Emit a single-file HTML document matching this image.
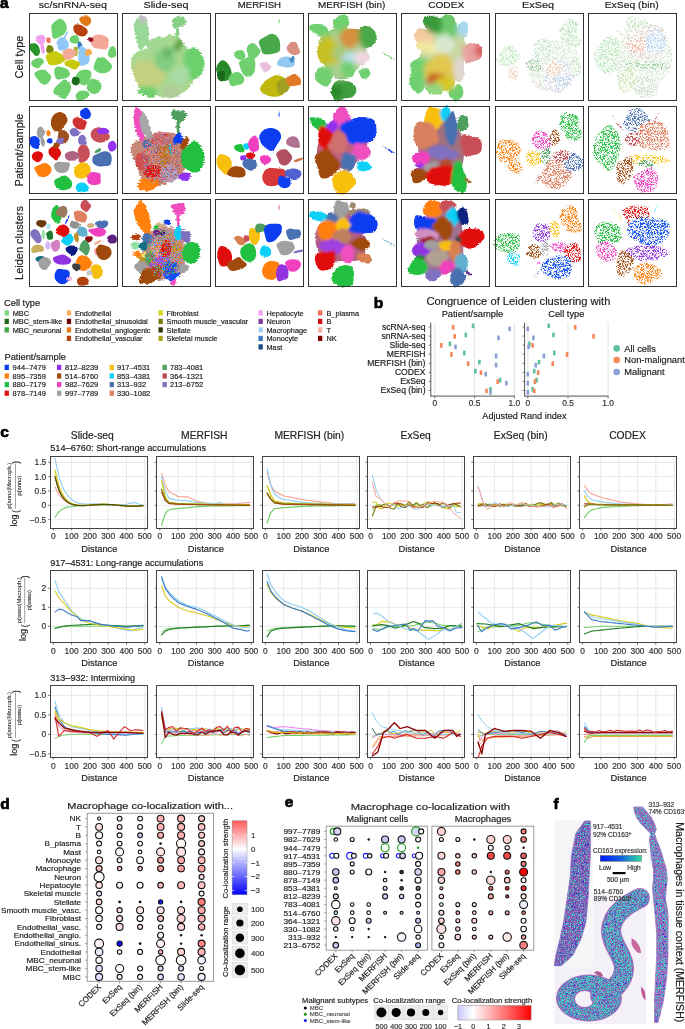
<!DOCTYPE html>
<html><head><meta charset="utf-8"><title>Figure</title>
<style>html,body{margin:0;padding:0;background:#fff;width:685px;height:1029px;overflow:hidden}svg{display:block;will-change:transform}text{font-family:"Liberation Sans", sans-serif}</style></head>
<body><svg width="685" height="1029" viewBox="0 0 685 1029" font-family="Liberation Sans, sans-serif">
<rect width="685" height="1029" fill="#fff"/>
<text x="0.0" y="7.9" font-size="15.5" font-weight="bold" fill="#000" stroke="#000" stroke-width="0.7">a</text>
<text x="72.8" y="8.2" font-size="9.8" text-anchor="middle" textLength="68" lengthAdjust="spacingAndGlyphs" fill="#222" stroke="#222" stroke-width="0.18">sc/snRNA-seq</text>
<text x="166.0" y="8.2" font-size="9.8" text-anchor="middle" textLength="45" lengthAdjust="spacingAndGlyphs" fill="#222" stroke="#222" stroke-width="0.18">Slide-seq</text>
<text x="259.4" y="8.2" font-size="9.8" text-anchor="middle" textLength="43.4" lengthAdjust="spacingAndGlyphs" fill="#222" stroke="#222" stroke-width="0.18">MERFISH</text>
<text x="351.7" y="8.2" font-size="9.8" text-anchor="middle" textLength="67.4" lengthAdjust="spacingAndGlyphs" fill="#222" stroke="#222" stroke-width="0.18">MERFISH (bin)</text>
<text x="446.2" y="8.2" font-size="9.8" text-anchor="middle" textLength="36" lengthAdjust="spacingAndGlyphs" fill="#222" stroke="#222" stroke-width="0.18">CODEX</text>
<text x="538.0" y="8.2" font-size="9.8" text-anchor="middle" textLength="32" lengthAdjust="spacingAndGlyphs" fill="#222" stroke="#222" stroke-width="0.18">ExSeq</text>
<text x="631.7" y="8.2" font-size="9.8" text-anchor="middle" textLength="54" lengthAdjust="spacingAndGlyphs" fill="#222" stroke="#222" stroke-width="0.18">ExSeq (bin)</text>
<text x="23.3" y="57.0" font-size="11" text-anchor="middle" textLength="42.8" lengthAdjust="spacingAndGlyphs" transform="rotate(-90 23.3 57.0)" fill="#222" stroke="#222" stroke-width="0.18">Cell type</text>
<text x="23.3" y="150.0" font-size="11" text-anchor="middle" textLength="72.8" lengthAdjust="spacingAndGlyphs" transform="rotate(-90 23.3 150.0)" fill="#222" stroke="#222" stroke-width="0.18">Patient/sample</text>
<text x="23.3" y="243.0" font-size="11" text-anchor="middle" textLength="74.0" lengthAdjust="spacingAndGlyphs" transform="rotate(-90 23.3 243.0)" fill="#222" stroke="#222" stroke-width="0.18">Leiden clusters</text>
<defs><filter id="rough" x="-5%" y="-5%" width="110%" height="110%"><feTurbulence type="fractalNoise" baseFrequency="0.45" numOctaves="2" seed="3" result="n"/><feDisplacementMap in="SourceGraphic" in2="n" scale="2.0" xChannelSelector="R" yChannelSelector="G"/></filter><filter id="soft" x="-5%" y="-5%" width="110%" height="110%"><feTurbulence type="fractalNoise" baseFrequency="0.5" numOctaves="2" seed="5" result="n"/><feDisplacementMap in="SourceGraphic" in2="n" scale="3.0" xChannelSelector="R" yChannelSelector="G" result="d"/><feGaussianBlur in="d" stdDeviation="0.5"/></filter><filter id="speck" x="-5%" y="-5%" width="110%" height="110%"><feTurbulence type="fractalNoise" baseFrequency="0.4" numOctaves="2" seed="4" result="n2"/><feDisplacementMap in="SourceGraphic" in2="n2" scale="3" xChannelSelector="R" yChannelSelector="G" result="d"/><feTurbulence type="fractalNoise" baseFrequency="1.7" numOctaves="1" seed="9" result="n"/><feColorMatrix in="n" type="matrix" values="0 0 0 0 0  0 0 0 0 0  0 0 0 0 0  0 0 0 -8 4.3" result="m"/><feComposite in="d" in2="m" operator="in"/></filter><filter id="spiky" x="-5%" y="-5%" width="110%" height="110%"><feTurbulence type="fractalNoise" baseFrequency="0.25 0.9" numOctaves="2" seed="7" result="n"/><feDisplacementMap in="SourceGraphic" in2="n" scale="4.5" xChannelSelector="R" yChannelSelector="G" result="d"/><feGaussianBlur in="d" stdDeviation="0.35"/></filter><filter id="blend" x="-5%" y="-5%" width="110%" height="110%"><feTurbulence type="fractalNoise" baseFrequency="0.45" numOctaves="2" seed="5" result="n"/><feDisplacementMap in="SourceGraphic" in2="n" scale="3" xChannelSelector="R" yChannelSelector="G" result="d"/><feGaussianBlur in="d" stdDeviation="2.6" result="b"/><feColorMatrix in="b" type="matrix" values="1 0 0 0 0  0 1 0 0 0  0 0 1 0 0  0 0 0 30 0" result="b2"/><feComposite in="b2" in2="d" operator="in"/></filter><filter id="sblend" x="-5%" y="-5%" width="110%" height="110%"><feTurbulence type="fractalNoise" baseFrequency="0.25 0.9" numOctaves="2" seed="7" result="n"/><feDisplacementMap in="SourceGraphic" in2="n" scale="4.5" xChannelSelector="R" yChannelSelector="G" result="d"/><feGaussianBlur in="d" stdDeviation="2.0" result="b"/><feColorMatrix in="b" type="matrix" values="1 0 0 0 0  0 1 0 0 0  0 0 1 0 0  0 0 0 30 0" result="b2"/><feComposite in="b2" in2="d" operator="in"/></filter><filter id="blend2" x="-5%" y="-5%" width="110%" height="110%"><feTurbulence type="fractalNoise" baseFrequency="0.45" numOctaves="2" seed="5" result="n"/><feDisplacementMap in="SourceGraphic" in2="n" scale="3" xChannelSelector="R" yChannelSelector="G" result="d"/><feGaussianBlur in="d" stdDeviation="1.1" result="b"/><feColorMatrix in="b" type="matrix" values="1 0 0 0 0  0 1 0 0 0  0 0 1 0 0  0 0 0 30 0" result="b2"/><feComposite in="b2" in2="d" operator="in"/></filter><filter id="mk0" x="-5%" y="-5%" width="110%" height="110%"><feTurbulence type="fractalNoise" baseFrequency="1.6" numOctaves="1" seed="40" result="n"/><feColorMatrix in="n" type="matrix" values="0 0 0 0 0  0 0 0 0 0  0 0 0 0 0  0 0 0 -9 3.9" result="m"/><feComposite in="SourceGraphic" in2="m" operator="in"/></filter><filter id="mk1" x="-5%" y="-5%" width="110%" height="110%"><feTurbulence type="fractalNoise" baseFrequency="1.6" numOctaves="1" seed="41" result="n"/><feColorMatrix in="n" type="matrix" values="0 0 0 0 0  0 0 0 0 0  0 0 0 0 0  0 0 0 -9 3.9" result="m"/><feComposite in="SourceGraphic" in2="m" operator="in"/></filter><filter id="mk2" x="-5%" y="-5%" width="110%" height="110%"><feTurbulence type="fractalNoise" baseFrequency="1.6" numOctaves="1" seed="42" result="n"/><feColorMatrix in="n" type="matrix" values="0 0 0 0 0  0 0 0 0 0  0 0 0 0 0  0 0 0 -9 3.7" result="m"/><feComposite in="SourceGraphic" in2="m" operator="in"/></filter><filter id="mk3" x="-5%" y="-5%" width="110%" height="110%"><feTurbulence type="fractalNoise" baseFrequency="1.6" numOctaves="1" seed="43" result="n"/><feColorMatrix in="n" type="matrix" values="0 0 0 0 0  0 0 0 0 0  0 0 0 0 0  0 0 0 -9 3.7" result="m"/><feComposite in="SourceGraphic" in2="m" operator="in"/></filter><filter id="mk4" x="-5%" y="-5%" width="110%" height="110%"><feTurbulence type="fractalNoise" baseFrequency="1.6" numOctaves="1" seed="44" result="n"/><feColorMatrix in="n" type="matrix" values="0 0 0 0 0  0 0 0 0 0  0 0 0 0 0  0 0 0 -9 3.6" result="m"/><feComposite in="SourceGraphic" in2="m" operator="in"/></filter></defs>
<g filter="url(#rough)" transform="translate(29 13.5)">
<path d="M37.5,11.8Q38.4,14.9 37.1,17.7Q35.8,20.4 33.5,21.7Q31.2,23 27.5,24.7Q23.8,26.4 23.2,22.1Q22.7,17.8 22.3,14.8Q22,11.8 24,9.7Q26,7.5 28.8,5.9Q31.6,4.2 34.1,6.5Q36.6,8.8 37.5,11.8Z" fill="#6cd06c"/>
<path d="M61.8,5.3Q62.8,7.1 61.9,9.1Q60.9,11 59.2,12.1Q57.5,13.2 55.9,12.3Q54.2,11.4 52.7,10.3Q51.3,9.2 50.4,6.8Q49.6,4.5 51.8,3.5Q53.9,2.4 55.7,2Q57.5,1.5 59.1,2.5Q60.7,3.4 61.8,5.3Z" fill="#e07818"/>
<path d="M58.7,17.6Q58.9,19.6 57.6,21.2Q56.3,22.9 53.5,22.9Q50.7,23 48.3,21.5Q45.9,20 45.1,18.1Q44.2,16.2 44.3,14.1Q44.3,12.1 46.6,11.1Q48.9,10.1 51.5,11.5Q54.1,12.8 56.3,14.2Q58.5,15.6 58.7,17.6Z" fill="#b8400a"/>
<path d="M79.7,27.4Q79.3,30.1 79.2,33.1Q79,36.1 75.1,35.9Q71.2,35.7 67.9,35Q64.6,34.4 62.8,31.9Q61.1,29.5 61.5,26.9Q61.9,24.3 64.3,22.4Q66.7,20.5 70.3,21Q73.8,21.4 77,23.1Q80.1,24.7 79.7,27.4Z" fill="#f4a898"/>
<path d="M64.2,25.3Q64.3,26 64.3,26.8Q64.4,27.6 63.3,27.9Q62.3,28.3 61.1,28.2Q59.9,28.2 59.8,27.4Q59.7,26.5 59.2,25.9Q58.7,25.2 59.2,24.4Q59.8,23.6 61,23.8Q62.2,24 63.1,24.3Q64.1,24.5 64.2,25.3Z" fill="#901020"/>
<path d="M87,37.3Q87.2,39 87.3,40.9Q87.4,42.9 85.7,43.6Q84,44.4 82.2,44.3Q80.4,44.2 79.4,42.5Q78.5,40.8 78.8,39.1Q79.2,37.4 80,36Q80.8,34.5 82.6,33.2Q84.3,31.8 85.6,33.7Q86.8,35.6 87,37.3Z" fill="#6cd06c"/>
<path d="M15.9,24Q16.4,26 15.9,27.9Q15.4,29.9 13.9,30.6Q12.5,31.4 11,31Q9.6,30.6 8.5,29.3Q7.5,27.9 6.9,25.7Q6.2,23.5 8,22.6Q9.7,21.6 11,21.4Q12.4,21.2 13.9,21.6Q15.5,22 15.9,24Z" fill="#f0a0f0"/>
<path d="M15,33Q15.5,34.8 15.7,37Q16,39.2 15.3,39.7Q14.7,40.2 14,40.2Q13.4,40.1 12.7,38.7Q12.1,37.3 11.7,35.2Q11.3,33.2 11.6,31.7Q12,30.2 12.6,29.6Q13.2,29.1 13.9,30.2Q14.6,31.3 15,33Z" fill="#f0a0f0"/>
<path d="M21.7,25.4Q21.8,26.6 21.5,27.5Q21.1,28.5 20.5,29.3Q19.9,30.1 19.2,29.6Q18.5,29.1 17.8,28.4Q17.2,27.8 17.3,26.7Q17.4,25.6 17.8,24.6Q18.2,23.6 19,23.9Q19.8,24.2 20.7,24.2Q21.6,24.2 21.7,25.4Z" fill="#f07060"/>
<path d="M8.8,31.6Q10.3,33.7 10.8,36Q11.2,38.4 10.5,40.2Q9.7,42 8,42.5Q6.3,43 4.9,41Q3.4,39 1.7,37.2Q-0,35.4 0,32.8Q0,30.2 2,30Q3.9,29.8 5.6,29.7Q7.3,29.6 8.8,31.6Z" fill="#2a962a"/>
<path d="M39.2,28.6Q40.1,30.5 39.7,32.8Q39.3,35.1 37.1,36Q34.9,36.8 32.3,37.1Q29.8,37.5 29.2,34.9Q28.7,32.4 28,30.3Q27.4,28.2 28.7,26.2Q30.1,24.1 32.6,23.8Q35,23.4 36.7,25.1Q38.3,26.7 39.2,28.6Z" fill="#90c8f8"/>
<path d="M38.8,19.5Q37.6,21.7 36.9,23.2Q36.2,24.7 35.4,25.8Q34.6,26.9 34.7,26.2Q34.7,25.4 34.9,24.3Q35.1,23.2 36.1,21.3Q37.1,19.4 37.8,18.3Q38.5,17.3 38.9,17.1Q39.3,17 39.6,17.2Q39.9,17.4 38.8,19.5Z" fill="#90c8f8"/>
<path d="M49.8,24.5Q50.2,26 50.2,27.8Q50.3,29.6 48.3,29.9Q46.3,30.1 44.7,29.9Q43.1,29.6 41.7,28.7Q40.3,27.7 40.5,26.1Q40.8,24.5 41.9,23.3Q42.9,22.1 44.7,21.8Q46.4,21.4 47.9,22.2Q49.4,23 49.8,24.5Z" fill="#6cd06c"/>
<path d="M24.3,34.3Q25,35.7 24.5,37.4Q23.9,39 22.6,39.2Q21.3,39.3 20.1,39.5Q19,39.6 17.9,38.6Q16.8,37.5 17.1,35.9Q17.5,34.2 18.1,32.9Q18.8,31.5 20.1,31.6Q21.4,31.7 22.5,32.2Q23.6,32.8 24.3,34.3Z" fill="#7a8a10"/>
<path d="M35.4,43Q38.7,44.8 36.2,47.1Q33.7,49.3 30.7,50.4Q27.7,51.6 23.8,51.8Q20,52.1 18.9,49.5Q17.9,46.9 16.9,44.6Q16,42.3 18.5,40.5Q20.9,38.7 24.4,37.9Q27.9,37.2 30,39.2Q32.1,41.3 35.4,43Z" fill="#c8c810"/>
<path d="M48.7,35.7Q48.6,37.7 48.6,39.4Q48.6,41.2 47.9,42.1Q47.2,42.9 46.4,42.5Q45.7,42 45.2,40.7Q44.8,39.3 44.6,37.5Q44.4,35.8 45,34.4Q45.6,33 46.3,33.2Q47.1,33.3 48,33.5Q48.9,33.7 48.7,35.7Z" fill="#a8b020"/>
<path d="M46.1,36.3Q48.3,37.4 47.6,39.6Q46.8,41.9 45,43.4Q43.2,44.9 40.9,45.8Q38.5,46.6 36.4,45.7Q34.2,44.7 33.7,42.7Q33.1,40.7 33.9,38.6Q34.7,36.4 37.1,35.6Q39.5,34.8 41.7,35Q43.9,35.2 46.1,36.3Z" fill="#f4a898"/>
<path d="M52.9,30.8Q53.6,31.8 53,33Q52.5,34.1 51.8,34.7Q51.1,35.3 50.1,35.5Q49.1,35.7 48.8,34.4Q48.5,33 48.5,31.8Q48.5,30.7 48.9,29.5Q49.3,28.3 50.2,28Q51.2,27.6 51.8,28.7Q52.3,29.8 52.9,30.8Z" fill="#3a7ac0"/>
<path d="M59.9,40.1Q60.9,42.9 60.5,46.5Q60.1,50.1 57.8,50.7Q55.5,51.2 53.1,52.3Q50.7,53.3 49.9,49.6Q49.1,46 49.2,42.9Q49.3,39.9 49.8,35.7Q50.4,31.6 53,32.8Q55.6,33.9 57.2,35.6Q58.9,37.3 59.9,40.1Z" fill="#90c8f8"/>
<path d="M62.8,37.8Q63.2,39 62.8,40.2Q62.3,41.4 61.2,41.5Q60,41.7 58.5,42.4Q57,43.2 56.7,41.7Q56.4,40.1 56.2,38.9Q56,37.7 56.9,36.8Q57.7,35.9 59,35.4Q60.2,34.9 61.3,35.7Q62.3,36.6 62.8,37.8Z" fill="#fca850"/>
<path d="M50.6,49Q51.9,50.7 50.5,52.3Q49.1,53.9 47.1,55.4Q45.1,56.8 43,55.3Q41,53.8 38.7,53.1Q36.3,52.5 35.6,50.5Q34.9,48.5 37.2,47.2Q39.5,45.8 42,46.1Q44.6,46.4 46.9,46.9Q49.2,47.4 50.6,49Z" fill="#c8c810"/>
<path d="M14.8,47.5Q15.3,49.4 13.6,50.5Q12,51.7 10.9,53.6Q9.8,55.6 7.5,54.7Q5.2,53.7 3.6,52.5Q1.9,51.2 2.1,49.4Q2.3,47.6 4,46.7Q5.7,45.7 7.7,44.8Q9.7,43.9 12,44.7Q14.3,45.5 14.8,47.5Z" fill="#6cd06c"/>
<path d="M81.6,49.7Q83.9,52 82.5,55Q81.1,58.1 78,59Q74.9,60 71.9,59.7Q68.9,59.4 66.4,57.3Q63.9,55.2 64.9,52.3Q65.9,49.4 67.1,46.5Q68.2,43.6 71.6,43.5Q75,43.3 77.1,45.4Q79.2,47.4 81.6,49.7Z" fill="#6cd06c"/>
<path d="M21.3,61.2Q23.2,63 22,65.3Q20.8,67.6 18.5,70Q16.2,72.3 13.3,70.5Q10.4,68.7 9.3,66.8Q8.2,64.9 6.1,62.4Q4.1,59.9 7,58.2Q9.8,56.5 12.9,56Q15.9,55.5 17.6,57.4Q19.4,59.4 21.3,61.2Z" fill="#6cd06c"/>
<path d="M40.2,57.8Q41.6,59.8 40.7,62.1Q39.9,64.4 36.8,64.8Q33.8,65.3 30.5,65.9Q27.3,66.5 26.5,64Q25.7,61.6 25.2,59.6Q24.7,57.7 25.8,55.2Q27,52.7 30.5,53.2Q33.9,53.6 36.4,54.7Q38.9,55.8 40.2,57.8Z" fill="#6cd06c"/>
<path d="M62.5,60.6Q62.5,63.7 61.1,65.6Q59.7,67.5 58,70.3Q56.4,73.1 53.4,71.6Q50.4,70.2 48,68.4Q45.5,66.6 46.3,63.9Q47,61.2 48.7,59.2Q50.4,57.1 53.3,56.4Q56.1,55.6 59.4,56.6Q62.6,57.6 62.5,60.6Z" fill="#6cd06c"/>
<path d="M50.6,65.9Q50.7,67.6 50.4,69.1Q50.1,70.6 48.9,71.5Q47.6,72.5 46.2,71.8Q44.9,71.1 43.6,70.2Q42.4,69.3 42.6,67.7Q42.9,66.1 43.6,64.6Q44.3,63.1 45.9,63.3Q47.4,63.6 48.9,63.9Q50.4,64.3 50.6,65.9Z" fill="#1a6a1a"/>
<path d="M72,70.3Q73.2,72.8 72.1,75.3Q71,77.8 68.7,79.5Q66.4,81.1 63.7,80.3Q61,79.6 59.2,77.5Q57.5,75.5 57.8,72.9Q58.2,70.3 59.4,67.8Q60.6,65.2 63.4,65.3Q66.3,65.4 68.5,66.7Q70.7,67.9 72,70.3Z" fill="#6cd06c"/>
<path d="M42,73Q42.7,76 41.1,78.3Q39.5,80.5 37.7,83.7Q35.8,86.8 32.7,84.7Q29.7,82.7 26.5,81.1Q23.4,79.6 24.7,76.5Q26,73.3 28.1,71.8Q30.2,70.2 33.1,67.3Q35.9,64.5 38.6,67.3Q41.3,70 42,73Z" fill="#6cd06c"/>
<path d="M60.3,80Q61,81.9 59.4,83.2Q57.9,84.5 56.2,85.6Q54.5,86.7 51.5,87.1Q48.6,87.5 47.4,85.6Q46.3,83.6 46.7,82Q47.2,80.3 48.4,78.9Q49.6,77.5 52.1,77.2Q54.5,76.9 57.1,77.5Q59.7,78.1 60.3,80Z" fill="#6cd06c"/>
</g>
<g filter="url(#sblend)" transform="translate(122.2 13.5)">
<path d="M71.4,44.3Q76.4,54.6 72.1,65.5Q67.8,76.5 57.9,80.5Q47.9,84.5 37.8,83.3Q27.6,82.2 19.8,74.3Q12,66.3 9.3,53.5Q6.6,40.7 18.8,36.9Q31,33 40.1,25Q49.2,17.1 57.8,25.5Q66.3,34 71.4,44.3Z" fill="#a8d890"/>
<path d="M25.5,9.8Q27.1,17.1 26.8,23.3Q26.5,29.5 24.4,30.7Q22.3,31.9 20.1,36.2Q17.9,40.4 16.1,32.8Q14.2,25.1 12.5,18.4Q10.9,11.8 12.8,8.5Q14.8,5.2 16.5,2.9Q18.2,0.7 21.1,1.6Q23.9,2.5 25.5,9.8Z" fill="#98d898"/>
<path d="M22.6,3.6Q22.7,5.7 22.6,7.2Q22.5,8.8 22,9.8Q21.6,10.8 20.8,11.1Q20,11.4 19.5,9.6Q18.9,7.9 18.8,6.1Q18.7,4.3 19.1,3.1Q19.5,1.8 20.1,1.6Q20.7,1.3 21.6,1.4Q22.4,1.5 22.6,3.6Z" fill="#e8a0e8"/>
<path d="M63.3,6.3Q64.5,8.4 63.2,10.4Q61.8,12.4 59.6,12.8Q57.4,13.1 54.4,14.7Q51.5,16.3 50.7,13.5Q49.9,10.6 49.9,8.5Q50,6.3 51.6,4.8Q53.2,3.3 55.6,2.3Q57.9,1.3 60,2.8Q62.1,4.2 63.3,6.3Z" fill="#88d088"/>
<path d="M56.8,17.8Q56.6,20.8 56.5,23Q56.5,25.2 56,27.3Q55.6,29.4 55,28.2Q54.3,27.1 54,25.2Q53.6,23.2 53.5,20.7Q53.5,18.2 53.9,16.5Q54.4,14.8 55,13.9Q55.5,13.1 56.2,14Q56.9,14.8 56.8,17.8Z" fill="#88d088"/>
<path d="M60.4,31Q60.1,33.2 59,34.5Q57.9,35.7 56.7,37.6Q55.6,39.5 54,38.6Q52.5,37.6 52,35.7Q51.5,33.7 52,31.9Q52.5,30 53.5,28.5Q54.6,27 56.2,26.8Q57.7,26.6 59.2,27.6Q60.7,28.7 60.4,31Z" fill="#5aa040"/>
<path d="M81.1,44.4Q83.3,49.4 81.6,55.1Q80,60.8 76.7,63.4Q73.3,66 69.3,66.1Q65.3,66.3 64.5,60.1Q63.6,53.9 61.5,48.2Q59.5,42.4 62.9,38.8Q66.3,35.2 69.8,34.1Q73.3,33 76.1,36.3Q78.9,39.5 81.1,44.4Z" fill="#6cd06c"/>
<path d="M43,54.8Q43.8,61.1 41.4,66Q39,70.9 34.6,74.1Q30.1,77.3 24.5,76.5Q18.8,75.8 15.8,71.1Q12.7,66.4 11,60.4Q9.3,54.5 13.8,50Q18.2,45.4 23.8,47.2Q29.4,49 35.8,48.8Q42.2,48.5 43,54.8Z" fill="#c4d080"/>
<path d="M34.7,75.9Q34.9,78 35.1,80.2Q35.3,82.4 31.8,83.8Q28.2,85.1 25.3,83.3Q22.4,81.5 19,80.8Q15.5,80.1 15.4,77.9Q15.4,75.7 17.7,73.9Q20,72.1 23.8,72.5Q27.5,73 31,73.4Q34.6,73.8 34.7,75.9Z" fill="#70d070"/>
<path d="M52.5,42.4Q54.8,45.5 52.8,48.8Q50.8,52.1 48,55.7Q45.3,59.4 41.1,57.7Q36.8,56 34.5,52.7Q32.1,49.4 32.2,45.5Q32.2,41.6 34.3,38Q36.5,34.4 40.9,33.1Q45.3,31.8 47.7,35.6Q50.1,39.4 52.5,42.4Z" fill="#80cc80"/>
<path d="M57.1,75.6Q58,78 57.4,80.5Q56.8,83.1 53.7,83.7Q50.7,84.3 47.5,84.8Q44.3,85.3 42.2,83Q40.1,80.8 41.3,78.3Q42.4,75.8 43.7,73.8Q45,71.7 48.1,70.7Q51.1,69.7 53.7,71.4Q56.2,73.2 57.1,75.6Z" fill="#b0cc98"/>
<path d="M67.6,59.1Q67.6,62.4 66.3,64.7Q65,67.1 62.8,69.8Q60.5,72.4 57.1,70.9Q53.7,69.4 50.2,67.7Q46.7,66 48.4,62.9Q50.2,59.8 51.8,57.4Q53.5,55 56.9,54.4Q60.2,53.8 63.9,54.8Q67.5,55.9 67.6,59.1Z" fill="#a8dca8"/>
<path d="M44.8,29.1Q46.5,31.2 45.9,33.9Q45.3,36.5 41.2,37.6Q37.2,38.7 33.1,38.2Q29,37.8 26.9,35.7Q24.7,33.5 23.8,31Q22.9,28.4 26.3,26.9Q29.7,25.4 33.7,23.8Q37.6,22.2 40.4,24.6Q43.1,27 44.8,29.1Z" fill="#a0d890"/>
<path d="M51.4,36.7Q51.8,39 50.4,40.5Q49.1,42 47.8,43.4Q46.5,44.7 44.3,44.8Q42.1,44.8 41.2,42.8Q40.3,40.9 39.8,38.8Q39.4,36.8 41,35.5Q42.7,34.2 44.6,33.8Q46.4,33.5 48.7,34Q50.9,34.4 51.4,36.7Z" fill="#68b868"/>
</g>
<g filter="url(#rough)" transform="translate(215.4 13.5)">
<path d="M13.9,52.3Q15.6,55.3 16.3,59.1Q16.9,62.9 14.7,65Q12.5,67.1 9.7,67.5Q6.9,67.9 4.8,65.1Q2.7,62.2 1.3,58.8Q-0.1,55.4 1.3,52.6Q2.7,49.8 4.8,47.8Q6.9,45.7 9.6,47.5Q12.3,49.3 13.9,52.3Z" fill="#2a8a2a"/>
<path d="M9.6,60.1Q9.3,62.4 9.4,64.4Q9.5,66.4 8,67.2Q6.6,68 5.2,67.6Q3.8,67.2 2.9,65.7Q2,64.2 1.6,62.2Q1.2,60.1 2.5,58.8Q3.7,57.5 5.1,57.4Q6.5,57.4 8.2,57.6Q10,57.8 9.6,60.1Z" fill="#1a6a1a"/>
<path d="M28.3,63.4Q29.4,65.6 28.5,68Q27.6,70.4 24.8,71.1Q22.1,71.8 18.8,72.6Q15.4,73.3 14.3,70.6Q13.2,67.9 13.2,65.6Q13.1,63.3 14.9,61.5Q16.7,59.7 19.5,58.8Q22.4,58 24.8,59.6Q27.2,61.2 28.3,63.4Z" fill="#6cd06c"/>
<path d="M39.9,49.4Q40,53.3 39.5,56.7Q39,60.1 36.5,61.8Q33.9,63.4 31,63.1Q28.1,62.8 26.9,59.6Q25.8,56.3 24,52.4Q22.1,48.5 25.6,47.3Q29.2,46.1 31.6,44.1Q34.1,42 36.9,43.8Q39.8,45.6 39.9,49.4Z" fill="#70d070"/>
<path d="M44.2,35.5Q46.4,37.7 44.4,40.1Q42.4,42.5 40.7,44.2Q38.9,45.9 36.3,45.8Q33.8,45.7 32.9,42.9Q32.1,40.1 31.4,37.4Q30.7,34.6 32.4,32.4Q34,30.1 36.5,29.7Q38.9,29.2 40.5,31.2Q42.1,33.3 44.2,35.5Z" fill="#70d070"/>
<path d="M30,41.9Q30.1,43.5 29.3,45.1Q28.6,46.7 26.3,46.8Q24,46.8 22.2,45.6Q20.3,44.4 19.2,42.8Q18.1,41.1 18.9,39.6Q19.8,38.1 21.5,37.3Q23.2,36.5 25.5,36.6Q27.8,36.7 28.8,38.5Q29.9,40.4 30,41.9Z" fill="#70d070"/>
<path d="M64.4,27.9Q64.8,31.2 64.8,34.7Q64.9,38.3 60.7,39.4Q56.6,40.5 51.9,41Q47.3,41.5 46.2,37.8Q45.1,34 43.8,30.8Q42.4,27.5 45.8,25.5Q49.1,23.4 53.1,21.2Q57.2,19 60.6,21.8Q64,24.7 64.4,27.9Z" fill="#48a848"/>
<path d="M55.2,52Q56.8,53.3 55.5,54.8Q54.3,56.4 52.7,57.5Q51.1,58.7 49.1,58.1Q47.2,57.6 46.7,56Q46.2,54.5 44.8,52.8Q43.3,51.1 45.1,49.8Q46.9,48.5 48.9,48.4Q51,48.4 52.3,49.5Q53.6,50.7 55.2,52Z" fill="#e8c0e0"/>
<path d="M84.1,35.9Q85.8,38 84,39.8Q82.3,41.7 79.6,41.7Q76.9,41.7 75,40.3Q73.1,38.8 71.8,36.8Q70.6,34.8 71.6,32.9Q72.7,30.9 74.5,29.4Q76.3,27.8 79,28.3Q81.7,28.8 82,31.3Q82.3,33.8 84.1,35.9Z" fill="#d89080"/>
<path d="M78.7,46.7Q80.3,48.7 79.3,51.1Q78.4,53.5 75.2,53.8Q72.1,54.2 69.6,53.8Q67.2,53.4 64.2,52.4Q61.2,51.4 61.9,48.9Q62.6,46.5 64.6,44.9Q66.7,43.4 69.5,43Q72.2,42.7 74.7,43.7Q77.1,44.8 78.7,46.7Z" fill="#90c8f0"/>
<path d="M79.3,45Q79.1,46.1 78.8,46.9Q78.5,47.7 77.9,48.4Q77.2,49.2 76.1,49.1Q75,49.1 74.7,48Q74.4,46.9 74.1,46Q73.8,45.1 74.6,44.6Q75.5,44.1 76.3,43.7Q77.1,43.4 78.3,43.6Q79.5,43.8 79.3,45Z" fill="#4a8ac8"/>
<path d="M73.3,69.2Q75.7,72.8 72.9,76.1Q70.1,79.4 66.2,81.7Q62.4,83.9 57.4,83.2Q52.4,82.5 47.9,79.9Q43.4,77.3 45.2,73.3Q47,69.2 50.3,66.9Q53.5,64.5 58.1,62.4Q62.7,60.2 66.7,63Q70.8,65.7 73.3,69.2Z" fill="#c0b810"/>
<path d="M73.6,70.2Q74.6,72.8 73.6,75.3Q72.6,77.8 70.6,79Q68.6,80.1 66,80.9Q63.3,81.7 62.5,78.5Q61.7,75.3 61.1,72.5Q60.4,69.6 62.4,67.9Q64.4,66.1 66.7,64.7Q69,63.2 70.8,65.4Q72.7,67.6 73.6,70.2Z" fill="#a0a020"/>
<path d="M84.9,64.9Q85.6,66.9 85.6,69.3Q85.5,71.7 82.4,72Q79.2,72.3 76.2,72.7Q73.2,73.1 72,71Q70.8,68.9 70.3,66.8Q69.9,64.7 72,63.4Q74.2,62 76.9,60.9Q79.6,59.9 81.9,61.4Q84.2,63 84.9,64.9Z" fill="#e07828"/>
<path d="M64.2,6.7Q64.3,7.8 64.2,8.6Q64,9.4 63.9,9.9Q63.8,10.5 63.6,10.3Q63.4,10.2 63.2,9.5Q63.1,8.9 63.1,7.8Q63.1,6.7 63.3,6.4Q63.5,6 63.6,5.5Q63.8,5 64,5.3Q64.2,5.7 64.2,6.7Z" fill="#70d070"/>
</g>
<g filter="url(#blend)" transform="translate(308.6 13.5)">
<path d="M54.8,31.4Q62.1,39 55.8,47.5Q49.4,56 43,61.7Q36.6,67.3 28.8,65.2Q20.9,63.1 17.4,55.1Q13.9,47.1 10.7,37.6Q7.6,28.1 14.1,21.3Q20.7,14.6 28.3,15.1Q35.9,15.6 41.7,19.7Q47.5,23.8 54.8,31.4Z" fill="#b0d090"/>
<path d="M40.7,6.8Q41.6,10.4 39.4,12.7Q37.2,15.1 35.7,18.6Q34.2,22.1 31.1,20.9Q27.9,19.7 26.3,16.7Q24.7,13.7 24.4,10.2Q24,6.7 26.6,5.1Q29.1,3.5 31.6,1.5Q34.1,-0.4 37,1.4Q39.8,3.1 40.7,6.8Z" fill="#70d070"/>
<path d="M21.8,18.8Q24,21.4 21.5,22.7Q19,24 15.3,23.7Q11.5,23.5 8.5,21.5Q5.6,19.5 2.8,17.2Q0,15 0.9,13Q1.7,10.9 5,10.6Q8.3,10.2 12.2,10.7Q16.2,11.2 17.9,13.8Q19.6,16.3 21.8,18.8Z" fill="#70d070"/>
<path d="M53.6,20.3Q53.6,24.7 51.2,27.4Q48.9,30 46.4,33.1Q43.9,36.2 39.4,35.5Q34.9,34.7 33,31.4Q31,28.1 30.9,24.7Q30.8,21.3 33.1,18.2Q35.3,15.2 39.4,15.1Q43.5,15.1 48.6,15.4Q53.6,15.8 53.6,20.3Z" fill="#d89040"/>
<path d="M67.2,19.5Q69,23.4 67.3,27.3Q65.5,31.3 62.8,33.2Q60,35.1 56.8,34.8Q53.7,34.5 52.1,30.9Q50.6,27.2 49.7,23Q48.9,18.8 51.2,15.3Q53.4,11.8 56.7,12.3Q59.9,12.9 62.6,14.3Q65.3,15.7 67.2,19.5Z" fill="#4aa848"/>
<path d="M29.3,33.2Q31.1,37.7 30.5,43.5Q29.9,49.3 25.6,50.4Q21.3,51.4 17.5,51.3Q13.6,51.2 11,47.1Q8.3,43.1 8.5,37.8Q8.6,32.4 11.1,28.2Q13.5,24 17.6,22.6Q21.7,21.2 24.6,25Q27.5,28.7 29.3,33.2Z" fill="#c8c020"/>
<path d="M41.4,36Q43.2,39 41.1,41.7Q39.1,44.5 36.7,46.9Q34.3,49.4 31.4,47.6Q28.6,45.8 25.4,44.2Q22.3,42.7 23,39.2Q23.7,35.8 25.7,33.3Q27.8,30.8 30.9,30.7Q34,30.5 36.8,31.8Q39.6,33 41.4,36Z" fill="#a8c878"/>
<path d="M51.9,42.5Q55.1,44.2 52.7,46.2Q50.2,48.3 47.3,48.9Q44.3,49.6 41.6,49.2Q38.9,48.8 35.2,47.9Q31.6,46.9 33.1,44.5Q34.6,42.2 36.3,40.4Q38,38.6 41.2,38.6Q44.3,38.6 46.5,39.8Q48.8,40.9 51.9,42.5Z" fill="#b8e0e8"/>
<path d="M60.9,42Q62.1,44.2 60.5,46.1Q58.8,48 57,50.4Q55.1,52.9 52.2,51.3Q49.3,49.8 47.1,48.2Q44.8,46.7 45.5,44.4Q46.2,42.1 47.4,39.8Q48.5,37.5 51.7,37.3Q54.8,37.2 57.2,38.5Q59.6,39.8 60.9,42Z" fill="#f0d8e0"/>
<path d="M24.2,58.3Q24.5,62.4 23.4,65.7Q22.4,69 19.9,71.7Q17.4,74.4 14.5,72.5Q11.5,70.6 8.8,68.5Q6.1,66.4 6.2,62.4Q6.3,58.4 8.7,55.8Q11,53.1 14,53.3Q16.9,53.4 20.4,53.9Q23.8,54.3 24.2,58.3Z" fill="#70d070"/>
<path d="M45.6,53.3Q46.1,55.9 46.2,58.9Q46.3,62 43.4,63.2Q40.5,64.3 37.6,63.8Q34.7,63.3 32.7,61.1Q30.7,58.9 31.3,56.1Q32,53.3 33.2,50.6Q34.3,47.8 37.5,47.3Q40.6,46.9 42.9,48.8Q45.2,50.7 45.6,53.3Z" fill="#70d070"/>
<path d="M61.4,57.8Q61.7,59.8 61.1,61.5Q60.5,63.2 58.8,64.4Q57.1,65.6 54.8,65.3Q52.5,64.9 52.1,63Q51.7,61.1 50.3,59.3Q48.9,57.6 51,56.5Q53,55.5 55,54.7Q57.1,53.9 59.1,54.9Q61.1,55.9 61.4,57.8Z" fill="#70d070"/>
<path d="M46.7,72.8Q49,76.7 46.6,80.5Q44.3,84.4 40.1,84.5Q35.9,84.7 31.2,87.1Q26.6,89.5 24.8,85Q23,80.5 22.8,76.6Q22.7,72.6 25.3,69.4Q28,66.2 32.1,66.7Q36.2,67.2 40.3,68Q44.3,68.9 46.7,72.8Z" fill="#40a040"/>
<path d="M34.6,74.9Q34.7,78 34.1,80.5Q33.5,83.1 31.5,84.1Q29.6,85 27.6,84.7Q25.6,84.3 24,82.5Q22.5,80.7 22.1,77.8Q21.8,74.9 23.8,73.4Q25.8,72 27.7,71.7Q29.5,71.3 32,71.5Q34.5,71.8 34.6,74.9Z" fill="#2a8a2a"/>
<path d="M86.6,46.1Q87.3,46.8 86.3,46.4Q85.3,46 83.4,45.1Q81.5,44.2 79.1,42.7Q76.7,41.3 76,40.7Q75.3,40 74.6,39.4Q73.8,38.7 75.6,39.5Q77.3,40.4 79.7,41.7Q82.1,43 84,44.3Q85.9,45.5 86.6,46.1Z" fill="#70d070"/>
</g>
<g filter="url(#blend)" transform="translate(401.8 13.5)">
<path d="M63,29.2Q64.3,42.9 60.5,53.5Q56.6,64.1 49.6,68.7Q42.7,73.2 34.4,74Q26.2,74.8 16.9,67Q7.7,59.2 15.3,46.9Q22.9,34.5 24.2,21.9Q25.5,9.3 34.2,10.5Q42.8,11.6 52.3,13.5Q61.7,15.5 63,29.2Z" fill="#c8d8a0"/>
<path d="M54.8,10Q56.5,14.3 55.3,19Q54.1,23.7 50.3,26.6Q46.6,29.5 42.8,26.9Q39.1,24.3 35.5,21.8Q31.9,19.3 31.1,14Q30.4,8.6 34.8,6.6Q39.2,4.6 42.9,1.6Q46.6,-1.5 49.9,2.1Q53.2,5.8 54.8,10Z" fill="#6cc86c"/>
<path d="M40,7.4Q41.2,10.4 40.2,13.5Q39.2,16.6 36.3,19Q33.3,21.4 29.9,19.6Q26.5,17.9 24.8,15.5Q23.1,13.1 21.6,9.9Q20.1,6.7 22.8,4Q25.5,1.2 29,2.2Q32.6,3.1 35.7,3.8Q38.8,4.5 40,7.4Z" fill="#3a9a3a"/>
<path d="M66.3,15.3Q66.4,17.5 65.6,20.8Q64.8,24.1 62.2,23.2Q59.7,22.2 57.7,21.6Q55.8,20.9 55.2,18.5Q54.7,16.1 55.6,13.6Q56.6,11.2 58.5,9.6Q60.4,8 62.9,7.8Q65.3,7.6 65.7,10.3Q66.1,13.1 66.3,15.3Z" fill="#a8d8f0"/>
<path d="M31.9,24.5Q32.5,27.2 31.1,29.7Q29.6,32.1 25.5,31.4Q21.4,30.7 17.4,29.5Q13.3,28.3 12.7,25.3Q12,22.3 12.6,19.9Q13.3,17.5 15.9,15.7Q18.5,13.9 22.5,15.4Q26.5,17 28.9,19.4Q31.4,21.9 31.9,24.5Z" fill="#f4c8a0"/>
<path d="M37,33.1Q36.6,35.6 35.7,37.8Q34.8,40 30.9,40.7Q27,41.5 23.5,39.6Q20.1,37.8 17,35.9Q13.9,34.1 14.1,31.7Q14.4,29.2 17.7,28.1Q21,26.9 25,27.5Q29,28 33.2,29.3Q37.5,30.6 37,33.1Z" fill="#f0e8a0"/>
<path d="M52.5,27.9Q54.2,31.2 52.2,34.3Q50.2,37.3 47.5,39.9Q44.9,42.5 41.1,41.7Q37.3,40.8 34.7,38Q32.1,35.1 33.4,31.6Q34.6,28.2 35.9,24.8Q37.2,21.3 41.1,20.2Q45,19.1 47.9,21.8Q50.8,24.6 52.5,27.9Z" fill="#d8e8d0"/>
<path d="M80.1,35.2Q81.1,39 79.9,42.5Q78.7,46.1 75.2,46.8Q71.7,47.5 67.4,49.3Q63.1,51.2 62.2,46.7Q61.2,42.2 60.5,38.7Q59.8,35.2 62.4,32.6Q65,30 68.5,29.4Q72,28.7 75.6,30.1Q79.1,31.4 80.1,35.2Z" fill="#e8a0a0"/>
<path d="M80,35.7Q80.5,37.7 80.2,39.9Q79.9,42.1 78.6,42.7Q77.3,43.4 76,43.3Q74.6,43.2 74.1,41.4Q73.5,39.5 72.8,37.3Q72.1,35 73.5,34Q75,33 76.2,31.9Q77.4,30.9 78.5,32.3Q79.6,33.8 80,35.7Z" fill="#d86060"/>
<path d="M30.1,50.6Q32.3,54.6 30.5,59Q28.8,63.5 24.8,63.5Q20.9,63.5 16.9,65.6Q12.9,67.6 11.2,63.2Q9.5,58.7 8.5,54.2Q7.6,49.6 11.2,47.4Q14.7,45.2 18,44.4Q21.2,43.5 24.5,45.1Q27.8,46.6 30.1,50.6Z" fill="#70d070"/>
<path d="M52.7,53.2Q54.8,58.5 53.7,64.6Q52.5,70.8 47.4,74.8Q42.3,78.9 36.7,76.1Q31.1,73.4 26.9,69.2Q22.7,64.9 22.2,58.3Q21.8,51.6 26.4,47.6Q31,43.5 36.7,40.4Q42.4,37.4 46.5,42.6Q50.6,47.9 52.7,53.2Z" fill="#e0c850"/>
<path d="M43.2,63.3Q44.1,66.3 42.1,68.5Q40.1,70.7 37.7,72.2Q35.3,73.7 32.4,73Q29.5,72.4 26.7,70.8Q23.8,69.3 24.7,66.5Q25.7,63.8 27.2,61.5Q28.8,59.1 32,59.6Q35.1,60.1 38.7,60.2Q42.2,60.3 43.2,63.3Z" fill="#c86020"/>
<path d="M53.2,67.2Q53.9,70.2 52.4,72.6Q51,75 47.9,76.4Q44.7,77.7 41.1,77.3Q37.4,76.9 34.4,75Q31.4,73.1 32.3,70.4Q33.1,67.6 35.3,65.6Q37.5,63.5 40.9,63.8Q44.4,64.1 48.5,64.2Q52.6,64.3 53.2,67.2Z" fill="#d8c820"/>
<path d="M22.6,64.8Q24.1,67.6 23.4,71.1Q22.8,74.6 20.2,77.5Q17.5,80.5 14.2,78.7Q10.9,77 9.4,73.9Q7.8,70.8 7.5,67.4Q7.1,63.9 9,61Q10.9,58.1 14.3,56Q17.7,53.8 19.4,58Q21.2,62.1 22.6,64.8Z" fill="#70d070"/>
<path d="M61.5,76.3Q62,79.3 61.1,81.8Q60.1,84.4 58.1,86.3Q56,88.3 53.5,87.2Q51,86.1 48.9,84.2Q46.8,82.4 46.6,79.2Q46.4,76 49.3,75.4Q52.2,74.8 54.2,71.8Q56.2,68.9 58.6,71.1Q60.9,73.4 61.5,76.3Z" fill="#70d070"/>
<path d="M40.1,73.2Q40,75.4 40.8,77.9Q41.6,80.5 37.8,80.7Q34,81 30.8,81Q27.6,81 26.3,79.1Q25,77.2 23.3,74.9Q21.6,72.7 25.1,71.8Q28.6,70.8 31.4,69.9Q34.2,69 37.1,70Q40.1,71.1 40.1,73.2Z" fill="#90d880"/>
<path d="M62.2,51.7Q62.2,55.9 62.3,60.3Q62.4,64.7 60.3,66.6Q58.3,68.6 56,68.3Q53.7,67.9 52.9,63.8Q52,59.6 51.7,55.7Q51.4,51.7 52.8,48.5Q54.1,45.4 56.3,43.6Q58.4,41.9 60.3,44.7Q62.1,47.5 62.2,51.7Z" fill="#e0d8d0"/>
</g>
<g filter="url(#speck)" opacity="0.5" transform="translate(495 13.5)">
<path d="M82.7,40Q86.7,50.7 79.4,58Q72.1,65.4 66.6,71.3Q61.1,77.1 52.6,77.2Q44.1,77.2 37.5,69.6Q30.9,61.9 33.9,52Q36.9,42 41.1,34.2Q45.2,26.4 53,26.3Q60.8,26.2 69.8,27.8Q78.8,29.4 82.7,40Z" fill="#b8d0b0"/>
<path d="M82.5,12.4Q81.5,16.9 81.7,20.7Q81.9,24.4 78.8,25.9Q75.7,27.4 72,27.8Q68.3,28.3 65.7,24.9Q63,21.5 64.5,17.5Q65.9,13.5 67.9,11Q69.8,8.5 72.9,6.4Q76,4.4 79.7,6.2Q83.4,7.9 82.5,12.4Z" fill="#80d080"/>
<path d="M86.3,26.6Q88.6,27.9 87.3,29.8Q85.9,31.7 83.4,32.8Q80.8,33.9 77.7,33.6Q74.6,33.4 73.3,31.5Q72.1,29.7 71.6,27.8Q71.1,26 73.1,24.5Q75.1,23.1 78.1,22Q81.1,20.9 82.6,23.1Q84,25.3 86.3,26.6Z" fill="#80d080"/>
<path d="M23.6,40Q25.9,42.9 23.9,45.9Q21.8,49 18.4,50.6Q15,52.2 10.5,52.6Q5.9,52.9 3,49.8Q0,46.8 2.2,43.5Q4.3,40.3 5.8,37.5Q7.3,34.8 11.6,32.4Q15.8,29.9 18.5,33.5Q21.3,37.1 23.6,40Z" fill="#88d488"/>
<path d="M23.5,56.8Q23.1,59.8 23.2,62.3Q23.2,64.9 21.3,66.6Q19.4,68.2 17,67.8Q14.6,67.3 13.5,64.8Q12.4,62.3 12.7,59.9Q13,57.5 14.1,55.4Q15.1,53.3 17.2,52.5Q19.3,51.8 21.6,52.8Q23.9,53.9 23.5,56.8Z" fill="#e0a890"/>
<path d="M57.5,31.3Q59.1,35.1 57.8,39.1Q56.5,43.1 53.1,44.7Q49.8,46.3 45.7,47Q41.6,47.8 40,43.4Q38.4,39.1 38,34.9Q37.6,30.8 40.5,28.4Q43.4,26 46.8,23.8Q50.2,21.6 53,24.6Q55.9,27.6 57.5,31.3Z" fill="#98c8a8"/>
<path d="M46,50.1Q47.1,52 46.8,54.3Q46.4,56.7 43.5,57.8Q40.6,59 38,57.8Q35.4,56.6 33.5,55.3Q31.7,54 30.5,51.6Q29.3,49.3 32,47.9Q34.7,46.4 37.6,46Q40.5,45.6 42.7,46.9Q44.9,48.2 46,50.1Z" fill="#4a9a4a"/>
<path d="M79.3,56.4Q82.9,62.4 78,67Q73,71.6 69.7,76.2Q66.4,80.7 61.2,79.4Q56,78.1 51.6,73.8Q47.1,69.5 47.7,62.6Q48.2,55.7 52.4,51.8Q56.6,47.9 61.5,46.1Q66.4,44.2 71,47.4Q75.6,50.5 79.3,56.4Z" fill="#b0b8c8"/>
<path d="M67.2,53.4Q68.7,55.9 67.7,58.8Q66.7,61.7 63.9,62.3Q61,62.9 58.1,63.3Q55.2,63.7 53.7,61.2Q52.3,58.6 52.4,55.9Q52.5,53.2 53.6,50.1Q54.7,47.1 57.9,47.6Q61.1,48.1 63.4,49.5Q65.7,50.9 67.2,53.4Z" fill="#e0a070"/>
<path d="M75.4,65.1Q77.3,67.6 75.8,70.4Q74.3,73.2 71.6,74.2Q68.9,75.2 65.7,75.8Q62.5,76.4 61.9,73.1Q61.4,69.8 59.9,67Q58.4,64.2 60.7,62Q63,59.7 66,59.8Q68.9,59.8 71.2,61.2Q73.5,62.6 75.4,65.1Z" fill="#80a8d0"/>
<path d="M86.2,51.6Q86.5,54.6 85.7,57Q84.9,59.5 83.5,62.4Q82,65.3 80,62.8Q78.1,60.3 76.1,59Q74.2,57.7 74.5,54.7Q74.8,51.8 76,49.4Q77.3,47 79.5,46.3Q81.7,45.7 83.8,47.2Q85.8,48.7 86.2,51.6Z" fill="#98d098"/>
<path d="M45.1,71.8Q44.2,73.5 43.1,75.5Q42,77.4 41.2,77.6Q40.3,77.8 40.3,76.9Q40.2,75.9 40.2,74.9Q40.1,73.8 41.3,72.1Q42.5,70.5 43.6,69.1Q44.7,67.7 45.2,68.1Q45.7,68.4 45.9,69.2Q46,70.1 45.1,71.8Z" fill="#d0a080"/>
</g>
<g filter="url(#speck)" opacity="0.5" transform="translate(588.2 13.5)">
<path d="M82.4,31Q86.3,42.9 81.9,54.3Q77.4,65.7 68.4,70.6Q59.4,75.5 49.6,74.4Q39.8,73.4 31.6,64.9Q23.4,56.4 27,44.4Q30.5,32.4 34.1,20.3Q37.7,8.2 48.8,7.9Q59.8,7.7 69.1,13.4Q78.4,19 82.4,31Z" fill="#b8d4b0"/>
<path d="M31.7,32.9Q31.5,41.6 30.3,48.2Q29,54.9 25.4,58.9Q21.7,62.9 17.7,60.6Q13.7,58.3 9.6,54.2Q5.5,50.1 6.1,42Q6.8,33.9 10.4,29.9Q14.1,25.9 17.9,23.5Q21.6,21.2 26.8,22.7Q31.9,24.2 31.7,32.9Z" fill="#80d080"/>
<path d="M60.5,8.9Q61.7,11.7 61.2,14.8Q60.6,18 56,18.7Q51.4,19.4 46.9,19.6Q42.3,19.8 41.3,16.9Q40.2,13.9 38.4,11.3Q36.6,8.6 38.8,5.2Q40.9,1.9 45.9,3.7Q51,5.6 55.1,5.9Q59.3,6.2 60.5,8.9Z" fill="#90d090"/>
<path d="M78.1,21.8Q77.8,28.6 77.5,35Q77.3,41.4 69.7,43.6Q62.2,45.8 54.2,45.8Q46.2,45.8 42.3,40.2Q38.3,34.5 37.4,28.3Q36.4,22.1 42.4,18.3Q48.5,14.5 55.5,12Q62.6,9.6 70.5,12.3Q78.3,15 78.1,21.8Z" fill="#c0b0a0"/>
<path d="M58.8,29.8Q60.8,32.5 59,35.3Q57.2,38.1 54,39Q50.9,39.8 47.6,39.9Q44.3,40 41.8,37.8Q39.2,35.7 38.7,32.3Q38.2,29 42,28.1Q45.8,27.2 48.5,25.3Q51.2,23.5 54.1,25.3Q56.9,27.1 58.8,29.8Z" fill="#e08060"/>
<path d="M77,24.9Q78.6,28.6 77.8,33Q77,37.5 73.1,38.7Q69.3,39.9 65.3,40.5Q61.2,41 58.8,37.1Q56.5,33.1 57.5,29Q58.5,24.9 60.4,21.5Q62.2,18.2 66,16.2Q69.8,14.1 72.6,17.7Q75.4,21.2 77,24.9Z" fill="#80b0e0"/>
<path d="M81.7,52.2Q82.8,53.9 80,54.9Q77.2,56 70.8,56Q64.3,56.1 56.9,55.4Q49.4,54.7 43.6,53.1Q37.7,51.5 38,50Q38.3,48.4 45,48.2Q51.6,48 58.3,48.2Q65,48.5 72.8,49.6Q80.7,50.6 81.7,52.2Z" fill="#40a040"/>
<path d="M49.1,61.5Q49,66.3 48,70.1Q47,73.9 44,76.6Q41,79.4 36.7,79.2Q32.5,79 30.6,74.7Q28.8,70.4 28.2,66Q27.5,61.6 31.2,60Q34.9,58.4 38.2,54.3Q41.5,50.2 45.3,53.4Q49.2,56.7 49.1,61.5Z" fill="#98c870"/>
<path d="M69.1,68.8Q70.3,72.8 70,77.5Q69.7,82.2 65.1,83.2Q60.5,84.2 56.2,84.2Q51.9,84.1 48.2,81Q44.6,77.8 46.3,73.4Q48.1,69 50.2,65.6Q52.4,62.2 56.6,61.1Q60.7,59.9 64.3,62.4Q67.9,64.8 69.1,68.8Z" fill="#a8c0a0"/>
<path d="M30.4,15.7Q32,17.6 33.5,20.1Q35.1,22.5 35.2,23.2Q35.3,23.8 35.3,24.3Q35.3,24.9 33.7,22.9Q32.1,20.8 30.4,18.5Q28.6,16.1 27.4,14Q26.3,12 26.4,11.7Q26.6,11.4 27.7,12.6Q28.9,13.8 30.4,15.7Z" fill="#e0a070"/>
</g>
<g filter="url(#rough)" transform="translate(29 106.5)">
<path d="M38.3,11.5Q39.3,14.9 37.1,17.2Q34.8,19.5 33.2,22.4Q31.6,25.3 28.1,25Q24.7,24.7 23.1,21.5Q21.4,18.3 21.9,15.1Q22.3,11.9 23.9,9.3Q25.5,6.7 28.5,5.9Q31.5,5.1 34.4,6.6Q37.3,8.1 38.3,11.5Z" fill="#a04a0a"/>
<path d="M61.4,5.4Q62.3,7.1 61.8,9.3Q61.4,11.5 59.5,12.3Q57.5,13.1 55.7,12.6Q53.8,12 52.4,10.6Q51,9.2 51,7.1Q50.9,5 52.4,3.6Q53.8,2.2 55.7,1.5Q57.6,0.8 59.1,2.2Q60.6,3.6 61.4,5.4Z" fill="#0a3cf0"/>
<path d="M57.6,17.2Q56.5,19 56.3,21.2Q56.1,23.4 53.1,23.3Q50,23.3 47.6,21.7Q45.2,20.1 44.3,18.1Q43.5,16.1 43.6,14.2Q43.7,12.2 46,11.2Q48.3,10.2 50.9,11.4Q53.6,12.6 56.2,14Q58.8,15.4 57.6,17.2Z" fill="#d03030"/>
<path d="M79.9,28.1Q82,30.6 79.8,32.7Q77.6,34.9 74.4,35.8Q71.2,36.8 67.9,35.6Q64.5,34.4 62.9,32Q61.3,29.5 61.7,27Q62.1,24.4 64.4,22.5Q66.7,20.5 70.4,20.7Q74,21 75.9,23.3Q77.8,25.7 79.9,28.1Z" fill="#c85058"/>
<path d="M79.7,23.6Q80.6,24.7 80.1,26Q79.6,27.3 77.2,27.3Q74.9,27.2 72.6,27.7Q70.4,28.2 69.4,27Q68.5,25.8 68,24.6Q67.5,23.4 69.3,22.6Q71.2,21.9 73.2,21.5Q75.2,21 77,21.7Q78.8,22.5 79.7,23.6Z" fill="#9030f0"/>
<path d="M87.3,38Q87.8,39.6 87.3,41.3Q86.8,43 85.4,44Q84,45.1 82.2,45Q80.3,45 79.7,43.1Q79.1,41.2 78.9,39.6Q78.7,37.9 79.7,36.5Q80.8,35.1 82.4,34.4Q84.1,33.7 85.4,35Q86.7,36.4 87.3,38Z" fill="#9030f0"/>
<path d="M15.7,24.5Q16.9,26 15.7,27.5Q14.6,29.1 13.6,30.7Q12.6,32.3 10.9,31.8Q9.3,31.2 8.5,29.5Q7.7,27.8 7.8,26Q7.9,24.3 8.6,22.5Q9.2,20.7 10.9,20.2Q12.6,19.7 13.6,21.3Q14.6,23 15.7,24.5Z" fill="#a0a0a0"/>
<path d="M15.3,33.2Q16.2,34.7 15.9,36.6Q15.5,38.4 15.1,39.5Q14.7,40.6 14.1,40Q13.4,39.5 12.6,38.7Q11.7,37.9 11.6,35.5Q11.4,33.2 11.7,31.9Q12.1,30.6 12.6,30Q13.2,29.5 13.8,30.6Q14.5,31.7 15.3,33.2Z" fill="#a0a0a0"/>
<path d="M21.5,25.8Q22.1,26.6 21.5,27.5Q20.9,28.3 20.4,29.1Q19.9,29.9 19.1,29.7Q18.3,29.4 17.9,28.5Q17.4,27.7 17.5,26.7Q17.5,25.6 17.9,24.7Q18.3,23.7 19.1,23.6Q19.9,23.4 20.4,24.2Q20.9,25 21.5,25.8Z" fill="#ff8010"/>
<path d="M9.4,31.3Q11.4,33.1 10.7,35.5Q10.1,37.8 10.1,40.2Q10.1,42.6 8.2,42.4Q6.3,42.2 4.3,41.4Q2.3,40.5 1.2,38Q0.2,35.4 0.5,33.2Q0.8,30.9 2.3,30.2Q3.8,29.6 5.6,29.5Q7.4,29.5 9.4,31.3Z" fill="#0a3cf0"/>
<path d="M50.1,24.8Q51.5,26 50.6,27.6Q49.7,29.2 48,29.6Q46.3,30 44.6,29.9Q42.9,29.9 42,28.6Q41.1,27.4 40.7,25.8Q40.2,24.3 41.5,23Q42.7,21.8 44.6,21.6Q46.4,21.5 47.5,22.6Q48.6,23.7 50.1,24.8Z" fill="#8070c0"/>
<path d="M39.8,28.2Q40.4,30.5 39.6,32.6Q38.8,34.7 36.9,35.9Q34.9,37.1 32.3,37.4Q29.7,37.7 29,35.1Q28.4,32.5 28.7,30.7Q29.1,28.8 29.4,26.1Q29.6,23.4 32.3,23.4Q35,23.4 37.2,24.7Q39.3,25.9 39.8,28.2Z" fill="#a05020"/>
<path d="M35.2,33.1Q35.5,34.4 34.8,35.5Q34.2,36.5 33.1,37.3Q31.9,38 30.5,37.8Q29,37.6 27.6,36.8Q26.3,35.9 27,34.7Q27.7,33.4 28.4,32.5Q29.2,31.5 30.5,31.3Q31.9,31.1 33.4,31.5Q34.9,31.8 35.2,33.1Z" fill="#8070c0"/>
<path d="M23.4,33.4Q23.2,34.4 23.5,35.5Q23.7,36.6 22.5,36.8Q21.3,37 20.3,36.8Q19.3,36.7 18.4,36.1Q17.4,35.5 17.8,34.5Q18.1,33.5 18.7,32.8Q19.3,32 20.3,31.8Q21.3,31.6 22.4,32Q23.5,32.4 23.4,33.4Z" fill="#0a3cf0"/>
<path d="M31.4,44.2Q32.8,46.1 31.7,48.3Q30.6,50.4 29,52.7Q27.4,55 25.4,53Q23.4,51.1 21.7,49.8Q20,48.5 19.5,45.9Q18.9,43.3 21,41.8Q23,40.4 25.2,39.1Q27.3,37.7 28.7,40Q30.1,42.3 31.4,44.2Z" fill="#e01010"/>
<path d="M30.8,37.9Q31.2,39 30.4,39.7Q29.6,40.5 28.7,41.1Q27.9,41.7 26.6,41.7Q25.3,41.8 24.3,40.9Q23.4,40.1 24.2,39.2Q24.9,38.3 25,37.1Q25.1,36 26.5,36.3Q27.8,36.5 29.1,36.7Q30.5,36.8 30.8,37.9Z" fill="#a04a0a"/>
<path d="M60.5,44.2Q61.3,46.8 60.5,49.4Q59.7,51.9 57.8,53.7Q55.9,55.5 52.8,56.2Q49.7,56.8 49.6,52.9Q49.4,49 48.8,46.5Q48.1,44 49.4,41.3Q50.7,38.7 53.3,37.9Q56,37 57.9,39.3Q59.8,41.5 60.5,44.2Z" fill="#c85058"/>
<path d="M56.9,32.3Q57.2,33.8 57.7,35.9Q58.3,38 56.2,38.2Q54.1,38.3 52.3,38.3Q50.6,38.4 49.8,36.9Q49,35.3 49,33.8Q49.1,32.3 49.8,30.7Q50.6,29.1 52.4,28.4Q54.3,27.8 55.5,29.3Q56.7,30.9 56.9,32.3Z" fill="#8070c0"/>
<path d="M50.1,47.6Q52,49.4 50.1,51.1Q48.1,52.9 46,53.4Q43.9,53.9 41.6,54.2Q39.2,54.4 37.6,52.9Q36,51.4 35.8,49.3Q35.5,47.2 37.6,46.2Q39.8,45.1 41.9,44.7Q44,44.4 46,45.1Q48.1,45.9 50.1,47.6Z" fill="#b06080"/>
<path d="M14,48.2Q13.9,50 13.4,51.5Q12.8,52.9 11.3,54.6Q9.9,56.3 7.5,55.4Q5.1,54.6 3.9,53.1Q2.7,51.7 2.7,50Q2.8,48.4 3.9,46.9Q5,45.4 7.3,44.9Q9.7,44.5 11.9,45.4Q14.1,46.3 14,48.2Z" fill="#e01010"/>
<path d="M82.4,49.3Q83.1,52.6 82.4,55.9Q81.8,59.3 78.3,59.4Q74.7,59.5 71.7,59.9Q68.7,60.4 65.9,58.3Q63,56.2 63.3,52.7Q63.6,49.3 66.7,48Q69.8,46.8 72.4,45.5Q75,44.1 78.4,45.1Q81.7,46.1 82.4,49.3Z" fill="#4a70b0"/>
<path d="M22.2,61.3Q23.3,63.7 22,65.9Q20.6,68.1 18.2,69.4Q15.8,70.7 12.7,70.6Q9.5,70.6 8.4,68.2Q7.2,65.8 5.7,63.2Q4.2,60.6 7.5,59.5Q10.7,58.5 13.4,57.1Q16,55.6 18.5,57.3Q21.1,58.9 22.2,61.3Z" fill="#ff8010"/>
<path d="M40.9,58.1Q40.4,60.4 40,62.2Q39.6,64.1 37.2,65.4Q34.8,66.7 31.5,66.5Q28.2,66.2 26.9,64.2Q25.7,62.2 25,60.3Q24.4,58.3 26.4,56.6Q28.4,54.9 31.4,55.3Q34.3,55.8 37.9,55.7Q41.4,55.7 40.9,58.1Z" fill="#a0a0a0"/>
<path d="M61.5,61.6Q62,64.3 61.4,66.9Q60.7,69.4 57.8,70.8Q54.9,72.1 51.3,72.2Q47.6,72.4 46.2,69.6Q44.8,66.8 44.9,64.3Q44.9,61.8 46.8,59.8Q48.6,57.7 52,56.3Q55.3,54.9 58.1,56.9Q61,59 61.5,61.6Z" fill="#f8c010"/>
<path d="M71.7,69.5Q71.5,72.1 71.8,74.8Q72,77.4 69.1,77.9Q66.2,78.5 63.5,78.5Q60.8,78.5 59.3,76.5Q57.8,74.4 58.1,72.2Q58.5,70 59.5,67.7Q60.6,65.3 63.4,65.5Q66.2,65.6 69,66.3Q71.8,67 71.7,69.5Z" fill="#f040c0"/>
<path d="M42.3,74.5Q44,76.7 43,79.3Q42,82 39,83.1Q36,84.2 33,83.7Q29.9,83.2 27.9,81.2Q25.9,79.3 25.3,76.5Q24.6,73.7 27.5,72.2Q30.4,70.8 33.3,69.4Q36.2,68.1 38.5,70.2Q40.7,72.3 42.3,74.5Z" fill="#20c040"/>
<path d="M59.3,79.9Q60.5,81.2 60.1,83Q59.8,84.9 57.1,85.2Q54.4,85.5 51.8,85.7Q49.2,86 48,84.4Q46.8,82.8 46.7,81.2Q46.5,79.6 47.9,78.1Q49.3,76.6 52,76.1Q54.8,75.6 56.4,77Q58.1,78.5 59.3,79.9Z" fill="#10d0f8"/>
<path d="M71.6,42Q71.9,42.4 72,43Q72.1,43.5 71.3,44.5Q70.6,45.5 69.2,45.9Q67.9,46.3 66.7,46.5Q65.6,46.8 65.5,46.2Q65.5,45.5 66,44.8Q66.6,44 67.6,43Q68.6,41.9 69.9,41.7Q71.2,41.5 71.6,42Z" fill="#50a060"/>
</g>
<g filter="url(#spiky)" transform="translate(122.2 106.5)">
<path d="M65.7,40.5Q67.9,52 63.5,61.3Q59.1,70.6 51.1,74.2Q43.1,77.9 33,80.4Q22.8,82.9 19.1,72.2Q15.4,61.4 10.2,49.9Q5,38.3 16,33.7Q27,29 35.2,26.8Q43.3,24.6 53.5,26.9Q63.6,29.1 65.7,40.5Z" fill="#c88878"/>
<path d="M22,11.1Q23.2,16.4 23.1,22Q22.9,27.6 21.7,32.3Q20.5,37 18.3,33.8Q16.1,30.6 14.5,26.8Q12.9,22.9 11.9,16.9Q10.9,10.8 11.8,5.3Q12.7,-0.1 14.9,0.7Q17.1,1.5 19,3.7Q20.9,5.8 22,11.1Z" fill="#f050c0"/>
<path d="M26.1,13.9Q27.4,18.4 29.2,23.9Q31,29.3 29.7,32.1Q28.5,34.8 26.3,32.6Q24.1,30.4 21.9,28.2Q19.8,26 18.4,20.8Q17,15.7 17.4,11.8Q17.7,8 19.1,6.5Q20.4,4.9 22.6,7.1Q24.7,9.4 26.1,13.9Z" fill="#a8a8a8"/>
<path d="M64,6.9Q65.5,9.1 63.7,11.1Q61.8,13.1 59.9,15Q58.1,17 55.7,15.5Q53.4,14 51.4,12.7Q49.4,11.4 48.9,8.9Q48.4,6.4 50.3,4.4Q52.2,2.4 54.8,3.5Q57.4,4.7 59.9,4.6Q62.5,4.6 64,6.9Z" fill="#50a060"/>
<path d="M57.5,17.9Q57.4,20.8 57.4,23.3Q57.3,25.9 56.8,27.2Q56.2,28.6 55.6,28Q54.9,27.5 54.7,25.2Q54.4,23 54.2,20.5Q54.1,18.1 54.5,15.9Q54.9,13.8 55.5,14.3Q56.1,14.8 56.8,14.9Q57.5,15 57.5,17.9Z" fill="#50a060"/>
<path d="M60.4,30.5Q60.8,32.5 60.4,34.5Q60.1,36.5 58.3,36.4Q56.4,36.2 54.5,37.6Q52.6,39 51.3,37Q50.1,34.9 50.9,32.8Q51.6,30.7 52.6,29.3Q53.5,27.8 55.2,26.7Q56.9,25.6 58.5,27Q60,28.5 60.4,30.5Z" fill="#0a3cf0"/>
<path d="M66,35.7Q64.4,37.6 63.6,40.2Q62.8,42.8 61,42.9Q59.3,43.1 58.7,41.7Q58,40.3 58.5,38.5Q58.9,36.6 59.6,34.5Q60.4,32.4 62,31.5Q63.6,30.5 65.1,30.6Q66.5,30.6 67.1,32.2Q67.6,33.8 66,35.7Z" fill="#a04a0a"/>
<path d="M81.2,45.3Q83.5,50.7 81.6,56.6Q79.7,62.6 76.2,64.9Q72.6,67.3 69.4,65.4Q66.2,63.5 62,60.9Q57.8,58.2 58.6,51.1Q59.4,44 62.9,41.2Q66.4,38.3 69.6,35.3Q72.8,32.3 75.8,36.1Q78.8,39.9 81.2,45.3Z" fill="#20c040"/>
<path d="M68.4,68.6Q68.8,70.2 68.1,71.6Q67.5,73 65.5,73.7Q63.5,74.4 61.2,74.2Q59,74.1 57.1,73Q55.3,71.9 55.9,70.3Q56.5,68.7 57.8,67.5Q59,66.3 61.3,66Q63.5,65.7 65.7,66.4Q68,67 68.4,68.6Z" fill="#9030f0"/>
<path d="M36.9,75.3Q37.4,78 35.5,79.9Q33.7,81.8 30.8,83.1Q27.9,84.4 23.8,84.4Q19.8,84.4 17.2,82.4Q14.7,80.4 15.5,78.1Q16.2,75.8 18,73.7Q19.8,71.5 23.7,71.9Q27.6,72.4 32.1,72.5Q36.5,72.7 36.9,75.3Z" fill="#ff8010"/>
<path d="M39.4,63.1Q40,65 40.2,67.2Q40.3,69.3 36.6,70Q32.9,70.7 29.2,70.6Q25.5,70.6 23,68.9Q20.5,67.2 22,65.3Q23.5,63.4 24.3,61.2Q25.2,59 29.2,58.6Q33.3,58.2 36,59.8Q38.8,61.3 39.4,63.1Z" fill="#e01010"/>
<path d="M50.2,43.6Q50.9,48.1 49,50.9Q47.1,53.8 45.6,56.5Q44.1,59.3 41.1,60.2Q38.2,61.1 37.5,56.3Q36.9,51.6 36.6,47.9Q36.3,44.2 37.7,41.1Q39.2,37.9 41.6,37.9Q44,38 46.8,38.5Q49.6,39.1 50.2,43.6Z" fill="#c08020"/>
<path d="M28.9,36.1Q29.4,37.7 28.7,39.1Q28,40.5 26.7,41Q25.4,41.5 23.8,41.7Q22.2,42 21.4,40.6Q20.5,39.2 20.9,37.8Q21.2,36.4 21.6,34.7Q22,33 23.7,33.5Q25.3,34 26.9,34.2Q28.5,34.5 28.9,36.1Z" fill="#4a70b0"/>
<path d="M48.5,39.3Q49,42.7 49.6,45.9Q50.2,49.1 50.1,50.6Q49.9,52 49.3,51Q48.8,49.9 48.2,47.8Q47.6,45.7 46.8,42.6Q46.1,39.5 46.2,37.8Q46.3,36.1 46.6,35.6Q46.9,35 47.4,35.5Q48,36 48.5,39.3Z" fill="#10d0f8"/>
<path d="M26.8,51.4Q27.7,54.6 25.8,56.8Q23.8,58.9 22.4,61.6Q20.9,64.3 18.3,63.4Q15.7,62.4 14.4,59.9Q13,57.4 12.8,54.5Q12.6,51.6 14.1,49Q15.6,46.5 18.1,46.6Q20.6,46.7 23.2,47.5Q25.8,48.2 26.8,51.4Z" fill="#d05050"/>
<path d="M49.3,29.8Q50.6,32.5 48.7,34.8Q46.7,37.1 43.7,38.3Q40.7,39.5 37.4,39Q34.1,38.6 30.6,37.1Q27.1,35.6 28.6,32.9Q30.2,30.2 31.8,27.9Q33.4,25.6 37,25.8Q40.6,26.1 44.3,26.6Q48,27.1 49.3,29.8Z" fill="#d07070"/>
<path d="M55.7,64.6Q56.6,67.6 55.7,70.4Q54.8,73.3 51.6,74.5Q48.4,75.7 44.6,76Q40.8,76.4 39.3,73.4Q37.8,70.4 37.5,67.5Q37.3,64.6 39.4,62.1Q41.4,59.6 45.2,58.4Q48.9,57.2 51.9,59.4Q54.9,61.7 55.7,64.6Z" fill="#b0a0c0"/>
</g>
<g filter="url(#rough)" transform="translate(215.4 106.5)">
<path d="M15.8,54Q16.8,57.2 16.1,60.8Q15.5,64.5 13.1,67.1Q10.7,69.7 8.4,67.1Q6,64.5 4,62.6Q2,60.7 1.2,56.7Q0.3,52.8 2.5,49.7Q4.6,46.6 7.4,47.7Q10.2,48.9 12.4,49.8Q14.7,50.7 15.8,54Z" fill="#f8c010"/>
<path d="M29.6,63.5Q30.5,65.6 30.1,68Q29.7,70.4 26.2,70.7Q22.8,71 20.1,70.8Q17.4,70.5 14.1,69.4Q10.8,68.3 11.9,65.9Q13.1,63.5 14.9,61.8Q16.7,60 19.9,59.8Q23,59.6 25.8,60.5Q28.7,61.4 29.6,63.5Z" fill="#a04a0a"/>
<path d="M29,42.7Q29.9,44.3 28.4,45.2Q27,46.1 25.1,45.7Q23.3,45.3 21.6,44.5Q19.8,43.8 18.9,42.1Q18,40.5 19.1,39.4Q20.2,38.3 21.7,38Q23.2,37.7 25.2,37.6Q27.2,37.5 27.6,39.3Q28,41.1 29,42.7Z" fill="#20c040"/>
<path d="M34.6,38.3Q34.8,39.6 34.2,40.7Q33.7,41.7 32.8,42.6Q31.9,43.4 30.7,43Q29.5,42.6 28.6,41.7Q27.7,40.9 27.7,39.6Q27.7,38.4 28.6,37.5Q29.4,36.6 30.6,36.7Q31.7,36.7 33,36.8Q34.4,37 34.6,38.3Z" fill="#10d0f8"/>
<path d="M43.3,35.2Q43.4,37.7 43.6,40.5Q43.9,43.3 41.7,44.4Q39.5,45.5 37.1,45.4Q34.8,45.2 33.9,42.6Q33,40 32.8,37.6Q32.7,35.2 34,33.3Q35.4,31.5 37.6,29.8Q39.7,28.1 41.4,30.4Q43.2,32.7 43.3,35.2Z" fill="#f040c0"/>
<path d="M31.2,50.2Q31,51.3 30.8,52.2Q30.5,53.1 29.6,53.9Q28.7,54.7 27.5,54.2Q26.2,53.7 25.3,53Q24.3,52.4 24.7,51.4Q25.1,50.5 25.6,49.6Q26,48.7 27.3,48.7Q28.5,48.6 29.9,48.8Q31.3,49 31.2,50.2Z" fill="#9030f0"/>
<path d="M39.6,48.3Q40.5,49.4 39.3,50.3Q38.2,51.2 37.2,52.6Q36.2,53.9 34.4,53.1Q32.7,52.3 31.9,51.4Q31,50.4 30.6,49.3Q30.3,48.1 31.3,47.1Q32.4,46.1 34.2,45.9Q36,45.7 37.4,46.5Q38.7,47.2 39.6,48.3Z" fill="#e01010"/>
<path d="M41.1,55.7Q41.5,57.8 41.2,60Q40.8,62.2 38.4,63.5Q36,64.9 33.5,63.8Q31,62.7 29.2,61.3Q27.5,59.9 27.1,57.7Q26.7,55.5 28.4,53.6Q30.2,51.8 32.9,52Q35.6,52.3 38.1,52.9Q40.6,53.6 41.1,55.7Z" fill="#4a70b0"/>
<path d="M55.4,51.7Q56.4,53.3 55.2,54.7Q54,56.2 52.5,57.2Q51,58.3 49.1,57.9Q47.2,57.5 46.1,56.2Q44.9,54.9 44.5,53.1Q44,51.3 45.5,50Q47,48.7 48.9,48.8Q50.9,49 52.6,49.6Q54.4,50.1 55.4,51.7Z" fill="#f040c0"/>
<path d="M65.5,28.2Q66.5,31.8 64.2,34.5Q61.9,37.3 59.7,41.7Q57.4,46.1 53.1,43.5Q48.7,40.8 46.6,38Q44.5,35.1 43.9,31.7Q43.4,28.3 46,25.4Q48.5,22.6 52.7,21.7Q56.8,20.8 60.6,22.7Q64.5,24.5 65.5,28.2Z" fill="#0a3cf0"/>
<path d="M83.3,34Q84,35.7 84.6,38.4Q85.2,41.2 82.1,41.2Q79,41.3 77.1,40.7Q75.2,40.1 72.8,39.1Q70.5,38.2 70.6,35.8Q70.8,33.4 72.6,31.8Q74.4,30.2 76.8,29.8Q79.2,29.4 80.9,30.8Q82.7,32.2 83.3,34Z" fill="#b07090"/>
<path d="M76,48.6Q77.7,50.7 76.3,53Q75,55.4 72.8,57.4Q70.5,59.4 67.3,58.8Q64.2,58.1 63.6,55.4Q63,52.6 61.5,50.2Q60,47.7 62.1,45.5Q64.2,43.3 67.4,42.7Q70.5,42.2 72.4,44.3Q74.3,46.5 76,48.6Z" fill="#b05060"/>
<path d="M70.9,66.3Q71.5,70.2 69.3,73Q67,75.7 63.8,77.7Q60.6,79.7 56,79.7Q51.3,79.8 48.9,76.7Q46.5,73.5 46.9,70.3Q47.3,67 49.4,64Q51.6,60.9 56,61.4Q60.4,61.8 65.3,62.1Q70.2,62.5 70.9,66.3Z" fill="#d83838"/>
<path d="M74.9,73.3Q75.5,75.4 75.2,77.6Q74.9,79.9 72.5,81Q70.2,82.1 67.7,81.6Q65.2,81 63.9,79.2Q62.5,77.4 62.5,75.4Q62.5,73.3 63.4,70.7Q64.3,68.2 67,69.4Q69.8,70.7 72.1,70.9Q74.4,71.2 74.9,73.3Z" fill="#1040f0"/>
<path d="M85.6,65.3Q86.8,67.6 85.4,69.6Q84,71.7 81.7,72.9Q79.4,74.2 77.1,73.1Q74.8,72 72.5,71Q70.1,69.9 69.4,67.3Q68.6,64.8 71.5,63.6Q74.4,62.5 76.8,62.1Q79.2,61.7 81.8,62.4Q84.4,63.1 85.6,65.3Z" fill="#5060d0"/>
<path d="M88.1,51Q89.5,51 88.4,51.8Q87.4,52.7 85.9,53.4Q84.5,54.2 82.6,54.9Q80.6,55.6 79.8,55.4Q79,55.2 78.2,55Q77.5,54.8 78.7,53.9Q80,53.1 81.8,52.5Q83.5,51.8 85.2,51.4Q86.8,51 88.1,51Z" fill="#d07040"/>
<path d="M64.1,6.8Q64.1,7.8 64.1,8.8Q64.1,9.8 64,10.4Q63.8,11 63.6,10.6Q63.4,10.2 63.3,9.5Q63.1,8.8 63.2,7.9Q63.2,6.9 63.3,6.1Q63.4,5.2 63.6,4.9Q63.8,4.6 64,5.2Q64.1,5.8 64.1,6.8Z" fill="#0a3cf0"/>
</g>
<g filter="url(#blend2)" transform="translate(308.6 106.5)">
<path d="M57.4,28.3Q60.9,39 55.5,47.8Q50.2,56.7 43,58.8Q35.7,61 27.2,64.2Q18.6,67.5 12.6,58.8Q6.6,50.2 8.9,40Q11.2,29.8 15.8,21.9Q20.4,14 28.2,14.2Q36.1,14.4 45,16Q53.9,17.6 57.4,28.3Z" fill="#c06080"/>
<path d="M40.9,8.3Q43,11 41.7,14.6Q40.3,18.1 37.6,20.2Q34.8,22.4 31.8,21Q28.9,19.7 26.5,17.3Q24.1,14.9 24.4,11.1Q24.6,7.4 26.7,4.8Q28.7,2.2 31.9,0Q35.1,-2.1 37,1.7Q38.8,5.5 40.9,8.3Z" fill="#f050c0"/>
<path d="M18.5,18.2Q18.8,20.2 17.2,21.4Q15.6,22.6 12.6,23Q9.5,23.4 6.5,21.5Q3.4,19.6 3.2,17.7Q3,15.8 1.4,13.4Q-0.2,10.9 3.2,10.8Q6.6,10.7 9.9,11.6Q13.2,12.5 15.7,14.4Q18.2,16.3 18.5,18.2Z" fill="#20c040"/>
<path d="M29,18Q29.6,20.1 28.8,22.1Q28,24 26.2,25.2Q24.5,26.3 22.3,26Q20.2,25.7 18.6,24.1Q17.1,22.4 17.2,20.2Q17.3,17.9 19.1,16.9Q20.9,15.8 22.7,14.7Q24.5,13.6 26.5,14.7Q28.5,15.9 29,18Z" fill="#9030f0"/>
<path d="M67.6,18.2Q68.5,24 67,29.5Q65.6,34.9 59.4,36Q53.3,37 47.3,37.6Q41.3,38.2 37.1,33.9Q32.9,29.7 31.7,23.7Q30.5,17.7 36.8,15.1Q43.1,12.6 48.3,11.3Q53.5,10 60.1,11.2Q66.6,12.4 67.6,18.2Z" fill="#0a3cf0"/>
<path d="M27.2,29.2Q29.8,32.5 27.9,36.5Q26,40.6 23,43Q20.1,45.5 17,43.5Q14,41.5 11.6,39Q9.3,36.5 9.5,32.6Q9.7,28.7 10.5,23.2Q11.3,17.7 15.4,20.3Q19.6,22.9 22,24.4Q24.5,25.9 27.2,29.2Z" fill="#e01010"/>
<path d="M38.6,32.8Q38.7,36.4 38.1,39.6Q37.5,42.8 34.8,45.6Q32,48.4 28.4,46.8Q24.8,45.2 20.9,43.1Q17,41.1 20.1,37.5Q23.2,34 23.6,30.1Q24,26.2 28.1,24.9Q32.1,23.6 35.3,26.4Q38.4,29.2 38.6,32.8Z" fill="#d07070"/>
<path d="M61.4,43Q63.2,45.5 61.6,48.2Q60.1,50.8 57,52.5Q53.9,54.1 50.2,53.5Q46.6,52.8 43.2,50.9Q39.9,48.9 42.7,46.3Q45.5,43.6 45.2,39.7Q44.9,35.8 49.4,36.5Q53.8,37.2 56.7,38.8Q59.6,40.4 61.4,43Z" fill="#f050c0"/>
<path d="M29.5,53.4Q33.6,57.2 30.3,61.8Q27,66.5 23.6,69Q20.2,71.6 15.7,72.1Q11.1,72.5 10.4,66.8Q9.6,61.1 7.1,56Q4.6,51 8.2,47.1Q11.7,43.2 16.1,42.4Q20.4,41.6 22.9,45.6Q25.4,49.6 29.5,53.4Z" fill="#a04a0a"/>
<path d="M47.4,51.3Q47.4,55.2 46.5,58.2Q45.6,61.2 43.4,63.3Q41.1,65.4 38.2,64.8Q35.2,64.3 33.2,61.6Q31.1,58.9 32,55.6Q32.9,52.3 33.7,48.5Q34.5,44.6 37.6,46Q40.8,47.4 44.1,47.4Q47.5,47.5 47.4,51.3Z" fill="#4a70b0"/>
<path d="M62.7,60.7Q63.6,62.8 61.2,63.4Q58.7,64 56.7,64.4Q54.7,64.9 51.6,64.3Q48.5,63.7 48.6,61.4Q48.7,59.1 48.5,57.1Q48.3,55.1 50.9,54.9Q53.4,54.7 56,54.8Q58.5,54.9 60.2,56.7Q61.9,58.5 62.7,60.7Z" fill="#10d0f8"/>
<path d="M46.4,71.6Q48.8,75.4 46,78.8Q43.3,82.2 40.3,85.1Q37.3,88.1 32.6,88Q27.8,87.9 26.1,83.6Q24.3,79.3 23.6,75.1Q22.8,70.9 26.1,68.1Q29.3,65.3 33.3,63.9Q37.3,62.5 40.6,65.2Q43.9,67.9 46.4,71.6Z" fill="#f8c010"/>
<path d="M86.6,46.8Q87.7,47.6 86.5,47.2Q85.3,46.7 83.4,45.8Q81.5,44.9 79.3,43.5Q77.1,42.1 75.9,41.3Q74.8,40.4 74.8,40.2Q74.9,40 75.7,40.2Q76.5,40.4 79.2,42Q81.9,43.7 83.7,44.8Q85.5,46 86.6,46.8Z" fill="#0a3cf0"/>
</g>
<g filter="url(#blend2)" transform="translate(401.8 106.5)">
<path d="M60.4,31.8Q63.5,42.9 61.4,55.1Q59.3,67.3 51.3,72.8Q43.3,78.3 34.5,77.1Q25.7,75.9 21.2,65.2Q16.8,54.5 16.5,42.7Q16.2,31 20.6,19.6Q25.1,8.3 34.1,8.5Q43.2,8.8 50.2,14.8Q57.3,20.8 60.4,31.8Z" fill="#a07080"/>
<path d="M42.3,7.6Q43.5,11.7 41.5,15Q39.5,18.4 37,21.7Q34.5,25.1 30.8,23.8Q27,22.5 24.3,19.4Q21.5,16.2 22.6,12.1Q23.6,8 25,3.8Q26.4,-0.4 30.2,0.4Q34.1,1.2 37.6,2.4Q41,3.5 42.3,7.6Z" fill="#f8c010"/>
<path d="M48.5,4.8Q48.4,7.1 48.4,9.4Q48.4,11.7 46.5,13Q44.6,14.2 42.2,14.3Q39.8,14.3 39.2,11.8Q38.5,9.2 37.9,6.9Q37.3,4.6 39.1,3.3Q40.9,1.9 42.9,0.2Q44.9,-1.5 46.7,0.5Q48.6,2.4 48.5,4.8Z" fill="#10d0f8"/>
<path d="M55.5,17.9Q56.7,22.1 55.8,26.7Q54.9,31.3 53,36.1Q51,41 48.1,38.7Q45.2,36.4 44.2,31.5Q43.2,26.6 42.4,21.5Q41.7,16.5 43.9,13.5Q46,10.6 48.6,6.2Q51.1,1.9 52.8,7.8Q54.4,13.6 55.5,17.9Z" fill="#4a70b0"/>
<path d="M67,14Q67.9,16.9 66.7,19.5Q65.5,22.1 63.8,23.3Q62.1,24.6 59.9,24.7Q57.8,24.8 56,22.5Q54.2,20.3 55.4,17.5Q56.6,14.7 57.1,11.7Q57.7,8.8 59.9,8.6Q62.1,8.5 64.1,9.8Q66,11.2 67,14Z" fill="#50a060"/>
<path d="M36.4,30.7Q37,36.4 31.7,38.6Q26.3,40.7 21.8,42.2Q17.3,43.8 15.1,39.9Q12.9,36 12,31.7Q11,27.4 12.4,21.2Q13.7,15 19.2,15.1Q24.6,15.2 28.2,16.5Q31.8,17.8 33.8,21.4Q35.7,25 36.4,30.7Z" fill="#d88060"/>
<path d="M79.7,35.3Q80.6,39 79.9,42.8Q79.2,46.6 75,47.7Q70.9,48.9 66.1,49.7Q61.3,50.4 60.4,46.2Q59.6,41.9 58.8,38.7Q58,35.5 59.3,31Q60.6,26.5 65.6,28.4Q70.6,30.3 74.7,31Q78.8,31.7 79.7,35.3Z" fill="#c85058"/>
<path d="M54.5,45Q59.3,46.8 56.7,49.4Q54.1,52 48.7,53.4Q43.4,54.8 39.1,52.9Q34.8,51.1 27.6,50.6Q20.4,50.1 22.9,47.2Q25.4,44.3 28.2,41.9Q31,39.4 37.2,38.9Q43.5,38.4 46.6,40.8Q49.8,43.2 54.5,45Z" fill="#8070c0"/>
<path d="M27.4,49.3Q27.8,52 27.2,54.4Q26.6,56.9 23.8,58.2Q21.1,59.6 18,59.1Q14.8,58.7 12.6,56.7Q10.4,54.7 10.4,52Q10.3,49.2 12.9,47.7Q15.5,46.2 18.4,45Q21.2,43.7 24.2,45.2Q27.1,46.6 27.4,49.3Z" fill="#f040c0"/>
<path d="M22.5,58.3Q23.2,59.1 22.4,59.8Q21.6,60.5 20.3,61.1Q19.1,61.7 17.6,61.3Q16.1,60.9 15,60.4Q13.9,59.9 13.4,59Q12.8,58.1 14.6,57.8Q16.4,57.5 17.7,57.1Q19.1,56.7 20.5,57.1Q21.9,57.6 22.5,58.3Z" fill="#9030f0"/>
<path d="M37.2,58.8Q37.7,61.1 36.9,63.2Q36.1,65.3 33.6,65.9Q31.1,66.5 28.5,66.5Q25.9,66.5 24.1,64.9Q22.3,63.3 21.8,60.9Q21.2,58.5 24.3,58Q27.4,57.6 29.3,56.1Q31.3,54.7 34,55.6Q36.7,56.5 37.2,58.8Z" fill="#a0a0a0"/>
<path d="M25.6,66.3Q27,68.9 24.8,70.9Q22.6,72.9 20.6,74.6Q18.5,76.3 14.8,76.8Q11.1,77.3 10.6,74.1Q10.2,70.9 9.2,68.6Q8.1,66.2 10.3,64.3Q12.4,62.3 15.5,61.6Q18.6,61 21.4,62.3Q24.3,63.7 25.6,66.3Z" fill="#a04a0a"/>
<path d="M50,55.1Q50.3,57.2 49.6,58.9Q48.9,60.6 47.1,61.6Q45.2,62.5 43.3,62Q41.3,61.5 39.2,60.5Q37.1,59.4 38,57.5Q39,55.5 40.1,54.1Q41.2,52.6 43.2,52.2Q45.3,51.8 47.5,52.5Q49.7,53.1 50,55.1Z" fill="#b05030"/>
<path d="M53.3,61.9Q55.9,64.7 55.7,68.5Q55.4,72.4 51.1,76.1Q46.7,79.8 40.9,79.3Q35.1,78.9 30.7,77.6Q26.2,76.4 24.8,72.9Q23.4,69.4 25.8,65.3Q28.2,61.1 34.3,60.1Q40.4,59.1 45.5,59.1Q50.7,59.1 53.3,61.9Z" fill="#e01010"/>
<path d="M63.3,67.7Q65.5,71.5 65,78.3Q64.6,85.2 61.5,86.2Q58.4,87.2 56.2,85.5Q53.9,83.9 51.5,80.9Q49.2,77.9 49.4,71.7Q49.7,65.5 51.4,60.7Q53.1,55.9 55.9,54.1Q58.7,52.2 60,58.1Q61.2,63.9 63.3,67.7Z" fill="#20c040"/>
<path d="M69.3,75.7Q69.4,76.2 68.9,76.5Q68.5,76.7 67.3,76Q66.1,75.2 65,74.5Q63.9,73.8 63.7,73.2Q63.6,72.6 63.3,71.9Q63.1,71.2 64.1,71.6Q65.2,71.9 66.2,72.7Q67.3,73.6 68.3,74.4Q69.3,75.2 69.3,75.7Z" fill="#a04a0a"/>
</g>
<g filter="url(#speck)" opacity="0.95" transform="translate(495 106.5)">
<path d="M83.6,12.4Q83.7,16.9 82.9,20.8Q82.1,24.7 79,26.5Q75.8,28.3 72.6,27.2Q69.4,26.2 66.6,23.7Q63.7,21.2 63.9,17Q64.1,12.7 66.2,9Q68.3,5.3 71.9,6.6Q75.4,7.8 79.4,7.8Q83.4,7.8 83.6,12.4Z" fill="#20c040"/>
<path d="M88.5,25.5Q90,27.9 87.4,29.7Q84.8,31.4 82.9,33.3Q81,35.2 77.8,34.6Q74.6,34 72.1,32.3Q69.7,30.6 69.9,28Q70.1,25.4 72.8,24.2Q75.5,23 78.2,22Q80.9,20.9 84,22Q87.1,23 88.5,25.5Z" fill="#20c040"/>
<path d="M25.7,40Q26.5,44.2 24.6,47.6Q22.6,50.9 19,53.2Q15.4,55.5 10.1,55.7Q4.8,56 3,51.9Q1.2,47.8 1.2,44.2Q1.2,40.6 3.2,36.8Q5.2,32.9 10.3,32.6Q15.5,32.3 20.2,34.1Q24.9,35.9 25.7,40Z" fill="#ff8010"/>
<path d="M26,57.4Q28,59.8 26.7,62.8Q25.4,65.8 23,66.9Q20.7,68 18.7,66.8Q16.7,65.7 14.3,64.4Q11.9,63.2 12.2,59.9Q12.6,56.7 14.4,54.7Q16.2,52.8 18.4,52.5Q20.6,52.2 22.3,53.6Q24.1,55.1 26,57.4Z" fill="#ff8010"/>
<path d="M55.7,31.3Q58.9,33.8 57.1,37.6Q55.3,41.5 51.9,42.9Q48.5,44.3 45.4,43.1Q42.4,41.9 39.7,39.8Q36.9,37.6 36.5,33.6Q36,29.6 38.9,26.9Q41.7,24.3 45.1,23.5Q48.6,22.7 50.5,25.7Q52.4,28.7 55.7,31.3Z" fill="#f040c0"/>
<path d="M64.8,29Q66.4,31.2 64.8,33.4Q63.2,35.7 61.9,37.7Q60.7,39.7 58.8,39.5Q56.8,39.2 55.6,36.8Q54.3,34.3 54.7,31.4Q55.1,28.5 56.1,26.3Q57.2,24.1 59,22.9Q60.8,21.8 62,24.3Q63.1,26.7 64.8,29Z" fill="#a04a0a"/>
<path d="M47.2,49.8Q49.3,52 47.5,54.3Q45.7,56.7 43.1,58.1Q40.6,59.5 37,59.7Q33.5,59.9 32.8,57Q32.2,54 31.3,51.7Q30.5,49.4 32,46.7Q33.4,43.9 37,43.9Q40.7,43.9 42.9,45.8Q45.2,47.7 47.2,49.8Z" fill="#f8c010"/>
<path d="M56.2,46.4Q56,49.4 55.6,51.8Q55.2,54.2 53.6,56.3Q52,58.5 49.8,57.2Q47.6,56 46.5,53.9Q45.3,51.8 44.7,49.1Q44.2,46.4 46.2,45.2Q48.2,44 50,42.4Q51.9,40.8 54.1,42.1Q56.3,43.4 56.2,46.4Z" fill="#50a060"/>
<path d="M77.5,60.3Q78.5,66.3 75.9,70.8Q73.3,75.4 69.3,79.3Q65.4,83.2 59.3,82.7Q53.2,82.2 48.5,77.6Q43.9,73 46.4,67.2Q49,61.4 51.8,57.2Q54.7,53 60.2,50.2Q65.7,47.5 71.1,51Q76.5,54.4 77.5,60.3Z" fill="#e08060"/>
<path d="M87.2,52.8Q89.6,55.9 88,59.7Q86.4,63.5 82.9,64.2Q79.4,64.8 76.2,64.9Q73,65 70.8,62.3Q68.6,59.5 68.2,55.7Q67.7,51.9 70.5,49.5Q73.3,47.2 76.4,46.6Q79.6,46 82.2,47.8Q84.8,49.7 87.2,52.8Z" fill="#4a70b0"/>
<path d="M75,47.3Q76.1,49.4 74.5,51.2Q72.8,53 70.2,53.9Q67.7,54.7 64.5,54.9Q61.3,55.1 59.5,53.3Q57.7,51.5 57.5,49.3Q57.3,47.2 59.7,45.9Q62.2,44.7 65.1,43.9Q67.9,43.1 70.9,44.1Q73.8,45.1 75,47.3Z" fill="#c04850"/>
<path d="M45,72.1Q44.4,73.6 43.2,75.8Q41.9,77.9 41.3,77.5Q40.7,77.1 40,77.1Q39.4,77 39.9,75.3Q40.4,73.7 41.4,71.7Q42.4,69.6 43.5,68.9Q44.6,68.1 45.7,67.4Q46.8,66.7 46.2,68.6Q45.5,70.5 45,72.1Z" fill="#c04850"/>
</g>
<g filter="url(#speck)" opacity="0.95" transform="translate(588.2 106.5)">
<path d="M32,33.7Q33.4,41.6 31,47.9Q28.6,54.3 25.4,61.1Q22.3,68 18.1,62.9Q13.9,57.8 9,54.4Q4,51 5.1,42.2Q6.2,33.5 9.6,28.1Q13,22.8 17.5,19.8Q22.1,16.8 26.4,21.4Q30.7,25.9 32,33.7Z" fill="#20c040"/>
<path d="M60.7,10.9Q63.1,14.3 61,17.9Q59,21.5 54.9,24Q50.8,26.5 45.7,25.5Q40.6,24.5 36.7,21.6Q32.7,18.7 35.3,15.1Q38,11.4 39.1,7.5Q40.2,3.5 45.7,2Q51.2,0.5 54.8,4Q58.3,7.5 60.7,10.9Z" fill="#4a70b0"/>
<path d="M79.7,24.3Q81.2,29.9 81.3,36.8Q81.3,43.6 74.3,43.5Q67.4,43.4 62.3,43.3Q57.2,43.2 52,39.9Q46.8,36.5 47.1,30Q47.4,23.5 51.8,19.2Q56.3,14.8 62.1,14.1Q67.9,13.4 73.1,16.1Q78.3,18.7 79.7,24.3Z" fill="#e08060"/>
<path d="M51.4,29.6Q51.8,32.5 50.7,34.8Q49.7,37.1 47.6,38.8Q45.6,40.6 43,39.8Q40.4,38.9 38.3,37.2Q36.2,35.4 36.5,32.6Q36.7,29.8 38.8,28.2Q40.8,26.7 43.2,25.9Q45.5,25.1 48.3,25.9Q51,26.7 51.4,29.6Z" fill="#c04850"/>
<path d="M80,51.5Q84.2,53.3 80.1,55.1Q75.9,56.9 68.8,57.4Q61.6,57.8 54.6,57.9Q47.6,58 40.3,56.8Q33,55.6 38.3,53.7Q43.6,51.9 44.3,49.7Q45,47.4 53.4,48Q61.7,48.6 68.7,49.1Q75.7,49.7 80,51.5Z" fill="#f8c010"/>
<path d="M66.3,56Q67.4,57.2 66.2,58.3Q65.1,59.5 62.7,60.6Q60.4,61.8 57.6,60.8Q54.7,59.9 51.6,59.3Q48.5,58.7 49.7,57.4Q51,56 52.3,54.9Q53.7,53.7 56.9,53.4Q60.2,53.1 62.7,53.9Q65.2,54.8 66.3,56Z" fill="#50a060"/>
<path d="M45.2,61.5Q45,66 43,70.1Q41,74.3 37.6,76.7Q34.1,79.2 31.4,76.7Q28.8,74.1 28.1,70Q27.4,65.8 28,61.1Q28.7,56.3 32,55Q35.3,53.7 38.9,50.9Q42.5,48.2 44,52.6Q45.4,57 45.2,61.5Z" fill="#a04a0a"/>
<path d="M70,69.6Q69.4,74.1 69.3,78Q69.2,82 65,83.9Q60.8,85.7 55.7,85.9Q50.7,86 48.7,82Q46.7,77.9 45.2,73.6Q43.7,69.3 48.5,67.6Q53.2,66 57.3,62.6Q61.4,59.3 66,62.2Q70.5,65.1 70,69.6Z" fill="#f040c0"/>
<path d="M29,14.1Q30.7,16.3 32,18.5Q33.3,20.7 34,22.1Q34.8,23.6 35.1,24.7Q35.4,25.8 33.2,22.9Q31,20.1 29.4,17.6Q27.8,15.2 26.4,12.9Q25,10.7 24.3,9.2Q23.6,7.6 25.4,9.7Q27.2,11.9 29,14.1Z" fill="#c04850"/>
<path d="M69.2,10.6Q68.3,12.2 67,13.8Q65.8,15.3 65.2,15.7Q64.6,16.2 64.2,16.2Q63.9,16.2 64.9,14.5Q66,12.8 67.1,11.1Q68.2,9.3 69.6,7.7Q70.9,6 70.7,6.8Q70.5,7.7 70.3,8.3Q70.2,8.9 69.2,10.6Z" fill="#c04850"/>
</g>
<g filter="url(#rough)" transform="translate(29 199.5)">
<path d="M31.6,12.3Q32.1,14.9 32.3,18.4Q32.4,21.9 30.4,23.5Q28.4,25.2 26.7,23.2Q25,21.3 23.5,19.7Q21.9,18.1 22.2,15.1Q22.5,12.1 23.5,9.5Q24.4,6.9 26.4,5.8Q28.4,4.7 29.7,7.2Q31.1,9.7 31.6,12.3Z" fill="#20c040"/>
<path d="M38.5,10.3Q38.5,12.3 38.1,14.1Q37.8,15.8 36.1,17.4Q34.5,19 32.4,17.8Q30.3,16.7 28.1,15.7Q25.9,14.7 26.9,12.7Q27.9,10.6 28.9,9.1Q30,7.5 32.2,6.7Q34.4,5.8 36.5,7Q38.6,8.2 38.5,10.3Z" fill="#9a7a60"/>
<path d="M61.5,5Q62.8,6.5 61.6,8.1Q60.4,9.7 59,11.5Q57.7,13.3 55.8,12.1Q54,10.9 52.8,9.6Q51.6,8.3 51.5,6.5Q51.4,4.6 52.4,2.8Q53.3,0.9 55.5,0.6Q57.6,0.3 58.9,1.9Q60.1,3.5 61.5,5Z" fill="#c85058"/>
<path d="M58.1,17.4Q57.9,19.3 57.2,21.3Q56.5,23.4 53.6,23Q50.7,22.6 48.1,21.5Q45.6,20.4 45.5,18.4Q45.4,16.4 44.9,14.2Q44.3,12 46.8,11.4Q49.3,10.7 51.9,11.4Q54.5,12.1 56.3,13.8Q58.2,15.5 58.1,17.4Z" fill="#e08060"/>
<path d="M39.5,19.3Q39.2,20.5 38.4,21.8Q37.6,23.1 36.8,24.3Q36,25.5 35.9,24.9Q35.9,24.3 36.5,22.7Q37.2,21.1 37.8,19.6Q38.3,18.2 39.2,16.8Q40,15.4 40.4,15.2Q40.9,15.1 40.4,16.6Q39.9,18 39.5,19.3Z" fill="#0a3cf0"/>
<path d="M17.3,22.5Q17.9,24 16.9,25.3Q15.9,26.6 14.6,27.4Q13.2,28.2 11.7,27.7Q10.2,27.3 8.8,26.4Q7.5,25.5 7.2,23.9Q6.8,22.3 8.4,21.3Q9.9,20.4 11.4,20.5Q13,20.7 14.8,20.8Q16.6,21 17.3,22.5Z" fill="#6a3a10"/>
<path d="M21.8,25.7Q22.1,26.6 21.8,27.5Q21.4,28.4 20.6,28.8Q19.9,29.3 18.9,29.5Q17.9,29.6 17.6,28.6Q17.3,27.5 17.2,26.6Q17.1,25.6 17.7,25Q18.3,24.3 19.1,24.1Q19.9,24 20.7,24.4Q21.5,24.8 21.8,25.7Z" fill="#b0e8f0"/>
<path d="M9.9,32.3Q11.3,34.4 12.2,37Q13,39.5 12.3,41.6Q11.6,43.7 9.7,43.8Q7.8,43.8 6.2,41.9Q4.7,39.9 2.7,37.9Q0.8,35.9 1.3,33.5Q1.8,31.1 3.3,30.3Q4.8,29.5 6.7,29.8Q8.5,30.1 9.9,32.3Z" fill="#8070c0"/>
<path d="M15.6,33.1Q15.7,35.1 15.6,37.1Q15.5,39.2 15,40Q14.5,40.8 14.2,39.6Q13.8,38.3 13.2,37.9Q12.7,37.4 12.8,35.2Q12.9,33 13.2,31.6Q13.6,30.1 14,30.2Q14.5,30.2 15,30.6Q15.5,31.1 15.6,33.1Z" fill="#90e0a0"/>
<path d="M23.8,34Q23.9,35.7 24.1,37.7Q24.2,39.7 22.8,40Q21.4,40.3 20.2,40.3Q18.9,40.2 18.4,38.7Q17.9,37.2 17.3,35.4Q16.7,33.6 18,32.9Q19.3,32.1 20.4,31.3Q21.4,30.6 22.5,31.5Q23.7,32.4 23.8,34Z" fill="#1a7a2a"/>
<path d="M40,29.2Q40.8,31.2 40.1,33.3Q39.4,35.4 37.3,36.7Q35.1,38 32.9,37Q30.7,35.9 28.5,34.8Q26.2,33.7 26.8,31.4Q27.4,29.1 28.9,27.5Q30.3,25.8 32.7,25.2Q35.1,24.6 37.1,25.9Q39.1,27.2 40,29.2Z" fill="#e01010"/>
<path d="M50.3,24.1Q51.6,25.3 50.5,26.8Q49.5,28.2 47.9,28.9Q46.3,29.5 44.8,29.1Q43.3,28.6 42,27.7Q40.7,26.8 40.7,25.4Q40.8,23.9 41.6,22.4Q42.4,20.8 44.3,21.5Q46.1,22.2 47.6,22.5Q49,22.8 50.3,24.1Z" fill="#909090"/>
<path d="M58.1,30.7Q58.5,32.5 58.6,34.7Q58.7,37 56.4,37.1Q54.1,37.3 52.5,37Q50.9,36.6 48.8,35.7Q46.8,34.8 47.5,32.7Q48.2,30.6 49.1,28.7Q50,26.7 52.1,27Q54.2,27.3 55.9,28.1Q57.6,28.8 58.1,30.7Z" fill="#60b0d0"/>
<path d="M65.2,25Q65.6,26 64.9,26.8Q64.3,27.7 63.3,28.1Q62.3,28.6 61.1,28.5Q59.9,28.5 58.8,27.8Q57.8,27.1 58.2,26.1Q58.6,25.1 59.3,24.3Q60,23.5 61.1,23.5Q62.3,23.4 63.5,23.7Q64.8,23.9 65.2,25Z" fill="#d0b080"/>
<path d="M79.2,23.1Q79.4,24.7 78.5,25.9Q77.5,27.1 75.9,28.3Q74.2,29.6 71.6,29Q69.1,28.5 68,27.2Q66.9,26 66.1,24.5Q65.3,23.1 67.4,22.2Q69.5,21.3 71.8,20.9Q74,20.5 76.5,21Q79,21.6 79.2,23.1Z" fill="#4a70b0"/>
<path d="M76.7,30.9Q78,32.5 76.9,34.2Q75.8,35.9 73.1,36.6Q70.4,37.4 67.6,37Q64.8,36.5 63.6,35.2Q62.3,33.9 59.9,32Q57.6,30.1 61.6,29.6Q65.6,29.2 68,28.3Q70.4,27.5 72.8,28.4Q75.3,29.3 76.7,30.9Z" fill="#f040c0"/>
<path d="M87.6,37.9Q88.1,39.6 87.8,41.6Q87.4,43.5 85.7,43.8Q83.9,44.1 82.3,44.1Q80.8,44.1 79.6,42.8Q78.5,41.5 78.1,39.5Q77.7,37.5 79.4,36.6Q81,35.6 82.5,35.1Q84,34.6 85.5,35.4Q87,36.1 87.6,37.9Z" fill="#602080"/>
<path d="M14.7,47.9Q15.9,49.4 14.8,51Q13.8,52.6 11.4,52.4Q9.1,52.1 6.7,53.3Q4.3,54.5 3,52.8Q1.8,51.1 2.2,49.5Q2.6,47.8 4,46.8Q5.5,45.7 7.5,45.3Q9.6,44.9 11.5,45.6Q13.5,46.3 14.7,47.9Z" fill="#c8b060"/>
<path d="M21.1,45Q21.5,46.1 21.4,47.6Q21.2,49.1 20.3,49.5Q19.3,49.9 18.3,50.1Q17.2,50.3 16.8,48.9Q16.4,47.4 16.3,46Q16.1,44.6 16.8,43.7Q17.5,42.7 18.5,41.9Q19.4,41.1 20.1,42.4Q20.7,43.8 21.1,45Z" fill="#d0b8f0"/>
<path d="M31.1,43.8Q31.2,46.1 30.8,48.1Q30.3,50.1 28.9,51.3Q27.5,52.6 25.8,52.2Q24.1,51.8 23.2,50Q22.3,48.1 21.7,45.8Q21.1,43.5 22.9,42.7Q24.7,41.8 26.1,40.8Q27.5,39.8 29.2,40.6Q31,41.4 31.1,43.8Z" fill="#d080c0"/>
<path d="M43.1,35.4Q44.5,37.1 44.6,39Q44.8,41 43.4,42.4Q42.1,43.8 40.4,45.4Q38.6,46.9 36.9,45.7Q35.2,44.4 33.2,43.2Q31.3,41.9 32.8,39.9Q34.4,37.9 35.9,36.9Q37.5,35.9 39.7,34.8Q41.8,33.6 43.1,35.4Z" fill="#10d0f8"/>
<path d="M49.5,36.1Q49.7,37.7 49.7,39.5Q49.7,41.3 48.8,42.4Q48,43.5 47.2,42.3Q46.4,41.1 45.7,40.3Q45,39.4 44.9,37.6Q44.8,35.8 45.5,34.9Q46.3,33.9 47.1,33.1Q47.9,32.2 48.6,33.4Q49.3,34.6 49.5,36.1Z" fill="#c09020"/>
<path d="M63.7,38.2Q63.9,39.6 63.2,40.6Q62.4,41.6 61.4,42.2Q60.4,42.7 59,42.9Q57.6,43 56.9,41.9Q56.2,40.8 56.1,39.6Q56,38.4 56.9,37.5Q57.8,36.7 59.1,36.7Q60.3,36.7 62,36.8Q63.6,36.8 63.7,38.2Z" fill="#8a0a0a"/>
<path d="M60.4,46.1Q61.2,48.1 60.7,50.4Q60.3,52.7 58.7,54.9Q57.1,57.1 55.5,54.8Q53.8,52.5 51.7,51.7Q49.6,50.9 50.3,48.4Q51,45.8 51.9,43.7Q52.9,41.6 54.9,40.8Q57,40.1 58.3,42.1Q59.6,44.1 60.4,46.1Z" fill="#50a060"/>
<path d="M48.6,48.9Q48.9,50.7 48,52Q47.1,53.4 45.7,55.2Q44.3,57 42.3,55.6Q40.2,54.3 38.8,53.3Q37.4,52.2 36.7,50.5Q36,48.7 37.8,47.5Q39.6,46.3 41.8,46Q44,45.8 46.2,46.4Q48.3,47.1 48.6,48.9Z" fill="#0a1a80"/>
<path d="M69.8,51.2Q70.4,52 70.2,53.2Q69.9,54.4 69,55Q68.1,55.6 67,55.5Q66,55.4 65.9,54.1Q65.7,52.8 65.2,51.7Q64.7,50.7 65.4,49.8Q66.1,48.9 67.1,48.3Q68.1,47.8 68.6,49.1Q69.1,50.4 69.8,51.2Z" fill="#f4a0a0"/>
<path d="M81.9,49.9Q83.2,52.6 82.1,55.5Q81,58.4 78.5,59.6Q76.1,60.9 73.4,60.5Q70.8,60 69.2,57.7Q67.6,55.4 67.2,52.4Q66.7,49.4 68.5,46.9Q70.3,44.4 73.1,45.2Q75.8,46.1 78.2,46.7Q80.6,47.3 81.9,49.9Z" fill="#a04a0a"/>
<path d="M72.1,40.6Q73.3,40.3 72.8,41.2Q72.4,42 71.2,42.8Q69.9,43.5 68.8,44.3Q67.7,45 66.5,45.2Q65.4,45.5 65.1,45Q64.9,44.6 65.7,43.7Q66.5,42.9 67.6,42.1Q68.8,41.3 69.9,41Q70.9,40.8 72.1,40.6Z" fill="#f4b090"/>
<path d="M16.2,58.6Q16.7,59.8 16,60.8Q15.3,61.9 14,62.9Q12.7,63.9 11.2,63.1Q9.6,62.3 8.2,61.7Q6.7,61.1 6.6,59.7Q6.5,58.4 7.9,57.6Q9.3,56.8 10.9,56.5Q12.6,56.2 14.1,56.8Q15.7,57.3 16.2,58.6Z" fill="#107080"/>
<path d="M21.9,61.6Q22.9,63.7 21.3,65.2Q19.6,66.7 18.4,69Q17.1,71.2 14.4,70.4Q11.8,69.6 10.7,67.6Q9.5,65.7 9.3,63.6Q9,61.5 10.6,59.9Q12.2,58.4 14.6,57.7Q16.9,57 18.9,58.3Q21,59.6 21.9,61.6Z" fill="#a0a0a0"/>
<path d="M41,58.8Q43.1,60.4 41.9,62.6Q40.8,64.8 37.6,65Q34.4,65.2 31.8,65.1Q29.2,65 27,63.7Q24.8,62.5 24,60.2Q23.3,58 26.3,57Q29.3,56 32,55.3Q34.6,54.7 36.8,55.9Q38.9,57.1 41,58.8Z" fill="#9030e0"/>
<path d="M62.3,61.4Q63.6,63.7 62.5,66.1Q61.3,68.5 58.8,70.1Q56.3,71.8 53,71.3Q49.8,70.7 47.9,68.5Q46,66.3 46.5,63.8Q47.1,61.4 48.2,58.7Q49.4,56.1 52.8,55.8Q56.3,55.6 58.6,57.3Q61,59.1 62.3,61.4Z" fill="#ff8010"/>
<path d="M51.3,66.1Q51.7,67.6 51.3,69Q50.9,70.4 49.5,71.3Q48.2,72.1 46.9,71.4Q45.6,70.7 44.6,69.8Q43.6,68.9 43.2,67.4Q42.8,65.9 43.8,64.5Q44.9,63.2 46.4,63.9Q47.9,64.6 49.4,64.6Q50.9,64.6 51.3,66.1Z" fill="#404040"/>
<path d="M73.4,69.6Q74.3,72.1 73.4,74.6Q72.4,77.1 70.5,78.5Q68.7,79.9 66.5,79.5Q64.2,79.2 63.4,76.8Q62.5,74.4 61.8,71.8Q61.1,69.3 62.6,67.1Q64.1,64.9 66.4,64.7Q68.7,64.6 70.6,65.8Q72.5,67.1 73.4,69.6Z" fill="#f8c010"/>
<path d="M63.3,72.6Q63.8,73.4 63.7,74.5Q63.7,75.6 62.3,75.6Q60.9,75.6 59.6,76Q58.3,76.4 57.8,75.3Q57.3,74.3 57.4,73.4Q57.6,72.6 57.9,71.4Q58.2,70.3 59.6,70.5Q61,70.8 61.9,71.3Q62.8,71.8 63.3,72.6Z" fill="#c8c8c8"/>
<path d="M40.7,73.8Q40.7,76.7 40.2,79.2Q39.6,81.6 37.2,83.6Q34.8,85.5 31.8,84.5Q28.8,83.5 27.2,81.3Q25.5,79.2 25.5,76.7Q25.5,74.1 26.9,71.6Q28.3,69 31.4,69.4Q34.5,69.7 37.6,70.3Q40.6,70.9 40.7,73.8Z" fill="#0a3cf0"/>
<path d="M43.2,78.5Q43.3,79.3 43.2,80Q43.1,80.7 42,81.1Q41,81.6 39.8,81.3Q38.7,80.9 37.6,80.5Q36.6,80.1 37.1,79.4Q37.6,78.7 37.9,77.9Q38.2,77.1 39.5,77.2Q40.9,77.2 42,77.5Q43.2,77.8 43.2,78.5Z" fill="#f8b8e0"/>
<path d="M59.6,80.5Q60.1,81.9 60,83.4Q59.9,84.9 57.5,85.5Q55.2,86.1 52.4,86.2Q49.7,86.2 48.9,84.7Q48.2,83.1 47.9,81.8Q47.6,80.5 48.8,79.1Q49.9,77.7 52.6,77.3Q55.4,76.9 57.3,78.1Q59.1,79.2 59.6,80.5Z" fill="#b04010"/>
</g>
<g filter="url(#spiky)" transform="translate(122.2 199.5)">
<path d="M62.3,45Q62.5,54.6 62.7,64.6Q62.9,74.6 54.3,77.2Q45.6,79.8 36.6,80.8Q27.6,81.7 23.1,72.8Q18.7,63.9 19.5,54.9Q20.3,45.9 24.4,37.7Q28.6,29.4 37.4,27.4Q46.2,25.4 54.1,30.4Q62,35.4 62.3,45Z" fill="#c09090"/>
<path d="M25.8,11.6Q27.7,17 28.7,24Q29.7,31.1 27.6,34.3Q25.6,37.5 22.9,34.7Q20.2,32 17.8,28.7Q15.4,25.4 13,18.4Q10.5,11.4 12.9,8.2Q15.3,4.9 17,1.8Q18.7,-1.3 21.3,2.5Q23.9,6.3 25.8,11.6Z" fill="#ff8010"/>
<path d="M62.9,6.6Q62.8,9.1 62.6,11.3Q62.5,13.6 60.2,14.7Q57.8,15.8 55.1,15.6Q52.4,15.5 51.8,13.2Q51.1,10.9 49.3,8.5Q47.5,6.1 50.4,5Q53.2,3.9 55.4,3.7Q57.6,3.4 60.3,3.8Q63.1,4.2 62.9,6.6Z" fill="#f050c0"/>
<path d="M57.3,18.7Q57.5,20.8 57.4,23.3Q57.3,25.9 56.8,27.7Q56.2,29.5 55.6,28.4Q55,27.3 54.8,24.9Q54.7,22.6 54.3,20.2Q53.9,17.7 54.4,15.9Q54.9,14 55.6,13.3Q56.2,12.5 56.7,14.5Q57.1,16.5 57.3,18.7Z" fill="#f050c0"/>
<path d="M60.5,31.8Q60.8,33.8 60.8,36.1Q60.8,38.4 59.2,39.8Q57.5,41.1 55.5,40.7Q53.5,40.4 52.7,38.2Q51.9,35.9 52,33.8Q52.1,31.7 52.9,29.6Q53.7,27.5 55.7,26.6Q57.6,25.7 58.9,27.8Q60.1,29.9 60.5,31.8Z" fill="#10d0f8"/>
<path d="M47.9,21.7Q48,22.7 48.3,24Q48.5,25.2 47,25.2Q45.4,25.2 44.2,25.2Q43,25.3 42.2,24.5Q41.4,23.7 41.1,22.6Q40.8,21.6 41.8,20.8Q42.9,20 44.1,20.1Q45.4,20.2 46.6,20.4Q47.8,20.7 47.9,21.7Z" fill="#0a3cf0"/>
<path d="M43.2,24.9Q44.1,26 42.6,26.8Q41.1,27.6 39.8,28.1Q38.5,28.6 36.7,28.6Q34.9,28.7 33.7,27.9Q32.6,27.1 32.4,25.9Q32.2,24.8 33.6,24.1Q34.9,23.3 36.6,23.7Q38.3,24.1 40.3,23.9Q42.4,23.7 43.2,24.9Z" fill="#d0b080"/>
<path d="M36.9,27.2Q37.1,27.9 37.2,28.8Q37.3,29.8 36.1,29.8Q34.9,29.8 33.9,29.8Q33,29.8 32.1,29.3Q31.3,28.8 31.5,28Q31.8,27.2 32.3,26.5Q32.8,25.9 33.9,25.9Q34.9,25.9 35.8,26.2Q36.7,26.5 36.9,27.2Z" fill="#20c040"/>
<path d="M37.5,32.1Q37.6,33.1 37.7,34.3Q37.8,35.4 36.4,35.6Q35,35.9 33.8,35.8Q32.5,35.8 31.7,35Q30.9,34.2 30.8,33.1Q30.8,32.1 31.7,31.3Q32.5,30.5 33.8,30.4Q35.1,30.2 36.2,30.7Q37.4,31.2 37.5,32.1Z" fill="#602080"/>
<path d="M42.8,32.9Q42.6,33.8 42.7,34.6Q42.9,35.4 41.8,35.6Q40.8,35.8 39.8,35.8Q38.8,35.7 38,35.1Q37.2,34.6 37.2,33.8Q37.1,32.9 38.1,32.5Q39,32.1 39.9,31.9Q40.8,31.6 41.9,31.8Q43.1,32 42.8,32.9Z" fill="#0a1a80"/>
<path d="M30.5,37.2Q32,39 30.6,40.8Q29.1,42.6 27.7,43.7Q26.2,44.7 24.6,44.1Q23,43.5 21.3,42.5Q19.6,41.4 20,39.1Q20.3,36.9 21.4,35.1Q22.4,33.3 24.3,33.8Q26.1,34.3 27.6,34.8Q29.1,35.4 30.5,37.2Z" fill="#4a70b0"/>
<path d="M18.6,36.7Q18.7,37.7 18.3,38.6Q17.9,39.4 16.6,40.2Q15.3,41.1 13.7,40.5Q12.1,39.9 10.5,39.3Q8.8,38.8 9.2,37.8Q9.6,36.7 10.7,36Q11.9,35.3 13.6,35Q15.2,34.6 16.9,35.1Q18.5,35.7 18.6,36.7Z" fill="#b04010"/>
<path d="M17,44.8Q17.9,46.1 17.4,47.7Q16.8,49.4 15.2,49.4Q13.6,49.5 12,50Q10.4,50.6 9.7,49.1Q8.9,47.6 8.9,46.1Q8.9,44.6 9.9,43.6Q10.9,42.5 12.4,41.8Q13.9,41.1 15,42.3Q16.1,43.5 17,44.8Z" fill="#90e0a0"/>
<path d="M25.1,45.1Q24.8,46.8 25.2,48.5Q25.5,50.2 23.9,50.8Q22.2,51.3 20.9,50.7Q19.6,50 18.4,49.1Q17.3,48.3 17.1,46.7Q16.8,45.1 18,44Q19.2,43 20.7,42.7Q22.2,42.5 23.8,42.9Q25.5,43.4 25.1,45.1Z" fill="#107080"/>
<path d="M68.2,33.9Q68.2,36.4 68.3,39Q68.5,41.6 66.6,42.6Q64.6,43.5 62.9,42.8Q61.1,42 60.5,40.1Q59.8,38.2 58.6,35.8Q57.4,33.5 59,31.6Q60.6,29.6 62.5,30.7Q64.3,31.8 66.2,31.6Q68.2,31.5 68.2,33.9Z" fill="#8070c0"/>
<path d="M44.5,48.4Q45.9,50.7 44.6,53.1Q43.2,55.5 40.7,57.1Q38.1,58.8 35,58Q31.9,57.1 30.6,55Q29.2,52.9 28.8,50.5Q28.3,48.2 29.5,45.3Q30.6,42.4 34.1,43.6Q37.6,44.8 40.3,45.4Q43,46 44.5,48.4Z" fill="#e8a0a0"/>
<path d="M49,46.3Q49.6,49.4 48.7,52.1Q47.8,54.8 46.1,56Q44.5,57.3 42.3,57.7Q40.2,58.1 38.8,55.4Q37.4,52.7 37.8,49.6Q38.2,46.5 39.6,44.7Q41,42.9 42.9,40.9Q44.8,38.9 46.6,41.1Q48.4,43.3 49,46.3Z" fill="#e01010"/>
<path d="M19.6,53.7Q21.1,54.6 20.2,55.9Q19.3,57.1 17.8,57.7Q16.4,58.2 15,57.8Q13.7,57.4 12.5,56.6Q11.3,55.9 11.1,54.5Q10.9,53.2 12.1,52.1Q13.2,51.1 14.8,51Q16.4,50.8 17.2,51.9Q18,52.9 19.6,53.7Z" fill="#ff8010"/>
<path d="M24.9,54.6Q25.3,55.9 24.5,56.7Q23.7,57.5 23.2,58.8Q22.7,60.2 21.6,59.8Q20.4,59.4 20,58.2Q19.5,57.1 19.2,55.7Q18.8,54.4 19.9,53.8Q20.9,53.3 21.8,52.5Q22.7,51.7 23.6,52.6Q24.4,53.4 24.9,54.6Z" fill="#f0e070"/>
<path d="M22.9,58.5Q22.6,59.8 22.3,60.6Q22.1,61.5 21.1,62Q20.1,62.5 18.6,62.9Q17,63.2 16.9,61.9Q16.8,60.5 16.6,59.7Q16.3,58.8 16.9,57.9Q17.4,56.9 18.7,57.1Q20.1,57.2 21.6,57.3Q23.1,57.3 22.9,58.5Z" fill="#c09020"/>
<path d="M24,65.9Q24.6,67.6 24.7,69.8Q24.8,72 22.5,73.1Q20.1,74.1 18.2,72.7Q16.4,71.4 14.2,70.6Q12,69.8 12.2,67.6Q12.4,65.5 14,64.1Q15.6,62.6 17.9,61.9Q20.1,61.1 21.7,62.7Q23.3,64.2 24,65.9Z" fill="#a0a0a0"/>
<path d="M31.8,55.6Q31.6,58.5 31.3,60.7Q31,62.9 29.7,65.1Q28.4,67.3 26.6,65.9Q24.9,64.5 23.6,62.8Q22.3,61.1 22.2,58.4Q22.2,55.8 23.6,54.4Q25.1,53 26.7,51.6Q28.3,50.2 30.1,51.5Q32,52.8 31.8,55.6Z" fill="#50a060"/>
<path d="M47.7,60.9Q48.5,63.7 46.9,65.9Q45.3,68.2 42.2,69Q39.2,69.7 35.6,70.3Q31.9,70.8 29.4,68.6Q26.8,66.5 27.8,63.9Q28.8,61.4 31,59.7Q33.1,58 36.3,57Q39.6,56.1 43.2,57.1Q46.9,58.1 47.7,60.9Z" fill="#a050f0"/>
<path d="M57.8,68.8Q58.9,71.5 57.8,74.1Q56.7,76.8 54.1,79.3Q51.5,81.9 47.7,80.8Q43.9,79.6 42.4,76.9Q40.9,74.1 40.8,71.4Q40.7,68.8 42.1,65.8Q43.5,62.8 47.4,62.3Q51.4,61.8 54,64Q56.6,66.2 57.8,68.8Z" fill="#1050f0"/>
<path d="M78,49.2Q78,53.3 77.1,56.5Q76.2,59.8 73.5,62.6Q70.9,65.4 67.4,64Q63.9,62.5 61.3,59.9Q58.8,57.2 59.7,53.6Q60.6,50 62,46.7Q63.5,43.3 67.1,42.7Q70.7,42.1 74.3,43.6Q77.9,45.1 78,49.2Z" fill="#20c040"/>
<path d="M66.2,67.4Q67,68.9 66,70.2Q65,71.5 63,72.2Q61,73 58.2,73.2Q55.4,73.4 53.3,72.1Q51.1,70.7 53.4,69.4Q55.7,68 55.8,66.4Q55.9,64.9 58.5,64.5Q61.2,64.1 63.3,65.1Q65.5,66 66.2,67.4Z" fill="#a0a0a0"/>
<path d="M38.8,68.1Q39.1,71.5 39.6,74.2Q40.1,76.8 36.7,79.3Q33.2,81.7 28.8,83.4Q24.4,85 20.1,84.3Q15.7,83.6 17.2,80.1Q18.7,76.6 19.2,73.8Q19.7,70.9 23.9,69.3Q28.1,67.8 33.3,66.2Q38.5,64.7 38.8,68.1Z" fill="#a04a0a"/>
<path d="M54.8,81.9Q54.6,83.2 54,83.8Q53.4,84.5 52.7,85.5Q52,86.4 50.6,86.3Q49.1,86.2 48.6,85.2Q48.1,84.1 48.1,83.2Q48.1,82.2 48.7,81.3Q49.3,80.4 50.6,80.4Q51.9,80.4 53.4,80.5Q55,80.7 54.8,81.9Z" fill="#f050c0"/>
<path d="M60.3,46.1Q61.4,48.1 60.2,49.9Q59,51.8 57.2,52.1Q55.3,52.4 53.3,53.1Q51.3,53.8 49.9,52Q48.5,50.3 48.8,48.2Q49,46.1 50.5,44.8Q51.9,43.5 53.8,42.9Q55.6,42.3 57.4,43.2Q59.2,44.2 60.3,46.1Z" fill="#d09040"/>
</g>
<g filter="url(#rough)" transform="translate(215.4 199.5)">
<path d="M16,53.9Q17.1,57.2 16.4,60.9Q15.7,64.7 13,65.9Q10.4,67.2 7.7,67Q5,66.9 3.7,63.7Q2.5,60.4 2,56.9Q1.5,53.4 2.9,49.6Q4.2,45.7 7.3,46.6Q10.4,47.4 12.6,49Q14.8,50.7 16,53.9Z" fill="#e01010"/>
<path d="M30,63Q32.6,65 30.2,67Q27.8,69.1 25.3,69.8Q22.7,70.5 19.4,71.3Q16.2,72 13.8,69.9Q11.4,67.8 11.8,65.1Q12.1,62.3 15.2,61.5Q18.2,60.7 20.8,58.5Q23.4,56.4 25.4,58.7Q27.5,61.1 30,63Z" fill="#a04a0a"/>
<path d="M30.3,42.5Q30,44 28.8,44.9Q27.6,45.9 25.5,45.7Q23.4,45.5 22.2,43.9Q21,42.2 19.6,40.6Q18.3,39 19.2,37.8Q20.1,36.5 21.9,36.2Q23.7,35.9 25.6,37Q27.4,38.2 29.1,39.6Q30.7,41 30.3,42.5Z" fill="#d88050"/>
<path d="M34,37.7Q34,39 33.9,40.2Q33.8,41.5 32.7,41.7Q31.6,42 30.6,42.2Q29.5,42.3 29,41.2Q28.5,40.1 28.2,38.9Q27.9,37.6 28.7,36.6Q29.4,35.5 30.5,35.8Q31.6,36.1 32.8,36.2Q33.9,36.4 34,37.7Z" fill="#c85058"/>
<path d="M44.5,33.5Q44.8,36.4 44.3,39.1Q43.8,41.8 42,44Q40.3,46.2 38,45Q35.8,43.8 34.7,41.4Q33.7,38.9 33.4,36.2Q33.1,33.5 34.1,30.4Q35,27.2 37.4,28.6Q39.8,30 42,30.3Q44.1,30.6 44.5,33.5Z" fill="#f8c010"/>
<path d="M40.3,50.1Q41.1,53.3 40.5,56.6Q40,60 37.3,61.6Q34.6,63.2 31.9,62.3Q29.1,61.3 27.2,59Q25.2,56.6 24.8,53.1Q24.4,49.6 26.8,47.4Q29.2,45.3 31.9,44.2Q34.7,43.1 37.1,45.1Q39.6,47 40.3,50.1Z" fill="#20c040"/>
<path d="M52,26.8Q53.1,28.6 51.9,30.3Q50.6,31.9 48.4,32.1Q46.3,32.3 43.9,33.1Q41.5,33.9 40.6,32.1Q39.7,30.2 39.6,28.6Q39.6,26.9 40.7,25.4Q41.9,23.8 44.2,24.1Q46.4,24.4 48.6,24.7Q50.8,25.1 52,26.8Z" fill="#50a060"/>
<path d="M66.5,28.3Q66.8,32.5 64.8,35Q62.8,37.5 60.8,39.8Q58.7,42.1 55,42.7Q51.3,43.4 50.4,39.4Q49.5,35.5 48.7,32.2Q47.9,28.9 50.3,26.5Q52.7,24.1 55.6,24.2Q58.5,24.2 62.4,24.2Q66.3,24.2 66.5,28.3Z" fill="#0a3cf0"/>
<path d="M55.3,50.2Q55.9,52 55.7,54Q55.6,56.1 53.4,56.9Q51.1,57.6 48.9,57.3Q46.7,57 45.3,55.5Q43.8,54 44.4,52.2Q45.1,50.4 45.6,48.2Q46.2,46 48.7,46.1Q51.2,46.1 53,47.3Q54.7,48.5 55.3,50.2Z" fill="#10d0f8"/>
<path d="M85.3,32Q86.2,34.4 85,36.6Q83.7,38.8 81.3,39.1Q78.9,39.5 76.3,40.2Q73.7,41 72.7,38.8Q71.6,36.5 70.9,34.2Q70.1,31.9 72.1,30.1Q74.1,28.4 76.4,29.3Q78.8,30.2 81.6,29.9Q84.4,29.5 85.3,32Z" fill="#4a70b0"/>
<path d="M78.8,45.5Q80.1,48.1 78.4,50.4Q76.7,52.7 74.3,54.4Q71.8,56.1 68.4,55.8Q65.1,55.5 64.1,52.9Q63.1,50.3 61.5,47.6Q60,44.9 62.8,43.2Q65.6,41.4 68.6,41.2Q71.6,41 74.5,42Q77.4,42.9 78.8,45.5Z" fill="#a0a0a0"/>
<path d="M87.4,50.4Q88.2,50.6 88.6,51.1Q89.1,51.6 86.7,52.3Q84.2,52.9 82.6,53.3Q81,53.7 79.4,53.8Q77.8,53.9 78,53.4Q78.1,52.8 78.9,52.1Q79.7,51.5 81.7,51Q83.7,50.5 85.2,50.3Q86.7,50.2 87.4,50.4Z" fill="#8070c0"/>
<path d="M64.7,66.9Q65.5,70.8 63.9,73.9Q62.3,77.1 59.9,79.1Q57.5,81.2 54.4,80.6Q51.3,80 48.8,77.4Q46.3,74.8 46.7,71Q47.2,67.2 49.3,64.5Q51.4,61.9 54.4,61.6Q57.3,61.2 60.6,62.1Q63.9,63.1 64.7,66.9Z" fill="#ff8010"/>
<path d="M72.9,70.5Q73.1,73.4 73,76.4Q72.9,79.4 70.4,79.9Q67.9,80.3 65.2,81.5Q62.5,82.7 61.5,79.4Q60.5,76.2 60.7,73.5Q60.9,70.8 61.9,68Q63,65.3 65.6,64.8Q68.2,64.3 70.4,66Q72.7,67.6 72.9,70.5Z" fill="#9030e0"/>
<path d="M85.4,63.4Q85.9,65.6 84.9,67.5Q84,69.4 81.8,70.9Q79.6,72.4 76.3,72.2Q73.1,72 72.4,69.6Q71.8,67.3 70.3,65.2Q68.8,63.1 71.1,61.4Q73.4,59.7 76.4,59.7Q79.4,59.6 82.1,60.4Q84.9,61.2 85.4,63.4Z" fill="#f040c0"/>
<path d="M64.1,7Q64.2,7.8 64.1,8.7Q64.1,9.5 63.9,10.4Q63.8,11.3 63.6,10.7Q63.4,10.1 63.3,9.3Q63.3,8.5 63.2,7.6Q63.1,6.7 63.2,6.1Q63.4,5.4 63.6,5Q63.8,4.6 63.9,5.4Q64.1,6.1 64.1,7Z" fill="#c05050"/>
</g>
<g filter="url(#blend2)" transform="translate(308.6 199.5)">
<path d="M52.6,31.6Q58,39 56.8,50.4Q55.5,61.9 45.6,61.4Q35.7,60.9 28.3,62Q20.8,63.1 13.8,56.6Q6.8,50.1 6.6,38.9Q6.4,27.7 14,22.1Q21.6,16.5 29.5,11.3Q37.4,6 42.3,15.2Q47.2,24.3 52.6,31.6Z" fill="#b06080"/>
<path d="M40.1,6.5Q41.1,10.4 39.4,13.5Q37.7,16.5 35.8,18.8Q33.8,21 31.1,20.8Q28.3,20.6 26.7,17.3Q25.2,14.1 25.2,10.4Q25.1,6.7 26.4,2.8Q27.7,-1.1 30.6,0.8Q33.4,2.8 36.2,2.7Q39.1,2.7 40.1,6.5Z" fill="#a0a0a0"/>
<path d="M61,11.4Q62.7,13 60.9,14.5Q59,16 55.6,16.4Q52.2,16.7 48.8,16.8Q45.4,16.9 42.4,15.8Q39.5,14.7 38.8,12.9Q38.1,11 42.2,10.4Q46.3,9.8 49.4,9.2Q52.5,8.7 55.9,9.3Q59.3,9.9 61,11.4Z" fill="#a08870"/>
<path d="M46.9,5.1Q47,6.5 46.7,7.6Q46.4,8.8 45.6,10Q44.8,11.2 43.9,10.3Q42.9,9.3 42.1,8.6Q41.2,7.8 41.2,6.5Q41.2,5.2 41.9,4.1Q42.6,3 43.6,2.9Q44.7,2.7 45.8,3.2Q46.8,3.7 46.9,5.1Z" fill="#a08870"/>
<path d="M20.3,18.3Q20.3,20.5 18,21.3Q15.7,22 12.9,21.9Q10.2,21.7 6.4,21Q2.6,20.2 1.5,17.8Q0.4,15.3 1,13.5Q1.6,11.6 4.7,11.6Q7.7,11.7 10.7,12.2Q13.7,12.7 17,14.4Q20.3,16.1 20.3,18.3Z" fill="#10d0f8"/>
<path d="M28.8,17.3Q30.4,18.8 28.9,20.5Q27.3,22.2 26,24.1Q24.6,26 22.4,25.1Q20.2,24.3 18.9,22.6Q17.6,20.9 17.7,18.9Q17.9,16.8 19,15Q20.1,13.2 22.3,12.8Q24.5,12.4 25.8,14Q27.1,15.7 28.8,17.3Z" fill="#4a70b0"/>
<path d="M67.5,20.1Q70,24 68.5,28.7Q67.1,33.3 61.2,33.5Q55.4,33.7 50.7,33.9Q46,34.1 40.3,31.8Q34.6,29.5 37.6,24.9Q40.6,20.3 42.8,16.5Q45,12.6 50.4,12.5Q55.8,12.4 60.5,14.2Q65.1,16.1 67.5,20.1Z" fill="#0a3cf0"/>
<path d="M28.7,27.2Q28.2,31.2 29,35.5Q29.7,39.8 25.6,41Q21.4,42.3 17.6,41.6Q13.8,41 11.2,38.1Q8.7,35.1 8.8,31.2Q8.9,27.3 11.3,24.3Q13.7,21.2 17.5,20.9Q21.4,20.6 25.2,21.9Q29.1,23.1 28.7,27.2Z" fill="#ff8010"/>
<path d="M40.9,23.7Q42.9,26 41.1,28.5Q39.3,31 37.4,32.2Q35.5,33.4 33.1,33.6Q30.7,33.9 29.1,31.5Q27.5,29.1 27.2,25.9Q27,22.7 29.2,21.2Q31.5,19.8 33.6,18.4Q35.7,16.9 37.3,19.1Q38.9,21.4 40.9,23.7Z" fill="#f8c010"/>
<path d="M37.2,43.5Q37.4,46.1 37,48.6Q36.6,51.1 32.2,53.1Q27.8,55 22.5,53.8Q17.2,52.6 13.8,50.6Q10.5,48.7 10.1,46.1Q9.7,43.4 14.2,42.1Q18.6,40.9 23.3,38.9Q27.9,37 32.5,39Q37,41 37.2,43.5Z" fill="#a040e0"/>
<path d="M60.2,42.2Q61.7,44.2 60.7,46.4Q59.6,48.6 56.9,50.5Q54.1,52.4 51.2,50.5Q48.3,48.6 44.8,47.7Q41.3,46.9 41.7,44.3Q42.1,41.7 44.9,40.3Q47.6,39 50.8,37.7Q54,36.4 56.3,38.4Q58.6,40.3 60.2,42.2Z" fill="#a04a0a"/>
<path d="M45.8,51Q45.6,54.6 45.1,57.5Q44.7,60.4 42.6,62.5Q40.4,64.6 37.6,63.9Q34.8,63.3 33.8,60.3Q32.8,57.3 31.9,54.2Q31.1,51.1 33.3,49.3Q35.6,47.5 38,46.1Q40.4,44.6 43.2,46.1Q46,47.5 45.8,51Z" fill="#f050c0"/>
<path d="M62.9,59.8Q63.1,61.8 61.6,63.3Q60.2,64.8 57.6,63.7Q55.1,62.7 52.5,62Q50,61.3 48.7,59.1Q47.5,56.9 48.8,55.3Q50.2,53.8 52.4,53.6Q54.6,53.4 57.1,53.5Q59.7,53.7 61.3,55.8Q62.8,57.8 62.9,59.8Z" fill="#d88050"/>
<path d="M27,55.9Q26.5,61.1 25.6,64.8Q24.6,68.6 21.5,69.5Q18.3,70.5 14.9,71.1Q11.5,71.8 9.3,68.5Q7,65.2 6.3,60.8Q5.6,56.3 8.8,53.9Q12.1,51.4 15.1,52Q18.2,52.6 22.9,51.6Q27.6,50.7 27,55.9Z" fill="#e01010"/>
<path d="M45.3,72.3Q44.6,76.7 45,80.8Q45.5,84.9 41.4,86.6Q37.3,88.3 33.1,87.4Q29,86.5 25.5,83.8Q22,81.1 23.1,77Q24.2,72.9 26.9,70.3Q29.5,67.7 33.4,66.2Q37.3,64.8 41.7,66.4Q46.1,68 45.3,72.3Z" fill="#20c040"/>
<path d="M87.2,46.5Q88.8,47.6 87,46.8Q85.1,45.9 83.2,44.9Q81.2,43.8 78.6,42.4Q76,41 75,40.2Q74,39.3 74.2,39.2Q74.5,39.1 76.2,40Q77.9,40.8 80,41.9Q82.1,43 83.9,44.2Q85.6,45.4 87.2,46.5Z" fill="#60b0d0"/>
<path d="M41.9,33.8Q42.8,36.4 42,39Q41.2,41.6 38.4,43.4Q35.7,45.3 32.9,43.4Q30.2,41.6 27,40.5Q23.8,39.4 23.7,36.4Q23.7,33.3 26.7,31.9Q29.7,30.4 32.6,29.4Q35.5,28.3 38.3,29.8Q41.1,31.3 41.9,33.8Z" fill="#c08060"/>
</g>
<g filter="url(#blend2)" transform="translate(401.8 199.5)">
<path d="M60.8,30.1Q61.3,42.9 61.6,56.7Q61.8,70.4 52.3,72.5Q42.9,74.5 34.4,74.9Q26,75.3 20.7,65.2Q15.4,55.2 15,42.7Q14.5,30.1 20.8,21.6Q27,13 35,11.3Q43.1,9.6 51.6,13.4Q60.2,17.3 60.8,30.1Z" fill="#a07090"/>
<path d="M40.1,6.3Q41.9,9.7 40.2,13.3Q38.5,16.9 35.5,17.7Q32.5,18.5 29.7,18.5Q26.8,18.5 23.6,16.4Q20.4,14.3 21.2,10.1Q22,5.9 24.4,3.3Q26.7,0.7 29.7,0.5Q32.6,0.2 35.4,1.5Q38.2,2.8 40.1,6.3Z" fill="#ff8010"/>
<path d="M53.9,4.6Q55.7,6.5 54.1,8.5Q52.6,10.5 49.8,11.4Q47,12.2 43.6,12.4Q40.1,12.7 38.6,10.6Q37.1,8.5 37.2,6.5Q37.3,4.5 39.1,2.8Q40.9,1.2 44,0.6Q47.2,-0.1 49.7,1.3Q52.2,2.7 53.9,4.6Z" fill="#c85058"/>
<path d="M57.4,15.2Q59.5,18.2 57.5,21.4Q55.5,24.5 53.6,26.1Q51.7,27.7 49.3,28.1Q46.9,28.4 45.3,25.3Q43.8,22.1 43.7,18.2Q43.7,14.2 45.5,11.8Q47.4,9.3 49.7,8Q52,6.7 53.6,9.5Q55.2,12.3 57.4,15.2Z" fill="#10d0f8"/>
<path d="M65.9,14.2Q66.5,16.9 66.7,20.5Q66.8,24.2 64.5,25Q62.1,25.8 60.1,25.3Q58.1,24.7 57.2,22.1Q56.3,19.5 55.2,16.3Q54.2,13.1 56,10.8Q57.8,8.5 60,7.9Q62.2,7.3 63.8,9.4Q65.4,11.5 65.9,14.2Z" fill="#0a2080"/>
<path d="M37.2,28.8Q36,31.8 33.4,33.5Q30.8,35.1 26.5,35.2Q22.1,35.3 17.4,32.2Q12.6,29.2 12.3,25.3Q12.1,21.5 12.6,18Q13.2,14.6 18.1,16.1Q23,17.7 27.9,17.5Q32.8,17.3 35.6,21.6Q38.4,25.8 37.2,28.8Z" fill="#0a3cf0"/>
<path d="M48.5,21.3Q51.9,24.8 51.2,29.4Q50.4,34 49,37.2Q47.5,40.3 44.4,41Q41.3,41.6 38.8,38.1Q36.2,34.7 32.2,30.6Q28.1,26.5 31.5,23.7Q34.9,20.9 36.8,18.6Q38.7,16.3 41.9,17.1Q45.2,17.9 48.5,21.3Z" fill="#a04a0a"/>
<path d="M82.1,34.2Q84.1,38.3 80.5,41.3Q76.9,44.3 74,47Q71.2,49.8 66.8,48.9Q62.5,48.1 58.6,45.5Q54.6,42.9 55.8,38.7Q57,34.5 59.9,31.8Q62.8,29 66.8,28.7Q70.9,28.4 75.5,29.2Q80.1,30 82.1,34.2Z" fill="#e01010"/>
<path d="M35.2,33.3Q37,35.1 36.3,37.4Q35.6,39.7 31.4,40.8Q27.1,42 23.5,40.6Q19.9,39.2 16.4,38.2Q13,37.2 13.2,35.1Q13.3,33 15.3,30.9Q17.4,28.7 22,29.1Q26.7,29.4 30,30.4Q33.4,31.4 35.2,33.3Z" fill="#d090c0"/>
<path d="M32.8,39Q33.9,40.3 32.3,41.4Q30.6,42.4 28.9,43.3Q27.2,44.1 24.9,43.8Q22.7,43.5 20.4,42.7Q18.2,41.8 18.8,40.4Q19.3,38.9 21.3,38.4Q23.4,37.8 25.3,37Q27.2,36.3 29.5,37Q31.7,37.6 32.8,39Z" fill="#a00a0a"/>
<path d="M59.3,39.2Q60,40.3 59.5,41.6Q59,42.9 58,43.1Q56.9,43.3 55.8,43.8Q54.6,44.3 54.1,43Q53.6,41.6 53.8,40.3Q53.9,39.1 54.4,38Q54.9,36.8 56,36.3Q57.1,35.8 57.8,37Q58.5,38.2 59.3,39.2Z" fill="#404040"/>
<path d="M53.4,43.8Q53.9,46.1 53.2,48.3Q52.5,50.4 49.3,50.9Q46.2,51.3 43.3,51.3Q40.4,51.3 38.6,49.7Q36.8,48.1 35.2,45.7Q33.6,43.4 37.2,42.4Q40.7,41.4 43.4,41.2Q46.2,41.1 49.6,41.3Q53,41.5 53.4,43.8Z" fill="#f8c010"/>
<path d="M29.4,47.7Q31.6,50.7 28,52.6Q24.4,54.5 22.8,56.8Q21.1,59.2 17.8,59Q14.4,58.8 12.3,56.3Q10.2,53.8 10.4,50.7Q10.6,47.7 12.8,45.7Q15.1,43.7 18.1,43.1Q21.1,42.4 24.1,43.6Q27.1,44.8 29.4,47.7Z" fill="#9030e0"/>
<path d="M36.7,44Q38.6,45.5 37.4,47.3Q36.2,49.2 33.7,49.9Q31.2,50.6 28.7,50.3Q26.2,50 24.3,48.7Q22.4,47.4 22.5,45.5Q22.6,43.6 24.3,42.2Q26,40.8 28.6,40.5Q31.2,40.3 33,41.4Q34.9,42.5 36.7,44Z" fill="#a0a0a0"/>
<path d="M58.6,47.6Q58.7,52 59.1,57.1Q59.4,62.2 56.8,62.3Q54.2,62.4 52.4,61.9Q50.5,61.4 48.6,59.1Q46.7,56.8 47,52.2Q47.3,47.6 48.7,44.4Q50.2,41.2 52.2,41.3Q54.2,41.5 56.3,42.4Q58.5,43.2 58.6,47.6Z" fill="#d88050"/>
<path d="M46.1,55Q47.5,58.5 44.8,61Q42.1,63.5 39.6,65.8Q37.1,68.1 33.4,67.2Q29.7,66.4 27.3,64.1Q24.8,61.7 24.5,58.4Q24.2,55.1 27,52.9Q29.9,50.7 33.3,50.5Q36.8,50.3 40.8,50.9Q44.8,51.5 46.1,55Z" fill="#b0a090"/>
<path d="M22.6,57.4Q22.8,58.5 22.8,59.6Q22.9,60.7 21,61.1Q19.1,61.5 17.2,61.4Q15.3,61.4 14.1,60.5Q12.9,59.6 13.3,58.6Q13.7,57.5 14.5,56.6Q15.3,55.6 17.2,55.4Q19.2,55.3 20.8,55.9Q22.5,56.4 22.6,57.4Z" fill="#1a7a2a"/>
<path d="M25,64.5Q27,67.6 25.2,70.8Q23.5,74.1 20.5,74.7Q17.5,75.4 14.8,75.4Q12.1,75.4 8.3,73.8Q4.6,72.1 6.7,68.4Q8.8,64.6 10.2,61.7Q11.5,58.7 14.7,58.3Q17.8,57.9 20.4,59.6Q23,61.4 25,64.5Z" fill="#20c040"/>
<path d="M53.3,65.2Q54.9,67.6 52.1,69.1Q49.3,70.6 47.8,72.7Q46.4,74.7 42.9,74.9Q39.5,75.1 37.7,72.7Q36,70.2 37.5,68Q38.9,65.8 39.6,63.5Q40.3,61.2 43.3,60.9Q46.3,60.6 49,61.7Q51.6,62.9 53.3,65.2Z" fill="#f040c0"/>
<path d="M65.9,60.6Q65.9,63.7 65.9,66.8Q66,69.9 63.6,71.9Q61.3,73.8 58.6,72.7Q55.9,71.7 54.5,69.1Q53,66.6 52.8,63.6Q52.7,60.6 54.1,57.6Q55.5,54.7 58.3,54.4Q61.2,54.1 63.5,55.8Q65.9,57.5 65.9,60.6Z" fill="#60b0d0"/>
<path d="M39.6,72.9Q39.9,75.4 38.3,77Q36.7,78.7 34.7,80.4Q32.8,82.1 29.8,81.5Q26.8,80.9 24.9,79.2Q23.1,77.5 23,75.3Q23,73.2 24.9,71.5Q26.8,69.8 29.6,70Q32.4,70.1 35.8,70.3Q39.2,70.5 39.6,72.9Z" fill="#8070c0"/>
<path d="M63.3,75.1Q65.3,78 63.3,80.9Q61.4,83.9 59.3,85.7Q57.2,87.4 54.5,87.2Q51.8,87 49.7,84.5Q47.5,81.9 48.4,78.4Q49.3,74.9 50.5,71.8Q51.8,68.7 54.5,68.2Q57.3,67.7 59.2,69.9Q61.2,72.1 63.3,75.1Z" fill="#4a70b0"/>
<path d="M69.5,75.2Q70.1,76.1 69.2,75.9Q68.2,75.7 67.2,75.2Q66.1,74.6 65.1,73.9Q64.1,73.2 63.4,72.3Q62.6,71.4 63,71.2Q63.5,71 64.4,71.1Q65.2,71.3 66.3,72.1Q67.3,72.9 68.1,73.6Q68.9,74.4 69.5,75.2Z" fill="#602080"/>
</g>
<g filter="url(#speck)" opacity="0.95" transform="translate(495 199.5)">
<path d="M82.2,13.2Q82.7,16.9 83.8,22.1Q84.9,27.4 80.1,26.5Q75.4,25.5 72.1,26.3Q68.9,27.2 66.4,24.2Q63.9,21.1 64.2,17Q64.4,12.8 66.9,10.2Q69.4,7.5 72.6,6.2Q75.9,4.9 78.8,7.2Q81.7,9.5 82.2,13.2Z" fill="#ff8010"/>
<path d="M86.8,25.7Q87.2,27.9 87,30.2Q86.8,32.5 83.6,32.8Q80.5,33.1 77.5,33.4Q74.6,33.8 73.1,31.9Q71.7,29.9 71.7,28Q71.8,26 73.1,23.9Q74.5,21.9 77.5,22.1Q80.6,22.4 83.5,23Q86.4,23.5 86.8,25.7Z" fill="#ff8010"/>
<path d="M25.5,38.5Q24.5,42.9 24.7,46.8Q24.9,50.7 20.1,51.7Q15.2,52.6 10.5,52.6Q5.7,52.6 2.2,49.8Q-1.3,46.9 -1.2,42.9Q-1,38.9 2.6,36.4Q6.3,33.8 10.7,33.6Q15.1,33.4 20.8,33.7Q26.5,34.1 25.5,38.5Z" fill="#20c040"/>
<path d="M25.4,56.6Q25.3,59.8 24.8,62.3Q24.4,64.9 22.2,66.1Q20,67.4 17.9,66.5Q15.8,65.7 13.9,64.1Q12,62.5 11.8,59.7Q11.5,56.8 13.3,54.6Q15,52.5 17.4,53.3Q19.7,54.1 22.7,53.8Q25.6,53.5 25.4,56.6Z" fill="#10d0f8"/>
<path d="M55.5,28.9Q55.5,33.1 54.9,36.8Q54.3,40.5 51.3,42.1Q48.4,43.7 45.5,42.6Q42.6,41.6 39.9,39.4Q37.1,37.2 37.6,33.3Q38.1,29.5 40.1,26.5Q42,23.5 45.1,23.6Q48.2,23.6 51.8,24.1Q55.4,24.7 55.5,28.9Z" fill="#9030e0"/>
<path d="M64.2,27.4Q64.8,29.9 64.6,32.9Q64.4,36 62.7,38Q60.9,39.9 59.3,37.8Q57.6,35.7 56.2,34.2Q54.9,32.7 54.6,29.7Q54.3,26.8 55.6,24.5Q56.9,22.2 58.8,21.6Q60.7,21.1 62.2,23Q63.6,24.9 64.2,27.4Z" fill="#f8c010"/>
<path d="M45.8,50Q46.9,52 46.3,54.3Q45.8,56.6 43.3,58.4Q40.7,60.1 37.9,58.8Q35,57.5 32.3,56.2Q29.6,54.8 31.5,52.5Q33.5,50.3 33.9,47.8Q34.2,45.3 37.5,44.5Q40.8,43.7 42.7,45.9Q44.6,48.1 45.8,50Z" fill="#a04a0a"/>
<path d="M54.2,47.3Q54.5,49.4 54.4,51.7Q54.4,54.1 52.5,55.4Q50.5,56.8 48.5,56Q46.4,55.2 44.6,53.6Q42.9,52 44,49.8Q45.1,47.6 45.4,45Q45.7,42.3 48.1,42.1Q50.5,41.9 52.2,43.5Q53.9,45.1 54.2,47.3Z" fill="#a0a0a0"/>
<path d="M73,46.4Q75.1,48.1 73.9,50.2Q72.7,52.4 69.7,53.5Q66.7,54.5 63.8,53.6Q61,52.6 59.5,51.2Q58,49.8 55.7,47.5Q53.3,45.2 56.8,44Q60.4,42.8 63.5,42.5Q66.5,42.2 68.7,43.5Q70.9,44.7 73,46.4Z" fill="#f040c0"/>
<path d="M85.3,50Q85.4,53.3 86.1,57.3Q86.8,61.3 83.2,62.5Q79.7,63.7 76.8,62.3Q73.9,60.9 71.3,58.9Q68.8,56.9 68.7,53.2Q68.6,49.6 70.9,47Q73.3,44.5 76.4,43.7Q79.6,43 82.4,44.8Q85.2,46.6 85.3,50Z" fill="#e01010"/>
<path d="M76.4,62.9Q77.3,67.6 76.4,72.3Q75.5,77 70.3,78.6Q65,80.2 60.3,78.9Q55.6,77.6 50.3,75.2Q45.1,72.9 45.8,67.8Q46.6,62.7 51.1,60.2Q55.6,57.6 60.3,56.5Q64.9,55.4 70.2,56.8Q75.4,58.2 76.4,62.9Z" fill="#1050f0"/>
<path d="M46.1,62.1Q46.1,62.5 46.3,62.8Q46.6,63 45.9,63.6Q45.3,64.3 44.3,64.6Q43.4,64.9 42.5,65.2Q41.6,65.6 41.7,65.1Q41.8,64.7 42.1,64.2Q42.4,63.7 43.3,63.1Q44.2,62.5 45.2,62.1Q46.2,61.7 46.1,62.1Z" fill="#f040c0"/>
<path d="M43.2,74.6Q42.6,75.9 41.7,77.3Q40.9,78.6 40.3,78.7Q39.8,78.9 39.1,79Q38.5,79.2 39,77.7Q39.6,76.2 40.5,75.1Q41.4,73.9 42.3,72.6Q43.2,71.3 43.7,71.2Q44.3,71.1 44.1,72.2Q43.8,73.3 43.2,74.6Z" fill="#4a70b0"/>
</g>
<g filter="url(#speck)" opacity="0.95" transform="translate(588.2 199.5)">
<path d="M60.9,11.3Q61.3,15.6 60.1,19.4Q58.9,23.2 54.7,25Q50.4,26.8 45.2,27Q40,27.2 39.2,22.9Q38.3,18.5 35,14.6Q31.7,10.6 36.6,8.3Q41.4,6 45.8,5.9Q50.1,5.8 55.3,6.4Q60.5,6.9 60.9,11.3Z" fill="#e01010"/>
<path d="M81.3,25.5Q82.7,31.2 80.3,36.2Q78,41.3 71.5,44.3Q65,47.3 57.9,45.5Q50.9,43.8 45.1,40.3Q39.3,36.9 38.9,31.1Q38.6,25.3 44.2,21.3Q49.9,17.3 57.1,17.8Q64.3,18.2 72.1,19Q80,19.8 81.3,25.5Z" fill="#1050f0"/>
<path d="M32.1,29.5Q33.8,33.8 32.8,38.7Q31.8,43.5 26.6,44Q21.5,44.6 16.6,45.5Q11.7,46.4 9.3,42.3Q6.8,38.2 6.1,33.6Q5.5,29 8.9,25.5Q12.3,22 17,21.9Q21.7,21.9 26.1,23.5Q30.4,25.1 32.1,29.5Z" fill="#20c040"/>
<path d="M27.5,49.4Q29.7,52 29,55.6Q28.2,59.2 24.3,61.2Q20.5,63.2 16.6,61.8Q12.6,60.3 10.8,57.6Q9,54.9 8.2,51.7Q7.4,48.6 9.5,45.4Q11.7,42.2 16,41.6Q20.4,41.1 22.9,43.9Q25.3,46.8 27.5,49.4Z" fill="#f040c0"/>
<path d="M78.5,50.2Q82.6,53.3 78.1,56.2Q73.5,59.1 67.6,60.4Q61.7,61.7 54.9,61.6Q48.2,61.5 44.7,58.8Q41.1,56.2 38.5,52.8Q35.9,49.5 42.6,47.7Q49.2,45.9 55.3,45.9Q61.3,45.9 67.9,46.5Q74.5,47.1 78.5,50.2Z" fill="#9030e0"/>
<path d="M45.8,61.5Q45.9,66.2 43.3,70Q40.8,73.8 37.5,76.2Q34.2,78.5 31.4,76.4Q28.6,74.3 28.2,70Q27.7,65.8 28.6,61.4Q29.5,57.1 32.1,52.4Q34.7,47.8 37.5,50.8Q40.3,53.8 43,55.3Q45.7,56.8 45.8,61.5Z" fill="#a04a0a"/>
<path d="M72.4,70.1Q75.9,74.1 71.8,77.5Q67.7,80.9 64.2,83Q60.7,85.1 56,85.1Q51.4,85 48.5,81.6Q45.6,78.2 45.3,73.9Q44.9,69.7 48.1,66.4Q51.4,63.2 56,63.4Q60.5,63.6 64.8,64.9Q69,66.2 72.4,70.1Z" fill="#ff8010"/>
<path d="M29.5,13.6Q30.8,14.9 32.1,17.1Q33.4,19.3 34,20.8Q34.7,22.2 33.9,21.6Q33.1,21 31.8,19.3Q30.5,17.5 28.8,15.5Q27.2,13.6 26.2,11.7Q25.2,9.8 25.6,9.8Q26.1,9.9 27.1,11.1Q28.2,12.3 29.5,13.6Z" fill="#f8c010"/>
<path d="M68.9,8.2Q68.2,9.5 67,11.1Q65.8,12.7 65.3,13Q64.8,13.2 64.8,12.9Q64.7,12.6 65.3,11.4Q65.9,10.2 67,8.6Q68.1,7 68.9,6.1Q69.8,5.3 70.5,4.7Q71.3,4.1 70.5,5.5Q69.7,6.9 68.9,8.2Z" fill="#10d0f8"/>
</g>
<g transform="translate(122.2 106.5)">
<path d="M57.5,44.7Q60.3,52 59,60.7Q57.7,69.5 50.3,73.1Q42.9,76.7 34.4,77.1Q25.8,77.4 23,68.5Q20.2,59.6 19.8,51.8Q19.4,44 23.1,36.2Q26.8,28.5 35.1,26.4Q43.4,24.3 49,30.8Q54.6,37.4 57.5,44.7Z" fill="#e02020" filter="url(#mk0)"/>
<path d="M57.5,44.7Q60.3,52 59,60.7Q57.7,69.5 50.3,73.1Q42.9,76.7 34.4,77.1Q25.8,77.4 23,68.5Q20.2,59.6 19.8,51.8Q19.4,44 23.1,36.2Q26.8,28.5 35.1,26.4Q43.4,24.3 49,30.8Q54.6,37.4 57.5,44.7Z" fill="#a8a8a8" filter="url(#mk1)"/>
<path d="M57.5,44.7Q60.3,52 59,60.7Q57.7,69.5 50.3,73.1Q42.9,76.7 34.4,77.1Q25.8,77.4 23,68.5Q20.2,59.6 19.8,51.8Q19.4,44 23.1,36.2Q26.8,28.5 35.1,26.4Q43.4,24.3 49,30.8Q54.6,37.4 57.5,44.7Z" fill="#5070d0" filter="url(#mk2)"/>
<path d="M57.5,44.7Q60.3,52 59,60.7Q57.7,69.5 50.3,73.1Q42.9,76.7 34.4,77.1Q25.8,77.4 23,68.5Q20.2,59.6 19.8,51.8Q19.4,44 23.1,36.2Q26.8,28.5 35.1,26.4Q43.4,24.3 49,30.8Q54.6,37.4 57.5,44.7Z" fill="#b86a30" filter="url(#mk3)"/>
<path d="M57.5,44.7Q60.3,52 59,60.7Q57.7,69.5 50.3,73.1Q42.9,76.7 34.4,77.1Q25.8,77.4 23,68.5Q20.2,59.6 19.8,51.8Q19.4,44 23.1,36.2Q26.8,28.5 35.1,26.4Q43.4,24.3 49,30.8Q54.6,37.4 57.5,44.7Z" fill="#f080a0" filter="url(#mk4)"/>
</g>
<g transform="translate(122.2 199.5)">
<path d="M58.5,47.8Q61.1,54.6 59.9,62.7Q58.7,70.7 51.9,74.1Q45.2,77.4 37.3,77.7Q29.5,78 27,69.8Q24.4,61.6 24,54.4Q23.7,47.2 27.1,40.1Q30.4,32.9 38,30.9Q45.6,29 50.7,35.1Q55.8,41.1 58.5,47.8Z" fill="#e02020" filter="url(#mk0)"/>
<path d="M58.5,47.8Q61.1,54.6 59.9,62.7Q58.7,70.7 51.9,74.1Q45.2,77.4 37.3,77.7Q29.5,78 27,69.8Q24.4,61.6 24,54.4Q23.7,47.2 27.1,40.1Q30.4,32.9 38,30.9Q45.6,29 50.7,35.1Q55.8,41.1 58.5,47.8Z" fill="#a060f0" filter="url(#mk1)"/>
<path d="M58.5,47.8Q61.1,54.6 59.9,62.7Q58.7,70.7 51.9,74.1Q45.2,77.4 37.3,77.7Q29.5,78 27,69.8Q24.4,61.6 24,54.4Q23.7,47.2 27.1,40.1Q30.4,32.9 38,30.9Q45.6,29 50.7,35.1Q55.8,41.1 58.5,47.8Z" fill="#40b0f0" filter="url(#mk2)"/>
<path d="M58.5,47.8Q61.1,54.6 59.9,62.7Q58.7,70.7 51.9,74.1Q45.2,77.4 37.3,77.7Q29.5,78 27,69.8Q24.4,61.6 24,54.4Q23.7,47.2 27.1,40.1Q30.4,32.9 38,30.9Q45.6,29 50.7,35.1Q55.8,41.1 58.5,47.8Z" fill="#f0a000" filter="url(#mk3)"/>
<path d="M58.5,47.8Q61.1,54.6 59.9,62.7Q58.7,70.7 51.9,74.1Q45.2,77.4 37.3,77.7Q29.5,78 27,69.8Q24.4,61.6 24,54.4Q23.7,47.2 27.1,40.1Q30.4,32.9 38,30.9Q45.6,29 50.7,35.1Q55.8,41.1 58.5,47.8Z" fill="#30c050" filter="url(#mk4)"/>
</g>
<rect x="29.5" y="13.5" width="88" height="87" fill="none" stroke="#333" stroke-width="1"/>
<rect x="122.5" y="13.5" width="88" height="87" fill="none" stroke="#333" stroke-width="1"/>
<rect x="215.5" y="13.5" width="88" height="87" fill="none" stroke="#333" stroke-width="1"/>
<rect x="308.5" y="13.5" width="88" height="87" fill="none" stroke="#333" stroke-width="1"/>
<rect x="401.5" y="13.5" width="88" height="87" fill="none" stroke="#333" stroke-width="1"/>
<rect x="495.5" y="13.5" width="88" height="87" fill="none" stroke="#333" stroke-width="1"/>
<rect x="588.5" y="13.5" width="88" height="87" fill="none" stroke="#333" stroke-width="1"/>
<rect x="29.5" y="106.5" width="88" height="87" fill="none" stroke="#333" stroke-width="1"/>
<rect x="122.5" y="106.5" width="88" height="87" fill="none" stroke="#333" stroke-width="1"/>
<rect x="215.5" y="106.5" width="88" height="87" fill="none" stroke="#333" stroke-width="1"/>
<rect x="308.5" y="106.5" width="88" height="87" fill="none" stroke="#333" stroke-width="1"/>
<rect x="401.5" y="106.5" width="88" height="87" fill="none" stroke="#333" stroke-width="1"/>
<rect x="495.5" y="106.5" width="88" height="87" fill="none" stroke="#333" stroke-width="1"/>
<rect x="588.5" y="106.5" width="88" height="87" fill="none" stroke="#333" stroke-width="1"/>
<rect x="29.5" y="199.5" width="88" height="87" fill="none" stroke="#333" stroke-width="1"/>
<rect x="122.5" y="199.5" width="88" height="87" fill="none" stroke="#333" stroke-width="1"/>
<rect x="215.5" y="199.5" width="88" height="87" fill="none" stroke="#333" stroke-width="1"/>
<rect x="308.5" y="199.5" width="88" height="87" fill="none" stroke="#333" stroke-width="1"/>
<rect x="401.5" y="199.5" width="88" height="87" fill="none" stroke="#333" stroke-width="1"/>
<rect x="495.5" y="199.5" width="88" height="87" fill="none" stroke="#333" stroke-width="1"/>
<rect x="588.5" y="199.5" width="88" height="87" fill="none" stroke="#333" stroke-width="1"/>
<text x="4" y="305.5" font-size="9.3" textLength="36.2" lengthAdjust="spacingAndGlyphs" fill="#222" stroke="#222" stroke-width="0.18">Cell type</text>
<rect x="4.6" y="310.3" width="4.3" height="5.2" fill="#77d977"/>
<text x="12.7" y="315.5" font-size="7.1" textLength="16.3" lengthAdjust="spacingAndGlyphs" fill="#222" stroke="#222" stroke-width="0.18">MBC</text>
<rect x="4.6" y="318.8" width="4.3" height="5.2" fill="#1a6b1a"/>
<text x="12.7" y="324.0" font-size="7.1" textLength="49.6" lengthAdjust="spacingAndGlyphs" fill="#222" stroke="#222" stroke-width="0.18">MBC_stem-like</text>
<rect x="4.6" y="327.3" width="4.3" height="5.2" fill="#3aa83a"/>
<text x="12.7" y="332.5" font-size="7.1" textLength="48.8" lengthAdjust="spacingAndGlyphs" fill="#222" stroke="#222" stroke-width="0.18">MBC_neuronal</text>
<rect x="66.8" y="310.3" width="4.3" height="5.2" fill="#fdb05a"/>
<text x="74.9" y="315.5" font-size="7.1" textLength="36.2" lengthAdjust="spacingAndGlyphs" fill="#222" stroke="#222" stroke-width="0.18">Endothelial</text>
<rect x="66.8" y="318.8" width="4.3" height="5.2" fill="#6b0008"/>
<text x="74.9" y="324.0" font-size="7.1" textLength="72.8" lengthAdjust="spacingAndGlyphs" fill="#222" stroke="#222" stroke-width="0.18">Endothelial_sinusoidal</text>
<rect x="66.8" y="327.3" width="4.3" height="5.2" fill="#e57a1a"/>
<text x="74.9" y="332.5" font-size="7.1" textLength="75.6" lengthAdjust="spacingAndGlyphs" fill="#222" stroke="#222" stroke-width="0.18">Endothelial_angiogenic</text>
<rect x="66.8" y="335.8" width="4.3" height="5.2" fill="#b3420e"/>
<text x="74.9" y="341.0" font-size="7.1" textLength="67.5" lengthAdjust="spacingAndGlyphs" fill="#222" stroke="#222" stroke-width="0.18">Endothelial_vascular</text>
<rect x="158.5" y="310.3" width="4.3" height="5.2" fill="#d6d620"/>
<text x="166.5" y="315.5" font-size="7.1" textLength="32.1" lengthAdjust="spacingAndGlyphs" fill="#222" stroke="#222" stroke-width="0.18">Fibroblast</text>
<rect x="158.5" y="318.8" width="4.3" height="5.2" fill="#7a7a10"/>
<text x="166.5" y="324.0" font-size="7.1" textLength="81.7" lengthAdjust="spacingAndGlyphs" fill="#222" stroke="#222" stroke-width="0.18">Smooth muscle_vascular</text>
<rect x="158.5" y="327.3" width="4.3" height="5.2" fill="#333300"/>
<text x="166.5" y="332.5" font-size="7.1" textLength="24.4" lengthAdjust="spacingAndGlyphs" fill="#222" stroke="#222" stroke-width="0.18">Stellate</text>
<rect x="158.5" y="335.8" width="4.3" height="5.2" fill="#a8a820"/>
<text x="166.5" y="341.0" font-size="7.1" textLength="51.2" lengthAdjust="spacingAndGlyphs" fill="#222" stroke="#222" stroke-width="0.18">Skeletal muscle</text>
<rect x="258.5" y="310.3" width="4.3" height="5.2" fill="#f0a0f0"/>
<text x="266.5" y="315.5" font-size="7.1" textLength="37.0" lengthAdjust="spacingAndGlyphs" fill="#222" stroke="#222" stroke-width="0.18">Hepatocyte</text>
<rect x="258.5" y="318.8" width="4.3" height="5.2" fill="#7a3a9a"/>
<text x="266.5" y="324.0" font-size="7.1" textLength="24.0" lengthAdjust="spacingAndGlyphs" fill="#222" stroke="#222" stroke-width="0.18">Neuron</text>
<rect x="258.5" y="327.3" width="4.3" height="5.2" fill="#a0d0f8"/>
<text x="266.5" y="332.5" font-size="7.1" textLength="40.6" lengthAdjust="spacingAndGlyphs" fill="#222" stroke="#222" stroke-width="0.18">Macrophage</text>
<rect x="258.5" y="335.8" width="4.3" height="5.2" fill="#3a7ac0"/>
<text x="266.5" y="341.0" font-size="7.1" textLength="31.7" lengthAdjust="spacingAndGlyphs" fill="#222" stroke="#222" stroke-width="0.18">Monocyte</text>
<rect x="258.5" y="344.3" width="4.3" height="5.2" fill="#1a4a8a"/>
<text x="266.5" y="349.5" font-size="7.1" textLength="15.8" lengthAdjust="spacingAndGlyphs" fill="#222" stroke="#222" stroke-width="0.18">Mast</text>
<rect x="318" y="310.3" width="4.3" height="5.2" fill="#f07060"/>
<text x="326.5" y="315.5" font-size="7.1" textLength="32.5" lengthAdjust="spacingAndGlyphs" fill="#222" stroke="#222" stroke-width="0.18">B_plasma</text>
<rect x="318" y="318.8" width="4.3" height="5.2" fill="#d01010"/>
<text x="326.5" y="324.0" font-size="7.1" textLength="4.9" lengthAdjust="spacingAndGlyphs" fill="#222" stroke="#222" stroke-width="0.18">B</text>
<rect x="318" y="327.3" width="4.3" height="5.2" fill="#f8b0a0"/>
<text x="326.5" y="332.5" font-size="7.1" textLength="4.5" lengthAdjust="spacingAndGlyphs" fill="#222" stroke="#222" stroke-width="0.18">T</text>
<rect x="318" y="335.8" width="4.3" height="5.2" fill="#800000"/>
<text x="326.5" y="341.0" font-size="7.1" textLength="10.2" lengthAdjust="spacingAndGlyphs" fill="#222" stroke="#222" stroke-width="0.18">NK</text>
<text x="4.5" y="359.5" font-size="9.3" textLength="61.5" lengthAdjust="spacingAndGlyphs" fill="#222" stroke="#222" stroke-width="0.18">Patient/sample</text>
<rect x="4.6" y="364.8" width="4.3" height="5.2" fill="#0a3cf0"/>
<text x="12.6" y="370.0" font-size="7.4" textLength="33.2" lengthAdjust="spacingAndGlyphs" fill="#222" stroke="#222" stroke-width="0.18">944–7479</text>
<rect x="4.6" y="373.4" width="4.3" height="5.2" fill="#ff8010"/>
<text x="12.6" y="378.6" font-size="7.4" textLength="33.2" lengthAdjust="spacingAndGlyphs" fill="#222" stroke="#222" stroke-width="0.18">895–7359</text>
<rect x="4.6" y="382.0" width="4.3" height="5.2" fill="#20c040"/>
<text x="12.6" y="387.2" font-size="7.4" textLength="33.2" lengthAdjust="spacingAndGlyphs" fill="#222" stroke="#222" stroke-width="0.18">880–7179</text>
<rect x="4.6" y="390.6" width="4.3" height="5.2" fill="#e01010"/>
<text x="12.6" y="395.8" font-size="7.4" textLength="33.2" lengthAdjust="spacingAndGlyphs" fill="#222" stroke="#222" stroke-width="0.18">878–7149</text>
<rect x="57" y="364.8" width="4.3" height="5.2" fill="#9030f0"/>
<text x="65" y="370.0" font-size="7.4" textLength="33.2" lengthAdjust="spacingAndGlyphs" fill="#222" stroke="#222" stroke-width="0.18">812–8239</text>
<rect x="57" y="373.4" width="4.3" height="5.2" fill="#a04a0a"/>
<text x="65" y="378.6" font-size="7.4" textLength="33.2" lengthAdjust="spacingAndGlyphs" fill="#222" stroke="#222" stroke-width="0.18">514–6760</text>
<rect x="57" y="382.0" width="4.3" height="5.2" fill="#f040c0"/>
<text x="65" y="387.2" font-size="7.4" textLength="33.2" lengthAdjust="spacingAndGlyphs" fill="#222" stroke="#222" stroke-width="0.18">982–7629</text>
<rect x="57" y="390.6" width="4.3" height="5.2" fill="#a0a0a0"/>
<text x="65" y="395.8" font-size="7.4" textLength="33.2" lengthAdjust="spacingAndGlyphs" fill="#222" stroke="#222" stroke-width="0.18">997–7789</text>
<rect x="109.6" y="364.8" width="4.3" height="5.2" fill="#f8c010"/>
<text x="117" y="370.0" font-size="7.4" textLength="33.2" lengthAdjust="spacingAndGlyphs" fill="#222" stroke="#222" stroke-width="0.18">917–4531</text>
<rect x="109.6" y="373.4" width="4.3" height="5.2" fill="#10d0f8"/>
<text x="117" y="378.6" font-size="7.4" textLength="33.2" lengthAdjust="spacingAndGlyphs" fill="#222" stroke="#222" stroke-width="0.18">853–4381</text>
<rect x="109.6" y="382.0" width="4.3" height="5.2" fill="#4a70b0"/>
<text x="117" y="387.2" font-size="7.4" textLength="29.1" lengthAdjust="spacingAndGlyphs" fill="#222" stroke="#222" stroke-width="0.18">313–932</text>
<rect x="109.6" y="390.6" width="4.3" height="5.2" fill="#e08060"/>
<text x="117" y="395.8" font-size="7.4" textLength="33.2" lengthAdjust="spacingAndGlyphs" fill="#222" stroke="#222" stroke-width="0.18">330–1082</text>
<rect x="162.5" y="364.8" width="4.3" height="5.2" fill="#50a060"/>
<text x="170" y="370.0" font-size="7.4" textLength="33.2" lengthAdjust="spacingAndGlyphs" fill="#222" stroke="#222" stroke-width="0.18">783–4081</text>
<rect x="162.5" y="373.4" width="4.3" height="5.2" fill="#c04850"/>
<text x="170" y="378.6" font-size="7.4" textLength="33.2" lengthAdjust="spacingAndGlyphs" fill="#222" stroke="#222" stroke-width="0.18">364–1321</text>
<rect x="162.5" y="382.0" width="4.3" height="5.2" fill="#8070c0"/>
<text x="170" y="387.2" font-size="7.4" textLength="33.2" lengthAdjust="spacingAndGlyphs" fill="#222" stroke="#222" stroke-width="0.18">213–6752</text>
<text x="373.8" y="308.2" font-size="15.5" font-weight="bold" fill="#000" stroke="#000" stroke-width="0.7">b</text>
<text x="426.4" y="305" font-size="11.1" textLength="184" lengthAdjust="spacingAndGlyphs" fill="#222" stroke="#222" stroke-width="0.18">Congruence of Leiden clustering with</text>
<text x="472.4" y="316.9" font-size="9.3" text-anchor="middle" textLength="61.5" lengthAdjust="spacingAndGlyphs" fill="#222" stroke="#222" stroke-width="0.18">Patient/sample</text>
<text x="566.3" y="316.9" font-size="9.3" text-anchor="middle" textLength="36.2" lengthAdjust="spacingAndGlyphs" fill="#222" stroke="#222" stroke-width="0.18">Cell type</text>
<text x="425.5" y="330.0" font-size="8.6" text-anchor="end" textLength="43.5" lengthAdjust="spacingAndGlyphs" fill="#222" stroke="#222" stroke-width="0.18">scRNA-seq</text>
<text x="425.5" y="339.07" font-size="8.6" text-anchor="end" textLength="44.0" lengthAdjust="spacingAndGlyphs" fill="#222" stroke="#222" stroke-width="0.18">snRNA-seq</text>
<text x="425.5" y="348.14" font-size="8.6" text-anchor="end" textLength="35.9" lengthAdjust="spacingAndGlyphs" fill="#222" stroke="#222" stroke-width="0.18">Slide-seq</text>
<text x="425.5" y="357.21" font-size="8.6" text-anchor="end" textLength="38.7" lengthAdjust="spacingAndGlyphs" fill="#222" stroke="#222" stroke-width="0.18">MERFISH</text>
<text x="425.5" y="366.28" font-size="8.6" text-anchor="end" textLength="58.3" lengthAdjust="spacingAndGlyphs" fill="#222" stroke="#222" stroke-width="0.18">MERFISH (bin)</text>
<text x="425.5" y="375.35" font-size="8.6" text-anchor="end" textLength="30.6" lengthAdjust="spacingAndGlyphs" fill="#222" stroke="#222" stroke-width="0.18">CODEX</text>
<text x="425.5" y="384.42" font-size="8.6" text-anchor="end" textLength="25.3" lengthAdjust="spacingAndGlyphs" fill="#222" stroke="#222" stroke-width="0.18">ExSeq</text>
<text x="425.5" y="393.49" font-size="8.6" text-anchor="end" textLength="44.9" lengthAdjust="spacingAndGlyphs" fill="#222" stroke="#222" stroke-width="0.18">ExSeq (bin)</text>
<line x1="434.8" y1="322.7" x2="434.8" y2="396" stroke="#dcdcdc" stroke-width="0.8"/>
<line x1="474.6" y1="322.7" x2="474.6" y2="396" stroke="#dcdcdc" stroke-width="0.8"/>
<line x1="514.4" y1="322.7" x2="514.4" y2="396" stroke="#dcdcdc" stroke-width="0.8"/>
<line x1="430.8" y1="322.7" x2="430.8" y2="396.6" stroke="#555" stroke-width="1"/>
<line x1="430.8" y1="396.1" x2="514.9" y2="396.1" stroke="#555" stroke-width="1"/>
<line x1="428.8" y1="327.0" x2="430.8" y2="327.0" stroke="#555" stroke-width="0.8"/>
<line x1="428.8" y1="336.1" x2="430.8" y2="336.1" stroke="#555" stroke-width="0.8"/>
<line x1="428.8" y1="345.1" x2="430.8" y2="345.1" stroke="#555" stroke-width="0.8"/>
<line x1="428.8" y1="354.2" x2="430.8" y2="354.2" stroke="#555" stroke-width="0.8"/>
<line x1="428.8" y1="363.3" x2="430.8" y2="363.3" stroke="#555" stroke-width="0.8"/>
<line x1="428.8" y1="372.4" x2="430.8" y2="372.4" stroke="#555" stroke-width="0.8"/>
<line x1="428.8" y1="381.4" x2="430.8" y2="381.4" stroke="#555" stroke-width="0.8"/>
<line x1="428.8" y1="390.5" x2="430.8" y2="390.5" stroke="#555" stroke-width="0.8"/>
<line x1="434.8" y1="396.1" x2="434.8" y2="398.5" stroke="#555" stroke-width="0.8"/>
<text x="434.8" y="406.2" font-size="8.4" text-anchor="middle" textLength="4.7" lengthAdjust="spacingAndGlyphs" fill="#333" stroke="#333" stroke-width="0.18">0</text>
<line x1="474.6" y1="396.1" x2="474.6" y2="398.5" stroke="#555" stroke-width="0.8"/>
<text x="474.6" y="406.2" font-size="8.4" text-anchor="middle" textLength="11.7" lengthAdjust="spacingAndGlyphs" fill="#333" stroke="#333" stroke-width="0.18">0.5</text>
<line x1="514.4" y1="396.1" x2="514.4" y2="398.5" stroke="#555" stroke-width="0.8"/>
<text x="514.4" y="406.2" font-size="8.4" text-anchor="middle" textLength="11.7" lengthAdjust="spacingAndGlyphs" fill="#333" stroke="#333" stroke-width="0.18">1.0</text>
<rect x="471.7" y="323.4" width="2.6" height="4.8" rx="0.6" fill="#5dc29b"/>
<rect x="451.8" y="324.9" width="2.6" height="4.8" rx="0.6" fill="#f6875b"/>
<rect x="508.3" y="326.4" width="2.6" height="4.8" rx="0.6" fill="#8c9fd6"/>
<rect x="464.5" y="332.5" width="2.6" height="4.8" rx="0.6" fill="#5dc29b"/>
<rect x="453.4" y="334.0" width="2.6" height="4.8" rx="0.6" fill="#f6875b"/>
<rect x="497.2" y="335.5" width="2.6" height="4.8" rx="0.6" fill="#8c9fd6"/>
<rect x="448.6" y="341.5" width="2.6" height="4.8" rx="0.6" fill="#5dc29b"/>
<rect x="439.9" y="343.0" width="2.6" height="4.8" rx="0.6" fill="#f6875b"/>
<rect x="454.2" y="344.5" width="2.6" height="4.8" rx="0.6" fill="#8c9fd6"/>
<rect x="463.0" y="350.6" width="2.6" height="4.8" rx="0.6" fill="#5dc29b"/>
<rect x="450.2" y="352.1" width="2.6" height="4.8" rx="0.6" fill="#f6875b"/>
<rect x="494.8" y="353.6" width="2.6" height="4.8" rx="0.6" fill="#8c9fd6"/>
<rect x="478.1" y="359.7" width="2.6" height="4.8" rx="0.6" fill="#5dc29b"/>
<rect x="466.9" y="361.2" width="2.6" height="4.8" rx="0.6" fill="#f6875b"/>
<rect x="494.8" y="362.7" width="2.6" height="4.8" rx="0.6" fill="#8c9fd6"/>
<rect x="474.1" y="368.8" width="2.6" height="4.8" rx="0.6" fill="#5dc29b"/>
<rect x="479.7" y="370.3" width="2.6" height="4.8" rx="0.6" fill="#f6875b"/>
<rect x="484.4" y="371.8" width="2.6" height="4.8" rx="0.6" fill="#8c9fd6"/>
<rect x="498.8" y="377.8" width="2.6" height="4.8" rx="0.6" fill="#5dc29b"/>
<rect x="496.4" y="379.3" width="2.6" height="4.8" rx="0.6" fill="#f6875b"/>
<rect x="505.1" y="380.8" width="2.6" height="4.8" rx="0.6" fill="#8c9fd6"/>
<rect x="489.2" y="386.9" width="2.6" height="4.8" rx="0.6" fill="#5dc29b"/>
<rect x="485.2" y="388.4" width="2.6" height="4.8" rx="0.6" fill="#f6875b"/>
<rect x="489.2" y="389.9" width="2.6" height="4.8" rx="0.6" fill="#8c9fd6"/>
<line x1="527.8" y1="322.7" x2="527.8" y2="396" stroke="#dcdcdc" stroke-width="0.8"/>
<line x1="568.0" y1="322.7" x2="568.0" y2="396" stroke="#dcdcdc" stroke-width="0.8"/>
<line x1="608.1" y1="322.7" x2="608.1" y2="396" stroke="#dcdcdc" stroke-width="0.8"/>
<line x1="524.6" y1="322.7" x2="524.6" y2="396.6" stroke="#555" stroke-width="1"/>
<line x1="524.6" y1="396.1" x2="608.6" y2="396.1" stroke="#555" stroke-width="1"/>
<line x1="522.6" y1="327.0" x2="524.6" y2="327.0" stroke="#555" stroke-width="0.8"/>
<line x1="522.6" y1="336.1" x2="524.6" y2="336.1" stroke="#555" stroke-width="0.8"/>
<line x1="522.6" y1="345.1" x2="524.6" y2="345.1" stroke="#555" stroke-width="0.8"/>
<line x1="522.6" y1="354.2" x2="524.6" y2="354.2" stroke="#555" stroke-width="0.8"/>
<line x1="522.6" y1="363.3" x2="524.6" y2="363.3" stroke="#555" stroke-width="0.8"/>
<line x1="522.6" y1="372.4" x2="524.6" y2="372.4" stroke="#555" stroke-width="0.8"/>
<line x1="522.6" y1="381.4" x2="524.6" y2="381.4" stroke="#555" stroke-width="0.8"/>
<line x1="522.6" y1="390.5" x2="524.6" y2="390.5" stroke="#555" stroke-width="0.8"/>
<line x1="527.8" y1="396.1" x2="527.8" y2="398.5" stroke="#555" stroke-width="0.8"/>
<text x="527.8" y="406.2" font-size="8.4" text-anchor="middle" textLength="4.7" lengthAdjust="spacingAndGlyphs" fill="#333" stroke="#333" stroke-width="0.18">0</text>
<line x1="568.0" y1="396.1" x2="568.0" y2="398.5" stroke="#555" stroke-width="0.8"/>
<text x="568.0" y="406.2" font-size="8.4" text-anchor="middle" textLength="11.7" lengthAdjust="spacingAndGlyphs" fill="#333" stroke="#333" stroke-width="0.18">0.5</text>
<line x1="608.1" y1="396.1" x2="608.1" y2="398.5" stroke="#555" stroke-width="0.8"/>
<text x="608.1" y="406.2" font-size="8.4" text-anchor="middle" textLength="11.7" lengthAdjust="spacingAndGlyphs" fill="#333" stroke="#333" stroke-width="0.18">1.0</text>
<rect x="547.4" y="323.4" width="2.6" height="4.8" rx="0.6" fill="#5dc29b"/>
<rect x="573.9" y="324.9" width="2.6" height="4.8" rx="0.6" fill="#f6875b"/>
<rect x="526.5" y="326.4" width="2.6" height="4.8" rx="0.6" fill="#8c9fd6"/>
<rect x="552.2" y="332.5" width="2.6" height="4.8" rx="0.6" fill="#5dc29b"/>
<rect x="592.3" y="334.0" width="2.6" height="4.8" rx="0.6" fill="#f6875b"/>
<rect x="532.1" y="335.5" width="2.6" height="4.8" rx="0.6" fill="#8c9fd6"/>
<rect x="528.1" y="341.5" width="2.6" height="4.8" rx="0.6" fill="#5dc29b"/>
<rect x="531.3" y="343.0" width="2.6" height="4.8" rx="0.6" fill="#f6875b"/>
<rect x="527.3" y="344.5" width="2.6" height="4.8" rx="0.6" fill="#8c9fd6"/>
<rect x="553.0" y="350.6" width="2.6" height="4.8" rx="0.6" fill="#5dc29b"/>
<rect x="565.8" y="352.1" width="2.6" height="4.8" rx="0.6" fill="#f6875b"/>
<rect x="542.6" y="353.6" width="2.6" height="4.8" rx="0.6" fill="#8c9fd6"/>
<rect x="537.7" y="359.7" width="2.6" height="4.8" rx="0.6" fill="#5dc29b"/>
<rect x="551.4" y="361.2" width="2.6" height="4.8" rx="0.6" fill="#f6875b"/>
<rect x="534.5" y="362.7" width="2.6" height="4.8" rx="0.6" fill="#8c9fd6"/>
<rect x="532.9" y="368.8" width="2.6" height="4.8" rx="0.6" fill="#5dc29b"/>
<rect x="536.9" y="370.3" width="2.6" height="4.8" rx="0.6" fill="#f6875b"/>
<rect x="526.5" y="371.8" width="2.6" height="4.8" rx="0.6" fill="#8c9fd6"/>
<rect x="535.3" y="377.8" width="2.6" height="4.8" rx="0.6" fill="#5dc29b"/>
<rect x="533.7" y="379.3" width="2.6" height="4.8" rx="0.6" fill="#f6875b"/>
<rect x="526.5" y="380.8" width="2.6" height="4.8" rx="0.6" fill="#8c9fd6"/>
<rect x="531.3" y="386.9" width="2.6" height="4.8" rx="0.6" fill="#5dc29b"/>
<rect x="532.9" y="388.4" width="2.6" height="4.8" rx="0.6" fill="#f6875b"/>
<rect x="526.5" y="389.9" width="2.6" height="4.8" rx="0.6" fill="#8c9fd6"/>
<text x="524.4" y="418.6" font-size="9.3" text-anchor="middle" textLength="84.1" lengthAdjust="spacingAndGlyphs" fill="#222" stroke="#222" stroke-width="0.18">Adjusted Rand index</text>
<circle cx="616.7" cy="348.4" r="3.3" fill="#5dc29b"/>
<text x="624.3" y="351.59999999999997" font-size="9.3" textLength="31.5" lengthAdjust="spacingAndGlyphs" fill="#222" stroke="#222" stroke-width="0.18">All cells</text>
<circle cx="616.7" cy="360.0" r="3.3" fill="#f6875b"/>
<text x="624.3" y="363.2" font-size="9.3" textLength="60.5" lengthAdjust="spacingAndGlyphs" fill="#222" stroke="#222" stroke-width="0.18">Non-malignant</text>
<circle cx="616.7" cy="372.0" r="3.3" fill="#8c9fd6"/>
<text x="624.3" y="375.2" font-size="9.3" textLength="40.3" lengthAdjust="spacingAndGlyphs" fill="#222" stroke="#222" stroke-width="0.18">Malignant</text>
<text x="0.2" y="437" font-size="15.5" font-weight="bold" fill="#000" stroke="#000" stroke-width="0.7">c</text>
<text x="92.3" y="439" font-size="10.3" text-anchor="middle" textLength="42.9" lengthAdjust="spacingAndGlyphs" fill="#222" stroke="#222" stroke-width="0.18">Slide-seq</text>
<text x="204.3" y="439" font-size="10.3" text-anchor="middle" textLength="46.4" lengthAdjust="spacingAndGlyphs" fill="#222" stroke="#222" stroke-width="0.18">MERFISH</text>
<text x="309.3" y="439" font-size="10.3" text-anchor="middle" textLength="69.8" lengthAdjust="spacingAndGlyphs" fill="#222" stroke="#222" stroke-width="0.18">MERFISH (bin)</text>
<text x="415.7" y="439" font-size="10.3" text-anchor="middle" textLength="30.3" lengthAdjust="spacingAndGlyphs" fill="#222" stroke="#222" stroke-width="0.18">ExSeq</text>
<text x="520.7" y="439" font-size="10.3" text-anchor="middle" textLength="53.8" lengthAdjust="spacingAndGlyphs" fill="#222" stroke="#222" stroke-width="0.18">ExSeq (bin)</text>
<text x="627.5" y="439" font-size="10.3" text-anchor="middle" textLength="36.6" lengthAdjust="spacingAndGlyphs" fill="#222" stroke="#222" stroke-width="0.18">CODEX</text>
<text x="50.2" y="451.2" font-size="8.9" textLength="155.8" lengthAdjust="spacingAndGlyphs" fill="#222" stroke="#222" stroke-width="0.18">514–6760: Short-range accumulations</text>
<line x1="50.2" y1="462.25" x2="147.5" y2="462.25" stroke="#e2e2e2" stroke-width="0.8"/>
<line x1="50.2" y1="476.60" x2="147.5" y2="476.60" stroke="#e2e2e2" stroke-width="0.8"/>
<line x1="50.2" y1="490.95" x2="147.5" y2="490.95" stroke="#e2e2e2" stroke-width="0.8"/>
<line x1="50.2" y1="505.30" x2="147.5" y2="505.30" stroke="#e2e2e2" stroke-width="0.8"/>
<line x1="50.2" y1="519.65" x2="147.5" y2="519.65" stroke="#e2e2e2" stroke-width="0.8"/>
<line x1="71.60" y1="456.2" x2="71.60" y2="528.4" stroke="#e2e2e2" stroke-width="0.8"/>
<line x1="89.90" y1="456.2" x2="89.90" y2="528.4" stroke="#e2e2e2" stroke-width="0.8"/>
<line x1="108.20" y1="456.2" x2="108.20" y2="528.4" stroke="#e2e2e2" stroke-width="0.8"/>
<line x1="126.50" y1="456.2" x2="126.50" y2="528.4" stroke="#e2e2e2" stroke-width="0.8"/>
<line x1="144.80" y1="456.2" x2="144.80" y2="528.4" stroke="#e2e2e2" stroke-width="0.8"/>
<g fill="none" stroke-linejoin="round" stroke-linecap="round">
<path d="M55.1,517.2 57.0,514.2 58.8,512.0 60.6,510.4 62.5,509.2 64.3,508.3 66.1,507.6 67.9,507.1 69.8,506.7 71.6,506.5 73.4,506.2 75.3,506.1 77.1,505.9 78.9,505.8 80.8,505.7 82.6,505.7 84.4,505.6 86.2,505.5 88.1,505.4 89.9,505.4 91.7,505.3 93.6,505.2 95.4,505.2 97.2,505.1 99.1,505.1 100.9,505.1 102.7,505.1 104.5,505.0 106.4,505.1 108.2,505.1 110.0,505.1 111.9,505.1 113.7,505.2 115.5,505.2 117.3,505.3 119.2,505.3 121.0,505.4 122.8,505.4 124.7,505.5 126.5,505.5 128.3,505.5 130.2,505.5 132.0,505.6 133.8,505.6 135.7,505.5 137.5,505.5 139.3,505.5 141.1,505.5 143.0,505.4" stroke="#6fce63" stroke-width="1.1"/>
<path d="M55.1,487.0 57.0,491.1 58.8,494.3 60.6,496.8 62.5,498.9 64.3,500.5 66.1,501.8 67.9,502.8 69.8,503.6 71.6,504.2 73.4,504.7 75.3,505.0 77.1,505.3 78.9,505.4 80.8,505.5 82.6,505.5 84.4,505.5 86.2,505.4 88.1,505.3 89.9,505.1 91.7,505.0 93.6,504.9 95.4,504.7 97.2,504.6 99.1,504.5 100.9,504.5 102.7,504.4 104.5,504.4 106.4,504.4 108.2,504.5 110.0,504.6 111.9,504.7 113.7,504.9 115.5,505.0 117.3,505.2 119.2,505.3 121.0,505.5 122.8,505.7 124.7,505.8 126.5,506.0 128.3,506.0 130.2,506.1 132.0,506.2 133.8,506.2 135.7,506.1 137.5,506.1 139.3,506.0 141.1,505.8 143.0,505.7" stroke="#f7a090" stroke-width="1.1"/>
<path d="M55.1,458.6 57.0,468.2 58.8,475.7 60.6,481.7 62.5,486.4 64.3,490.2 66.1,493.3 67.9,495.8 69.8,497.8 71.6,499.4 73.4,500.8 75.3,501.8 77.1,502.6 78.9,503.2 80.8,503.6 82.6,503.9 84.4,504.0 86.2,504.1 88.1,504.1 89.9,504.0 91.7,504.0 93.6,503.9 95.4,503.9 97.2,504.0 99.1,504.1 100.9,504.2 102.7,504.4 104.5,504.6 106.4,504.8 108.2,505.0 110.0,505.1 111.9,505.2 113.7,505.3 115.5,505.2 117.3,505.2 119.2,505.0 121.0,504.8 122.8,504.7 124.7,504.5 126.5,504.3 128.3,503.7 130.2,503.1 132.0,502.8 133.8,502.8 135.7,503.0 137.5,503.5 139.3,504.2 141.1,504.9 143.0,505.1" stroke="#8fcdf5" stroke-width="1.1"/>
<path d="M55.1,470.3 57.0,479.0 58.8,485.6 60.6,490.6 62.5,494.4 64.3,497.3 66.1,499.5 67.9,501.2 69.8,502.5 71.6,503.5 73.4,504.2 75.3,504.7 77.1,505.0 78.9,505.3 80.8,505.4 82.6,505.4 84.4,505.4 86.2,505.4 88.1,505.3 89.9,505.1 91.7,505.0 93.6,504.9 95.4,504.7 97.2,504.6 99.1,504.5 100.9,504.5 102.7,504.4 104.5,504.4 106.4,504.4 108.2,504.5 110.0,504.6 111.9,504.7 113.7,504.9 115.5,505.0 117.3,505.2 119.2,505.3 121.0,505.5 122.8,505.7 124.7,505.8 126.5,506.0 128.3,506.1 130.2,506.1 132.0,506.2 133.8,506.2 135.7,506.1 137.5,506.1 139.3,506.0 141.1,505.8 143.0,505.7" stroke="#d5cc1e" stroke-width="1.3"/>
<path d="M55.1,476.1 57.0,483.4 58.8,488.9 60.6,493.1 62.5,496.3 64.3,498.7 66.1,500.6 67.9,502.0 69.8,503.1 71.6,503.9 73.4,504.5 75.3,504.9 77.1,505.2 78.9,505.4 80.8,505.5 82.6,505.5 84.4,505.5 86.2,505.4 88.1,505.3 89.9,505.2 91.7,505.0 93.6,504.9 95.4,504.8 97.2,504.6 99.1,504.5 100.9,504.5 102.7,504.4 104.5,504.4 106.4,504.5 108.2,504.5 110.0,504.6 111.9,504.7 113.7,504.9 115.5,505.0 117.3,505.2 119.2,505.3 121.0,505.5 122.8,505.7 124.7,505.8 126.5,506.0 128.3,506.1 130.2,506.1 132.0,506.2 133.8,506.2 135.7,506.1 137.5,506.1 139.3,506.0 141.1,505.8 143.0,505.7" stroke="#807d12" stroke-width="1.3"/>
<path d="M55.1,477.5 57.0,484.8 58.8,490.2 60.6,494.3 62.5,497.3 64.3,499.6 66.1,501.3 67.9,502.6 69.8,503.6 71.6,504.3 73.4,504.8 75.3,505.2 77.1,505.4 78.9,505.6 80.8,505.6 82.6,505.6 84.4,505.6 86.2,505.5 88.1,505.4 89.9,505.2 91.7,505.1 93.6,504.9 95.4,504.8 97.2,504.7 99.1,504.6 100.9,504.5 102.7,504.4 104.5,504.4 106.4,504.5 108.2,504.5 110.0,504.6 111.9,504.7 113.7,504.9 115.5,505.0 117.3,505.2 119.2,505.3 121.0,505.5 122.8,505.7 124.7,505.8 126.5,506.0 128.3,506.1 130.2,506.1 132.0,506.2 133.8,506.2 135.7,506.1 137.5,506.1 139.3,506.0 141.1,505.8 143.0,505.7" stroke="#4a4a08" stroke-width="1.0"/>
</g>
<rect x="50.5" y="456.5" width="97" height="72.0" fill="none" stroke="#444" stroke-width="1"/>
<line x1="48.2" y1="462.25" x2="50.2" y2="462.25" stroke="#4a4a4a" stroke-width="0.8"/>
<line x1="48.2" y1="476.60" x2="50.2" y2="476.60" stroke="#4a4a4a" stroke-width="0.8"/>
<line x1="48.2" y1="490.95" x2="50.2" y2="490.95" stroke="#4a4a4a" stroke-width="0.8"/>
<line x1="48.2" y1="505.30" x2="50.2" y2="505.30" stroke="#4a4a4a" stroke-width="0.8"/>
<line x1="48.2" y1="519.65" x2="50.2" y2="519.65" stroke="#4a4a4a" stroke-width="0.8"/>
<line x1="53.30" y1="528.4" x2="53.30" y2="530.4" stroke="#4a4a4a" stroke-width="0.8"/>
<text x="53.3" y="538.8" font-size="8.4" text-anchor="middle" textLength="4.7" lengthAdjust="spacingAndGlyphs" fill="#333" stroke="#333" stroke-width="0.18">0</text>
<line x1="71.60" y1="528.4" x2="71.60" y2="530.4" stroke="#4a4a4a" stroke-width="0.8"/>
<text x="71.6" y="538.8" font-size="8.4" text-anchor="middle" textLength="14.0" lengthAdjust="spacingAndGlyphs" fill="#333" stroke="#333" stroke-width="0.18">100</text>
<line x1="89.90" y1="528.4" x2="89.90" y2="530.4" stroke="#4a4a4a" stroke-width="0.8"/>
<text x="89.9" y="538.8" font-size="8.4" text-anchor="middle" textLength="14.0" lengthAdjust="spacingAndGlyphs" fill="#333" stroke="#333" stroke-width="0.18">200</text>
<line x1="108.20" y1="528.4" x2="108.20" y2="530.4" stroke="#4a4a4a" stroke-width="0.8"/>
<text x="108.2" y="538.8" font-size="8.4" text-anchor="middle" textLength="14.0" lengthAdjust="spacingAndGlyphs" fill="#333" stroke="#333" stroke-width="0.18">300</text>
<line x1="126.50" y1="528.4" x2="126.50" y2="530.4" stroke="#4a4a4a" stroke-width="0.8"/>
<text x="126.5" y="538.8" font-size="8.4" text-anchor="middle" textLength="14.0" lengthAdjust="spacingAndGlyphs" fill="#333" stroke="#333" stroke-width="0.18">400</text>
<line x1="144.80" y1="528.4" x2="144.80" y2="530.4" stroke="#4a4a4a" stroke-width="0.8"/>
<text x="144.8" y="538.8" font-size="8.4" text-anchor="middle" textLength="14.0" lengthAdjust="spacingAndGlyphs" fill="#333" stroke="#333" stroke-width="0.18">500</text>
<text x="99.3" y="552.2" font-size="9.3" text-anchor="middle" textLength="36.2" lengthAdjust="spacingAndGlyphs" fill="#222" stroke="#222" stroke-width="0.18">Distance</text>
<line x1="156.7" y1="462.25" x2="254.0" y2="462.25" stroke="#e2e2e2" stroke-width="0.8"/>
<line x1="156.7" y1="476.60" x2="254.0" y2="476.60" stroke="#e2e2e2" stroke-width="0.8"/>
<line x1="156.7" y1="490.95" x2="254.0" y2="490.95" stroke="#e2e2e2" stroke-width="0.8"/>
<line x1="156.7" y1="505.30" x2="254.0" y2="505.30" stroke="#e2e2e2" stroke-width="0.8"/>
<line x1="156.7" y1="519.65" x2="254.0" y2="519.65" stroke="#e2e2e2" stroke-width="0.8"/>
<line x1="178.10" y1="456.2" x2="178.10" y2="528.4" stroke="#e2e2e2" stroke-width="0.8"/>
<line x1="196.40" y1="456.2" x2="196.40" y2="528.4" stroke="#e2e2e2" stroke-width="0.8"/>
<line x1="214.70" y1="456.2" x2="214.70" y2="528.4" stroke="#e2e2e2" stroke-width="0.8"/>
<line x1="233.00" y1="456.2" x2="233.00" y2="528.4" stroke="#e2e2e2" stroke-width="0.8"/>
<line x1="251.30" y1="456.2" x2="251.30" y2="528.4" stroke="#e2e2e2" stroke-width="0.8"/>
<g fill="none" stroke-linejoin="round" stroke-linecap="round">
<path d="M161.6,525.4 163.5,518.7 165.3,513.9 167.1,511.0 168.9,510.2 170.8,509.3 172.6,509.1 174.4,508.9 176.3,508.7 178.1,508.5 179.9,508.3 181.8,508.2 183.6,508.1 185.4,508.0 187.2,507.9 189.1,507.7 190.9,507.4 192.7,507.2 194.6,507.0 196.4,506.7 198.2,506.6 200.1,506.6 201.9,506.5 203.7,506.4 205.5,506.3 207.4,506.2 209.2,506.1 211.0,506.0 212.9,506.0 214.7,505.9 216.5,505.9 218.4,505.8 220.2,505.8 222.0,505.8 223.8,505.8 225.7,505.8 227.5,505.8 229.3,505.8 231.2,505.7 233.0,505.7 234.8,505.7 236.7,505.7 238.5,505.7 240.3,505.7 242.1,505.6 244.0,505.6 245.8,505.6 247.6,505.6 249.5,505.6" stroke="#6fce63" stroke-width="1.2"/>
<path d="M161.6,473.2 163.5,479.2 165.3,485.2 167.1,488.5 168.9,491.8 170.8,492.7 172.6,493.5 174.4,494.4 176.3,495.5 178.1,496.7 179.9,496.7 181.8,496.7 183.6,496.7 185.4,496.7 187.2,496.7 189.1,497.6 190.9,498.4 192.7,499.3 194.6,500.1 196.4,501.0 198.2,501.4 200.1,501.8 201.9,502.2 203.7,502.6 205.5,503.0 207.4,503.2 209.2,503.5 211.0,503.7 212.9,503.9 214.7,504.2 216.5,504.1 218.4,504.1 220.2,504.1 222.0,504.0 223.8,504.0 225.7,504.0 227.5,504.0 229.3,503.9 231.2,503.9 233.0,503.9 234.8,503.7 236.7,503.5 238.5,503.4 240.3,503.2 242.1,503.1 244.0,502.9 245.8,502.7 247.6,502.6 249.5,502.4" stroke="#f7a090" stroke-width="1.1"/>
<path d="M161.6,476.6 163.5,483.8 165.3,490.9 167.1,494.5 168.9,498.1 170.8,498.6 172.6,499.1 174.4,499.6 176.3,500.0 178.1,500.4 179.9,500.5 181.8,500.5 183.6,500.6 185.4,500.7 187.2,500.7 189.1,501.1 190.9,501.4 192.7,501.7 194.6,502.1 196.4,502.4 198.2,502.6 200.1,502.7 201.9,502.9 203.7,503.0 205.5,503.1 207.4,503.3 209.2,503.4 211.0,503.6 212.9,503.7 214.7,503.9 216.5,503.4 218.4,502.9 220.2,502.4 222.0,503.4 223.8,504.4 225.7,504.4 227.5,504.4 229.3,504.4 231.2,504.4 233.0,504.4 234.8,504.4 236.7,504.4 238.5,504.4 240.3,504.4 242.1,504.4 244.0,504.4 245.8,504.4 247.6,504.4 249.5,504.4" stroke="#8fcdf5" stroke-width="1.1"/>
<path d="M161.6,480.9 163.5,488.8 165.3,496.7 167.1,499.6 168.9,502.4 170.8,502.7 172.6,502.9 174.4,503.1 176.3,503.3 178.1,503.6 179.9,503.6 181.8,503.6 183.6,503.7 185.4,503.7 187.2,503.7 189.1,503.8 190.9,503.8 192.7,503.8 194.6,503.8 196.4,503.9 198.2,503.9 200.1,504.0 201.9,504.0 203.7,504.1 205.5,504.2 207.4,504.2 209.2,504.3 211.0,504.3 212.9,504.4 214.7,504.4 216.5,504.5 218.4,504.5 220.2,504.5 222.0,504.5 223.8,504.5 225.7,504.5 227.5,504.5 229.3,504.6 231.2,504.6 233.0,504.6 234.8,504.6 236.7,504.6 238.5,504.6 240.3,504.7 242.1,504.7 244.0,504.7 245.8,504.7 247.6,504.7 249.5,504.7" stroke="#d5cc1e" stroke-width="1.3"/>
<path d="M161.6,489.5 163.5,494.5 165.3,499.6 167.1,501.3 168.9,503.0 170.8,503.2 172.6,503.3 174.4,503.5 176.3,503.7 178.1,503.9 179.9,503.9 181.8,504.0 183.6,504.0 185.4,504.1 187.2,504.2 189.1,504.2 190.9,504.3 192.7,504.3 194.6,504.4 196.4,504.4 198.2,504.5 200.1,504.5 201.9,504.5 203.7,504.6 205.5,504.6 207.4,504.6 209.2,504.6 211.0,504.7 212.9,504.7 214.7,504.7 216.5,504.8 218.4,504.8 220.2,504.8 222.0,504.9 223.8,504.9 225.7,504.9 227.5,504.9 229.3,505.0 231.2,505.0 233.0,505.0 234.8,505.1 236.7,505.1 238.5,505.1 240.3,505.2 242.1,505.2 244.0,505.2 245.8,505.2 247.6,505.3 249.5,505.3" stroke="#807d12" stroke-width="1.4"/>
<path d="M161.6,492.4 163.5,496.7 165.3,501.0 167.1,502.3 168.9,503.6 170.8,503.8 172.6,503.9 174.4,504.1 176.3,504.3 178.1,504.4 179.9,504.5 181.8,504.5 183.6,504.5 185.4,504.5 187.2,504.5 189.1,504.6 190.9,504.6 192.7,504.6 194.6,504.6 196.4,504.7 198.2,504.7 200.1,504.7 201.9,504.7 203.7,504.7 205.5,504.8 207.4,504.8 209.2,504.8 211.0,504.8 212.9,504.9 214.7,504.9 216.5,504.9 218.4,504.9 220.2,504.9 222.0,505.0 223.8,505.0 225.7,505.0 227.5,505.0 229.3,505.1 231.2,505.1 233.0,505.1 234.8,505.1 236.7,505.1 238.5,505.2 240.3,505.2 242.1,505.2 244.0,505.2 245.8,505.3 247.6,505.3 249.5,505.3" stroke="#a8400c" stroke-width="1.0"/>
</g>
<rect x="156.5" y="456.5" width="97" height="72.0" fill="none" stroke="#444" stroke-width="1"/>
<line x1="154.7" y1="462.25" x2="156.7" y2="462.25" stroke="#4a4a4a" stroke-width="0.8"/>
<line x1="154.7" y1="476.60" x2="156.7" y2="476.60" stroke="#4a4a4a" stroke-width="0.8"/>
<line x1="154.7" y1="490.95" x2="156.7" y2="490.95" stroke="#4a4a4a" stroke-width="0.8"/>
<line x1="154.7" y1="505.30" x2="156.7" y2="505.30" stroke="#4a4a4a" stroke-width="0.8"/>
<line x1="154.7" y1="519.65" x2="156.7" y2="519.65" stroke="#4a4a4a" stroke-width="0.8"/>
<line x1="159.80" y1="528.4" x2="159.80" y2="530.4" stroke="#4a4a4a" stroke-width="0.8"/>
<text x="159.8" y="538.8" font-size="8.4" text-anchor="middle" textLength="4.7" lengthAdjust="spacingAndGlyphs" fill="#333" stroke="#333" stroke-width="0.18">0</text>
<line x1="178.10" y1="528.4" x2="178.10" y2="530.4" stroke="#4a4a4a" stroke-width="0.8"/>
<text x="178.1" y="538.8" font-size="8.4" text-anchor="middle" textLength="14.0" lengthAdjust="spacingAndGlyphs" fill="#333" stroke="#333" stroke-width="0.18">100</text>
<line x1="196.40" y1="528.4" x2="196.40" y2="530.4" stroke="#4a4a4a" stroke-width="0.8"/>
<text x="196.4" y="538.8" font-size="8.4" text-anchor="middle" textLength="14.0" lengthAdjust="spacingAndGlyphs" fill="#333" stroke="#333" stroke-width="0.18">200</text>
<line x1="214.70" y1="528.4" x2="214.70" y2="530.4" stroke="#4a4a4a" stroke-width="0.8"/>
<text x="214.7" y="538.8" font-size="8.4" text-anchor="middle" textLength="14.0" lengthAdjust="spacingAndGlyphs" fill="#333" stroke="#333" stroke-width="0.18">300</text>
<line x1="233.00" y1="528.4" x2="233.00" y2="530.4" stroke="#4a4a4a" stroke-width="0.8"/>
<text x="233.0" y="538.8" font-size="8.4" text-anchor="middle" textLength="14.0" lengthAdjust="spacingAndGlyphs" fill="#333" stroke="#333" stroke-width="0.18">400</text>
<line x1="251.30" y1="528.4" x2="251.30" y2="530.4" stroke="#4a4a4a" stroke-width="0.8"/>
<text x="251.3" y="538.8" font-size="8.4" text-anchor="middle" textLength="14.0" lengthAdjust="spacingAndGlyphs" fill="#333" stroke="#333" stroke-width="0.18">500</text>
<text x="205.8" y="552.2" font-size="9.3" text-anchor="middle" textLength="36.2" lengthAdjust="spacingAndGlyphs" fill="#222" stroke="#222" stroke-width="0.18">Distance</text>
<line x1="262.2" y1="462.25" x2="359.5" y2="462.25" stroke="#e2e2e2" stroke-width="0.8"/>
<line x1="262.2" y1="476.60" x2="359.5" y2="476.60" stroke="#e2e2e2" stroke-width="0.8"/>
<line x1="262.2" y1="490.95" x2="359.5" y2="490.95" stroke="#e2e2e2" stroke-width="0.8"/>
<line x1="262.2" y1="505.30" x2="359.5" y2="505.30" stroke="#e2e2e2" stroke-width="0.8"/>
<line x1="262.2" y1="519.65" x2="359.5" y2="519.65" stroke="#e2e2e2" stroke-width="0.8"/>
<line x1="283.60" y1="456.2" x2="283.60" y2="528.4" stroke="#e2e2e2" stroke-width="0.8"/>
<line x1="301.90" y1="456.2" x2="301.90" y2="528.4" stroke="#e2e2e2" stroke-width="0.8"/>
<line x1="320.20" y1="456.2" x2="320.20" y2="528.4" stroke="#e2e2e2" stroke-width="0.8"/>
<line x1="338.50" y1="456.2" x2="338.50" y2="528.4" stroke="#e2e2e2" stroke-width="0.8"/>
<line x1="356.80" y1="456.2" x2="356.80" y2="528.4" stroke="#e2e2e2" stroke-width="0.8"/>
<g fill="none" stroke-linejoin="round" stroke-linecap="round">
<path d="M267.1,523.1 269.0,517.8 270.8,512.5 272.6,510.6 274.4,508.7 276.3,508.5 278.1,508.3 279.9,508.1 281.8,507.8 283.6,507.6 285.4,507.5 287.3,507.4 289.1,507.3 290.9,507.1 292.8,507.0 294.6,506.9 296.4,506.8 298.2,506.7 300.1,506.6 301.9,506.4 303.7,506.4 305.6,506.3 307.4,506.3 309.2,506.2 311.1,506.2 312.9,506.1 314.7,506.0 316.5,506.0 318.4,505.9 320.2,505.9 322.0,505.9 323.9,505.8 325.7,505.8 327.5,505.8 329.4,505.8 331.2,505.8 333.0,505.8 334.8,505.8 336.7,505.7 338.5,505.7 340.3,505.7 342.2,505.7 344.0,505.7 345.8,505.7 347.6,505.6 349.5,505.6 351.3,505.6 353.1,505.6 355.0,505.6" stroke="#6fce63" stroke-width="1.2"/>
<path d="M267.1,472.3 269.0,478.8 270.8,485.2 272.6,488.1 274.4,490.9 276.3,491.9 278.1,492.9 279.9,493.9 281.8,494.9 283.6,495.8 285.4,496.2 287.3,496.5 289.1,496.9 290.9,497.2 292.8,497.6 294.6,498.0 296.4,498.4 298.2,498.8 300.1,499.2 301.9,499.6 303.7,499.8 305.6,500.0 307.4,500.2 309.2,500.5 311.1,500.7 312.9,500.9 314.7,501.2 316.5,501.4 318.4,501.6 320.2,501.9 322.0,502.1 323.9,502.3 325.7,502.5 327.5,502.7 329.4,502.9 331.2,503.1 333.0,503.3 334.8,503.5 336.7,503.7 338.5,503.9 340.3,503.8 342.2,503.7 344.0,503.7 345.8,503.6 347.6,503.5 349.5,503.5 351.3,503.4 353.1,503.4 355.0,503.3" stroke="#f7a090" stroke-width="1.1"/>
<path d="M267.1,468.9 269.0,477.0 270.8,485.2 272.6,489.5 274.4,493.8 276.3,495.3 278.1,496.7 279.9,498.1 281.8,498.8 283.6,499.6 285.4,499.8 287.3,500.0 289.1,500.2 290.9,500.5 292.8,500.7 294.6,501.1 296.4,501.4 298.2,501.7 300.1,502.1 301.9,502.4 303.7,502.5 305.6,502.7 307.4,502.8 309.2,502.9 311.1,503.0 312.9,503.1 314.7,503.2 316.5,503.3 318.4,503.5 320.2,503.6 322.0,503.6 323.9,503.6 325.7,503.7 327.5,503.7 329.4,503.7 331.2,503.8 333.0,503.8 334.8,503.8 336.7,503.8 338.5,503.9 340.3,503.9 342.2,503.9 344.0,504.0 345.8,504.0 347.6,504.0 349.5,504.1 351.3,504.1 353.1,504.1 355.0,504.2" stroke="#8fcdf5" stroke-width="1.1"/>
<path d="M267.1,485.8 269.0,490.5 270.8,495.3 272.6,498.1 274.4,501.0 276.3,501.4 278.1,501.8 279.9,502.2 281.8,502.6 283.6,503.0 285.4,503.1 287.3,503.2 289.1,503.3 290.9,503.3 292.8,503.4 294.6,503.5 296.4,503.6 298.2,503.7 300.1,503.8 301.9,503.9 303.7,503.9 305.6,503.9 307.4,504.0 309.2,504.0 311.1,504.0 312.9,504.0 314.7,504.1 316.5,504.1 318.4,504.1 320.2,504.2 322.0,504.2 323.9,504.2 325.7,504.3 327.5,504.3 329.4,504.3 331.2,504.3 333.0,504.4 334.8,504.4 336.7,504.4 338.5,504.5 340.3,504.5 342.2,504.5 344.0,504.5 345.8,504.6 347.6,504.6 349.5,504.6 351.3,504.7 353.1,504.7 355.0,504.7" stroke="#d5cc1e" stroke-width="1.4"/>
<path d="M267.1,493.2 269.0,496.1 270.8,499.0 272.6,500.7 274.4,502.4 276.3,502.7 278.1,503.0 279.9,503.3 281.8,503.6 283.6,503.9 285.4,503.9 287.3,503.9 289.1,504.0 290.9,504.0 292.8,504.0 294.6,504.1 296.4,504.1 298.2,504.2 300.1,504.2 301.9,504.2 303.7,504.3 305.6,504.3 307.4,504.3 309.2,504.4 311.1,504.4 312.9,504.5 314.7,504.5 316.5,504.5 318.4,504.6 320.2,504.6 322.0,504.6 323.9,504.7 325.7,504.7 327.5,504.7 329.4,504.8 331.2,504.8 333.0,504.9 334.8,504.9 336.7,504.9 338.5,505.0 340.3,505.0 342.2,505.0 344.0,505.1 345.8,505.1 347.6,505.2 349.5,505.2 351.3,505.2 353.1,505.3 355.0,505.3" stroke="#807d12" stroke-width="1.5"/>
<path d="M267.1,493.8 269.0,496.7 270.8,499.6 272.6,501.3 274.4,503.0 276.3,503.3 278.1,503.6 279.9,503.9 281.8,504.2 283.6,504.4 285.4,504.5 287.3,504.5 289.1,504.5 290.9,504.5 292.8,504.5 294.6,504.6 296.4,504.6 298.2,504.6 300.1,504.6 301.9,504.7 303.7,504.7 305.6,504.7 307.4,504.7 309.2,504.7 311.1,504.8 312.9,504.8 314.7,504.8 316.5,504.8 318.4,504.9 320.2,504.9 322.0,504.9 323.9,504.9 325.7,504.9 327.5,505.0 329.4,505.0 331.2,505.0 333.0,505.0 334.8,505.1 336.7,505.1 338.5,505.1 340.3,505.1 342.2,505.1 344.0,505.2 345.8,505.2 347.6,505.2 349.5,505.2 351.3,505.3 353.1,505.3 355.0,505.3" stroke="#a8400c" stroke-width="1.0"/>
</g>
<rect x="262.5" y="456.5" width="97" height="72.0" fill="none" stroke="#444" stroke-width="1"/>
<line x1="260.2" y1="462.25" x2="262.2" y2="462.25" stroke="#4a4a4a" stroke-width="0.8"/>
<line x1="260.2" y1="476.60" x2="262.2" y2="476.60" stroke="#4a4a4a" stroke-width="0.8"/>
<line x1="260.2" y1="490.95" x2="262.2" y2="490.95" stroke="#4a4a4a" stroke-width="0.8"/>
<line x1="260.2" y1="505.30" x2="262.2" y2="505.30" stroke="#4a4a4a" stroke-width="0.8"/>
<line x1="260.2" y1="519.65" x2="262.2" y2="519.65" stroke="#4a4a4a" stroke-width="0.8"/>
<line x1="265.30" y1="528.4" x2="265.30" y2="530.4" stroke="#4a4a4a" stroke-width="0.8"/>
<text x="265.3" y="538.8" font-size="8.4" text-anchor="middle" textLength="4.7" lengthAdjust="spacingAndGlyphs" fill="#333" stroke="#333" stroke-width="0.18">0</text>
<line x1="283.60" y1="528.4" x2="283.60" y2="530.4" stroke="#4a4a4a" stroke-width="0.8"/>
<text x="283.6" y="538.8" font-size="8.4" text-anchor="middle" textLength="14.0" lengthAdjust="spacingAndGlyphs" fill="#333" stroke="#333" stroke-width="0.18">100</text>
<line x1="301.90" y1="528.4" x2="301.90" y2="530.4" stroke="#4a4a4a" stroke-width="0.8"/>
<text x="301.9" y="538.8" font-size="8.4" text-anchor="middle" textLength="14.0" lengthAdjust="spacingAndGlyphs" fill="#333" stroke="#333" stroke-width="0.18">200</text>
<line x1="320.20" y1="528.4" x2="320.20" y2="530.4" stroke="#4a4a4a" stroke-width="0.8"/>
<text x="320.2" y="538.8" font-size="8.4" text-anchor="middle" textLength="14.0" lengthAdjust="spacingAndGlyphs" fill="#333" stroke="#333" stroke-width="0.18">300</text>
<line x1="338.50" y1="528.4" x2="338.50" y2="530.4" stroke="#4a4a4a" stroke-width="0.8"/>
<text x="338.5" y="538.8" font-size="8.4" text-anchor="middle" textLength="14.0" lengthAdjust="spacingAndGlyphs" fill="#333" stroke="#333" stroke-width="0.18">400</text>
<line x1="356.80" y1="528.4" x2="356.80" y2="530.4" stroke="#4a4a4a" stroke-width="0.8"/>
<text x="356.8" y="538.8" font-size="8.4" text-anchor="middle" textLength="14.0" lengthAdjust="spacingAndGlyphs" fill="#333" stroke="#333" stroke-width="0.18">500</text>
<text x="311.3" y="552.2" font-size="9.3" text-anchor="middle" textLength="36.2" lengthAdjust="spacingAndGlyphs" fill="#222" stroke="#222" stroke-width="0.18">Distance</text>
<line x1="367.5" y1="462.25" x2="464.8" y2="462.25" stroke="#e2e2e2" stroke-width="0.8"/>
<line x1="367.5" y1="476.60" x2="464.8" y2="476.60" stroke="#e2e2e2" stroke-width="0.8"/>
<line x1="367.5" y1="490.95" x2="464.8" y2="490.95" stroke="#e2e2e2" stroke-width="0.8"/>
<line x1="367.5" y1="505.30" x2="464.8" y2="505.30" stroke="#e2e2e2" stroke-width="0.8"/>
<line x1="367.5" y1="519.65" x2="464.8" y2="519.65" stroke="#e2e2e2" stroke-width="0.8"/>
<line x1="388.90" y1="456.2" x2="388.90" y2="528.4" stroke="#e2e2e2" stroke-width="0.8"/>
<line x1="407.20" y1="456.2" x2="407.20" y2="528.4" stroke="#e2e2e2" stroke-width="0.8"/>
<line x1="425.50" y1="456.2" x2="425.50" y2="528.4" stroke="#e2e2e2" stroke-width="0.8"/>
<line x1="443.80" y1="456.2" x2="443.80" y2="528.4" stroke="#e2e2e2" stroke-width="0.8"/>
<line x1="462.10" y1="456.2" x2="462.10" y2="528.4" stroke="#e2e2e2" stroke-width="0.8"/>
<g fill="none" stroke-linejoin="round" stroke-linecap="round">
<path d="M372.4,509.8 376.1,504.8 379.8,504.5 383.4,506.6 387.1,505.4 390.7,505.6 394.4,504.6 398.1,504.0 401.7,507.2 405.4,507.5 409.0,503.8 412.7,505.6 416.4,504.1 420.0,507.6 423.7,505.6 427.3,504.3 431.0,506.5 434.7,503.3 438.3,503.5 442.0,507.5 445.6,507.5 449.3,505.1 453.0,503.3 456.6,505.8 460.3,506.6" stroke="#6fce63" stroke-width="1.0"/>
<path d="M372.4,502.2 376.1,502.2 379.8,508.4 383.4,508.2 387.1,503.0 390.7,503.7 394.4,504.1 398.1,506.6 401.7,504.6 405.4,504.6 409.0,504.7 412.7,507.7 416.4,505.8 420.0,506.0 423.7,503.8 427.3,501.9 431.0,502.2 434.7,505.0 438.3,505.7 442.0,506.9 445.6,508.5 449.3,508.6 453.0,505.5 456.6,506.6 460.3,506.1" stroke="#d5cc1e" stroke-width="1.1"/>
<path d="M372.4,515.9 376.1,506.1 379.8,506.4 383.4,504.5 387.1,504.4 390.7,508.5 394.4,508.9 398.1,502.8 401.7,507.1 405.4,507.3 409.0,501.6 412.7,505.5 416.4,502.8 420.0,505.5 423.7,504.3 427.3,507.9 431.0,504.3 434.7,502.6 438.3,505.1 442.0,503.5 445.6,504.0 449.3,508.6 453.0,503.4 456.6,504.6 460.3,506.8" stroke="#807d12" stroke-width="1.2"/>
<path d="M372.4,506.8 376.1,507.6 379.8,505.9 383.4,507.3 387.1,507.8 390.7,505.9 394.4,502.9 398.1,503.6 401.7,503.8 405.4,506.9 409.0,505.1 412.7,506.6 416.4,507.2 420.0,507.6 423.7,506.9 427.3,502.8 431.0,503.4 434.7,503.5 438.3,503.6 442.0,507.1 445.6,506.4 449.3,504.6 453.0,504.0 456.6,503.3 460.3,503.1" stroke="#a8400c" stroke-width="1.1"/>
<path d="M372.4,475.2 374.3,482.3 376.1,489.5 377.9,493.8 379.8,498.1 381.6,500.3 383.4,502.4 385.2,503.9 387.1,505.3 388.9,506.7 390.7,505.3 392.6,503.9 394.4,505.5 396.2,507.1 398.1,508.7 399.9,508.1 401.7,507.4 403.5,506.7 405.4,506.0 407.2,505.3 409.0,506.2 410.9,507.0 412.7,507.9 414.5,508.7 416.4,509.6 418.2,508.5 420.0,507.3 421.8,506.2 423.7,505.0 425.5,503.9 427.3,504.2 429.2,504.4 431.0,504.7 432.8,505.0 434.7,505.3 436.5,505.6 438.3,505.9 440.1,506.2 442.0,506.4 443.8,506.7 445.6,506.4 447.5,506.2 449.3,505.9 451.1,505.6 453.0,505.3 454.8,508.9 456.6,512.5 458.4,512.5 460.3,512.5" stroke="#8fcdf5" stroke-width="1.0"/>
<path d="M372.4,482.3 374.3,489.5 376.1,496.7 377.9,497.4 379.8,498.1 381.6,500.3 383.4,502.4 385.2,503.9 387.1,505.3 388.9,506.7 390.7,505.6 392.6,504.4 394.4,503.3 396.2,502.1 398.1,501.0 399.9,501.0 401.7,501.0 403.5,501.0 405.4,501.0 407.2,501.0 409.0,503.4 410.9,505.8 412.7,508.2 414.5,507.8 416.4,507.4 418.2,506.9 420.0,506.5 421.8,506.1 423.7,505.7 425.5,505.3 427.3,504.4 429.2,503.6 431.0,502.7 432.8,501.9 434.7,501.0 436.5,501.3 438.3,501.6 440.1,501.9 442.0,502.1 443.8,502.4 445.6,503.9 447.5,505.3 449.3,507.7 451.1,510.1 453.0,512.5 454.8,513.9 456.6,515.3 458.4,516.8 460.3,518.2" stroke="#f7a090" stroke-width="1.0"/>
</g>
<rect x="367.5" y="456.5" width="97" height="72.0" fill="none" stroke="#444" stroke-width="1"/>
<line x1="365.5" y1="462.25" x2="367.5" y2="462.25" stroke="#4a4a4a" stroke-width="0.8"/>
<line x1="365.5" y1="476.60" x2="367.5" y2="476.60" stroke="#4a4a4a" stroke-width="0.8"/>
<line x1="365.5" y1="490.95" x2="367.5" y2="490.95" stroke="#4a4a4a" stroke-width="0.8"/>
<line x1="365.5" y1="505.30" x2="367.5" y2="505.30" stroke="#4a4a4a" stroke-width="0.8"/>
<line x1="365.5" y1="519.65" x2="367.5" y2="519.65" stroke="#4a4a4a" stroke-width="0.8"/>
<line x1="370.60" y1="528.4" x2="370.60" y2="530.4" stroke="#4a4a4a" stroke-width="0.8"/>
<text x="370.6" y="538.8" font-size="8.4" text-anchor="middle" textLength="4.7" lengthAdjust="spacingAndGlyphs" fill="#333" stroke="#333" stroke-width="0.18">0</text>
<line x1="388.90" y1="528.4" x2="388.90" y2="530.4" stroke="#4a4a4a" stroke-width="0.8"/>
<text x="388.9" y="538.8" font-size="8.4" text-anchor="middle" textLength="14.0" lengthAdjust="spacingAndGlyphs" fill="#333" stroke="#333" stroke-width="0.18">100</text>
<line x1="407.20" y1="528.4" x2="407.20" y2="530.4" stroke="#4a4a4a" stroke-width="0.8"/>
<text x="407.2" y="538.8" font-size="8.4" text-anchor="middle" textLength="14.0" lengthAdjust="spacingAndGlyphs" fill="#333" stroke="#333" stroke-width="0.18">200</text>
<line x1="425.50" y1="528.4" x2="425.50" y2="530.4" stroke="#4a4a4a" stroke-width="0.8"/>
<text x="425.5" y="538.8" font-size="8.4" text-anchor="middle" textLength="14.0" lengthAdjust="spacingAndGlyphs" fill="#333" stroke="#333" stroke-width="0.18">300</text>
<line x1="443.80" y1="528.4" x2="443.80" y2="530.4" stroke="#4a4a4a" stroke-width="0.8"/>
<text x="443.8" y="538.8" font-size="8.4" text-anchor="middle" textLength="14.0" lengthAdjust="spacingAndGlyphs" fill="#333" stroke="#333" stroke-width="0.18">400</text>
<line x1="462.10" y1="528.4" x2="462.10" y2="530.4" stroke="#4a4a4a" stroke-width="0.8"/>
<text x="462.1" y="538.8" font-size="8.4" text-anchor="middle" textLength="14.0" lengthAdjust="spacingAndGlyphs" fill="#333" stroke="#333" stroke-width="0.18">500</text>
<text x="416.6" y="552.2" font-size="9.3" text-anchor="middle" textLength="36.2" lengthAdjust="spacingAndGlyphs" fill="#222" stroke="#222" stroke-width="0.18">Distance</text>
<line x1="473.2" y1="462.25" x2="570.5" y2="462.25" stroke="#e2e2e2" stroke-width="0.8"/>
<line x1="473.2" y1="476.60" x2="570.5" y2="476.60" stroke="#e2e2e2" stroke-width="0.8"/>
<line x1="473.2" y1="490.95" x2="570.5" y2="490.95" stroke="#e2e2e2" stroke-width="0.8"/>
<line x1="473.2" y1="505.30" x2="570.5" y2="505.30" stroke="#e2e2e2" stroke-width="0.8"/>
<line x1="473.2" y1="519.65" x2="570.5" y2="519.65" stroke="#e2e2e2" stroke-width="0.8"/>
<line x1="494.60" y1="456.2" x2="494.60" y2="528.4" stroke="#e2e2e2" stroke-width="0.8"/>
<line x1="512.90" y1="456.2" x2="512.90" y2="528.4" stroke="#e2e2e2" stroke-width="0.8"/>
<line x1="531.20" y1="456.2" x2="531.20" y2="528.4" stroke="#e2e2e2" stroke-width="0.8"/>
<line x1="549.50" y1="456.2" x2="549.50" y2="528.4" stroke="#e2e2e2" stroke-width="0.8"/>
<line x1="567.80" y1="456.2" x2="567.80" y2="528.4" stroke="#e2e2e2" stroke-width="0.8"/>
<g fill="none" stroke-linejoin="round" stroke-linecap="round">
<path d="M478.1,506.4 481.8,505.1 485.4,504.6 489.1,504.1 492.8,504.6 496.4,504.1 500.1,506.7 503.8,505.4 507.4,504.0 511.1,504.9 514.7,504.1 518.4,506.4 522.0,505.4 525.7,506.0 529.4,505.2 533.0,505.1 536.7,506.7 540.4,506.1 544.0,505.9 547.7,504.1 551.3,504.5 555.0,506.3 558.6,504.4 562.3,506.3 566.0,505.0" stroke="#6fce63" stroke-width="1.0"/>
<path d="M478.1,503.9 481.8,503.8 485.4,504.8 489.1,505.4 492.8,506.2 496.4,504.3 500.1,504.8 503.8,504.0 507.4,505.1 511.1,504.0 514.7,505.4 518.4,503.9 522.0,504.1 525.7,505.0 529.4,504.6 533.0,504.2 536.7,505.6 540.4,504.6 544.0,503.9 547.7,505.4 551.3,503.9 555.0,504.2 558.6,503.7 562.3,505.2 566.0,505.9" stroke="#d5cc1e" stroke-width="1.1"/>
<path d="M478.1,505.1 481.8,505.8 485.4,503.8 489.1,506.2 492.8,504.3 496.4,505.0 500.1,506.2 503.8,504.4 507.4,506.3 511.1,504.7 514.7,506.2 518.4,506.1 522.0,504.7 525.7,503.1 529.4,506.0 533.0,505.6 536.7,503.9 540.4,502.6 544.0,504.1 547.7,504.9 551.3,502.5 555.0,506.3 558.6,503.0 562.3,505.3 566.0,505.9" stroke="#807d12" stroke-width="1.2"/>
<path d="M478.1,506.2 481.8,503.7 485.4,506.6 489.1,504.6 492.8,506.7 496.4,506.2 500.1,503.6 503.8,506.3 507.4,504.8 511.1,505.4 514.7,505.5 518.4,505.3 522.0,506.4 525.7,504.2 529.4,506.7 533.0,506.2 536.7,507.0 540.4,506.1 544.0,505.6 547.7,503.9 551.3,505.7 555.0,506.6 558.6,506.1 562.3,503.6 566.0,506.8" stroke="#a8400c" stroke-width="1.0"/>
<path d="M478.1,486.6 480.0,492.4 481.8,498.1 483.6,503.9 485.4,505.3 487.3,506.7 489.1,505.7 490.9,504.6 492.8,503.5 494.6,502.4 496.4,503.3 498.3,504.2 500.1,505.0 501.9,505.9 503.8,506.7 505.6,506.4 507.4,506.2 509.2,505.9 511.1,505.6 512.9,505.3 514.7,505.0 516.6,504.7 518.4,504.4 520.2,504.2 522.0,503.9 523.9,504.2 525.7,504.4 527.5,504.7 529.4,505.0 531.2,505.3 533.0,505.6 534.9,505.9 536.7,506.2 538.5,506.4 540.4,506.7 542.2,506.7 544.0,506.7 545.8,506.7 547.7,506.7 549.5,506.7 551.3,506.2 553.2,505.6 555.0,505.0 556.8,504.4 558.6,503.9 560.5,504.2 562.3,504.6 564.1,504.9 566.0,505.3" stroke="#8fcdf5" stroke-width="1.0"/>
<path d="M478.1,486.6 480.0,492.4 481.8,498.1 483.6,503.9 485.4,506.7 487.3,509.6 489.1,508.2 490.9,506.7 492.8,505.3 494.6,503.9 496.4,504.4 498.3,505.0 500.1,505.6 501.9,506.2 503.8,506.7 505.6,505.3 507.4,503.9 509.2,502.4 511.1,503.1 512.9,503.9 514.7,504.6 516.6,505.3 518.4,504.3 520.2,503.4 522.0,502.4 523.9,503.3 525.7,504.2 527.5,505.0 529.4,505.9 531.2,506.7 533.0,506.7 534.9,506.7 536.7,506.7 538.5,506.7 540.4,506.7 542.2,506.4 544.0,506.2 545.8,505.9 547.7,505.6 549.5,505.3 551.3,506.7 553.2,508.2 555.0,507.1 556.8,506.0 558.6,504.9 560.5,503.9 562.3,505.3 564.1,506.7 566.0,508.2" stroke="#f7a090" stroke-width="1.0"/>
</g>
<rect x="473.5" y="456.5" width="97" height="72.0" fill="none" stroke="#444" stroke-width="1"/>
<line x1="471.2" y1="462.25" x2="473.2" y2="462.25" stroke="#4a4a4a" stroke-width="0.8"/>
<line x1="471.2" y1="476.60" x2="473.2" y2="476.60" stroke="#4a4a4a" stroke-width="0.8"/>
<line x1="471.2" y1="490.95" x2="473.2" y2="490.95" stroke="#4a4a4a" stroke-width="0.8"/>
<line x1="471.2" y1="505.30" x2="473.2" y2="505.30" stroke="#4a4a4a" stroke-width="0.8"/>
<line x1="471.2" y1="519.65" x2="473.2" y2="519.65" stroke="#4a4a4a" stroke-width="0.8"/>
<line x1="476.30" y1="528.4" x2="476.30" y2="530.4" stroke="#4a4a4a" stroke-width="0.8"/>
<text x="476.3" y="538.8" font-size="8.4" text-anchor="middle" textLength="4.7" lengthAdjust="spacingAndGlyphs" fill="#333" stroke="#333" stroke-width="0.18">0</text>
<line x1="494.60" y1="528.4" x2="494.60" y2="530.4" stroke="#4a4a4a" stroke-width="0.8"/>
<text x="494.6" y="538.8" font-size="8.4" text-anchor="middle" textLength="14.0" lengthAdjust="spacingAndGlyphs" fill="#333" stroke="#333" stroke-width="0.18">100</text>
<line x1="512.90" y1="528.4" x2="512.90" y2="530.4" stroke="#4a4a4a" stroke-width="0.8"/>
<text x="512.9" y="538.8" font-size="8.4" text-anchor="middle" textLength="14.0" lengthAdjust="spacingAndGlyphs" fill="#333" stroke="#333" stroke-width="0.18">200</text>
<line x1="531.20" y1="528.4" x2="531.20" y2="530.4" stroke="#4a4a4a" stroke-width="0.8"/>
<text x="531.2" y="538.8" font-size="8.4" text-anchor="middle" textLength="14.0" lengthAdjust="spacingAndGlyphs" fill="#333" stroke="#333" stroke-width="0.18">300</text>
<line x1="549.50" y1="528.4" x2="549.50" y2="530.4" stroke="#4a4a4a" stroke-width="0.8"/>
<text x="549.5" y="538.8" font-size="8.4" text-anchor="middle" textLength="14.0" lengthAdjust="spacingAndGlyphs" fill="#333" stroke="#333" stroke-width="0.18">400</text>
<line x1="567.80" y1="528.4" x2="567.80" y2="530.4" stroke="#4a4a4a" stroke-width="0.8"/>
<text x="567.8" y="538.8" font-size="8.4" text-anchor="middle" textLength="14.0" lengthAdjust="spacingAndGlyphs" fill="#333" stroke="#333" stroke-width="0.18">500</text>
<text x="522.4" y="552.2" font-size="9.3" text-anchor="middle" textLength="36.2" lengthAdjust="spacingAndGlyphs" fill="#222" stroke="#222" stroke-width="0.18">Distance</text>
<line x1="579.5" y1="462.25" x2="676.8" y2="462.25" stroke="#e2e2e2" stroke-width="0.8"/>
<line x1="579.5" y1="476.60" x2="676.8" y2="476.60" stroke="#e2e2e2" stroke-width="0.8"/>
<line x1="579.5" y1="490.95" x2="676.8" y2="490.95" stroke="#e2e2e2" stroke-width="0.8"/>
<line x1="579.5" y1="505.30" x2="676.8" y2="505.30" stroke="#e2e2e2" stroke-width="0.8"/>
<line x1="579.5" y1="519.65" x2="676.8" y2="519.65" stroke="#e2e2e2" stroke-width="0.8"/>
<line x1="600.90" y1="456.2" x2="600.90" y2="528.4" stroke="#e2e2e2" stroke-width="0.8"/>
<line x1="619.20" y1="456.2" x2="619.20" y2="528.4" stroke="#e2e2e2" stroke-width="0.8"/>
<line x1="637.50" y1="456.2" x2="637.50" y2="528.4" stroke="#e2e2e2" stroke-width="0.8"/>
<line x1="655.80" y1="456.2" x2="655.80" y2="528.4" stroke="#e2e2e2" stroke-width="0.8"/>
<line x1="674.10" y1="456.2" x2="674.10" y2="528.4" stroke="#e2e2e2" stroke-width="0.8"/>
<g fill="none" stroke-linejoin="round" stroke-linecap="round">
<path d="M584.4,517.6 586.3,515.1 588.1,512.5 589.9,511.2 591.8,509.9 593.6,509.4 595.4,509.0 597.2,508.5 599.1,508.1 600.9,507.6 602.7,507.5 604.6,507.4 606.4,507.3 608.2,507.1 610.1,507.0 611.9,506.9 613.7,506.8 615.5,506.7 617.4,506.6 619.2,506.4 621.0,506.4 622.9,506.3 624.7,506.2 626.5,506.1 628.4,506.0 630.2,505.9 632.0,505.8 633.8,505.8 635.7,505.7 637.5,505.6 639.3,505.6 641.2,505.6 643.0,505.5 644.8,505.5 646.6,505.5 648.5,505.5 650.3,505.5 652.1,505.5 654.0,505.5 655.8,505.4 657.6,505.4 659.5,505.4 661.3,505.4 663.1,505.4 665.0,505.4 666.8,505.3 668.6,505.3 670.4,505.3 672.3,505.3" stroke="#6fce63" stroke-width="1.1"/>
<path d="M584.4,485.8 586.3,488.4 588.1,490.9 589.9,492.4 591.8,493.8 593.6,494.5 595.4,495.2 597.2,495.9 599.1,496.6 600.9,497.3 602.7,497.7 604.6,498.2 606.4,498.6 608.2,499.1 610.1,499.6 611.9,500.0 613.7,500.5 615.5,500.9 617.4,501.4 619.2,501.9 621.0,502.1 622.9,502.3 624.7,502.5 626.5,502.7 628.4,502.9 630.2,503.1 632.0,503.3 633.8,503.5 635.7,503.7 637.5,503.9 639.3,504.0 641.2,504.2 643.0,504.3 644.8,504.4 646.6,504.6 648.5,504.7 650.3,504.9 652.1,505.0 654.0,505.2 655.8,505.3 657.6,505.1 659.5,505.0 661.3,504.8 663.1,504.7 665.0,504.5 666.8,504.3 668.6,504.2 670.4,504.0 672.3,503.9" stroke="#f7a090" stroke-width="1.1"/>
<path d="M584.4,490.7 586.3,493.7 588.1,496.7 589.9,498.1 591.8,499.6 593.6,500.0 595.4,500.5 597.2,500.9 599.1,501.4 600.9,501.9 602.7,502.1 604.6,502.3 606.4,502.5 608.2,502.7 610.1,502.9 611.9,503.1 613.7,503.3 615.5,503.5 617.4,503.7 619.2,503.9 621.0,504.0 622.9,504.0 624.7,504.1 626.5,504.2 628.4,504.3 630.2,504.4 632.0,504.5 633.8,504.6 635.7,504.6 637.5,504.7 639.3,504.7 641.2,504.7 643.0,504.7 644.8,504.7 646.6,504.7 648.5,504.7 650.3,504.7 652.1,504.7 654.0,504.7 655.8,504.7 657.6,504.7 659.5,504.7 661.3,504.7 663.1,504.7 665.0,504.7 666.8,504.7 668.6,504.7 670.4,504.7 672.3,504.7" stroke="#8fcdf5" stroke-width="1.1"/>
<path d="M584.4,495.8 586.3,498.8 588.1,501.9 589.9,502.9 591.8,503.9 593.6,504.0 595.4,504.1 597.2,504.2 599.1,504.3 600.9,504.4 602.7,504.5 604.6,504.5 606.4,504.5 608.2,504.5 610.1,504.5 611.9,504.6 613.7,504.6 615.5,504.6 617.4,504.6 619.2,504.7 621.0,504.7 622.9,504.7 624.7,504.7 626.5,504.7 628.4,504.8 630.2,504.8 632.0,504.8 633.8,504.8 635.7,504.9 637.5,504.9 639.3,504.9 641.2,504.9 643.0,504.9 644.8,505.0 646.6,505.0 648.5,505.0 650.3,505.0 652.1,505.1 654.0,505.1 655.8,505.1 657.6,505.1 659.5,505.1 661.3,505.2 663.1,505.2 665.0,505.2 666.8,505.2 668.6,505.3 670.4,505.3 672.3,505.3" stroke="#d5cc1e" stroke-width="1.3"/>
<path d="M584.4,503.9 586.3,503.9 588.1,503.9 589.9,504.0 591.8,504.1 593.6,504.2 595.4,504.4 597.2,504.5 599.1,504.6 600.9,504.7 602.7,504.7 604.6,504.8 606.4,504.8 608.2,504.8 610.1,504.8 611.9,504.8 613.7,504.8 615.5,504.8 617.4,504.9 619.2,504.9 621.0,504.9 622.9,504.9 624.7,504.9 626.5,504.9 628.4,504.9 630.2,505.0 632.0,505.0 633.8,505.0 635.7,505.0 637.5,505.0 639.3,505.0 641.2,505.0 643.0,505.1 644.8,505.1 646.6,505.1 648.5,505.1 650.3,505.1 652.1,505.1 654.0,505.2 655.8,505.2 657.6,505.2 659.5,505.2 661.3,505.2 663.1,505.2 665.0,505.2 666.8,505.3 668.6,505.3 670.4,505.3 672.3,505.3" stroke="#a8400c" stroke-width="1.2"/>
<path d="M584.4,506.7 586.3,505.7 588.1,504.7 589.9,504.7 591.8,504.7 593.6,504.7 595.4,504.7 597.2,504.7 599.1,504.7 600.9,504.7 602.7,504.7 604.6,504.8 606.4,504.8 608.2,504.8 610.1,504.8 611.9,504.8 613.7,504.8 615.5,504.8 617.4,504.9 619.2,504.9 621.0,504.9 622.9,504.9 624.7,504.9 626.5,504.9 628.4,504.9 630.2,505.0 632.0,505.0 633.8,505.0 635.7,505.0 637.5,505.0 639.3,505.0 641.2,505.0 643.0,505.1 644.8,505.1 646.6,505.1 648.5,505.1 650.3,505.1 652.1,505.1 654.0,505.2 655.8,505.2 657.6,505.2 659.5,505.2 661.3,505.2 663.1,505.2 665.0,505.2 666.8,505.3 668.6,505.3 670.4,505.3 672.3,505.3" stroke="#807d12" stroke-width="1.3"/>
</g>
<rect x="579.5" y="456.5" width="97" height="72.0" fill="none" stroke="#444" stroke-width="1"/>
<line x1="577.5" y1="462.25" x2="579.5" y2="462.25" stroke="#4a4a4a" stroke-width="0.8"/>
<line x1="577.5" y1="476.60" x2="579.5" y2="476.60" stroke="#4a4a4a" stroke-width="0.8"/>
<line x1="577.5" y1="490.95" x2="579.5" y2="490.95" stroke="#4a4a4a" stroke-width="0.8"/>
<line x1="577.5" y1="505.30" x2="579.5" y2="505.30" stroke="#4a4a4a" stroke-width="0.8"/>
<line x1="577.5" y1="519.65" x2="579.5" y2="519.65" stroke="#4a4a4a" stroke-width="0.8"/>
<line x1="582.60" y1="528.4" x2="582.60" y2="530.4" stroke="#4a4a4a" stroke-width="0.8"/>
<text x="582.6" y="538.8" font-size="8.4" text-anchor="middle" textLength="4.7" lengthAdjust="spacingAndGlyphs" fill="#333" stroke="#333" stroke-width="0.18">0</text>
<line x1="600.90" y1="528.4" x2="600.90" y2="530.4" stroke="#4a4a4a" stroke-width="0.8"/>
<text x="600.9" y="538.8" font-size="8.4" text-anchor="middle" textLength="14.0" lengthAdjust="spacingAndGlyphs" fill="#333" stroke="#333" stroke-width="0.18">100</text>
<line x1="619.20" y1="528.4" x2="619.20" y2="530.4" stroke="#4a4a4a" stroke-width="0.8"/>
<text x="619.2" y="538.8" font-size="8.4" text-anchor="middle" textLength="14.0" lengthAdjust="spacingAndGlyphs" fill="#333" stroke="#333" stroke-width="0.18">200</text>
<line x1="637.50" y1="528.4" x2="637.50" y2="530.4" stroke="#4a4a4a" stroke-width="0.8"/>
<text x="637.5" y="538.8" font-size="8.4" text-anchor="middle" textLength="14.0" lengthAdjust="spacingAndGlyphs" fill="#333" stroke="#333" stroke-width="0.18">300</text>
<line x1="655.80" y1="528.4" x2="655.80" y2="530.4" stroke="#4a4a4a" stroke-width="0.8"/>
<text x="655.8" y="538.8" font-size="8.4" text-anchor="middle" textLength="14.0" lengthAdjust="spacingAndGlyphs" fill="#333" stroke="#333" stroke-width="0.18">400</text>
<line x1="674.10" y1="528.4" x2="674.10" y2="530.4" stroke="#4a4a4a" stroke-width="0.8"/>
<text x="674.1" y="538.8" font-size="8.4" text-anchor="middle" textLength="14.0" lengthAdjust="spacingAndGlyphs" fill="#333" stroke="#333" stroke-width="0.18">500</text>
<text x="628.6" y="552.2" font-size="9.3" text-anchor="middle" textLength="36.2" lengthAdjust="spacingAndGlyphs" fill="#222" stroke="#222" stroke-width="0.18">Distance</text>
<text x="46.3" y="465.2" font-size="8.4" text-anchor="end" textLength="11.7" lengthAdjust="spacingAndGlyphs" fill="#333" stroke="#333" stroke-width="0.18">1.5</text>
<text x="46.3" y="479.6" font-size="8.4" text-anchor="end" textLength="11.7" lengthAdjust="spacingAndGlyphs" fill="#333" stroke="#333" stroke-width="0.18">1.0</text>
<text x="46.3" y="493.9" font-size="8.4" text-anchor="end" textLength="11.7" lengthAdjust="spacingAndGlyphs" fill="#333" stroke="#333" stroke-width="0.18">0.5</text>
<text x="46.3" y="508.3" font-size="8.4" text-anchor="end" textLength="4.7" lengthAdjust="spacingAndGlyphs" fill="#333" stroke="#333" stroke-width="0.18">0</text>
<text x="46.3" y="522.6" font-size="8.4" text-anchor="end" textLength="16.6" lengthAdjust="spacingAndGlyphs" fill="#333" stroke="#333" stroke-width="0.18">−0.5</text>
<text x="16.7" y="526.5" font-size="9.0" textLength="12.0" lengthAdjust="spacingAndGlyphs" transform="rotate(-90 16.7 526.5)" fill="#222" stroke="#222" stroke-width="0.18">log</text>
<text x="18.9" y="512.7" font-size="8.3" textLength="2.8" lengthAdjust="spacingAndGlyphs" transform="rotate(-90 18.9 512.7)" fill="#222" stroke="#222" stroke-width="0.18">(</text>
<text x="18.9" y="463.7" font-size="8.3" textLength="2.8" lengthAdjust="spacingAndGlyphs" transform="rotate(-90 18.9 463.7)" fill="#222" stroke="#222" stroke-width="0.18">)</text>
<text x="11.4" y="485.7" font-size="4.8" text-anchor="middle" textLength="45.9" lengthAdjust="spacingAndGlyphs" transform="rotate(-90 11.4 485.7)" fill="#333" stroke="#333" stroke-width="0.08">p(anno|Macroph.)</text>
<line x1="15.5" y1="463.4" x2="15.5" y2="508.7" stroke="#444" stroke-width="0.5"/>
<text x="21.4" y="485.7" font-size="4.8" text-anchor="middle" textLength="20.2" lengthAdjust="spacingAndGlyphs" transform="rotate(-90 21.4 485.7)" fill="#333" stroke="#333" stroke-width="0.08">p(anno)</text>
<text x="50.2" y="566.0" font-size="8.9" textLength="153" lengthAdjust="spacingAndGlyphs" fill="#222" stroke="#222" stroke-width="0.18">917–4531: Long-range accumulations</text>
<line x1="50.2" y1="588.30" x2="147.5" y2="588.30" stroke="#e2e2e2" stroke-width="0.8"/>
<line x1="50.2" y1="607.30" x2="147.5" y2="607.30" stroke="#e2e2e2" stroke-width="0.8"/>
<line x1="50.2" y1="626.30" x2="147.5" y2="626.30" stroke="#e2e2e2" stroke-width="0.8"/>
<line x1="71.60" y1="570.5" x2="71.60" y2="642.7" stroke="#e2e2e2" stroke-width="0.8"/>
<line x1="89.90" y1="570.5" x2="89.90" y2="642.7" stroke="#e2e2e2" stroke-width="0.8"/>
<line x1="108.20" y1="570.5" x2="108.20" y2="642.7" stroke="#e2e2e2" stroke-width="0.8"/>
<line x1="126.50" y1="570.5" x2="126.50" y2="642.7" stroke="#e2e2e2" stroke-width="0.8"/>
<line x1="144.80" y1="570.5" x2="144.80" y2="642.7" stroke="#e2e2e2" stroke-width="0.8"/>
<g fill="none" stroke-linejoin="round" stroke-linecap="round">
<path d="M55.1,627.2 57.0,627.1 58.8,627.0 60.6,626.9 62.5,626.8 64.3,626.7 66.1,626.6 67.9,626.5 69.8,626.4 71.6,626.3 73.4,626.3 75.3,626.3 77.1,626.3 78.9,626.3 80.8,626.3 82.6,626.3 84.4,626.3 86.2,626.3 88.1,626.3 89.9,626.3 91.7,626.3 93.6,626.2 95.4,626.2 97.2,626.1 99.1,626.1 100.9,626.1 102.7,626.0 104.5,626.0 106.4,626.0 108.2,625.9 110.0,625.9 111.9,626.0 113.7,626.0 115.5,626.0 117.3,626.0 119.2,626.0 121.0,626.1 122.8,626.1 124.7,626.1 126.5,626.1 128.3,626.1 130.2,626.2 132.0,626.2 133.8,626.2 135.7,626.2 137.5,626.2 139.3,626.3 141.1,626.3 143.0,626.3" stroke="#6fce63" stroke-width="1.0"/>
<path d="M55.1,628.6 57.0,628.0 58.8,627.4 60.6,626.9 62.5,626.3 64.3,626.1 66.1,625.9 67.9,625.7 69.8,625.5 71.6,625.3 73.4,625.3 75.3,625.2 77.1,625.1 78.9,625.0 80.8,624.9 82.6,624.8 84.4,624.7 86.2,624.6 88.1,624.5 89.9,624.4 91.7,624.4 93.6,624.4 95.4,624.4 97.2,624.4 99.1,624.4 100.9,624.6 102.7,624.8 104.5,625.0 106.4,625.2 108.2,625.3 110.0,625.4 111.9,625.5 113.7,625.6 115.5,625.7 117.3,625.8 119.2,625.9 121.0,626.0 122.8,626.1 124.7,626.2 126.5,626.3 128.3,626.2 130.2,626.1 132.0,626.0 133.8,625.9 135.7,625.8 137.5,625.7 139.3,625.6 141.1,625.5 143.0,625.3" stroke="#1f7d24" stroke-width="1.1"/>
<path d="M55.1,580.7 57.0,586.4 58.8,592.1 60.6,594.6 62.5,597.2 64.3,599.7 66.1,602.5 67.9,605.4 69.8,608.2 71.6,611.1 73.4,612.6 75.3,614.1 77.1,615.7 78.9,617.2 80.8,618.7 82.6,619.3 84.4,619.8 86.2,620.4 88.1,621.0 89.9,621.5 91.7,622.0 93.6,622.5 95.4,623.0 97.2,623.5 99.1,624.0 100.9,624.4 102.7,624.7 104.5,625.0 106.4,625.4 108.2,625.7 110.0,626.2 111.9,626.7 113.7,627.2 115.5,627.7 117.3,628.2 119.2,628.6 121.0,629.0 122.8,629.3 124.7,629.7 126.5,630.1 128.3,630.4 130.2,630.7 132.0,631.0 133.8,630.1 135.7,629.1 137.5,628.2 139.3,627.9 141.1,627.6 143.0,627.2" stroke="#8fcdf5" stroke-width="1.1"/>
<path d="M55.1,591.1 57.0,594.5 58.8,597.8 60.6,599.7 62.5,601.6 64.3,603.5 66.1,605.6 67.9,607.8 69.8,609.9 71.6,612.0 73.4,613.6 75.3,615.1 77.1,616.6 78.9,618.1 80.8,619.6 82.6,620.4 84.4,621.2 86.2,621.9 88.1,622.7 89.9,623.4 91.7,623.7 93.6,624.0 95.4,624.3 97.2,624.6 99.1,624.9 100.9,625.2 102.7,625.4 104.5,625.7 106.4,626.0 108.2,626.3 110.0,626.6 111.9,626.9 113.7,627.2 115.5,627.4 117.3,627.7 119.2,628.0 121.0,628.3 122.8,628.6 124.7,628.9 126.5,629.1 128.3,629.3 130.2,629.5 132.0,629.7 133.8,629.9 135.7,630.1 137.5,629.9 139.3,629.6 141.1,629.4 143.0,629.1" stroke="#d5cc1e" stroke-width="1.1"/>
<path d="M55.1,612.0 57.0,610.6 58.8,609.2 60.6,609.4 62.5,609.6 64.3,610.8 66.1,612.0 67.9,613.0 69.8,613.9 71.6,614.9 73.4,615.5 75.3,616.2 77.1,616.8 78.9,618.7 80.8,620.6 82.6,620.6 84.4,620.6 86.2,620.6 88.1,620.6 89.9,620.6 91.7,621.4 93.6,622.1 95.4,622.9 97.2,623.4 99.1,623.9 100.9,624.4 102.7,624.6 104.5,624.9 106.4,625.1 108.2,625.3 110.0,625.5 111.9,625.7 113.7,625.9 115.5,626.1 117.3,626.3 119.2,626.5 121.0,626.7 122.8,626.9 124.7,627.1 126.5,627.2 128.3,627.1 130.2,626.9 132.0,626.7 133.8,626.5 135.7,626.3 137.5,626.1 139.3,625.8 141.1,625.6 143.0,625.3" stroke="#3a7bc4" stroke-width="1.1"/>
</g>
<rect x="50.5" y="570.5" width="97" height="72.0" fill="none" stroke="#444" stroke-width="1"/>
<line x1="48.2" y1="588.30" x2="50.2" y2="588.30" stroke="#4a4a4a" stroke-width="0.8"/>
<line x1="48.2" y1="607.30" x2="50.2" y2="607.30" stroke="#4a4a4a" stroke-width="0.8"/>
<line x1="48.2" y1="626.30" x2="50.2" y2="626.30" stroke="#4a4a4a" stroke-width="0.8"/>
<line x1="53.30" y1="642.7" x2="53.30" y2="644.7" stroke="#4a4a4a" stroke-width="0.8"/>
<text x="53.3" y="653.6" font-size="8.4" text-anchor="middle" textLength="4.7" lengthAdjust="spacingAndGlyphs" fill="#333" stroke="#333" stroke-width="0.18">0</text>
<line x1="71.60" y1="642.7" x2="71.60" y2="644.7" stroke="#4a4a4a" stroke-width="0.8"/>
<text x="71.6" y="653.6" font-size="8.4" text-anchor="middle" textLength="14.0" lengthAdjust="spacingAndGlyphs" fill="#333" stroke="#333" stroke-width="0.18">100</text>
<line x1="89.90" y1="642.7" x2="89.90" y2="644.7" stroke="#4a4a4a" stroke-width="0.8"/>
<text x="89.9" y="653.6" font-size="8.4" text-anchor="middle" textLength="14.0" lengthAdjust="spacingAndGlyphs" fill="#333" stroke="#333" stroke-width="0.18">200</text>
<line x1="108.20" y1="642.7" x2="108.20" y2="644.7" stroke="#4a4a4a" stroke-width="0.8"/>
<text x="108.2" y="653.6" font-size="8.4" text-anchor="middle" textLength="14.0" lengthAdjust="spacingAndGlyphs" fill="#333" stroke="#333" stroke-width="0.18">300</text>
<line x1="126.50" y1="642.7" x2="126.50" y2="644.7" stroke="#4a4a4a" stroke-width="0.8"/>
<text x="126.5" y="653.6" font-size="8.4" text-anchor="middle" textLength="14.0" lengthAdjust="spacingAndGlyphs" fill="#333" stroke="#333" stroke-width="0.18">400</text>
<line x1="144.80" y1="642.7" x2="144.80" y2="644.7" stroke="#4a4a4a" stroke-width="0.8"/>
<text x="144.8" y="653.6" font-size="8.4" text-anchor="middle" textLength="14.0" lengthAdjust="spacingAndGlyphs" fill="#333" stroke="#333" stroke-width="0.18">500</text>
<text x="99.3" y="666.3" font-size="9.3" text-anchor="middle" textLength="36.2" lengthAdjust="spacingAndGlyphs" fill="#222" stroke="#222" stroke-width="0.18">Distance</text>
<line x1="156.7" y1="588.30" x2="254.0" y2="588.30" stroke="#e2e2e2" stroke-width="0.8"/>
<line x1="156.7" y1="607.30" x2="254.0" y2="607.30" stroke="#e2e2e2" stroke-width="0.8"/>
<line x1="156.7" y1="626.30" x2="254.0" y2="626.30" stroke="#e2e2e2" stroke-width="0.8"/>
<line x1="178.10" y1="570.5" x2="178.10" y2="642.7" stroke="#e2e2e2" stroke-width="0.8"/>
<line x1="196.40" y1="570.5" x2="196.40" y2="642.7" stroke="#e2e2e2" stroke-width="0.8"/>
<line x1="214.70" y1="570.5" x2="214.70" y2="642.7" stroke="#e2e2e2" stroke-width="0.8"/>
<line x1="233.00" y1="570.5" x2="233.00" y2="642.7" stroke="#e2e2e2" stroke-width="0.8"/>
<line x1="251.30" y1="570.5" x2="251.30" y2="642.7" stroke="#e2e2e2" stroke-width="0.8"/>
<g fill="none" stroke-linejoin="round" stroke-linecap="round">
<path d="M161.6,632.0 163.5,630.6 165.3,629.1 167.1,628.8 168.9,628.5 170.8,628.2 172.6,628.1 174.4,628.0 176.3,627.9 178.1,627.8 179.9,627.7 181.8,627.7 183.6,627.6 185.4,627.5 187.2,627.4 189.1,627.4 190.9,627.3 192.7,627.2 194.6,627.1 196.4,627.1 198.2,627.0 200.1,626.9 201.9,626.8 203.7,626.8 205.5,626.7 207.4,626.6 209.2,626.5 211.0,626.5 212.9,626.4 214.7,626.3 216.5,626.2 218.4,626.2 220.2,626.1 222.0,626.1 223.8,626.0 225.7,626.0 227.5,625.9 229.3,625.8 231.2,625.8 233.0,625.7 234.8,625.7 236.7,625.6 238.5,625.6 240.3,625.6 242.1,625.5 244.0,625.5 245.8,625.4 247.6,625.4 249.5,625.3" stroke="#6fce63" stroke-width="1.0"/>
<path d="M161.6,634.8 163.5,632.9 165.3,631.0 167.1,630.4 168.9,629.8 170.8,629.1 172.6,628.9 174.4,628.7 176.3,628.4 178.1,628.2 179.9,628.1 181.8,628.0 183.6,627.9 185.4,627.8 187.2,627.7 189.1,627.6 190.9,627.5 192.7,627.4 194.6,627.3 196.4,627.2 198.2,627.2 200.1,627.1 201.9,627.0 203.7,626.9 205.5,626.8 207.4,626.7 209.2,626.6 211.0,626.5 212.9,626.4 214.7,626.3 216.5,626.2 218.4,626.2 220.2,626.1 222.0,626.1 223.8,626.0 225.7,626.0 227.5,625.9 229.3,625.8 231.2,625.8 233.0,625.7 234.8,625.7 236.7,625.6 238.5,625.6 240.3,625.6 242.1,625.5 244.0,625.5 245.8,625.4 247.6,625.4 249.5,625.3" stroke="#1f7d24" stroke-width="1.2"/>
<path d="M161.6,585.4 163.5,590.7 165.3,595.9 167.1,598.3 168.9,600.6 170.8,602.0 172.6,603.3 174.4,604.6 176.3,606.0 178.1,607.3 179.9,608.0 181.8,608.7 183.6,609.4 185.4,610.0 187.2,610.7 189.1,611.2 190.9,611.6 192.7,612.1 194.6,612.5 196.4,613.0 198.2,613.5 200.1,613.9 201.9,614.4 203.7,614.8 205.5,615.3 207.4,616.0 209.2,616.6 211.0,617.3 212.9,618.0 214.7,618.7 216.5,619.5 218.4,620.2 220.2,621.0 222.0,621.7 223.8,622.5 225.7,623.1 227.5,623.6 229.3,624.2 231.2,624.8 233.0,625.3 234.8,625.6 236.7,625.8 238.5,626.0 240.3,626.2 242.1,626.4 244.0,626.6 245.8,626.8 247.6,627.0 249.5,627.2" stroke="#d5cc1e" stroke-width="1.1"/>
<path d="M161.6,578.8 163.5,583.1 165.3,587.3 167.1,589.6 168.9,591.8 170.8,594.0 172.6,595.7 174.4,597.3 176.3,599.0 178.1,600.6 179.9,601.6 181.8,602.5 183.6,603.5 185.4,604.4 187.2,605.4 189.1,605.8 190.9,606.2 192.7,606.5 194.6,606.9 196.4,607.3 198.2,608.1 200.1,608.8 201.9,609.6 203.7,610.3 205.5,611.1 207.4,612.0 209.2,613.0 211.0,613.9 212.9,614.9 214.7,615.8 216.5,616.8 218.4,617.8 220.2,618.7 222.0,619.6 223.8,620.6 225.7,621.4 227.5,622.3 229.3,623.1 231.2,623.9 233.0,624.8 234.8,625.3 236.7,625.8 238.5,626.3 240.3,626.8 242.1,627.2 244.0,627.4 245.8,627.5 247.6,627.7 249.5,627.8" stroke="#8fcdf5" stroke-width="1.1"/>
<path d="M161.6,576.9 163.5,582.6 165.3,588.3 167.1,590.8 168.9,593.4 170.8,595.9 172.6,597.6 174.4,599.2 176.3,600.9 178.1,602.5 179.9,603.3 181.8,604.1 183.6,604.8 185.4,605.6 187.2,606.3 189.1,606.9 190.9,607.5 192.7,608.1 194.6,608.6 196.4,609.2 198.2,610.0 200.1,610.7 201.9,611.5 203.7,612.2 205.5,613.0 207.4,613.9 209.2,614.9 211.0,615.8 212.9,616.8 214.7,617.8 216.5,618.7 218.4,619.6 220.2,620.6 222.0,621.5 223.8,622.5 225.7,623.6 227.5,624.8 229.3,625.9 231.2,627.1 233.0,628.2 234.8,628.5 236.7,628.8 238.5,629.1 240.3,629.4 242.1,629.7 244.0,630.4 245.8,631.0 247.6,630.8 249.5,630.5" stroke="#3a7bc4" stroke-width="1.2"/>
</g>
<rect x="156.5" y="570.5" width="97" height="72.0" fill="none" stroke="#444" stroke-width="1"/>
<line x1="154.7" y1="588.30" x2="156.7" y2="588.30" stroke="#4a4a4a" stroke-width="0.8"/>
<line x1="154.7" y1="607.30" x2="156.7" y2="607.30" stroke="#4a4a4a" stroke-width="0.8"/>
<line x1="154.7" y1="626.30" x2="156.7" y2="626.30" stroke="#4a4a4a" stroke-width="0.8"/>
<line x1="159.80" y1="642.7" x2="159.80" y2="644.7" stroke="#4a4a4a" stroke-width="0.8"/>
<text x="159.8" y="653.6" font-size="8.4" text-anchor="middle" textLength="4.7" lengthAdjust="spacingAndGlyphs" fill="#333" stroke="#333" stroke-width="0.18">0</text>
<line x1="178.10" y1="642.7" x2="178.10" y2="644.7" stroke="#4a4a4a" stroke-width="0.8"/>
<text x="178.1" y="653.6" font-size="8.4" text-anchor="middle" textLength="14.0" lengthAdjust="spacingAndGlyphs" fill="#333" stroke="#333" stroke-width="0.18">100</text>
<line x1="196.40" y1="642.7" x2="196.40" y2="644.7" stroke="#4a4a4a" stroke-width="0.8"/>
<text x="196.4" y="653.6" font-size="8.4" text-anchor="middle" textLength="14.0" lengthAdjust="spacingAndGlyphs" fill="#333" stroke="#333" stroke-width="0.18">200</text>
<line x1="214.70" y1="642.7" x2="214.70" y2="644.7" stroke="#4a4a4a" stroke-width="0.8"/>
<text x="214.7" y="653.6" font-size="8.4" text-anchor="middle" textLength="14.0" lengthAdjust="spacingAndGlyphs" fill="#333" stroke="#333" stroke-width="0.18">300</text>
<line x1="233.00" y1="642.7" x2="233.00" y2="644.7" stroke="#4a4a4a" stroke-width="0.8"/>
<text x="233.0" y="653.6" font-size="8.4" text-anchor="middle" textLength="14.0" lengthAdjust="spacingAndGlyphs" fill="#333" stroke="#333" stroke-width="0.18">400</text>
<line x1="251.30" y1="642.7" x2="251.30" y2="644.7" stroke="#4a4a4a" stroke-width="0.8"/>
<text x="251.3" y="653.6" font-size="8.4" text-anchor="middle" textLength="14.0" lengthAdjust="spacingAndGlyphs" fill="#333" stroke="#333" stroke-width="0.18">500</text>
<text x="205.8" y="666.3" font-size="9.3" text-anchor="middle" textLength="36.2" lengthAdjust="spacingAndGlyphs" fill="#222" stroke="#222" stroke-width="0.18">Distance</text>
<line x1="262.2" y1="588.30" x2="359.5" y2="588.30" stroke="#e2e2e2" stroke-width="0.8"/>
<line x1="262.2" y1="607.30" x2="359.5" y2="607.30" stroke="#e2e2e2" stroke-width="0.8"/>
<line x1="262.2" y1="626.30" x2="359.5" y2="626.30" stroke="#e2e2e2" stroke-width="0.8"/>
<line x1="283.60" y1="570.5" x2="283.60" y2="642.7" stroke="#e2e2e2" stroke-width="0.8"/>
<line x1="301.90" y1="570.5" x2="301.90" y2="642.7" stroke="#e2e2e2" stroke-width="0.8"/>
<line x1="320.20" y1="570.5" x2="320.20" y2="642.7" stroke="#e2e2e2" stroke-width="0.8"/>
<line x1="338.50" y1="570.5" x2="338.50" y2="642.7" stroke="#e2e2e2" stroke-width="0.8"/>
<line x1="356.80" y1="570.5" x2="356.80" y2="642.7" stroke="#e2e2e2" stroke-width="0.8"/>
<g fill="none" stroke-linejoin="round" stroke-linecap="round">
<path d="M267.1,631.0 269.0,630.1 270.8,629.1 272.6,628.8 274.4,628.5 276.3,628.2 278.1,628.1 279.9,627.9 281.8,627.8 283.6,627.6 285.4,627.6 287.3,627.5 289.1,627.4 290.9,627.3 292.8,627.2 294.6,627.2 296.4,627.1 298.2,627.0 300.1,626.9 301.9,626.9 303.7,626.8 305.6,626.8 307.4,626.7 309.2,626.6 311.1,626.6 312.9,626.5 314.7,626.5 316.5,626.4 318.4,626.4 320.2,626.3 322.0,626.3 323.9,626.3 325.7,626.3 327.5,626.3 329.4,626.3 331.2,626.3 333.0,626.3 334.8,626.3 336.7,626.3 338.5,626.3 340.3,626.3 342.2,626.3 344.0,626.3 345.8,626.3 347.6,626.3 349.5,626.3 351.3,626.3 353.1,626.3 355.0,626.3" stroke="#6fce63" stroke-width="1.0"/>
<path d="M267.1,636.8 269.0,633.9 270.8,631.0 272.6,630.4 274.4,629.8 276.3,629.1 278.1,628.9 279.9,628.7 281.8,628.4 283.6,628.2 285.4,628.1 287.3,628.0 289.1,627.9 290.9,627.8 292.8,627.7 294.6,627.6 296.4,627.5 298.2,627.4 300.1,627.3 301.9,627.2 303.7,627.2 305.6,627.1 307.4,627.0 309.2,626.9 311.1,626.8 312.9,626.7 314.7,626.6 316.5,626.5 318.4,626.4 320.2,626.3 322.0,626.2 323.9,626.2 325.7,626.1 327.5,626.1 329.4,626.0 331.2,626.0 333.0,625.9 334.8,625.8 336.7,625.8 338.5,625.7 340.3,625.8 342.2,625.9 344.0,625.9 345.8,626.0 347.6,626.0 349.5,626.1 351.3,626.2 353.1,626.2 355.0,626.3" stroke="#1f7d24" stroke-width="1.2"/>
<path d="M267.1,584.5 269.0,588.3 270.8,592.1 272.6,594.3 274.4,596.5 276.3,598.8 278.1,600.2 279.9,601.6 281.8,603.0 283.6,604.4 285.4,605.2 287.3,606.0 289.1,606.7 290.9,607.5 292.8,608.2 294.6,608.8 296.4,609.4 298.2,610.0 300.1,610.5 301.9,611.1 303.7,611.9 305.6,612.6 307.4,613.4 309.2,614.1 311.1,614.9 312.9,615.8 314.7,616.8 316.5,617.8 318.4,618.7 320.2,619.6 322.0,620.4 323.9,621.2 325.7,621.9 327.5,622.7 329.4,623.4 331.2,624.1 333.0,624.7 334.8,625.4 336.7,626.0 338.5,626.7 340.3,626.8 342.2,627.0 344.0,627.2 345.8,627.4 347.6,627.5 349.5,627.7 351.3,627.9 353.1,628.0 355.0,628.2" stroke="#d5cc1e" stroke-width="1.1"/>
<path d="M267.1,574.0 269.0,579.3 270.8,584.5 272.6,587.3 274.4,590.2 276.3,593.0 278.1,594.9 279.9,596.8 281.8,598.8 283.6,600.6 285.4,601.4 287.3,602.2 289.1,602.9 290.9,603.7 292.8,604.4 294.6,605.0 296.4,605.6 298.2,606.2 300.1,606.7 301.9,607.3 303.7,608.2 305.6,609.2 307.4,610.1 309.2,611.1 311.1,612.0 312.9,613.2 314.7,614.3 316.5,615.5 318.4,616.6 320.2,617.8 322.0,618.9 323.9,620.0 325.7,621.2 327.5,622.3 329.4,623.4 331.2,624.2 333.0,625.0 334.8,625.7 336.7,626.5 338.5,627.2 340.3,627.8 342.2,628.4 344.0,629.0 345.8,629.5 347.6,630.1 349.5,630.6 351.3,631.0 353.1,631.5 355.0,632.0" stroke="#8fcdf5" stroke-width="1.1"/>
<path d="M267.1,581.6 269.0,586.4 270.8,591.1 272.6,593.4 274.4,595.6 276.3,597.8 278.1,599.5 279.9,601.1 281.8,602.8 283.6,604.4 285.4,605.2 287.3,606.0 289.1,606.7 290.9,607.5 292.8,608.2 294.6,608.8 296.4,609.4 298.2,610.0 300.1,610.5 301.9,611.1 303.7,612.0 305.6,613.0 307.4,613.9 309.2,614.9 311.1,615.8 312.9,616.8 314.7,617.8 316.5,618.7 318.4,619.6 320.2,620.6 322.0,621.5 323.9,622.5 325.7,623.4 327.5,624.4 329.4,625.3 331.2,626.1 333.0,626.9 334.8,627.6 336.7,628.4 338.5,629.1 340.3,629.5 342.2,629.9 344.0,630.3 345.8,630.7 347.6,631.0 349.5,631.1 351.3,631.2 353.1,631.3 355.0,631.4" stroke="#3a7bc4" stroke-width="1.2"/>
</g>
<rect x="262.5" y="570.5" width="97" height="72.0" fill="none" stroke="#444" stroke-width="1"/>
<line x1="260.2" y1="588.30" x2="262.2" y2="588.30" stroke="#4a4a4a" stroke-width="0.8"/>
<line x1="260.2" y1="607.30" x2="262.2" y2="607.30" stroke="#4a4a4a" stroke-width="0.8"/>
<line x1="260.2" y1="626.30" x2="262.2" y2="626.30" stroke="#4a4a4a" stroke-width="0.8"/>
<line x1="265.30" y1="642.7" x2="265.30" y2="644.7" stroke="#4a4a4a" stroke-width="0.8"/>
<text x="265.3" y="653.6" font-size="8.4" text-anchor="middle" textLength="4.7" lengthAdjust="spacingAndGlyphs" fill="#333" stroke="#333" stroke-width="0.18">0</text>
<line x1="283.60" y1="642.7" x2="283.60" y2="644.7" stroke="#4a4a4a" stroke-width="0.8"/>
<text x="283.6" y="653.6" font-size="8.4" text-anchor="middle" textLength="14.0" lengthAdjust="spacingAndGlyphs" fill="#333" stroke="#333" stroke-width="0.18">100</text>
<line x1="301.90" y1="642.7" x2="301.90" y2="644.7" stroke="#4a4a4a" stroke-width="0.8"/>
<text x="301.9" y="653.6" font-size="8.4" text-anchor="middle" textLength="14.0" lengthAdjust="spacingAndGlyphs" fill="#333" stroke="#333" stroke-width="0.18">200</text>
<line x1="320.20" y1="642.7" x2="320.20" y2="644.7" stroke="#4a4a4a" stroke-width="0.8"/>
<text x="320.2" y="653.6" font-size="8.4" text-anchor="middle" textLength="14.0" lengthAdjust="spacingAndGlyphs" fill="#333" stroke="#333" stroke-width="0.18">300</text>
<line x1="338.50" y1="642.7" x2="338.50" y2="644.7" stroke="#4a4a4a" stroke-width="0.8"/>
<text x="338.5" y="653.6" font-size="8.4" text-anchor="middle" textLength="14.0" lengthAdjust="spacingAndGlyphs" fill="#333" stroke="#333" stroke-width="0.18">400</text>
<line x1="356.80" y1="642.7" x2="356.80" y2="644.7" stroke="#4a4a4a" stroke-width="0.8"/>
<text x="356.8" y="653.6" font-size="8.4" text-anchor="middle" textLength="14.0" lengthAdjust="spacingAndGlyphs" fill="#333" stroke="#333" stroke-width="0.18">500</text>
<text x="311.3" y="666.3" font-size="9.3" text-anchor="middle" textLength="36.2" lengthAdjust="spacingAndGlyphs" fill="#222" stroke="#222" stroke-width="0.18">Distance</text>
<line x1="367.5" y1="588.30" x2="464.8" y2="588.30" stroke="#e2e2e2" stroke-width="0.8"/>
<line x1="367.5" y1="607.30" x2="464.8" y2="607.30" stroke="#e2e2e2" stroke-width="0.8"/>
<line x1="367.5" y1="626.30" x2="464.8" y2="626.30" stroke="#e2e2e2" stroke-width="0.8"/>
<line x1="388.90" y1="570.5" x2="388.90" y2="642.7" stroke="#e2e2e2" stroke-width="0.8"/>
<line x1="407.20" y1="570.5" x2="407.20" y2="642.7" stroke="#e2e2e2" stroke-width="0.8"/>
<line x1="425.50" y1="570.5" x2="425.50" y2="642.7" stroke="#e2e2e2" stroke-width="0.8"/>
<line x1="443.80" y1="570.5" x2="443.80" y2="642.7" stroke="#e2e2e2" stroke-width="0.8"/>
<line x1="462.10" y1="570.5" x2="462.10" y2="642.7" stroke="#e2e2e2" stroke-width="0.8"/>
<g fill="none" stroke-linejoin="round" stroke-linecap="round">
<path d="M372.8,628.8 381.8,629.5 389.3,626.7 411.8,625.9 426.8,622.1 434.3,622.9 441.8,625.2 461.4,626.7" stroke="#6fce63" stroke-width="1.0"/>
<path d="M372.8,624.0 375.9,625.5 381.8,621.4 390.9,622.1 396.8,625.2 402.8,624.0 408.8,627.4 414.9,630.3 426.8,630.1 438.9,631.0 444.9,627.4 450.9,629.5 461.4,624.4" stroke="#d5cc1e" stroke-width="1.1"/>
<path d="M372.8,625.9 381.8,624.6 389.3,625.9 395.3,628.2 402.8,625.9 413.4,621.5 419.3,623.6 423.9,627.4 434.3,628.6 441.8,628.2 450.9,625.5 461.4,625.9" stroke="#1f7d24" stroke-width="1.2"/>
<path d="M373.5,613.8 376.6,613.0 381.8,616.0 389.3,622.1 396.8,625.2 404.3,628.2 408.8,630.3 416.4,630.1 422.4,634.8 428.4,639.4 437.4,634.1 441.8,630.3 450.9,629.1 461.4,623.6" stroke="#8fcdf5" stroke-width="1.1"/>
<path d="M372.8,629.5 377.4,631.6 386.3,626.7 396.8,625.2 405.9,624.0 410.3,630.3 413.4,628.2 417.8,631.0 425.3,620.6 429.9,621.4 432.8,620.6 437.4,625.9 444.9,628.2 450.0,631.0 455.3,628.2 462.1,627.4" stroke="#3a7bc4" stroke-width="1.1"/>
</g>
<rect x="367.5" y="570.5" width="97" height="72.0" fill="none" stroke="#444" stroke-width="1"/>
<line x1="365.5" y1="588.30" x2="367.5" y2="588.30" stroke="#4a4a4a" stroke-width="0.8"/>
<line x1="365.5" y1="607.30" x2="367.5" y2="607.30" stroke="#4a4a4a" stroke-width="0.8"/>
<line x1="365.5" y1="626.30" x2="367.5" y2="626.30" stroke="#4a4a4a" stroke-width="0.8"/>
<line x1="370.60" y1="642.7" x2="370.60" y2="644.7" stroke="#4a4a4a" stroke-width="0.8"/>
<text x="370.6" y="653.6" font-size="8.4" text-anchor="middle" textLength="4.7" lengthAdjust="spacingAndGlyphs" fill="#333" stroke="#333" stroke-width="0.18">0</text>
<line x1="388.90" y1="642.7" x2="388.90" y2="644.7" stroke="#4a4a4a" stroke-width="0.8"/>
<text x="388.9" y="653.6" font-size="8.4" text-anchor="middle" textLength="14.0" lengthAdjust="spacingAndGlyphs" fill="#333" stroke="#333" stroke-width="0.18">100</text>
<line x1="407.20" y1="642.7" x2="407.20" y2="644.7" stroke="#4a4a4a" stroke-width="0.8"/>
<text x="407.2" y="653.6" font-size="8.4" text-anchor="middle" textLength="14.0" lengthAdjust="spacingAndGlyphs" fill="#333" stroke="#333" stroke-width="0.18">200</text>
<line x1="425.50" y1="642.7" x2="425.50" y2="644.7" stroke="#4a4a4a" stroke-width="0.8"/>
<text x="425.5" y="653.6" font-size="8.4" text-anchor="middle" textLength="14.0" lengthAdjust="spacingAndGlyphs" fill="#333" stroke="#333" stroke-width="0.18">300</text>
<line x1="443.80" y1="642.7" x2="443.80" y2="644.7" stroke="#4a4a4a" stroke-width="0.8"/>
<text x="443.8" y="653.6" font-size="8.4" text-anchor="middle" textLength="14.0" lengthAdjust="spacingAndGlyphs" fill="#333" stroke="#333" stroke-width="0.18">400</text>
<line x1="462.10" y1="642.7" x2="462.10" y2="644.7" stroke="#4a4a4a" stroke-width="0.8"/>
<text x="462.1" y="653.6" font-size="8.4" text-anchor="middle" textLength="14.0" lengthAdjust="spacingAndGlyphs" fill="#333" stroke="#333" stroke-width="0.18">500</text>
<text x="416.6" y="666.3" font-size="9.3" text-anchor="middle" textLength="36.2" lengthAdjust="spacingAndGlyphs" fill="#222" stroke="#222" stroke-width="0.18">Distance</text>
<line x1="473.2" y1="588.30" x2="570.5" y2="588.30" stroke="#e2e2e2" stroke-width="0.8"/>
<line x1="473.2" y1="607.30" x2="570.5" y2="607.30" stroke="#e2e2e2" stroke-width="0.8"/>
<line x1="473.2" y1="626.30" x2="570.5" y2="626.30" stroke="#e2e2e2" stroke-width="0.8"/>
<line x1="494.60" y1="570.5" x2="494.60" y2="642.7" stroke="#e2e2e2" stroke-width="0.8"/>
<line x1="512.90" y1="570.5" x2="512.90" y2="642.7" stroke="#e2e2e2" stroke-width="0.8"/>
<line x1="531.20" y1="570.5" x2="531.20" y2="642.7" stroke="#e2e2e2" stroke-width="0.8"/>
<line x1="549.50" y1="570.5" x2="549.50" y2="642.7" stroke="#e2e2e2" stroke-width="0.8"/>
<line x1="567.80" y1="570.5" x2="567.80" y2="642.7" stroke="#e2e2e2" stroke-width="0.8"/>
<g fill="none" stroke-linejoin="round" stroke-linecap="round">
<path d="M477.8,631.8 486.0,627.4 515.6,625.9 530.7,622.5 538.0,623.6 553.0,625.9 566.3,626.7" stroke="#6fce63" stroke-width="1.0"/>
<path d="M477.0,625.9 488.9,628.6 493.5,625.2 508.3,625.2 518.8,631.6 523.1,628.2 530.7,627.4 545.5,627.1 566.3,623.1" stroke="#d5cc1e" stroke-width="1.1"/>
<path d="M477.0,623.6 486.0,624.0 500.8,626.7 509.8,625.2 518.8,623.6 524.6,625.5 533.6,628.6 542.5,627.4 566.3,626.3" stroke="#1f7d24" stroke-width="1.2"/>
<path d="M478.5,612.2 483.1,616.8 485.3,617.6 489.7,622.1 495.0,624.0 508.3,625.9 515.6,627.4 523.1,631.0 532.8,638.6 538.0,634.8 545.5,628.8 551.3,625.2 560.3,625.9 566.3,626.7" stroke="#8fcdf5" stroke-width="1.1"/>
<path d="M477.8,625.5 481.4,631.8 486.0,628.6 491.9,625.2 500.8,623.6 505.4,624.4 511.3,629.1 520.2,627.4 527.5,625.2 536.5,621.7 542.5,625.5 549.9,625.2 555.2,630.3 561.8,627.4 566.3,626.7" stroke="#3a7bc4" stroke-width="1.1"/>
</g>
<rect x="473.5" y="570.5" width="97" height="72.0" fill="none" stroke="#444" stroke-width="1"/>
<line x1="471.2" y1="588.30" x2="473.2" y2="588.30" stroke="#4a4a4a" stroke-width="0.8"/>
<line x1="471.2" y1="607.30" x2="473.2" y2="607.30" stroke="#4a4a4a" stroke-width="0.8"/>
<line x1="471.2" y1="626.30" x2="473.2" y2="626.30" stroke="#4a4a4a" stroke-width="0.8"/>
<line x1="476.30" y1="642.7" x2="476.30" y2="644.7" stroke="#4a4a4a" stroke-width="0.8"/>
<text x="476.3" y="653.6" font-size="8.4" text-anchor="middle" textLength="4.7" lengthAdjust="spacingAndGlyphs" fill="#333" stroke="#333" stroke-width="0.18">0</text>
<line x1="494.60" y1="642.7" x2="494.60" y2="644.7" stroke="#4a4a4a" stroke-width="0.8"/>
<text x="494.6" y="653.6" font-size="8.4" text-anchor="middle" textLength="14.0" lengthAdjust="spacingAndGlyphs" fill="#333" stroke="#333" stroke-width="0.18">100</text>
<line x1="512.90" y1="642.7" x2="512.90" y2="644.7" stroke="#4a4a4a" stroke-width="0.8"/>
<text x="512.9" y="653.6" font-size="8.4" text-anchor="middle" textLength="14.0" lengthAdjust="spacingAndGlyphs" fill="#333" stroke="#333" stroke-width="0.18">200</text>
<line x1="531.20" y1="642.7" x2="531.20" y2="644.7" stroke="#4a4a4a" stroke-width="0.8"/>
<text x="531.2" y="653.6" font-size="8.4" text-anchor="middle" textLength="14.0" lengthAdjust="spacingAndGlyphs" fill="#333" stroke="#333" stroke-width="0.18">300</text>
<line x1="549.50" y1="642.7" x2="549.50" y2="644.7" stroke="#4a4a4a" stroke-width="0.8"/>
<text x="549.5" y="653.6" font-size="8.4" text-anchor="middle" textLength="14.0" lengthAdjust="spacingAndGlyphs" fill="#333" stroke="#333" stroke-width="0.18">400</text>
<line x1="567.80" y1="642.7" x2="567.80" y2="644.7" stroke="#4a4a4a" stroke-width="0.8"/>
<text x="567.8" y="653.6" font-size="8.4" text-anchor="middle" textLength="14.0" lengthAdjust="spacingAndGlyphs" fill="#333" stroke="#333" stroke-width="0.18">500</text>
<text x="522.4" y="666.3" font-size="9.3" text-anchor="middle" textLength="36.2" lengthAdjust="spacingAndGlyphs" fill="#222" stroke="#222" stroke-width="0.18">Distance</text>
<line x1="579.5" y1="588.30" x2="676.8" y2="588.30" stroke="#e2e2e2" stroke-width="0.8"/>
<line x1="579.5" y1="607.30" x2="676.8" y2="607.30" stroke="#e2e2e2" stroke-width="0.8"/>
<line x1="579.5" y1="626.30" x2="676.8" y2="626.30" stroke="#e2e2e2" stroke-width="0.8"/>
<line x1="600.90" y1="570.5" x2="600.90" y2="642.7" stroke="#e2e2e2" stroke-width="0.8"/>
<line x1="619.20" y1="570.5" x2="619.20" y2="642.7" stroke="#e2e2e2" stroke-width="0.8"/>
<line x1="637.50" y1="570.5" x2="637.50" y2="642.7" stroke="#e2e2e2" stroke-width="0.8"/>
<line x1="655.80" y1="570.5" x2="655.80" y2="642.7" stroke="#e2e2e2" stroke-width="0.8"/>
<line x1="674.10" y1="570.5" x2="674.10" y2="642.7" stroke="#e2e2e2" stroke-width="0.8"/>
<g fill="none" stroke-linejoin="round" stroke-linecap="round">
<path d="M584.4,627.6 586.3,627.5 588.1,627.3 589.9,627.2 591.8,627.0 593.6,626.9 595.4,626.7 597.2,626.6 599.1,626.4 600.9,626.3 602.7,626.3 604.6,626.3 606.4,626.3 608.2,626.3 610.1,626.3 611.9,626.3 613.7,626.3 615.5,626.3 617.4,626.3 619.2,626.3 621.0,626.3 622.9,626.3 624.7,626.3 626.5,626.3 628.4,626.3 630.2,626.3 632.0,626.3 633.8,626.3 635.7,626.3 637.5,626.3 639.3,626.3 641.2,626.3 643.0,626.3 644.8,626.3 646.6,626.3 648.5,626.3 650.3,626.3 652.1,626.3 654.0,626.3 655.8,626.3 657.6,626.3 659.5,626.3 661.3,626.3 663.1,626.3 665.0,626.3 666.8,626.3 668.6,626.3 670.4,626.3 672.3,626.3" stroke="#6fce63" stroke-width="1.0"/>
<path d="M584.4,633.9 586.3,633.2 588.1,632.5 589.9,631.8 591.8,631.0 593.6,630.9 595.4,630.7 597.2,630.5 599.1,630.3 600.9,630.1 602.7,629.9 604.6,629.7 606.4,629.5 608.2,629.3 610.1,629.1 611.9,629.0 613.7,628.8 615.5,628.6 617.4,628.4 619.2,628.2 621.0,628.0 622.9,627.9 624.7,627.7 626.5,627.6 628.4,627.4 630.2,627.3 632.0,627.1 633.8,627.0 635.7,626.8 637.5,626.7 639.3,626.6 641.2,626.5 643.0,626.5 644.8,626.4 646.6,626.3 648.5,626.3 650.3,626.3 652.1,626.3 654.0,626.3 655.8,626.3 657.6,626.3 659.5,626.3 661.3,626.3 663.1,626.3 665.0,626.3 666.8,626.3 668.6,626.3 670.4,626.3 672.3,626.3" stroke="#1f7d24" stroke-width="1.1"/>
<path d="M584.4,612.0 586.3,612.8 588.1,613.5 589.9,614.2 591.8,614.9 593.6,615.3 595.4,615.7 597.2,616.0 599.1,616.4 600.9,616.8 602.7,617.2 604.6,617.6 606.4,617.9 608.2,618.3 610.1,618.7 611.9,619.1 613.7,619.5 615.5,619.8 617.4,620.2 619.2,620.6 621.0,620.9 622.9,621.2 624.7,621.5 626.5,621.7 628.4,622.0 630.2,622.3 632.0,622.6 633.8,622.9 635.7,623.2 637.5,623.4 639.3,623.9 641.2,624.4 643.0,624.9 644.8,625.4 646.6,625.9 648.5,626.2 650.3,626.5 652.1,626.7 654.0,627.0 655.8,627.2 657.6,627.4 659.5,627.5 661.3,627.6 663.1,627.7 665.0,627.8 666.8,627.9 668.6,628.0 670.4,628.1 672.3,628.2" stroke="#d5cc1e" stroke-width="1.2"/>
<path d="M584.4,612.0 586.3,613.2 588.1,614.4 589.9,615.6 591.8,616.8 593.6,617.2 595.4,617.6 597.2,617.9 599.1,618.3 600.9,618.7 602.7,619.0 604.6,619.3 606.4,619.6 608.2,619.8 610.1,620.1 611.9,620.4 613.7,620.7 615.5,621.0 617.4,621.3 619.2,621.5 621.0,621.8 622.9,622.1 624.7,622.4 626.5,622.7 628.4,623.0 630.2,623.3 632.0,623.5 633.8,623.8 635.7,624.1 637.5,624.4 639.3,624.8 641.2,625.2 643.0,625.5 644.8,625.9 646.6,626.3 648.5,626.3 650.3,626.3 652.1,626.3 654.0,626.3 655.8,626.3 657.6,626.3 659.5,626.3 661.3,626.3 663.1,626.3 665.0,626.3 666.8,626.3 668.6,626.3 670.4,626.3 672.3,626.3" stroke="#8fcdf5" stroke-width="1.0"/>
<path d="M584.4,612.0 586.3,613.9 588.1,615.8 589.9,617.8 591.8,619.6 593.6,620.0 595.4,620.4 597.2,620.8 599.1,621.2 600.9,621.5 602.7,621.7 604.6,621.9 606.4,622.1 608.2,622.3 610.1,622.5 611.9,622.7 613.7,622.9 615.5,623.1 617.4,623.3 619.2,623.4 621.0,623.6 622.9,623.8 624.7,624.0 626.5,624.2 628.4,624.4 630.2,624.6 632.0,624.8 633.8,625.0 635.7,625.2 637.5,625.3 639.3,625.5 641.2,625.7 643.0,625.9 644.8,626.1 646.6,626.3 648.5,626.5 650.3,626.7 652.1,626.9 654.0,627.1 655.8,627.2 657.6,627.1 659.5,627.0 661.3,626.9 663.1,626.8 665.0,626.7 666.8,626.6 668.6,626.5 670.4,626.4 672.3,626.3" stroke="#3a7bc4" stroke-width="1.1"/>
</g>
<rect x="579.5" y="570.5" width="97" height="72.0" fill="none" stroke="#444" stroke-width="1"/>
<line x1="577.5" y1="588.30" x2="579.5" y2="588.30" stroke="#4a4a4a" stroke-width="0.8"/>
<line x1="577.5" y1="607.30" x2="579.5" y2="607.30" stroke="#4a4a4a" stroke-width="0.8"/>
<line x1="577.5" y1="626.30" x2="579.5" y2="626.30" stroke="#4a4a4a" stroke-width="0.8"/>
<line x1="582.60" y1="642.7" x2="582.60" y2="644.7" stroke="#4a4a4a" stroke-width="0.8"/>
<text x="582.6" y="653.6" font-size="8.4" text-anchor="middle" textLength="4.7" lengthAdjust="spacingAndGlyphs" fill="#333" stroke="#333" stroke-width="0.18">0</text>
<line x1="600.90" y1="642.7" x2="600.90" y2="644.7" stroke="#4a4a4a" stroke-width="0.8"/>
<text x="600.9" y="653.6" font-size="8.4" text-anchor="middle" textLength="14.0" lengthAdjust="spacingAndGlyphs" fill="#333" stroke="#333" stroke-width="0.18">100</text>
<line x1="619.20" y1="642.7" x2="619.20" y2="644.7" stroke="#4a4a4a" stroke-width="0.8"/>
<text x="619.2" y="653.6" font-size="8.4" text-anchor="middle" textLength="14.0" lengthAdjust="spacingAndGlyphs" fill="#333" stroke="#333" stroke-width="0.18">200</text>
<line x1="637.50" y1="642.7" x2="637.50" y2="644.7" stroke="#4a4a4a" stroke-width="0.8"/>
<text x="637.5" y="653.6" font-size="8.4" text-anchor="middle" textLength="14.0" lengthAdjust="spacingAndGlyphs" fill="#333" stroke="#333" stroke-width="0.18">300</text>
<line x1="655.80" y1="642.7" x2="655.80" y2="644.7" stroke="#4a4a4a" stroke-width="0.8"/>
<text x="655.8" y="653.6" font-size="8.4" text-anchor="middle" textLength="14.0" lengthAdjust="spacingAndGlyphs" fill="#333" stroke="#333" stroke-width="0.18">400</text>
<line x1="674.10" y1="642.7" x2="674.10" y2="644.7" stroke="#4a4a4a" stroke-width="0.8"/>
<text x="674.1" y="653.6" font-size="8.4" text-anchor="middle" textLength="14.0" lengthAdjust="spacingAndGlyphs" fill="#333" stroke="#333" stroke-width="0.18">500</text>
<text x="628.6" y="666.3" font-size="9.3" text-anchor="middle" textLength="36.2" lengthAdjust="spacingAndGlyphs" fill="#222" stroke="#222" stroke-width="0.18">Distance</text>
<text x="46.3" y="591.3" font-size="8.4" text-anchor="end" textLength="4.7" lengthAdjust="spacingAndGlyphs" fill="#333" stroke="#333" stroke-width="0.18">2</text>
<text x="46.3" y="610.3" font-size="8.4" text-anchor="end" textLength="4.7" lengthAdjust="spacingAndGlyphs" fill="#333" stroke="#333" stroke-width="0.18">1</text>
<text x="46.3" y="629.3" font-size="8.4" text-anchor="end" textLength="4.7" lengthAdjust="spacingAndGlyphs" fill="#333" stroke="#333" stroke-width="0.18">0</text>
<text x="25.9" y="641.0" font-size="9.0" textLength="12.0" lengthAdjust="spacingAndGlyphs" transform="rotate(-90 25.9 641.0)" fill="#222" stroke="#222" stroke-width="0.18">log</text>
<text x="28.1" y="627.2" font-size="8.3" textLength="2.8" lengthAdjust="spacingAndGlyphs" transform="rotate(-90 28.1 627.2)" fill="#222" stroke="#222" stroke-width="0.18">(</text>
<text x="28.1" y="578.2" font-size="8.3" textLength="2.8" lengthAdjust="spacingAndGlyphs" transform="rotate(-90 28.1 578.2)" fill="#222" stroke="#222" stroke-width="0.18">)</text>
<text x="20.6" y="600.2" font-size="4.8" text-anchor="middle" textLength="45.9" lengthAdjust="spacingAndGlyphs" transform="rotate(-90 20.6 600.2)" fill="#333" stroke="#333" stroke-width="0.08">p(anno|Macroph.)</text>
<line x1="24.7" y1="577.9" x2="24.7" y2="623.2" stroke="#444" stroke-width="0.5"/>
<text x="30.6" y="600.2" font-size="4.8" text-anchor="middle" textLength="20.2" lengthAdjust="spacingAndGlyphs" transform="rotate(-90 30.6 600.2)" fill="#333" stroke="#333" stroke-width="0.08">p(anno)</text>
<text x="50.2" y="681.0" font-size="8.9" textLength="85" lengthAdjust="spacingAndGlyphs" fill="#222" stroke="#222" stroke-width="0.18">313–932: Intermixing</text>
<line x1="50.2" y1="695.40" x2="147.5" y2="695.40" stroke="#e2e2e2" stroke-width="0.8"/>
<line x1="50.2" y1="714.90" x2="147.5" y2="714.90" stroke="#e2e2e2" stroke-width="0.8"/>
<line x1="50.2" y1="734.40" x2="147.5" y2="734.40" stroke="#e2e2e2" stroke-width="0.8"/>
<line x1="50.2" y1="753.90" x2="147.5" y2="753.90" stroke="#e2e2e2" stroke-width="0.8"/>
<line x1="71.60" y1="685.3" x2="71.60" y2="757.4" stroke="#e2e2e2" stroke-width="0.8"/>
<line x1="89.90" y1="685.3" x2="89.90" y2="757.4" stroke="#e2e2e2" stroke-width="0.8"/>
<line x1="108.20" y1="685.3" x2="108.20" y2="757.4" stroke="#e2e2e2" stroke-width="0.8"/>
<line x1="126.50" y1="685.3" x2="126.50" y2="757.4" stroke="#e2e2e2" stroke-width="0.8"/>
<line x1="144.80" y1="685.3" x2="144.80" y2="757.4" stroke="#e2e2e2" stroke-width="0.8"/>
<g fill="none" stroke-linejoin="round" stroke-linecap="round">
<path d="M55.1,738.3 57.0,737.5 58.8,736.7 60.6,736.0 62.5,735.2 64.3,735.0 66.1,734.9 67.9,734.7 69.8,734.6 71.6,734.4 73.4,734.4 75.3,734.4 77.1,734.4 78.9,734.4 80.8,734.4 82.6,734.4 84.4,734.4 86.2,734.4 88.1,734.4 89.9,734.4 91.7,734.4 93.6,734.4 95.4,734.4 97.2,734.4 99.1,734.4 100.9,734.4 102.7,734.4 104.5,734.4 106.4,734.4 108.2,734.4 110.0,734.4 111.9,734.4 113.7,734.4 115.5,734.4 117.3,734.4 119.2,734.4 121.0,734.4 122.8,734.4 124.7,734.4 126.5,734.4 128.3,734.4 130.2,734.4 132.0,734.4 133.8,734.4 135.7,734.4 137.5,734.4 139.3,734.4 141.1,734.4 143.0,734.4" stroke="#6fce63" stroke-width="1.0"/>
<path d="M55.1,712.9 57.0,719.8 58.8,726.6 60.6,727.9 62.5,729.2 64.3,730.5 66.1,731.0 67.9,731.5 69.8,732.0 71.6,732.4 73.4,732.5 75.3,732.6 77.1,732.7 78.9,732.8 80.8,732.8 82.6,732.9 84.4,733.0 86.2,733.1 88.1,733.2 89.9,733.2 91.7,733.2 93.6,733.3 95.4,733.3 97.2,733.3 99.1,733.3 100.9,733.3 102.7,733.3 104.5,733.3 106.4,733.4 108.2,733.4 110.0,733.4 111.9,733.4 113.7,733.4 115.5,733.4 117.3,733.4 119.2,733.4 121.0,733.5 122.8,733.5 124.7,733.5 126.5,733.5 128.3,733.5 130.2,733.5 132.0,733.5 133.8,733.6 135.7,733.6 137.5,733.6 139.3,733.6 141.1,733.6 143.0,733.6" stroke="#f7a090" stroke-width="1.0"/>
<path d="M55.1,716.9 57.0,720.8 58.8,724.6 60.6,726.3 62.5,728.0 64.3,729.7 66.1,730.2 67.9,730.7 69.8,731.2 71.6,731.7 73.4,731.8 75.3,731.9 77.1,732.0 78.9,732.1 80.8,732.3 82.6,732.4 84.4,732.5 86.2,732.6 88.1,732.7 89.9,732.8 91.7,732.9 93.6,732.9 95.4,732.9 97.2,732.9 99.1,732.9 100.9,732.9 102.7,732.9 104.5,732.9 106.4,733.0 108.2,733.0 110.0,733.0 111.9,733.0 113.7,733.0 115.5,733.0 117.3,733.0 119.2,733.1 121.0,733.1 122.8,733.1 124.7,733.1 126.5,733.1 128.3,733.1 130.2,733.1 132.0,733.1 133.8,733.2 135.7,733.2 137.5,733.2 139.3,733.2 141.1,733.2 143.0,733.2" stroke="#ee88ee" stroke-width="0.9"/>
<path d="M55.1,712.9 57.0,717.8 58.8,722.7 60.6,724.6 62.5,726.6 64.3,728.5 66.1,729.0 67.9,729.5 69.8,730.0 71.6,730.5 73.4,730.7 75.3,730.8 77.1,731.0 78.9,731.1 80.8,731.3 82.6,731.4 84.4,731.6 86.2,731.7 88.1,731.9 89.9,732.1 91.7,732.1 93.6,732.1 95.4,732.1 97.2,732.2 99.1,732.2 100.9,732.2 102.7,732.2 104.5,732.3 106.4,732.3 108.2,732.3 110.0,732.4 111.9,732.4 113.7,732.4 115.5,732.4 117.3,732.5 119.2,732.5 121.0,732.5 122.8,732.5 124.7,732.6 126.5,732.6 128.3,732.6 130.2,732.7 132.0,732.7 133.8,732.7 135.7,732.7 137.5,732.8 139.3,732.8 141.1,732.8 143.0,732.8" stroke="#f6a040" stroke-width="0.9"/>
<path d="M55.1,701.2 57.0,708.1 58.8,714.9 60.6,717.5 62.5,720.1 64.3,722.7 66.1,723.7 67.9,724.6 69.8,725.6 71.6,726.6 73.4,727.0 75.3,727.4 77.1,727.8 78.9,728.2 80.8,728.5 82.6,728.9 84.4,729.3 86.2,729.7 88.1,730.1 89.9,730.5 91.7,730.8 93.6,731.1 95.4,731.4 97.2,731.7 99.1,732.1 100.9,732.4 102.7,732.7 104.5,733.0 106.4,733.3 108.2,733.6 110.0,733.7 111.9,733.8 113.7,733.9 115.5,733.9 117.3,734.0 119.2,734.1 121.0,734.2 122.8,734.2 124.7,734.3 126.5,734.4 128.3,734.4 130.2,734.4 132.0,734.4 133.8,734.4 135.7,734.4 137.5,734.4 139.3,734.4 141.1,734.4 143.0,734.4" stroke="#8fcdf5" stroke-width="1.1"/>
<path d="M55.1,707.1 57.0,712.9 58.8,718.8 60.6,721.4 62.5,724.0 64.3,726.6 66.1,727.6 67.9,728.5 69.8,729.5 71.6,730.5 73.4,730.7 75.3,730.9 77.1,731.1 78.9,731.3 80.8,731.5 82.6,731.7 84.4,731.9 86.2,732.1 88.1,732.3 89.9,732.4 91.7,732.6 93.6,732.8 95.4,733.0 97.2,733.2 99.1,733.4 100.9,733.6 102.7,733.8 104.5,734.0 106.4,734.2 108.2,734.4 110.0,734.5 111.9,734.6 113.7,734.6 115.5,734.7 117.3,734.8 119.2,734.9 121.0,734.9 122.8,735.0 124.7,735.1 126.5,735.2 128.3,735.0 130.2,734.7 132.0,734.5 133.8,734.3 135.7,734.1 137.5,733.9 139.3,733.7 141.1,733.4 143.0,733.2" stroke="#3a7bc4" stroke-width="1.1"/>
<path d="M55.1,711.0 57.0,714.9 58.8,718.8 60.6,720.1 62.5,721.4 64.3,722.7 66.1,723.5 67.9,724.3 69.8,725.0 71.6,725.8 73.4,726.1 75.3,726.4 77.1,726.8 78.9,727.1 80.8,727.4 82.6,727.8 84.4,728.3 86.2,728.8 88.1,729.3 89.9,729.7 91.7,730.0 93.6,730.2 95.4,730.4 97.2,730.7 99.1,730.9 100.9,731.0 102.7,731.2 104.5,731.4 106.4,731.5 108.2,731.7 110.0,731.7 111.9,731.8 113.7,731.8 115.5,731.8 117.3,731.9 119.2,731.9 121.0,732.0 122.8,732.0 124.7,732.0 126.5,732.1 128.3,732.1 130.2,732.2 132.0,732.2 133.8,732.2 135.7,732.3 137.5,732.3 139.3,732.4 141.1,732.4 143.0,732.4" stroke="#d5cc1e" stroke-width="1.2"/>
<path d="M55.1,716.9 57.0,726.6 58.8,736.4 60.6,734.4 62.5,732.4 64.3,730.5 66.1,730.7 67.9,730.9 69.8,731.1 71.6,731.3 73.4,731.4 75.3,731.5 77.1,731.6 78.9,731.7 80.8,731.9 82.6,732.0 84.4,732.1 86.2,732.2 88.1,732.3 89.9,732.4 91.7,733.4 93.6,734.4 95.4,735.4 97.2,736.4 99.1,735.0 100.9,733.8 102.7,732.4 104.5,731.8 106.4,731.1 108.2,730.5 110.0,733.4 111.9,736.2 113.7,739.1 115.5,736.9 117.3,734.7 119.2,732.4 121.0,730.5 122.8,728.5 124.7,726.6 126.5,727.9 128.3,729.2 130.2,730.5 132.0,730.2 133.8,730.0 135.7,729.7 137.5,729.9 139.3,730.1 141.1,730.3 143.0,730.5" stroke="#d82a2a" stroke-width="1.1"/>
<path d="M55.1,718.8 57.0,720.8 58.8,722.7 60.6,724.4 62.5,726.1 64.3,727.8 66.1,728.3 67.9,728.7 69.8,729.2 71.6,729.7 73.4,730.0 75.3,730.3 77.1,730.7 78.9,731.0 80.8,731.3 82.6,731.5 84.4,731.7 86.2,732.0 88.1,732.2 89.9,732.4 91.7,732.4 93.6,732.4 95.4,732.4 97.2,732.4 99.1,732.4 100.9,732.4 102.7,732.4 104.5,732.4 106.4,732.4 108.2,732.4 110.0,732.4 111.9,732.4 113.7,732.4 115.5,732.4 117.3,732.4 119.2,732.4 121.0,732.4 122.8,732.4 124.7,732.4 126.5,732.4 128.3,732.5 130.2,732.6 132.0,732.7 133.8,732.8 135.7,732.9 137.5,733.0 139.3,733.1 141.1,733.1 143.0,733.2" stroke="#8a0a0a" stroke-width="1.3"/>
</g>
<rect x="50.5" y="685.5" width="97" height="72.0" fill="none" stroke="#444" stroke-width="1"/>
<line x1="48.2" y1="695.40" x2="50.2" y2="695.40" stroke="#4a4a4a" stroke-width="0.8"/>
<line x1="48.2" y1="714.90" x2="50.2" y2="714.90" stroke="#4a4a4a" stroke-width="0.8"/>
<line x1="48.2" y1="734.40" x2="50.2" y2="734.40" stroke="#4a4a4a" stroke-width="0.8"/>
<line x1="48.2" y1="753.90" x2="50.2" y2="753.90" stroke="#4a4a4a" stroke-width="0.8"/>
<line x1="53.30" y1="757.4" x2="53.30" y2="759.4" stroke="#4a4a4a" stroke-width="0.8"/>
<text x="53.3" y="768.6" font-size="8.4" text-anchor="middle" textLength="4.7" lengthAdjust="spacingAndGlyphs" fill="#333" stroke="#333" stroke-width="0.18">0</text>
<line x1="71.60" y1="757.4" x2="71.60" y2="759.4" stroke="#4a4a4a" stroke-width="0.8"/>
<text x="71.6" y="768.6" font-size="8.4" text-anchor="middle" textLength="14.0" lengthAdjust="spacingAndGlyphs" fill="#333" stroke="#333" stroke-width="0.18">100</text>
<line x1="89.90" y1="757.4" x2="89.90" y2="759.4" stroke="#4a4a4a" stroke-width="0.8"/>
<text x="89.9" y="768.6" font-size="8.4" text-anchor="middle" textLength="14.0" lengthAdjust="spacingAndGlyphs" fill="#333" stroke="#333" stroke-width="0.18">200</text>
<line x1="108.20" y1="757.4" x2="108.20" y2="759.4" stroke="#4a4a4a" stroke-width="0.8"/>
<text x="108.2" y="768.6" font-size="8.4" text-anchor="middle" textLength="14.0" lengthAdjust="spacingAndGlyphs" fill="#333" stroke="#333" stroke-width="0.18">300</text>
<line x1="126.50" y1="757.4" x2="126.50" y2="759.4" stroke="#4a4a4a" stroke-width="0.8"/>
<text x="126.5" y="768.6" font-size="8.4" text-anchor="middle" textLength="14.0" lengthAdjust="spacingAndGlyphs" fill="#333" stroke="#333" stroke-width="0.18">400</text>
<line x1="144.80" y1="757.4" x2="144.80" y2="759.4" stroke="#4a4a4a" stroke-width="0.8"/>
<text x="144.8" y="768.6" font-size="8.4" text-anchor="middle" textLength="14.0" lengthAdjust="spacingAndGlyphs" fill="#333" stroke="#333" stroke-width="0.18">500</text>
<text x="99.3" y="781.3" font-size="9.3" text-anchor="middle" textLength="36.2" lengthAdjust="spacingAndGlyphs" fill="#222" stroke="#222" stroke-width="0.18">Distance</text>
<line x1="156.7" y1="695.40" x2="254.0" y2="695.40" stroke="#e2e2e2" stroke-width="0.8"/>
<line x1="156.7" y1="714.90" x2="254.0" y2="714.90" stroke="#e2e2e2" stroke-width="0.8"/>
<line x1="156.7" y1="734.40" x2="254.0" y2="734.40" stroke="#e2e2e2" stroke-width="0.8"/>
<line x1="156.7" y1="753.90" x2="254.0" y2="753.90" stroke="#e2e2e2" stroke-width="0.8"/>
<line x1="178.10" y1="685.3" x2="178.10" y2="757.4" stroke="#e2e2e2" stroke-width="0.8"/>
<line x1="196.40" y1="685.3" x2="196.40" y2="757.4" stroke="#e2e2e2" stroke-width="0.8"/>
<line x1="214.70" y1="685.3" x2="214.70" y2="757.4" stroke="#e2e2e2" stroke-width="0.8"/>
<line x1="233.00" y1="685.3" x2="233.00" y2="757.4" stroke="#e2e2e2" stroke-width="0.8"/>
<line x1="251.30" y1="685.3" x2="251.30" y2="757.4" stroke="#e2e2e2" stroke-width="0.8"/>
<g fill="none" stroke-linejoin="round" stroke-linecap="round">
<path d="M161.6,744.1 163.5,740.2 165.3,736.4 167.1,736.2 168.9,736.1 170.8,736.0 172.6,735.9 174.4,735.8 176.3,735.7 178.1,735.6 179.9,735.5 181.8,735.5 183.6,735.5 185.4,735.4 187.2,735.4 189.1,735.3 190.9,735.3 192.7,735.3 194.6,735.2 196.4,735.2 198.2,735.1 200.1,735.1 201.9,735.1 203.7,735.0 205.5,735.0 207.4,734.9 209.2,734.9 211.0,734.9 212.9,734.8 214.7,734.8 216.5,734.8 218.4,734.7 220.2,734.7 222.0,734.7 223.8,734.7 225.7,734.7 227.5,734.6 229.3,734.6 231.2,734.6 233.0,734.6 234.8,734.6 236.7,734.5 238.5,734.5 240.3,734.5 242.1,734.5 244.0,734.5 245.8,734.4 247.6,734.4 249.5,734.4" stroke="#6fce63" stroke-width="1.0"/>
<path d="M161.6,712.9 165.3,734.5 168.9,734.2 172.6,733.1 176.3,734.5 179.9,734.4 183.6,734.1 187.2,735.4 190.9,734.4 194.6,734.0 198.2,733.5 201.9,735.7 205.5,735.0 209.2,735.7 212.9,733.4 216.5,733.8 220.2,735.8 223.8,732.9 227.5,732.9 231.2,733.9 234.8,734.0 238.5,735.5 242.1,735.9 245.8,734.3 249.5,735.8" stroke="#f7a090" stroke-width="0.9"/>
<path d="M161.6,716.9 165.3,731.8 168.9,731.1 172.6,731.0 176.3,733.1 179.9,733.6 183.6,732.2 187.2,732.6 190.9,730.5 194.6,730.9 198.2,731.3 201.9,731.4 205.5,731.0 209.2,733.1 212.9,731.9 216.5,733.0 220.2,730.1 223.8,733.4 227.5,730.4 231.2,733.3 234.8,730.9 238.5,732.3 242.1,732.0 245.8,730.3 249.5,733.5" stroke="#ee88ee" stroke-width="0.9"/>
<path d="M161.6,714.9 165.3,731.4 168.9,729.8 172.6,729.8 176.3,729.1 179.9,731.7 183.6,731.6 187.2,731.9 190.9,731.6 194.6,729.6 198.2,731.9 201.9,730.4 205.5,731.6 209.2,731.3 212.9,730.8 216.5,729.2 220.2,730.1 223.8,732.4 227.5,731.4 231.2,731.9 234.8,729.1 238.5,729.3 242.1,729.3 245.8,729.2 249.5,729.5" stroke="#f6a040" stroke-width="0.9"/>
<path d="M161.6,716.9 165.3,730.6 168.9,728.7 172.6,728.9 176.3,728.0 179.9,730.0 183.6,730.1 187.2,728.6 190.9,728.8 194.6,729.9 198.2,728.8 201.9,729.7 205.5,728.5 209.2,730.5 212.9,730.2 216.5,728.1 220.2,729.8 223.8,730.1 227.5,728.4 231.2,728.9 234.8,730.4 238.5,729.2 242.1,728.8 245.8,730.4 249.5,728.9" stroke="#d5cc1e" stroke-width="1.2"/>
<path d="M161.6,707.1 165.3,727.9 168.9,731.6 172.6,728.8 176.3,731.1 179.9,727.8 183.6,731.6 187.2,728.2 190.9,729.0 194.6,728.3 198.2,727.8 201.9,730.7 205.5,730.4 209.2,728.9 212.9,730.6 216.5,730.6 220.2,730.8 223.8,728.3 227.5,728.3 231.2,728.6 234.8,730.8 238.5,728.1 242.1,729.7 245.8,730.8 249.5,729.9" stroke="#8fcdf5" stroke-width="1.1"/>
<path d="M161.6,712.9 165.3,732.2 168.9,731.7 172.6,732.0 176.3,731.9 179.9,732.0 183.6,731.1 187.2,732.6 190.9,731.1 194.6,733.6 198.2,732.4 201.9,732.3 205.5,733.1 209.2,730.7 212.9,732.4 216.5,730.5 220.2,729.9 223.8,732.6 227.5,730.1 231.2,730.5 234.8,731.0 238.5,733.5 242.1,731.8 245.8,731.2 249.5,732.5" stroke="#3a7bc4" stroke-width="1.1"/>
<path d="M161.6,711.0 165.3,729.6 168.9,727.6 172.6,726.5 176.3,731.2 179.9,727.9 183.6,728.3 187.2,728.6 190.9,732.5 194.6,733.0 198.2,730.5 201.9,728.0 205.5,731.5 209.2,729.7 212.9,731.0 216.5,727.3 220.2,726.6 223.8,730.4 227.5,726.2 231.2,732.8 234.8,727.5 238.5,727.1 242.1,732.2 245.8,728.3 249.5,729.3" stroke="#d82a2a" stroke-width="1.1"/>
<path d="M161.6,712.9 165.3,737.5 168.9,732.2 172.6,734.3 176.3,735.1 179.9,733.3 183.6,733.3 187.2,733.4 190.9,733.5 194.6,734.7 198.2,734.8 201.9,732.0 205.5,734.3 209.2,732.1 212.9,731.4 216.5,730.9 220.2,730.5 223.8,734.9 227.5,734.9 231.2,731.8 234.8,732.8 238.5,735.1 242.1,732.1 245.8,730.9 249.5,731.1" stroke="#8a0a0a" stroke-width="1.3"/>
</g>
<rect x="156.5" y="685.5" width="97" height="72.0" fill="none" stroke="#444" stroke-width="1"/>
<line x1="154.7" y1="695.40" x2="156.7" y2="695.40" stroke="#4a4a4a" stroke-width="0.8"/>
<line x1="154.7" y1="714.90" x2="156.7" y2="714.90" stroke="#4a4a4a" stroke-width="0.8"/>
<line x1="154.7" y1="734.40" x2="156.7" y2="734.40" stroke="#4a4a4a" stroke-width="0.8"/>
<line x1="154.7" y1="753.90" x2="156.7" y2="753.90" stroke="#4a4a4a" stroke-width="0.8"/>
<line x1="159.80" y1="757.4" x2="159.80" y2="759.4" stroke="#4a4a4a" stroke-width="0.8"/>
<text x="159.8" y="768.6" font-size="8.4" text-anchor="middle" textLength="4.7" lengthAdjust="spacingAndGlyphs" fill="#333" stroke="#333" stroke-width="0.18">0</text>
<line x1="178.10" y1="757.4" x2="178.10" y2="759.4" stroke="#4a4a4a" stroke-width="0.8"/>
<text x="178.1" y="768.6" font-size="8.4" text-anchor="middle" textLength="14.0" lengthAdjust="spacingAndGlyphs" fill="#333" stroke="#333" stroke-width="0.18">100</text>
<line x1="196.40" y1="757.4" x2="196.40" y2="759.4" stroke="#4a4a4a" stroke-width="0.8"/>
<text x="196.4" y="768.6" font-size="8.4" text-anchor="middle" textLength="14.0" lengthAdjust="spacingAndGlyphs" fill="#333" stroke="#333" stroke-width="0.18">200</text>
<line x1="214.70" y1="757.4" x2="214.70" y2="759.4" stroke="#4a4a4a" stroke-width="0.8"/>
<text x="214.7" y="768.6" font-size="8.4" text-anchor="middle" textLength="14.0" lengthAdjust="spacingAndGlyphs" fill="#333" stroke="#333" stroke-width="0.18">300</text>
<line x1="233.00" y1="757.4" x2="233.00" y2="759.4" stroke="#4a4a4a" stroke-width="0.8"/>
<text x="233.0" y="768.6" font-size="8.4" text-anchor="middle" textLength="14.0" lengthAdjust="spacingAndGlyphs" fill="#333" stroke="#333" stroke-width="0.18">400</text>
<line x1="251.30" y1="757.4" x2="251.30" y2="759.4" stroke="#4a4a4a" stroke-width="0.8"/>
<text x="251.3" y="768.6" font-size="8.4" text-anchor="middle" textLength="14.0" lengthAdjust="spacingAndGlyphs" fill="#333" stroke="#333" stroke-width="0.18">500</text>
<text x="205.8" y="781.3" font-size="9.3" text-anchor="middle" textLength="36.2" lengthAdjust="spacingAndGlyphs" fill="#222" stroke="#222" stroke-width="0.18">Distance</text>
<line x1="262.2" y1="695.40" x2="359.5" y2="695.40" stroke="#e2e2e2" stroke-width="0.8"/>
<line x1="262.2" y1="714.90" x2="359.5" y2="714.90" stroke="#e2e2e2" stroke-width="0.8"/>
<line x1="262.2" y1="734.40" x2="359.5" y2="734.40" stroke="#e2e2e2" stroke-width="0.8"/>
<line x1="262.2" y1="753.90" x2="359.5" y2="753.90" stroke="#e2e2e2" stroke-width="0.8"/>
<line x1="283.60" y1="685.3" x2="283.60" y2="757.4" stroke="#e2e2e2" stroke-width="0.8"/>
<line x1="301.90" y1="685.3" x2="301.90" y2="757.4" stroke="#e2e2e2" stroke-width="0.8"/>
<line x1="320.20" y1="685.3" x2="320.20" y2="757.4" stroke="#e2e2e2" stroke-width="0.8"/>
<line x1="338.50" y1="685.3" x2="338.50" y2="757.4" stroke="#e2e2e2" stroke-width="0.8"/>
<line x1="356.80" y1="685.3" x2="356.80" y2="757.4" stroke="#e2e2e2" stroke-width="0.8"/>
<g fill="none" stroke-linejoin="round" stroke-linecap="round">
<path d="M267.1,737.5 269.0,737.3 270.8,737.1 272.6,736.9 274.4,736.7 276.3,736.4 278.1,736.2 279.9,736.0 281.8,735.8 283.6,735.6 285.4,735.5 287.3,735.5 289.1,735.5 290.9,735.5 292.8,735.5 294.6,735.4 296.4,735.4 298.2,735.4 300.1,735.4 301.9,735.4 303.7,735.4 305.6,735.3 307.4,735.3 309.2,735.3 311.1,735.3 312.9,735.2 314.7,735.2 316.5,735.2 318.4,735.2 320.2,735.2 322.0,735.1 323.9,735.1 325.7,735.1 327.5,735.1 329.4,735.1 331.2,735.0 333.0,735.0 334.8,735.0 336.7,735.0 338.5,735.0 340.3,734.9 342.2,734.9 344.0,734.9 345.8,734.9 347.6,734.9 349.5,734.9 351.3,734.8 353.1,734.8 355.0,734.8" stroke="#6fce63" stroke-width="1.1"/>
<path d="M267.1,726.6 269.0,726.8 270.8,727.0 272.6,727.2 274.4,727.4 276.3,727.2 278.1,727.1 279.9,726.9 281.8,726.8 283.6,726.6 285.4,726.8 287.3,727.0 289.1,727.2 290.9,727.4 292.8,727.6 294.6,727.8 296.4,728.0 298.2,728.2 300.1,728.4 301.9,728.5 303.7,728.7 305.6,728.9 307.4,729.1 309.2,729.3 311.1,729.5 312.9,729.7 314.7,729.9 316.5,730.1 318.4,730.3 320.2,730.5 322.0,730.6 323.9,730.7 325.7,730.9 327.5,731.0 329.4,731.1 331.2,731.2 333.0,731.3 334.8,731.4 336.7,731.6 338.5,731.7 340.3,731.7 342.2,731.7 344.0,731.7 345.8,731.7 347.6,731.7 349.5,731.7 351.3,731.7 353.1,731.7 355.0,731.7" stroke="#ee88ee" stroke-width="1.1"/>
<path d="M267.1,725.8 269.0,726.5 270.8,727.2 272.6,727.9 274.4,728.5 276.3,728.8 278.1,729.0 279.9,729.3 281.8,729.5 283.6,729.7 285.4,729.8 287.3,729.9 289.1,730.0 290.9,730.0 292.8,730.1 294.6,730.2 296.4,730.3 298.2,730.3 300.1,730.4 301.9,730.5 303.7,730.6 305.6,730.7 307.4,730.9 309.2,731.0 311.1,731.1 312.9,731.2 314.7,731.3 316.5,731.4 318.4,731.6 320.2,731.7 322.0,731.7 323.9,731.8 325.7,731.8 327.5,731.8 329.4,731.9 331.2,731.9 333.0,732.0 334.8,732.0 336.7,732.0 338.5,732.1 340.3,732.1 342.2,732.2 344.0,732.2 345.8,732.2 347.6,732.3 349.5,732.3 351.3,732.4 353.1,732.4 355.0,732.4" stroke="#8fcdf5" stroke-width="1.1"/>
<path d="M267.1,725.4 269.0,726.2 270.8,727.0 272.6,727.8 274.4,728.5 276.3,729.1 278.1,729.6 279.9,730.2 281.8,730.7 283.6,731.3 285.4,731.4 287.3,731.4 289.1,731.5 290.9,731.6 292.8,731.7 294.6,731.7 296.4,731.8 298.2,731.9 300.1,732.0 301.9,732.1 303.7,732.1 305.6,732.2 307.4,732.3 309.2,732.4 311.1,732.4 312.9,732.5 314.7,732.6 316.5,732.7 318.4,732.8 320.2,732.8 322.0,732.8 323.9,732.8 325.7,732.8 327.5,732.8 329.4,732.8 331.2,732.8 333.0,732.8 334.8,732.8 336.7,732.8 338.5,732.8 340.3,732.8 342.2,732.8 344.0,732.8 345.8,732.8 347.6,732.8 349.5,732.8 351.3,732.8 353.1,732.8 355.0,732.8" stroke="#3a7bc4" stroke-width="1.1"/>
<path d="M267.1,730.5 269.0,731.0 270.8,731.5 272.6,732.0 274.4,732.4 276.3,732.6 278.1,732.8 279.9,732.9 281.8,733.1 283.6,733.2 285.4,733.2 287.3,733.2 289.1,733.3 290.9,733.3 292.8,733.3 294.6,733.3 296.4,733.3 298.2,733.3 300.1,733.3 301.9,733.3 303.7,733.3 305.6,733.4 307.4,733.4 309.2,733.4 311.1,733.4 312.9,733.4 314.7,733.4 316.5,733.4 318.4,733.4 320.2,733.4 322.0,733.4 323.9,733.4 325.7,733.5 327.5,733.5 329.4,733.5 331.2,733.5 333.0,733.5 334.8,733.5 336.7,733.5 338.5,733.5 340.3,733.5 342.2,733.5 344.0,733.6 345.8,733.6 347.6,733.6 349.5,733.6 351.3,733.6 353.1,733.6 355.0,733.6" stroke="#f7a090" stroke-width="1.0"/>
<path d="M267.1,731.3 269.0,731.8 270.8,732.3 272.6,732.7 274.4,733.2 276.3,733.3 278.1,733.4 279.9,733.5 281.8,733.5 283.6,733.6 285.4,733.6 287.3,733.6 289.1,733.6 290.9,733.7 292.8,733.7 294.6,733.7 296.4,733.7 298.2,733.7 300.1,733.7 301.9,733.7 303.7,733.7 305.6,733.7 307.4,733.8 309.2,733.8 311.1,733.8 312.9,733.8 314.7,733.8 316.5,733.8 318.4,733.8 320.2,733.8 322.0,733.8 323.9,733.8 325.7,733.9 327.5,733.9 329.4,733.9 331.2,733.9 333.0,733.9 334.8,733.9 336.7,733.9 338.5,733.9 340.3,733.9 342.2,733.9 344.0,733.9 345.8,734.0 347.6,734.0 349.5,734.0 351.3,734.0 353.1,734.0 355.0,734.0" stroke="#f6a040" stroke-width="1.0"/>
<path d="M267.1,730.5 270.8,733.2 274.4,732.0 278.1,732.1 281.8,732.5 285.4,733.1 289.1,731.8 292.8,731.7 296.4,732.4 300.1,732.4 303.7,733.1 307.4,733.6 311.1,732.8 314.7,732.3 318.4,733.5 322.0,731.8 325.7,733.1 329.4,733.1 333.0,733.5 336.7,731.3 340.3,731.9 344.0,731.6 347.6,732.2 351.3,733.5 355.0,732.9" stroke="#d82a2a" stroke-width="1.0"/>
<path d="M267.1,730.5 270.8,731.8 274.4,733.7 278.1,734.0 281.8,731.7 285.4,733.6 289.1,733.7 292.8,732.5 296.4,733.2 300.1,731.9 303.7,733.5 307.4,731.8 311.1,733.3 314.7,732.6 318.4,731.8 322.0,732.4 325.7,731.8 329.4,732.4 333.0,733.9 336.7,731.9 340.3,732.6 344.0,733.3 347.6,733.6 351.3,732.0 355.0,732.6" stroke="#8a0a0a" stroke-width="1.2"/>
<path d="M267.1,730.5 269.0,731.0 270.8,731.5 272.6,732.0 274.4,732.4 276.3,732.5 278.1,732.5 279.9,732.5 281.8,732.6 283.6,732.6 285.4,732.6 287.3,732.6 289.1,732.7 290.9,732.7 292.8,732.7 294.6,732.7 296.4,732.8 298.2,732.8 300.1,732.8 301.9,732.8 303.7,732.9 305.6,732.9 307.4,732.9 309.2,733.0 311.1,733.0 312.9,733.0 314.7,733.0 316.5,733.1 318.4,733.1 320.2,733.1 322.0,733.1 323.9,733.2 325.7,733.2 327.5,733.2 329.4,733.2 331.2,733.3 333.0,733.3 334.8,733.3 336.7,733.4 338.5,733.4 340.3,733.4 342.2,733.4 344.0,733.5 345.8,733.5 347.6,733.5 349.5,733.5 351.3,733.6 353.1,733.6 355.0,733.6" stroke="#d5cc1e" stroke-width="1.0"/>
</g>
<rect x="262.5" y="685.5" width="97" height="72.0" fill="none" stroke="#444" stroke-width="1"/>
<line x1="260.2" y1="695.40" x2="262.2" y2="695.40" stroke="#4a4a4a" stroke-width="0.8"/>
<line x1="260.2" y1="714.90" x2="262.2" y2="714.90" stroke="#4a4a4a" stroke-width="0.8"/>
<line x1="260.2" y1="734.40" x2="262.2" y2="734.40" stroke="#4a4a4a" stroke-width="0.8"/>
<line x1="260.2" y1="753.90" x2="262.2" y2="753.90" stroke="#4a4a4a" stroke-width="0.8"/>
<line x1="265.30" y1="757.4" x2="265.30" y2="759.4" stroke="#4a4a4a" stroke-width="0.8"/>
<text x="265.3" y="768.6" font-size="8.4" text-anchor="middle" textLength="4.7" lengthAdjust="spacingAndGlyphs" fill="#333" stroke="#333" stroke-width="0.18">0</text>
<line x1="283.60" y1="757.4" x2="283.60" y2="759.4" stroke="#4a4a4a" stroke-width="0.8"/>
<text x="283.6" y="768.6" font-size="8.4" text-anchor="middle" textLength="14.0" lengthAdjust="spacingAndGlyphs" fill="#333" stroke="#333" stroke-width="0.18">100</text>
<line x1="301.90" y1="757.4" x2="301.90" y2="759.4" stroke="#4a4a4a" stroke-width="0.8"/>
<text x="301.9" y="768.6" font-size="8.4" text-anchor="middle" textLength="14.0" lengthAdjust="spacingAndGlyphs" fill="#333" stroke="#333" stroke-width="0.18">200</text>
<line x1="320.20" y1="757.4" x2="320.20" y2="759.4" stroke="#4a4a4a" stroke-width="0.8"/>
<text x="320.2" y="768.6" font-size="8.4" text-anchor="middle" textLength="14.0" lengthAdjust="spacingAndGlyphs" fill="#333" stroke="#333" stroke-width="0.18">300</text>
<line x1="338.50" y1="757.4" x2="338.50" y2="759.4" stroke="#4a4a4a" stroke-width="0.8"/>
<text x="338.5" y="768.6" font-size="8.4" text-anchor="middle" textLength="14.0" lengthAdjust="spacingAndGlyphs" fill="#333" stroke="#333" stroke-width="0.18">400</text>
<line x1="356.80" y1="757.4" x2="356.80" y2="759.4" stroke="#4a4a4a" stroke-width="0.8"/>
<text x="356.8" y="768.6" font-size="8.4" text-anchor="middle" textLength="14.0" lengthAdjust="spacingAndGlyphs" fill="#333" stroke="#333" stroke-width="0.18">500</text>
<text x="311.3" y="781.3" font-size="9.3" text-anchor="middle" textLength="36.2" lengthAdjust="spacingAndGlyphs" fill="#222" stroke="#222" stroke-width="0.18">Distance</text>
<line x1="367.5" y1="695.40" x2="464.8" y2="695.40" stroke="#e2e2e2" stroke-width="0.8"/>
<line x1="367.5" y1="714.90" x2="464.8" y2="714.90" stroke="#e2e2e2" stroke-width="0.8"/>
<line x1="367.5" y1="734.40" x2="464.8" y2="734.40" stroke="#e2e2e2" stroke-width="0.8"/>
<line x1="367.5" y1="753.90" x2="464.8" y2="753.90" stroke="#e2e2e2" stroke-width="0.8"/>
<line x1="388.90" y1="685.3" x2="388.90" y2="757.4" stroke="#e2e2e2" stroke-width="0.8"/>
<line x1="407.20" y1="685.3" x2="407.20" y2="757.4" stroke="#e2e2e2" stroke-width="0.8"/>
<line x1="425.50" y1="685.3" x2="425.50" y2="757.4" stroke="#e2e2e2" stroke-width="0.8"/>
<line x1="443.80" y1="685.3" x2="443.80" y2="757.4" stroke="#e2e2e2" stroke-width="0.8"/>
<line x1="462.10" y1="685.3" x2="462.10" y2="757.4" stroke="#e2e2e2" stroke-width="0.8"/>
<g fill="none" stroke-linejoin="round" stroke-linecap="round">
<path d="M372.4,736.4 374.3,735.9 376.1,735.4 377.9,734.9 379.8,734.4 381.6,734.4 383.4,734.4 385.2,734.4 387.1,734.4 388.9,734.4 390.7,734.4 392.6,734.4 394.4,734.4 396.2,734.4 398.1,734.4 399.9,734.4 401.7,734.4 403.5,734.4 405.4,734.4 407.2,734.4 409.0,734.4 410.9,734.4 412.7,734.4 414.5,734.4 416.4,734.4 418.2,734.4 420.0,734.4 421.8,734.4 423.7,734.4 425.5,734.4 427.3,734.4 429.2,734.4 431.0,734.4 432.8,734.4 434.7,734.4 436.5,734.4 438.3,734.4 440.1,734.4 442.0,734.4 443.8,734.4 445.6,734.4 447.5,734.4 449.3,734.4 451.1,734.4 453.0,734.4 454.8,734.4 456.6,734.4 458.4,734.4 460.3,734.4" stroke="#6fce63" stroke-width="1.0"/>
<path d="M372.4,738.3 374.3,737.0 376.1,735.7 377.9,734.4 379.8,734.4 381.6,734.4 383.4,734.4 385.2,734.4 387.1,734.4 388.9,734.4 390.7,734.4 392.6,734.4 394.4,734.4 396.2,734.4 398.1,734.4 399.9,734.4 401.7,734.4 403.5,734.4 405.4,734.4 407.2,734.4 409.0,734.4 410.9,734.4 412.7,734.4 414.5,734.4 416.4,734.4 418.2,734.4 420.0,734.4 421.8,734.4 423.7,734.4 425.5,734.4 427.3,734.2 429.2,734.0 431.0,733.8 432.8,733.6 434.7,733.4 436.5,733.2 438.3,733.0 440.1,732.8 442.0,732.6 443.8,732.4 445.6,732.4 447.5,732.4 449.3,732.4 451.1,732.4 453.0,732.4 454.8,732.7 456.6,733.0 458.4,733.3 460.3,733.6" stroke="#ee88ee" stroke-width="1.0"/>
<path d="M372.4,746.1 374.3,743.7 376.1,741.2 377.9,738.8 379.8,736.4 381.6,736.4 383.4,736.4 385.2,736.4 387.1,736.4 388.9,736.4 390.7,736.2 392.6,736.1 394.4,736.0 396.2,735.9 398.1,735.8 399.9,735.6 401.7,735.5 403.5,735.4 405.4,735.3 407.2,735.2 409.0,735.2 410.9,735.1 412.7,735.1 414.5,735.1 416.4,735.0 418.2,735.0 420.0,735.0 421.8,735.0 423.7,734.9 425.5,734.9 427.3,734.9 429.2,734.9 431.0,734.8 432.8,734.8 434.7,734.8 436.5,734.7 438.3,734.7 440.1,734.7 442.0,734.7 443.8,734.6 445.6,734.6 447.5,734.6 449.3,734.6 451.1,734.5 453.0,734.5 454.8,734.5 456.6,734.5 458.4,734.4 460.3,734.4" stroke="#f6a040" stroke-width="1.0"/>
<path d="M372.4,748.0 374.3,745.6 376.1,743.2 377.9,740.7 379.8,738.3 381.6,737.9 383.4,737.5 385.2,737.1 387.1,736.7 388.9,736.4 390.7,736.4 392.6,736.4 394.4,736.4 396.2,736.4 398.1,736.4 399.9,736.4 401.7,736.4 403.5,736.4 405.4,736.4 407.2,736.4 409.0,736.3 410.9,736.2 412.7,736.1 414.5,736.1 416.4,736.0 418.2,735.9 420.0,735.9 421.8,735.8 423.7,735.7 425.5,735.7 427.3,735.6 429.2,735.5 431.0,735.5 432.8,735.4 434.7,735.3 436.5,735.3 438.3,735.2 440.1,735.1 442.0,735.1 443.8,735.0 445.6,734.9 447.5,734.9 449.3,734.8 451.1,734.7 453.0,734.7 454.8,734.6 456.6,734.5 458.4,734.5 460.3,734.4" stroke="#f7a090" stroke-width="1.0"/>
<path d="M372.4,728.5 376.1,734.0 379.8,733.6 383.4,732.5 387.1,731.3 390.7,733.5 394.4,733.6 398.1,733.1 401.7,731.1 405.4,733.4 409.0,731.1 412.7,731.4 416.4,733.5 420.0,731.9 423.7,732.3 427.3,732.4 431.0,730.1 434.7,733.6 438.3,733.9 442.0,730.3 445.6,732.4 449.3,733.2 453.0,732.7 456.6,732.6 460.3,730.3" stroke="#d5cc1e" stroke-width="1.0"/>
<path d="M372.4,728.5 376.1,734.8 379.8,734.0 383.4,733.5 387.1,730.3 390.7,732.5 394.4,731.2 398.1,734.6 401.7,732.4 405.4,730.6 409.0,732.3 412.7,730.0 416.4,730.4 420.0,733.2 423.7,735.2 427.3,731.1 431.0,734.5 434.7,735.1 438.3,731.2 442.0,730.6 445.6,730.6 449.3,730.0 453.0,734.1 456.6,734.7 460.3,734.5" stroke="#3a7bc4" stroke-width="1.0"/>
<path d="M372.4,712.9 374.3,716.9 376.1,720.8 377.9,722.7 379.8,724.6 381.6,726.6 383.4,727.1 385.2,727.6 387.1,728.1 388.9,728.5 390.7,728.9 392.6,729.3 394.4,729.7 396.2,730.1 398.1,730.5 399.9,730.9 401.7,731.3 403.5,731.7 405.4,732.1 407.2,732.4 409.0,732.6 410.9,732.8 412.7,733.0 414.5,733.2 416.4,733.4 418.2,733.6 420.0,733.8 421.8,734.0 423.7,734.2 425.5,734.4 427.3,734.4 429.2,734.4 431.0,734.4 432.8,734.4 434.7,734.4 436.5,734.4 438.3,734.4 440.1,734.4 442.0,734.4 443.8,734.4 445.6,734.4 447.5,734.4 449.3,734.4 451.1,734.4 453.0,734.4 454.8,734.4 456.6,734.4 458.4,734.4 460.3,734.4" stroke="#8fcdf5" stroke-width="1.0"/>
<path d="M372.4,753.9 374.3,751.3 376.1,748.7 377.9,746.1 379.8,742.2 381.6,738.3 383.4,737.8 385.2,737.3 387.1,736.8 388.9,736.4 390.7,737.0 392.6,737.6 394.4,738.3 396.2,737.6 398.1,737.0 399.9,736.4 401.7,735.9 403.5,735.4 405.4,734.9 407.2,734.4 409.0,735.2 410.9,736.0 412.7,736.7 414.5,737.5 416.4,738.3 418.2,738.3 420.0,738.3 421.8,738.3 423.7,738.3 425.5,738.3 427.3,737.9 429.2,737.5 431.0,737.1 432.8,736.7 434.7,736.4 436.5,736.7 438.3,737.1 440.1,737.5 442.0,737.9 443.8,738.3 445.6,737.1 447.5,736.0 449.3,734.8 451.1,733.6 453.0,732.4 454.8,733.4 456.6,734.4 458.4,735.4 460.3,736.4" stroke="#d82a2a" stroke-width="1.1"/>
<path d="M372.4,755.9 374.3,754.5 376.1,753.2 377.9,751.9 379.8,745.4 381.6,738.9 383.4,732.4 385.2,731.1 387.1,729.9 388.9,728.5 390.7,726.6 392.6,724.6 394.4,722.7 396.2,724.6 398.1,726.6 399.9,728.5 401.7,728.1 403.5,727.6 405.4,727.1 407.2,726.6 409.0,727.4 410.9,728.2 412.7,728.9 414.5,729.7 416.4,730.5 418.2,730.5 420.0,730.5 421.8,730.5 423.7,730.5 425.5,730.5 427.3,732.1 429.2,733.6 431.0,735.2 432.8,736.7 434.7,738.3 436.5,736.7 438.3,735.2 440.1,733.6 442.0,732.1 443.8,730.5 445.6,730.5 447.5,730.5 449.3,730.5 451.1,730.5 453.0,730.5 454.8,733.4 456.6,736.4 458.4,735.4 460.3,734.4" stroke="#8a0a0a" stroke-width="1.4"/>
</g>
<rect x="367.5" y="685.5" width="97" height="72.0" fill="none" stroke="#444" stroke-width="1"/>
<line x1="365.5" y1="695.40" x2="367.5" y2="695.40" stroke="#4a4a4a" stroke-width="0.8"/>
<line x1="365.5" y1="714.90" x2="367.5" y2="714.90" stroke="#4a4a4a" stroke-width="0.8"/>
<line x1="365.5" y1="734.40" x2="367.5" y2="734.40" stroke="#4a4a4a" stroke-width="0.8"/>
<line x1="365.5" y1="753.90" x2="367.5" y2="753.90" stroke="#4a4a4a" stroke-width="0.8"/>
<line x1="370.60" y1="757.4" x2="370.60" y2="759.4" stroke="#4a4a4a" stroke-width="0.8"/>
<text x="370.6" y="768.6" font-size="8.4" text-anchor="middle" textLength="4.7" lengthAdjust="spacingAndGlyphs" fill="#333" stroke="#333" stroke-width="0.18">0</text>
<line x1="388.90" y1="757.4" x2="388.90" y2="759.4" stroke="#4a4a4a" stroke-width="0.8"/>
<text x="388.9" y="768.6" font-size="8.4" text-anchor="middle" textLength="14.0" lengthAdjust="spacingAndGlyphs" fill="#333" stroke="#333" stroke-width="0.18">100</text>
<line x1="407.20" y1="757.4" x2="407.20" y2="759.4" stroke="#4a4a4a" stroke-width="0.8"/>
<text x="407.2" y="768.6" font-size="8.4" text-anchor="middle" textLength="14.0" lengthAdjust="spacingAndGlyphs" fill="#333" stroke="#333" stroke-width="0.18">200</text>
<line x1="425.50" y1="757.4" x2="425.50" y2="759.4" stroke="#4a4a4a" stroke-width="0.8"/>
<text x="425.5" y="768.6" font-size="8.4" text-anchor="middle" textLength="14.0" lengthAdjust="spacingAndGlyphs" fill="#333" stroke="#333" stroke-width="0.18">300</text>
<line x1="443.80" y1="757.4" x2="443.80" y2="759.4" stroke="#4a4a4a" stroke-width="0.8"/>
<text x="443.8" y="768.6" font-size="8.4" text-anchor="middle" textLength="14.0" lengthAdjust="spacingAndGlyphs" fill="#333" stroke="#333" stroke-width="0.18">400</text>
<line x1="462.10" y1="757.4" x2="462.10" y2="759.4" stroke="#4a4a4a" stroke-width="0.8"/>
<text x="462.1" y="768.6" font-size="8.4" text-anchor="middle" textLength="14.0" lengthAdjust="spacingAndGlyphs" fill="#333" stroke="#333" stroke-width="0.18">500</text>
<text x="416.6" y="781.3" font-size="9.3" text-anchor="middle" textLength="36.2" lengthAdjust="spacingAndGlyphs" fill="#222" stroke="#222" stroke-width="0.18">Distance</text>
<line x1="473.2" y1="695.40" x2="570.5" y2="695.40" stroke="#e2e2e2" stroke-width="0.8"/>
<line x1="473.2" y1="714.90" x2="570.5" y2="714.90" stroke="#e2e2e2" stroke-width="0.8"/>
<line x1="473.2" y1="734.40" x2="570.5" y2="734.40" stroke="#e2e2e2" stroke-width="0.8"/>
<line x1="473.2" y1="753.90" x2="570.5" y2="753.90" stroke="#e2e2e2" stroke-width="0.8"/>
<line x1="494.60" y1="685.3" x2="494.60" y2="757.4" stroke="#e2e2e2" stroke-width="0.8"/>
<line x1="512.90" y1="685.3" x2="512.90" y2="757.4" stroke="#e2e2e2" stroke-width="0.8"/>
<line x1="531.20" y1="685.3" x2="531.20" y2="757.4" stroke="#e2e2e2" stroke-width="0.8"/>
<line x1="549.50" y1="685.3" x2="549.50" y2="757.4" stroke="#e2e2e2" stroke-width="0.8"/>
<line x1="567.80" y1="685.3" x2="567.80" y2="757.4" stroke="#e2e2e2" stroke-width="0.8"/>
<g fill="none" stroke-linejoin="round" stroke-linecap="round">
<path d="M478.1,736.4 480.0,735.9 481.8,735.4 483.6,734.9 485.4,734.4 487.3,734.4 489.1,734.4 490.9,734.4 492.8,734.4 494.6,734.4 496.4,734.4 498.3,734.4 500.1,734.4 501.9,734.4 503.8,734.4 505.6,734.4 507.4,734.4 509.2,734.4 511.1,734.4 512.9,734.4 514.7,734.4 516.6,734.4 518.4,734.4 520.2,734.4 522.0,734.4 523.9,734.4 525.7,734.4 527.5,734.4 529.4,734.4 531.2,734.4 533.0,734.4 534.9,734.4 536.7,734.4 538.5,734.4 540.4,734.4 542.2,734.4 544.0,734.4 545.8,734.4 547.7,734.4 549.5,734.4 551.3,734.4 553.2,734.4 555.0,734.4 556.8,734.4 558.6,734.4 560.5,734.4 562.3,734.4 564.1,734.4 566.0,734.4" stroke="#6fce63" stroke-width="1.0"/>
<path d="M478.1,742.2 480.0,739.6 481.8,737.0 483.6,734.4 485.4,734.3 487.3,734.1 489.1,734.0 490.9,733.9 492.8,733.8 494.6,733.6 496.4,733.6 498.3,733.6 500.1,733.6 501.9,733.6 503.8,733.6 505.6,733.5 507.4,733.5 509.2,733.5 511.1,733.5 512.9,733.5 514.7,733.5 516.6,733.5 518.4,733.5 520.2,733.4 522.0,733.4 523.9,733.4 525.7,733.4 527.5,733.4 529.4,733.4 531.2,733.4 533.0,733.3 534.9,733.3 536.7,733.3 538.5,733.3 540.4,733.3 542.2,733.3 544.0,733.3 545.8,733.3 547.7,733.2 549.5,733.2 551.3,732.5 553.2,731.9 555.0,731.2 556.8,730.5 558.6,731.3 560.5,732.1 562.3,732.8 564.1,733.6 566.0,734.4" stroke="#ee88ee" stroke-width="1.0"/>
<path d="M478.1,734.4 480.0,740.2 481.8,739.8 483.6,739.3 485.4,738.8 487.3,738.3 489.1,738.1 490.9,737.9 492.8,737.7 494.6,737.5 496.4,737.4 498.3,737.4 500.1,737.3 501.9,737.2 503.8,737.1 505.6,737.0 507.4,737.0 509.2,736.9 511.1,736.8 512.9,736.7 514.7,736.6 516.6,736.6 518.4,736.5 520.2,736.4 522.0,736.3 523.9,736.2 525.7,736.2 527.5,736.1 529.4,736.0 531.2,735.9 533.0,735.8 534.9,735.8 536.7,735.7 538.5,735.6 540.4,735.5 542.2,735.4 544.0,735.4 545.8,735.3 547.7,735.2 549.5,735.1 551.3,735.0 553.2,735.0 555.0,734.9 556.8,734.8 558.6,734.7 560.5,734.6 562.3,734.6 564.1,734.5 566.0,734.4" stroke="#f6a040" stroke-width="1.0"/>
<path d="M478.1,746.1 480.0,744.1 481.8,742.2 483.6,740.2 485.4,738.3 487.3,737.9 489.1,737.5 490.9,737.1 492.8,736.7 494.6,736.4 496.4,736.3 498.3,736.2 500.1,736.2 501.9,736.1 503.8,736.1 505.6,736.0 507.4,736.0 509.2,735.9 511.1,735.9 512.9,735.9 514.7,735.8 516.6,735.8 518.4,735.7 520.2,735.6 522.0,735.6 523.9,735.5 525.7,735.5 527.5,735.4 529.4,735.4 531.2,735.4 533.0,735.3 534.9,735.2 536.7,735.2 538.5,735.1 540.4,735.1 542.2,735.0 544.0,735.0 545.8,734.9 547.7,734.9 549.5,734.9 551.3,734.8 553.2,734.8 555.0,734.7 556.8,734.6 558.6,734.6 560.5,734.5 562.3,734.5 564.1,734.4 566.0,734.4" stroke="#f7a090" stroke-width="1.0"/>
<path d="M478.1,732.4 481.8,732.8 485.4,733.3 489.1,733.5 492.8,731.2 496.4,732.2 500.1,731.9 503.8,732.3 507.4,732.8 511.1,731.7 514.7,732.2 518.4,731.6 522.0,731.9 525.7,731.4 529.4,732.6 533.0,733.5 536.7,733.5 540.4,731.8 544.0,733.5 547.7,732.0 551.3,732.1 555.0,733.8 558.6,731.6 562.3,733.9 566.0,731.3" stroke="#d5cc1e" stroke-width="1.0"/>
<path d="M478.1,729.7 480.0,731.3 481.8,732.8 483.6,734.4 485.4,734.1 487.3,733.8 489.1,733.4 490.9,733.1 492.8,732.8 494.6,732.4 496.4,732.3 498.3,732.1 500.1,731.9 501.9,731.7 503.8,731.5 505.6,731.3 507.4,731.1 509.2,730.9 511.1,730.7 512.9,730.5 514.7,730.9 516.6,731.3 518.4,731.7 520.2,732.1 522.0,732.4 523.9,732.8 525.7,733.2 527.5,733.6 529.4,734.0 531.2,734.4 533.0,733.8 534.9,733.2 536.7,732.5 538.5,731.9 540.4,731.3 542.2,731.5 544.0,731.7 545.8,731.9 547.7,732.2 549.5,732.4 551.3,732.6 553.2,732.8 555.0,733.1 556.8,733.3 558.6,733.5 560.5,733.7 562.3,734.0 564.1,734.2 566.0,734.4" stroke="#3a7bc4" stroke-width="1.0"/>
<path d="M478.1,714.9 480.0,717.8 481.8,720.8 483.6,722.7 485.4,724.6 487.3,726.6 489.1,727.6 490.9,728.5 492.8,729.5 494.6,730.5 496.4,730.9 498.3,731.3 500.1,731.7 501.9,732.1 503.8,732.4 505.6,732.7 507.4,732.9 509.2,733.2 511.1,733.4 512.9,733.6 514.7,733.6 516.6,733.7 518.4,733.7 520.2,733.7 522.0,733.8 523.9,733.8 525.7,733.8 527.5,733.8 529.4,733.9 531.2,733.9 533.0,733.9 534.9,733.9 536.7,734.0 538.5,734.0 540.4,734.0 542.2,734.1 544.0,734.1 545.8,734.1 547.7,734.1 549.5,734.2 551.3,734.2 553.2,734.2 555.0,734.2 556.8,734.3 558.6,734.3 560.5,734.3 562.3,734.3 564.1,734.4 566.0,734.4" stroke="#8fcdf5" stroke-width="1.0"/>
<path d="M478.1,757.8 480.0,751.9 481.8,746.1 483.6,743.5 485.4,740.9 487.3,738.3 489.1,737.8 490.9,737.3 492.8,736.8 494.6,736.4 496.4,736.4 498.3,736.4 500.1,736.4 501.9,736.4 503.8,736.4 505.6,736.4 507.4,736.4 509.2,736.4 511.1,736.4 512.9,736.4 514.7,736.7 516.6,737.1 518.4,737.5 520.2,737.9 522.0,738.3 523.9,737.9 525.7,737.5 527.5,737.1 529.4,736.7 531.2,736.4 533.0,736.0 534.9,735.6 536.7,735.2 538.5,734.8 540.4,734.4 542.2,734.0 544.0,733.6 545.8,733.2 547.7,732.8 549.5,732.4 551.3,732.8 553.2,733.2 555.0,733.6 556.8,734.0 558.6,734.4 560.5,734.9 562.3,735.4 564.1,735.9 566.0,736.4" stroke="#d82a2a" stroke-width="1.1"/>
<path d="M478.1,742.2 480.0,748.0 481.8,753.9 483.6,744.1 485.4,734.4 487.3,733.2 489.1,732.1 490.9,730.9 492.8,729.7 494.6,728.5 496.4,729.1 498.3,729.6 500.1,730.2 501.9,730.7 503.8,731.3 505.6,731.1 507.4,731.0 509.2,730.8 511.1,730.7 512.9,730.5 514.7,730.5 516.6,730.5 518.4,730.5 520.2,730.5 522.0,730.5 523.9,730.7 525.7,730.8 527.5,731.0 529.4,731.1 531.2,731.3 533.0,732.7 534.9,734.1 536.7,735.5 538.5,736.9 540.4,738.3 542.2,736.7 544.0,735.2 545.8,733.6 547.7,732.1 549.5,730.5 551.3,730.9 553.2,731.3 555.0,731.7 556.8,732.1 558.6,732.4 560.5,733.4 562.3,734.4 564.1,735.4 566.0,736.4" stroke="#8a0a0a" stroke-width="1.4"/>
</g>
<rect x="473.5" y="685.5" width="97" height="72.0" fill="none" stroke="#444" stroke-width="1"/>
<line x1="471.2" y1="695.40" x2="473.2" y2="695.40" stroke="#4a4a4a" stroke-width="0.8"/>
<line x1="471.2" y1="714.90" x2="473.2" y2="714.90" stroke="#4a4a4a" stroke-width="0.8"/>
<line x1="471.2" y1="734.40" x2="473.2" y2="734.40" stroke="#4a4a4a" stroke-width="0.8"/>
<line x1="471.2" y1="753.90" x2="473.2" y2="753.90" stroke="#4a4a4a" stroke-width="0.8"/>
<line x1="476.30" y1="757.4" x2="476.30" y2="759.4" stroke="#4a4a4a" stroke-width="0.8"/>
<text x="476.3" y="768.6" font-size="8.4" text-anchor="middle" textLength="4.7" lengthAdjust="spacingAndGlyphs" fill="#333" stroke="#333" stroke-width="0.18">0</text>
<line x1="494.60" y1="757.4" x2="494.60" y2="759.4" stroke="#4a4a4a" stroke-width="0.8"/>
<text x="494.6" y="768.6" font-size="8.4" text-anchor="middle" textLength="14.0" lengthAdjust="spacingAndGlyphs" fill="#333" stroke="#333" stroke-width="0.18">100</text>
<line x1="512.90" y1="757.4" x2="512.90" y2="759.4" stroke="#4a4a4a" stroke-width="0.8"/>
<text x="512.9" y="768.6" font-size="8.4" text-anchor="middle" textLength="14.0" lengthAdjust="spacingAndGlyphs" fill="#333" stroke="#333" stroke-width="0.18">200</text>
<line x1="531.20" y1="757.4" x2="531.20" y2="759.4" stroke="#4a4a4a" stroke-width="0.8"/>
<text x="531.2" y="768.6" font-size="8.4" text-anchor="middle" textLength="14.0" lengthAdjust="spacingAndGlyphs" fill="#333" stroke="#333" stroke-width="0.18">300</text>
<line x1="549.50" y1="757.4" x2="549.50" y2="759.4" stroke="#4a4a4a" stroke-width="0.8"/>
<text x="549.5" y="768.6" font-size="8.4" text-anchor="middle" textLength="14.0" lengthAdjust="spacingAndGlyphs" fill="#333" stroke="#333" stroke-width="0.18">400</text>
<line x1="567.80" y1="757.4" x2="567.80" y2="759.4" stroke="#4a4a4a" stroke-width="0.8"/>
<text x="567.8" y="768.6" font-size="8.4" text-anchor="middle" textLength="14.0" lengthAdjust="spacingAndGlyphs" fill="#333" stroke="#333" stroke-width="0.18">500</text>
<text x="522.4" y="781.3" font-size="9.3" text-anchor="middle" textLength="36.2" lengthAdjust="spacingAndGlyphs" fill="#222" stroke="#222" stroke-width="0.18">Distance</text>
<line x1="579.5" y1="695.40" x2="676.8" y2="695.40" stroke="#e2e2e2" stroke-width="0.8"/>
<line x1="579.5" y1="714.90" x2="676.8" y2="714.90" stroke="#e2e2e2" stroke-width="0.8"/>
<line x1="579.5" y1="734.40" x2="676.8" y2="734.40" stroke="#e2e2e2" stroke-width="0.8"/>
<line x1="579.5" y1="753.90" x2="676.8" y2="753.90" stroke="#e2e2e2" stroke-width="0.8"/>
<line x1="600.90" y1="685.3" x2="600.90" y2="757.4" stroke="#e2e2e2" stroke-width="0.8"/>
<line x1="619.20" y1="685.3" x2="619.20" y2="757.4" stroke="#e2e2e2" stroke-width="0.8"/>
<line x1="637.50" y1="685.3" x2="637.50" y2="757.4" stroke="#e2e2e2" stroke-width="0.8"/>
<line x1="655.80" y1="685.3" x2="655.80" y2="757.4" stroke="#e2e2e2" stroke-width="0.8"/>
<line x1="674.10" y1="685.3" x2="674.10" y2="757.4" stroke="#e2e2e2" stroke-width="0.8"/>
<g fill="none" stroke-linejoin="round" stroke-linecap="round">
<path d="M584.4,736.4 586.3,737.3 588.1,738.3 589.9,737.6 591.8,737.0 593.6,736.4 595.4,736.4 597.2,736.4 599.1,736.4 600.9,736.4 602.7,736.4 604.6,736.4 606.4,736.4 608.2,736.4 610.1,736.4 611.9,736.4 613.7,736.4 615.5,736.4 617.4,736.4 619.2,736.4 621.0,736.4 622.9,736.4 624.7,736.4 626.5,736.4 628.4,736.4 630.2,736.4 632.0,736.4 633.8,736.4 635.7,736.4 637.5,736.4 639.3,736.4 641.2,736.4 643.0,736.4 644.8,736.4 646.6,736.4 648.5,736.4 650.3,736.4 652.1,736.4 654.0,736.4 655.8,736.4 657.6,736.4 659.5,736.4 661.3,736.4 663.1,736.4 665.0,736.4 666.8,736.4 668.6,736.4 670.4,736.4 672.3,736.4" stroke="#f6a040" stroke-width="1.2"/>
<path d="M584.4,734.4 586.3,734.6 588.1,734.9 589.9,735.1 591.8,735.3 593.6,735.6 595.4,735.6 597.2,735.6 599.1,735.6 600.9,735.6 602.7,735.6 604.6,735.6 606.4,735.6 608.2,735.6 610.1,735.6 611.9,735.6 613.7,735.6 615.5,735.6 617.4,735.6 619.2,735.6 621.0,735.6 622.9,735.6 624.7,735.6 626.5,735.6 628.4,735.6 630.2,735.6 632.0,735.6 633.8,735.6 635.7,735.6 637.5,735.6 639.3,735.6 641.2,735.6 643.0,735.6 644.8,735.6 646.6,735.6 648.5,735.6 650.3,735.6 652.1,735.6 654.0,735.6 655.8,735.6 657.6,735.6 659.5,735.6 661.3,735.6 663.1,735.6 665.0,735.6 666.8,735.6 668.6,735.6 670.4,735.6 672.3,735.6" stroke="#d5cc1e" stroke-width="1.2"/>
<path d="M584.4,742.2 586.3,739.3 588.1,736.4 589.9,736.0 591.8,735.6 593.6,735.2 595.4,735.2 597.2,735.2 599.1,735.2 600.9,735.2 602.7,735.2 604.6,735.2 606.4,735.2 608.2,735.2 610.1,735.2 611.9,735.2 613.7,735.2 615.5,735.2 617.4,735.2 619.2,735.2 621.0,735.2 622.9,735.2 624.7,735.2 626.5,735.2 628.4,735.2 630.2,735.2 632.0,735.2 633.8,735.2 635.7,735.2 637.5,735.2 639.3,735.2 641.2,735.2 643.0,735.2 644.8,735.2 646.6,735.2 648.5,735.2 650.3,735.2 652.1,735.2 654.0,735.2 655.8,735.2 657.6,735.2 659.5,735.2 661.3,735.2 663.1,735.2 665.0,735.2 666.8,735.2 668.6,735.2 670.4,735.2 672.3,735.2" stroke="#6fce63" stroke-width="1.1"/>
<path d="M584.4,734.4 586.3,734.2 588.1,734.1 589.9,733.9 591.8,733.8 593.6,733.6 595.4,733.6 597.2,733.6 599.1,733.6 600.9,733.6 602.7,733.6 604.6,733.6 606.4,733.6 608.2,733.6 610.1,733.6 611.9,733.6 613.7,733.6 615.5,733.6 617.4,733.6 619.2,733.6 621.0,733.6 622.9,733.6 624.7,733.6 626.5,733.6 628.4,733.6 630.2,733.6 632.0,733.6 633.8,733.6 635.7,733.6 637.5,733.6 639.3,733.6 641.2,733.6 643.0,733.6 644.8,733.6 646.6,733.6 648.5,733.6 650.3,733.6 652.1,733.6 654.0,733.6 655.8,733.6 657.6,733.6 659.5,733.6 661.3,733.6 663.1,733.6 665.0,733.6 666.8,733.6 668.6,733.6 670.4,733.6 672.3,733.6" stroke="#ee88ee" stroke-width="1.0"/>
<path d="M584.4,730.5 586.3,731.0 588.1,731.6 589.9,732.1 591.8,732.7 593.6,733.2 595.4,733.2 597.2,733.2 599.1,733.2 600.9,733.2 602.7,733.2 604.6,733.2 606.4,733.2 608.2,733.2 610.1,733.2 611.9,733.2 613.7,733.2 615.5,733.2 617.4,733.2 619.2,733.2 621.0,733.2 622.9,733.2 624.7,733.2 626.5,733.2 628.4,733.2 630.2,733.2 632.0,733.2 633.8,733.2 635.7,733.2 637.5,733.2 639.3,733.2 641.2,733.2 643.0,733.2 644.8,733.2 646.6,733.2 648.5,733.2 650.3,733.2 652.1,733.2 654.0,733.2 655.8,733.2 657.6,733.2 659.5,733.2 661.3,733.2 663.1,733.2 665.0,733.2 666.8,733.2 668.6,733.2 670.4,733.2 672.3,733.2" stroke="#f7a090" stroke-width="1.0"/>
<path d="M584.4,722.7 586.3,725.9 588.1,729.2 589.9,732.4 591.8,732.4 593.6,732.4 595.4,732.4 597.2,732.4 599.1,732.4 600.9,732.4 602.7,732.4 604.6,732.4 606.4,732.4 608.2,732.4 610.1,732.4 611.9,732.4 613.7,732.4 615.5,732.4 617.4,732.4 619.2,732.4 621.0,732.4 622.9,732.4 624.7,732.4 626.5,732.4 628.4,732.4 630.2,732.4 632.0,732.4 633.8,732.4 635.7,732.4 637.5,732.4 639.3,732.4 641.2,732.4 643.0,732.4 644.8,732.4 646.6,732.4 648.5,732.4 650.3,732.4 652.1,732.4 654.0,732.4 655.8,732.4 657.6,732.4 659.5,732.4 661.3,732.4 663.1,732.4 665.0,732.4 666.8,732.4 668.6,732.4 670.4,732.4 672.3,732.4" stroke="#8fcdf5" stroke-width="1.0"/>
<path d="M584.4,726.6 586.3,728.5 588.1,730.5 589.9,732.4 591.8,732.5 593.6,732.6 595.4,732.6 597.2,732.7 599.1,732.8 600.9,732.8 602.7,732.8 604.6,732.8 606.4,732.8 608.2,732.8 610.1,732.8 611.9,732.8 613.7,732.8 615.5,732.8 617.4,732.8 619.2,732.8 621.0,732.8 622.9,732.8 624.7,732.8 626.5,732.8 628.4,732.8 630.2,732.8 632.0,732.8 633.8,732.8 635.7,732.8 637.5,732.8 639.3,732.8 641.2,732.8 643.0,732.8 644.8,732.8 646.6,732.8 648.5,732.8 650.3,732.8 652.1,732.8 654.0,732.8 655.8,732.8 657.6,732.8 659.5,732.8 661.3,732.8 663.1,732.8 665.0,732.8 666.8,732.8 668.6,732.8 670.4,732.8 672.3,732.8" stroke="#3a7bc4" stroke-width="1.1"/>
<path d="M584.4,731.3 586.3,731.9 588.1,732.6 589.9,733.2 591.8,733.1 593.6,733.0 595.4,732.8 597.2,732.7 599.1,732.6 600.9,732.4 602.7,732.4 604.6,732.4 606.4,732.4 608.2,732.4 610.1,732.4 611.9,732.4 613.7,732.4 615.5,732.4 617.4,732.4 619.2,732.4 621.0,732.4 622.9,732.4 624.7,732.4 626.5,732.4 628.4,732.4 630.2,732.4 632.0,732.4 633.8,732.4 635.7,732.4 637.5,732.4 639.3,732.4 641.2,732.4 643.0,732.4 644.8,732.4 646.6,732.4 648.5,732.4 650.3,732.4 652.1,732.4 654.0,732.4 655.8,732.4 657.6,732.4 659.5,732.4 661.3,732.4 663.1,732.4 665.0,732.4 666.8,732.4 668.6,732.4 670.4,732.4 672.3,732.4" stroke="#8a0a0a" stroke-width="1.1"/>
<path d="M584.4,728.5 588.1,731.9 591.8,731.3 595.4,732.1 599.1,730.5 602.7,731.9 606.4,731.2 610.1,730.3 613.7,731.5 617.4,730.2 621.0,730.7 624.7,731.2 628.4,731.0 632.0,731.1 635.7,731.6 639.3,730.1 643.0,731.5 646.6,730.1 650.3,730.5 654.0,732.4 657.6,731.8 661.3,731.3 665.0,730.5 668.6,732.0 672.3,731.0" stroke="#d82a2a" stroke-width="1.1"/>
</g>
<rect x="579.5" y="685.5" width="97" height="72.0" fill="none" stroke="#444" stroke-width="1"/>
<line x1="577.5" y1="695.40" x2="579.5" y2="695.40" stroke="#4a4a4a" stroke-width="0.8"/>
<line x1="577.5" y1="714.90" x2="579.5" y2="714.90" stroke="#4a4a4a" stroke-width="0.8"/>
<line x1="577.5" y1="734.40" x2="579.5" y2="734.40" stroke="#4a4a4a" stroke-width="0.8"/>
<line x1="577.5" y1="753.90" x2="579.5" y2="753.90" stroke="#4a4a4a" stroke-width="0.8"/>
<line x1="582.60" y1="757.4" x2="582.60" y2="759.4" stroke="#4a4a4a" stroke-width="0.8"/>
<line x1="600.90" y1="757.4" x2="600.90" y2="759.4" stroke="#4a4a4a" stroke-width="0.8"/>
<text x="600.9" y="768.6" font-size="8.4" text-anchor="middle" textLength="14.0" lengthAdjust="spacingAndGlyphs" fill="#333" stroke="#333" stroke-width="0.18">100</text>
<line x1="619.20" y1="757.4" x2="619.20" y2="759.4" stroke="#4a4a4a" stroke-width="0.8"/>
<text x="619.2" y="768.6" font-size="8.4" text-anchor="middle" textLength="14.0" lengthAdjust="spacingAndGlyphs" fill="#333" stroke="#333" stroke-width="0.18">200</text>
<line x1="637.50" y1="757.4" x2="637.50" y2="759.4" stroke="#4a4a4a" stroke-width="0.8"/>
<text x="637.5" y="768.6" font-size="8.4" text-anchor="middle" textLength="14.0" lengthAdjust="spacingAndGlyphs" fill="#333" stroke="#333" stroke-width="0.18">300</text>
<line x1="655.80" y1="757.4" x2="655.80" y2="759.4" stroke="#4a4a4a" stroke-width="0.8"/>
<text x="655.8" y="768.6" font-size="8.4" text-anchor="middle" textLength="14.0" lengthAdjust="spacingAndGlyphs" fill="#333" stroke="#333" stroke-width="0.18">400</text>
<line x1="674.10" y1="757.4" x2="674.10" y2="759.4" stroke="#4a4a4a" stroke-width="0.8"/>
<text x="674.1" y="768.6" font-size="8.4" text-anchor="middle" textLength="14.0" lengthAdjust="spacingAndGlyphs" fill="#333" stroke="#333" stroke-width="0.18">500</text>
<text x="628.6" y="781.3" font-size="9.3" text-anchor="middle" textLength="36.2" lengthAdjust="spacingAndGlyphs" fill="#222" stroke="#222" stroke-width="0.18">Distance</text>
<text x="46.3" y="698.4" font-size="8.4" text-anchor="end" textLength="11.7" lengthAdjust="spacingAndGlyphs" fill="#333" stroke="#333" stroke-width="0.18">1.0</text>
<text x="46.3" y="717.9" font-size="8.4" text-anchor="end" textLength="11.7" lengthAdjust="spacingAndGlyphs" fill="#333" stroke="#333" stroke-width="0.18">0.5</text>
<text x="46.3" y="737.4" font-size="8.4" text-anchor="end" textLength="4.7" lengthAdjust="spacingAndGlyphs" fill="#333" stroke="#333" stroke-width="0.18">0</text>
<text x="46.3" y="756.9" font-size="8.4" text-anchor="end" textLength="16.6" lengthAdjust="spacingAndGlyphs" fill="#333" stroke="#333" stroke-width="0.18">−0.5</text>
<text x="16.7" y="755.8" font-size="9.0" textLength="12.0" lengthAdjust="spacingAndGlyphs" transform="rotate(-90 16.7 755.8)" fill="#222" stroke="#222" stroke-width="0.18">log</text>
<text x="18.9" y="742.0" font-size="8.3" textLength="2.8" lengthAdjust="spacingAndGlyphs" transform="rotate(-90 18.9 742.0)" fill="#222" stroke="#222" stroke-width="0.18">(</text>
<text x="18.9" y="693.0" font-size="8.3" textLength="2.8" lengthAdjust="spacingAndGlyphs" transform="rotate(-90 18.9 693.0)" fill="#222" stroke="#222" stroke-width="0.18">)</text>
<text x="11.4" y="715.0" font-size="4.8" text-anchor="middle" textLength="45.9" lengthAdjust="spacingAndGlyphs" transform="rotate(-90 11.4 715.0)" fill="#333" stroke="#333" stroke-width="0.08">p(anno|Macroph.)</text>
<line x1="15.5" y1="692.7" x2="15.5" y2="738.0" stroke="#444" stroke-width="0.5"/>
<text x="21.4" y="715.0" font-size="4.8" text-anchor="middle" textLength="20.2" lengthAdjust="spacingAndGlyphs" transform="rotate(-90 21.4 715.0)" fill="#333" stroke="#333" stroke-width="0.08">p(anno)</text>
<text x="0.2" y="809.3" font-size="15.5" font-weight="bold" fill="#000" stroke="#000" stroke-width="0.7">d</text>
<text x="67.3" y="808.6" font-size="9.7" textLength="165.7" lengthAdjust="spacingAndGlyphs" fill="#222" stroke="#222" stroke-width="0.18">Macrophage co-localization with...</text>
<rect x="87.2" y="813.3" width="126.3" height="168.0" fill="none" stroke="#9a9a9a" stroke-width="1"/>
<text x="81" y="821.3" font-size="7.6" text-anchor="end" textLength="11.4" lengthAdjust="spacingAndGlyphs" fill="#222" stroke="#222" stroke-width="0.18">NK</text>
<line x1="85.2" y1="818.6" x2="87.2" y2="818.6" stroke="#777" stroke-width="0.7"/>
<text x="81" y="829.6" font-size="7.6" text-anchor="end" textLength="5.0" lengthAdjust="spacingAndGlyphs" fill="#222" stroke="#222" stroke-width="0.18">T</text>
<line x1="85.2" y1="826.9" x2="87.2" y2="826.9" stroke="#777" stroke-width="0.7"/>
<text x="81" y="838.0" font-size="7.6" text-anchor="end" textLength="5.5" lengthAdjust="spacingAndGlyphs" fill="#222" stroke="#222" stroke-width="0.18">B</text>
<line x1="85.2" y1="835.3" x2="87.2" y2="835.3" stroke="#777" stroke-width="0.7"/>
<text x="81" y="846.3" font-size="7.6" text-anchor="end" textLength="36.4" lengthAdjust="spacingAndGlyphs" fill="#222" stroke="#222" stroke-width="0.18">B_plasma</text>
<line x1="85.2" y1="843.6" x2="87.2" y2="843.6" stroke="#777" stroke-width="0.7"/>
<text x="81" y="854.6" font-size="7.6" text-anchor="end" textLength="17.7" lengthAdjust="spacingAndGlyphs" fill="#222" stroke="#222" stroke-width="0.18">Mast</text>
<line x1="85.2" y1="851.9" x2="87.2" y2="851.9" stroke="#777" stroke-width="0.7"/>
<text x="81" y="863.0" font-size="7.6" text-anchor="end" textLength="35.5" lengthAdjust="spacingAndGlyphs" fill="#222" stroke="#222" stroke-width="0.18">Monocyte</text>
<line x1="85.2" y1="860.2" x2="87.2" y2="860.2" stroke="#777" stroke-width="0.7"/>
<text x="81" y="871.3" font-size="7.6" text-anchor="end" textLength="45.5" lengthAdjust="spacingAndGlyphs" fill="#222" stroke="#222" stroke-width="0.18">Macrophage</text>
<line x1="85.2" y1="868.6" x2="87.2" y2="868.6" stroke="#777" stroke-width="0.7"/>
<text x="81" y="879.6" font-size="7.6" text-anchor="end" textLength="26.8" lengthAdjust="spacingAndGlyphs" fill="#222" stroke="#222" stroke-width="0.18">Neuron</text>
<line x1="85.2" y1="876.9" x2="87.2" y2="876.9" stroke="#777" stroke-width="0.7"/>
<text x="81" y="887.9" font-size="7.6" text-anchor="end" textLength="41.4" lengthAdjust="spacingAndGlyphs" fill="#222" stroke="#222" stroke-width="0.18">Hepatocyte</text>
<line x1="85.2" y1="885.2" x2="87.2" y2="885.2" stroke="#777" stroke-width="0.7"/>
<text x="81" y="896.3" font-size="7.6" text-anchor="end" textLength="57.3" lengthAdjust="spacingAndGlyphs" fill="#222" stroke="#222" stroke-width="0.18">Skeletal muscle</text>
<line x1="85.2" y1="893.6" x2="87.2" y2="893.6" stroke="#777" stroke-width="0.7"/>
<text x="81" y="904.6" font-size="7.6" text-anchor="end" textLength="27.3" lengthAdjust="spacingAndGlyphs" fill="#222" stroke="#222" stroke-width="0.18">Stellate</text>
<line x1="85.2" y1="901.9" x2="87.2" y2="901.9" stroke="#777" stroke-width="0.7"/>
<text x="81" y="912.9" font-size="7.6" text-anchor="end" textLength="80.0" lengthAdjust="spacingAndGlyphs" fill="#222" stroke="#222" stroke-width="0.18">Smooth muscle_vasc.</text>
<line x1="85.2" y1="910.2" x2="87.2" y2="910.2" stroke="#777" stroke-width="0.7"/>
<text x="81" y="921.3" font-size="7.6" text-anchor="end" textLength="35.9" lengthAdjust="spacingAndGlyphs" fill="#222" stroke="#222" stroke-width="0.18">Fibroblast</text>
<line x1="85.2" y1="918.6" x2="87.2" y2="918.6" stroke="#777" stroke-width="0.7"/>
<text x="81" y="929.6" font-size="7.6" text-anchor="end" textLength="64.1" lengthAdjust="spacingAndGlyphs" fill="#222" stroke="#222" stroke-width="0.18">Endothelial_vasc.</text>
<line x1="85.2" y1="926.9" x2="87.2" y2="926.9" stroke="#777" stroke-width="0.7"/>
<text x="81" y="937.9" font-size="7.6" text-anchor="end" textLength="67.3" lengthAdjust="spacingAndGlyphs" fill="#222" stroke="#222" stroke-width="0.18">Endothelial_angio.</text>
<line x1="85.2" y1="935.2" x2="87.2" y2="935.2" stroke="#777" stroke-width="0.7"/>
<text x="81" y="946.3" font-size="7.6" text-anchor="end" textLength="66.4" lengthAdjust="spacingAndGlyphs" fill="#222" stroke="#222" stroke-width="0.18">Endothelial_sinus.</text>
<line x1="85.2" y1="943.6" x2="87.2" y2="943.6" stroke="#777" stroke-width="0.7"/>
<text x="81" y="954.6" font-size="7.6" text-anchor="end" textLength="40.5" lengthAdjust="spacingAndGlyphs" fill="#222" stroke="#222" stroke-width="0.18">Endothelial</text>
<line x1="85.2" y1="951.9" x2="87.2" y2="951.9" stroke="#777" stroke-width="0.7"/>
<text x="81" y="962.9" font-size="7.6" text-anchor="end" textLength="54.5" lengthAdjust="spacingAndGlyphs" fill="#222" stroke="#222" stroke-width="0.18">MBC_neuronal</text>
<line x1="85.2" y1="960.2" x2="87.2" y2="960.2" stroke="#777" stroke-width="0.7"/>
<text x="81" y="971.2" font-size="7.6" text-anchor="end" textLength="55.4" lengthAdjust="spacingAndGlyphs" fill="#222" stroke="#222" stroke-width="0.18">MBC_stem-like</text>
<line x1="85.2" y1="968.5" x2="87.2" y2="968.5" stroke="#777" stroke-width="0.7"/>
<text x="81" y="979.6" font-size="7.6" text-anchor="end" textLength="18.2" lengthAdjust="spacingAndGlyphs" fill="#222" stroke="#222" stroke-width="0.18">MBC</text>
<line x1="85.2" y1="976.9" x2="87.2" y2="976.9" stroke="#777" stroke-width="0.7"/>
<line x1="99.1" y1="981.3" x2="99.1" y2="983.3" stroke="#777" stroke-width="0.7"/>
<line x1="119.6" y1="981.3" x2="119.6" y2="983.3" stroke="#777" stroke-width="0.7"/>
<line x1="140.1" y1="981.3" x2="140.1" y2="983.3" stroke="#777" stroke-width="0.7"/>
<line x1="160.6" y1="981.3" x2="160.6" y2="983.3" stroke="#777" stroke-width="0.7"/>
<line x1="181.1" y1="981.3" x2="181.1" y2="983.3" stroke="#777" stroke-width="0.7"/>
<line x1="201.6" y1="981.3" x2="201.6" y2="983.3" stroke="#777" stroke-width="0.7"/>
<circle cx="99.1" cy="818.6" r="1.6" fill="#fff6f6" stroke="#111" stroke-width="1.1"/>
<circle cx="119.6" cy="818.6" r="2.4" fill="#ffffff" stroke="#111" stroke-width="1.1"/>
<circle cx="140.1" cy="818.6" r="2.4" fill="#ffffff" stroke="#111" stroke-width="1.1"/>
<circle cx="160.6" cy="818.6" r="3.4" fill="#ffb0b0" stroke="#111" stroke-width="1.1"/>
<circle cx="181.1" cy="818.6" r="3.5" fill="#ffb9b9" stroke="#111" stroke-width="1.1"/>
<circle cx="201.6" cy="818.6" r="3.0" fill="#ffcaca" stroke="#111" stroke-width="1.1"/>
<circle cx="99.1" cy="826.9" r="3.4" fill="#ffe4e4" stroke="#111" stroke-width="1.1"/>
<circle cx="119.6" cy="826.9" r="2.4" fill="#ffdcdc" stroke="#111" stroke-width="1.1"/>
<circle cx="140.1" cy="826.9" r="2.4" fill="#ffffff" stroke="#111" stroke-width="1.1"/>
<circle cx="160.6" cy="826.9" r="3.4" fill="#ffb0b0" stroke="#111" stroke-width="1.1"/>
<circle cx="181.1" cy="826.9" r="3.5" fill="#ffb9b9" stroke="#111" stroke-width="1.1"/>
<circle cx="201.6" cy="826.9" r="3.3" fill="#ffc1c1" stroke="#111" stroke-width="1.1"/>
<circle cx="99.1" cy="835.3" r="3.5" fill="#ffffff" stroke="#111" stroke-width="1.1"/>
<circle cx="119.6" cy="835.3" r="2.4" fill="#ffffff" stroke="#111" stroke-width="1.1"/>
<circle cx="140.1" cy="835.3" r="2.4" fill="#d0d0ff" stroke="#111" stroke-width="1.1"/>
<circle cx="160.6" cy="835.3" r="3.0" fill="#ffb0b0" stroke="#111" stroke-width="1.1"/>
<circle cx="181.1" cy="835.3" r="3.5" fill="#ffb0b0" stroke="#111" stroke-width="1.1"/>
<circle cx="201.6" cy="835.3" r="3.0" fill="#ffcaca" stroke="#111" stroke-width="1.1"/>
<circle cx="99.1" cy="843.6" r="2.5" fill="#ffffff" stroke="#111" stroke-width="1.1"/>
<circle cx="119.6" cy="843.6" r="2.4" fill="#ffffff" stroke="#111" stroke-width="1.1"/>
<circle cx="140.1" cy="843.6" r="2.4" fill="#ffffff" stroke="#111" stroke-width="1.1"/>
<circle cx="160.6" cy="843.6" r="1.3" fill="#111"/>
<circle cx="181.1" cy="843.6" r="4.6" fill="#fff6f6" stroke="#111" stroke-width="1.1"/>
<circle cx="201.6" cy="843.6" r="3.0" fill="#ffcaca" stroke="#111" stroke-width="1.1"/>
<circle cx="99.1" cy="851.9" r="1.8" fill="#ffffff" stroke="#111" stroke-width="1.1"/>
<circle cx="119.6" cy="851.9" r="4.0" fill="#fffafa" stroke="#111" stroke-width="1.1"/>
<circle cx="140.1" cy="851.9" r="1.8" fill="#ffffff" stroke="#111" stroke-width="1.1"/>
<circle cx="160.6" cy="851.9" r="4.0" fill="#ffe4e4" stroke="#111" stroke-width="1.1"/>
<circle cx="181.1" cy="851.9" r="4.5" fill="#ffe0e0" stroke="#111" stroke-width="1.1"/>
<circle cx="201.6" cy="851.9" r="3.0" fill="#fff1f1" stroke="#111" stroke-width="1.1"/>
<circle cx="99.1" cy="860.2" r="3.5" fill="#ffe4e4" stroke="#111" stroke-width="1.1"/>
<circle cx="119.6" cy="860.2" r="2.4" fill="#ffffff" stroke="#111" stroke-width="1.1"/>
<circle cx="140.1" cy="860.2" r="3.4" fill="#ffffff" stroke="#111" stroke-width="1.1"/>
<circle cx="160.6" cy="860.2" r="3.0" fill="#ff9e9e" stroke="#111" stroke-width="1.1"/>
<circle cx="181.1" cy="860.2" r="3.4" fill="#ffa7a7" stroke="#111" stroke-width="1.1"/>
<circle cx="201.6" cy="860.2" r="3.4" fill="#ffb9b9" stroke="#111" stroke-width="1.1"/>
<circle cx="99.1" cy="868.6" r="3.0" fill="#ffc1c1" stroke="#111" stroke-width="1.1"/>
<circle cx="119.6" cy="868.6" r="2.2" fill="#ffc1c1" stroke="#111" stroke-width="1.1"/>
<circle cx="140.1" cy="868.6" r="2.2" fill="#ffc1c1" stroke="#111" stroke-width="1.1"/>
<circle cx="160.6" cy="868.6" r="3.0" fill="#ff9e9e" stroke="#111" stroke-width="1.1"/>
<circle cx="181.1" cy="868.6" r="3.3" fill="#ff9e9e" stroke="#111" stroke-width="1.1"/>
<circle cx="201.6" cy="868.6" r="3.4" fill="#ff9e9e" stroke="#111" stroke-width="1.1"/>
<circle cx="99.1" cy="876.9" r="5.0" fill="#ffffff" stroke="#111" stroke-width="1.1"/>
<circle cx="201.6" cy="876.9" r="2.5" fill="#ffdcdc" stroke="#111" stroke-width="1.1"/>
<circle cx="99.1" cy="885.2" r="3.2" fill="#ffe4e4" stroke="#111" stroke-width="1.1"/>
<circle cx="119.6" cy="885.2" r="3.0" fill="#ffffff" stroke="#111" stroke-width="1.1"/>
<circle cx="140.1" cy="885.2" r="3.0" fill="#ffffff" stroke="#111" stroke-width="1.1"/>
<circle cx="160.6" cy="885.2" r="2.8" fill="#ffb9b9" stroke="#111" stroke-width="1.1"/>
<circle cx="181.1" cy="885.2" r="3.5" fill="#ffb9b9" stroke="#111" stroke-width="1.1"/>
<circle cx="201.6" cy="885.2" r="3.4" fill="#ffc1c1" stroke="#111" stroke-width="1.1"/>
<circle cx="99.1" cy="893.6" r="2.5" fill="#e7e7ff" stroke="#111" stroke-width="1.1"/>
<circle cx="201.6" cy="893.6" r="2.5" fill="#fffafa" stroke="#111" stroke-width="1.1"/>
<circle cx="99.1" cy="901.9" r="2.8" fill="#ffdcdc" stroke="#111" stroke-width="1.1"/>
<circle cx="119.6" cy="901.9" r="1.4" fill="#111"/>
<circle cx="140.1" cy="901.9" r="1.4" fill="#111"/>
<circle cx="160.6" cy="901.9" r="2.1" fill="#1717ff" stroke="#111" stroke-width="1.1"/>
<circle cx="181.1" cy="901.9" r="1.3" fill="#111"/>
<circle cx="201.6" cy="901.9" r="3.5" fill="#ff7b7b" stroke="#111" stroke-width="1.1"/>
<circle cx="99.1" cy="910.2" r="3.5" fill="#ffffff" stroke="#111" stroke-width="1.1"/>
<circle cx="119.6" cy="910.2" r="2.6" fill="#ffe4e4" stroke="#111" stroke-width="1.1"/>
<circle cx="140.1" cy="910.2" r="3.5" fill="#ffe9e9" stroke="#111" stroke-width="1.1"/>
<circle cx="160.6" cy="910.2" r="3.5" fill="#ffe0e0" stroke="#111" stroke-width="1.1"/>
<circle cx="181.1" cy="910.2" r="3.5" fill="#ffdcdc" stroke="#111" stroke-width="1.1"/>
<circle cx="201.6" cy="910.2" r="3.5" fill="#ffa7a7" stroke="#111" stroke-width="1.1"/>
<circle cx="99.1" cy="918.6" r="3.2" fill="#ffffff" stroke="#111" stroke-width="1.1"/>
<circle cx="119.6" cy="918.6" r="3.0" fill="#ffe4e4" stroke="#111" stroke-width="1.1"/>
<circle cx="140.1" cy="918.6" r="3.0" fill="#ffffff" stroke="#111" stroke-width="1.1"/>
<circle cx="160.6" cy="918.6" r="3.0" fill="#ffc1c1" stroke="#111" stroke-width="1.1"/>
<circle cx="181.1" cy="918.6" r="4.0" fill="#ffd3d3" stroke="#111" stroke-width="1.1"/>
<circle cx="201.6" cy="918.6" r="3.5" fill="#ffb0b0" stroke="#111" stroke-width="1.1"/>
<circle cx="99.1" cy="926.9" r="2.5" fill="#ffffff" stroke="#111" stroke-width="1.1"/>
<circle cx="119.6" cy="926.9" r="3.5" fill="#ffe0e0" stroke="#111" stroke-width="1.1"/>
<circle cx="140.1" cy="926.9" r="2.5" fill="#ffe9e9" stroke="#111" stroke-width="1.1"/>
<circle cx="160.6" cy="926.9" r="2.2" fill="#ffffff" stroke="#111" stroke-width="1.1"/>
<circle cx="181.1" cy="926.9" r="3.5" fill="#ffd7d7" stroke="#111" stroke-width="1.1"/>
<circle cx="201.6" cy="926.9" r="3.2" fill="#ffb0b0" stroke="#111" stroke-width="1.1"/>
<circle cx="160.6" cy="935.2" r="3.0" fill="#ffffff" stroke="#111" stroke-width="1.1"/>
<circle cx="181.1" cy="935.2" r="1.2" fill="#111"/>
<circle cx="201.6" cy="935.2" r="1.2" fill="#111"/>
<circle cx="99.1" cy="943.6" r="4.5" fill="#fff6f6" stroke="#111" stroke-width="1.1"/>
<circle cx="119.6" cy="943.6" r="2.6" fill="#0000ff" stroke="#111" stroke-width="1.1"/>
<circle cx="140.1" cy="943.6" r="1.4" fill="#111"/>
<circle cx="160.6" cy="943.6" r="4.0" fill="#fff1f1" stroke="#111" stroke-width="1.1"/>
<circle cx="181.1" cy="943.6" r="1.2" fill="#111"/>
<circle cx="201.6" cy="943.6" r="3.5" fill="#ff8484" stroke="#111" stroke-width="1.1"/>
<circle cx="99.1" cy="951.9" r="3.8" fill="#e7e7ff" stroke="#111" stroke-width="1.1"/>
<circle cx="119.6" cy="951.9" r="2.2" fill="#ffffff" stroke="#111" stroke-width="1.1"/>
<circle cx="140.1" cy="951.9" r="2.5" fill="#ffffff" stroke="#111" stroke-width="1.1"/>
<circle cx="160.6" cy="951.9" r="2.2" fill="#ffb0b0" stroke="#111" stroke-width="1.1"/>
<circle cx="181.1" cy="951.9" r="3.5" fill="#ffd3d3" stroke="#111" stroke-width="1.1"/>
<circle cx="201.6" cy="951.9" r="3.5" fill="#ffb9b9" stroke="#111" stroke-width="1.1"/>
<circle cx="99.1" cy="960.2" r="3.2" fill="#ffffff" stroke="#111" stroke-width="1.1"/>
<circle cx="160.6" cy="960.2" r="4.8" fill="#ffffff" stroke="#111" stroke-width="1.1"/>
<circle cx="181.1" cy="960.2" r="4.8" fill="#ffffff" stroke="#111" stroke-width="1.1"/>
<circle cx="201.6" cy="960.2" r="3.8" fill="#f3f3ff" stroke="#111" stroke-width="1.1"/>
<circle cx="99.1" cy="968.5" r="3.2" fill="#e0e0ff" stroke="#111" stroke-width="1.1"/>
<circle cx="119.6" cy="968.5" r="4.0" fill="#ffffff" stroke="#111" stroke-width="1.1"/>
<circle cx="140.1" cy="968.5" r="2.5" fill="#ffffff" stroke="#111" stroke-width="1.1"/>
<circle cx="160.6" cy="968.5" r="2.5" fill="#d8d8ff" stroke="#111" stroke-width="1.1"/>
<circle cx="181.1" cy="968.5" r="2.5" fill="#d8d8ff" stroke="#111" stroke-width="1.1"/>
<circle cx="201.6" cy="968.5" r="2.0" fill="#ffffff" stroke="#111" stroke-width="1.1"/>
<circle cx="99.1" cy="976.9" r="3.5" fill="#e0e0ff" stroke="#111" stroke-width="1.1"/>
<circle cx="119.6" cy="976.9" r="2.5" fill="#ffffff" stroke="#111" stroke-width="1.1"/>
<circle cx="140.1" cy="976.9" r="2.5" fill="#ffffff" stroke="#111" stroke-width="1.1"/>
<circle cx="160.6" cy="976.9" r="2.8" fill="#e0e0ff" stroke="#111" stroke-width="1.1"/>
<circle cx="181.1" cy="976.9" r="3.2" fill="#e3e3ff" stroke="#111" stroke-width="1.1"/>
<circle cx="201.6" cy="976.9" r="3.5" fill="#efefff" stroke="#111" stroke-width="1.1"/>
<text x="101.6" y="987.5" font-size="8.0" text-anchor="end" textLength="28.4" lengthAdjust="spacingAndGlyphs" transform="rotate(-45 101.6 987.5)" fill="#222" stroke="#222" stroke-width="0.18">CODEX</text>
<text x="122.1" y="987.5" font-size="8.0" text-anchor="end" textLength="23.6" lengthAdjust="spacingAndGlyphs" transform="rotate(-45 122.1 987.5)" fill="#222" stroke="#222" stroke-width="0.18">ExSeq</text>
<text x="142.6" y="987.5" font-size="8.0" text-anchor="end" textLength="41.8" lengthAdjust="spacingAndGlyphs" transform="rotate(-45 142.6 987.5)" fill="#222" stroke="#222" stroke-width="0.18">ExSeq (bin)</text>
<text x="163.1" y="987.5" font-size="8.0" text-anchor="end" textLength="36.0" lengthAdjust="spacingAndGlyphs" transform="rotate(-45 163.1 987.5)" fill="#222" stroke="#222" stroke-width="0.18">MERFISH</text>
<text x="183.6" y="987.5" font-size="8.0" text-anchor="end" textLength="54.2" lengthAdjust="spacingAndGlyphs" transform="rotate(-45 183.6 987.5)" fill="#222" stroke="#222" stroke-width="0.18">MERFISH (bin)</text>
<text x="204.1" y="987.5" font-size="8.0" text-anchor="end" textLength="33.4" lengthAdjust="spacingAndGlyphs" transform="rotate(-45 204.1 987.5)" fill="#222" stroke="#222" stroke-width="0.18">Slide-seq</text>
<defs><linearGradient id="cbd" x1="0" y1="0" x2="0" y2="1"><stop offset="0" stop-color="#ff5a5a"/><stop offset="0.378" stop-color="#ffffff"/><stop offset="1" stop-color="#0000ff"/></linearGradient><linearGradient id="cbe" x1="0" y1="0" x2="1" y2="0"><stop offset="0" stop-color="#c8c8ff"/><stop offset="0.2" stop-color="#ffffff"/><stop offset="1" stop-color="#ff0000"/></linearGradient><linearGradient id="cdx" x1="0" y1="0" x2="1" y2="0"><stop offset="0" stop-color="#0018ff"/><stop offset="0.5" stop-color="#1060e0"/><stop offset="1" stop-color="#30e0a0"/></linearGradient></defs>
<rect x="232.1" y="820.8" width="14.9" height="74" fill="url(#cbd)" stroke="#888" stroke-width="0.5"/>
<line x1="232.1" y1="834.9" x2="234.5" y2="834.9" stroke="#fff" stroke-width="0.6"/><line x1="244.6" y1="834.9" x2="247" y2="834.9" stroke="#fff" stroke-width="0.6"/>
<text x="250.9" y="837.7" font-size="8.0" textLength="4.4" lengthAdjust="spacingAndGlyphs" fill="#333" stroke="#333" stroke-width="0.18">1</text>
<line x1="232.1" y1="848.8" x2="234.5" y2="848.8" stroke="#fff" stroke-width="0.6"/><line x1="244.6" y1="848.8" x2="247" y2="848.8" stroke="#fff" stroke-width="0.6"/>
<text x="250.9" y="851.6" font-size="8.0" textLength="4.4" lengthAdjust="spacingAndGlyphs" fill="#333" stroke="#333" stroke-width="0.18">0</text>
<line x1="232.1" y1="862.7" x2="234.5" y2="862.7" stroke="#fff" stroke-width="0.6"/><line x1="244.6" y1="862.7" x2="247" y2="862.7" stroke="#fff" stroke-width="0.6"/>
<text x="250.9" y="865.5" font-size="8.0" textLength="9.1" lengthAdjust="spacingAndGlyphs" fill="#333" stroke="#333" stroke-width="0.18">−1</text>
<line x1="232.1" y1="876.6" x2="234.5" y2="876.6" stroke="#fff" stroke-width="0.6"/><line x1="244.6" y1="876.6" x2="247" y2="876.6" stroke="#fff" stroke-width="0.6"/>
<text x="250.9" y="879.4" font-size="8.0" textLength="9.1" lengthAdjust="spacingAndGlyphs" fill="#333" stroke="#333" stroke-width="0.18">−2</text>
<line x1="232.1" y1="890.5" x2="234.5" y2="890.5" stroke="#fff" stroke-width="0.6"/><line x1="244.6" y1="890.5" x2="247" y2="890.5" stroke="#fff" stroke-width="0.6"/>
<text x="250.9" y="893.3" font-size="8.0" textLength="9.1" lengthAdjust="spacingAndGlyphs" fill="#333" stroke="#333" stroke-width="0.18">−3</text>
<text x="228.2" y="858.6" font-size="7.6" text-anchor="middle" textLength="79.6" lengthAdjust="spacingAndGlyphs" transform="rotate(-90 228.2 858.6)" fill="#222" stroke="#222" stroke-width="0.18">Co-localization strength</text>
<rect x="232.3" y="903.2" width="15.2" height="11.4" fill="#ececec" stroke="#dcdcdc" stroke-width="0.6"/>
<circle cx="239.9" cy="909.2" r="2.8" fill="#000"/>
<text x="250.9" y="912.1" font-size="8.0" textLength="13.3" lengthAdjust="spacingAndGlyphs" fill="#333" stroke="#333" stroke-width="0.18">100</text>
<rect x="232.3" y="916.7" width="15.2" height="12.5" fill="#ececec" stroke="#dcdcdc" stroke-width="0.6"/>
<circle cx="239.9" cy="923.0" r="3.6" fill="#000"/>
<text x="250.9" y="925.9" font-size="8.0" textLength="13.3" lengthAdjust="spacingAndGlyphs" fill="#333" stroke="#333" stroke-width="0.18">200</text>
<rect x="232.3" y="931.2" width="15.2" height="12.8" fill="#ececec" stroke="#dcdcdc" stroke-width="0.6"/>
<circle cx="239.9" cy="937.7" r="4.2" fill="#000"/>
<text x="250.9" y="940.6" font-size="8.0" textLength="13.3" lengthAdjust="spacingAndGlyphs" fill="#333" stroke="#333" stroke-width="0.18">300</text>
<rect x="232.3" y="946.4" width="15.2" height="13.8" fill="#ececec" stroke="#dcdcdc" stroke-width="0.6"/>
<circle cx="239.9" cy="953.4" r="4.8" fill="#000"/>
<text x="250.9" y="956.3" font-size="8.0" textLength="13.3" lengthAdjust="spacingAndGlyphs" fill="#333" stroke="#333" stroke-width="0.18">400</text>
<rect x="232.3" y="962.2" width="15.2" height="15.4" fill="#ececec" stroke="#dcdcdc" stroke-width="0.6"/>
<circle cx="239.9" cy="970.0" r="5.2" fill="#000"/>
<text x="250.9" y="972.9" font-size="8.0" textLength="13.3" lengthAdjust="spacingAndGlyphs" fill="#333" stroke="#333" stroke-width="0.18">500</text>
<text x="228.2" y="941.6" font-size="7.6" text-anchor="middle" textLength="70.8" lengthAdjust="spacingAndGlyphs" transform="rotate(-90 228.2 941.6)" fill="#222" stroke="#222" stroke-width="0.18">Co-localization range</text>
<text x="284.8" y="806.5" font-size="15.5" font-weight="bold" fill="#000" stroke="#000" stroke-width="0.7">e</text>
<text x="350.8" y="809.6" font-size="9.7" textLength="159.2" lengthAdjust="spacingAndGlyphs" fill="#222" stroke="#222" stroke-width="0.18">Macrophage co-localization with</text>
<text x="377.2" y="822" font-size="8.6" text-anchor="middle" textLength="62" lengthAdjust="spacingAndGlyphs" fill="#222" stroke="#222" stroke-width="0.18">Malignant cells</text>
<text x="483.0" y="822" font-size="8.6" text-anchor="middle" textLength="56.5" lengthAdjust="spacingAndGlyphs" fill="#222" stroke="#222" stroke-width="0.18">Macrophages</text>
<rect x="326.2" y="826.2" width="101.4" height="124" fill="none" stroke="#9a9a9a" stroke-width="1"/>
<rect x="431.9" y="826.2" width="101.9" height="124" fill="none" stroke="#9a9a9a" stroke-width="1"/>
<text x="320.3" y="834.2" font-size="8.0" text-anchor="end" textLength="36.8" lengthAdjust="spacingAndGlyphs" fill="#222" stroke="#222" stroke-width="0.18">997–7789</text>
<line x1="324.2" y1="831.4" x2="326.2" y2="831.4" stroke="#777" stroke-width="0.7"/>
<text x="320.3" y="842.3" font-size="8.0" text-anchor="end" textLength="36.8" lengthAdjust="spacingAndGlyphs" fill="#222" stroke="#222" stroke-width="0.18">982–7629</text>
<line x1="324.2" y1="839.5" x2="326.2" y2="839.5" stroke="#777" stroke-width="0.7"/>
<text x="320.3" y="850.5" font-size="8.0" text-anchor="end" textLength="36.8" lengthAdjust="spacingAndGlyphs" fill="#222" stroke="#222" stroke-width="0.18">944–7479</text>
<line x1="324.2" y1="847.7" x2="326.2" y2="847.7" stroke="#777" stroke-width="0.7"/>
<text x="320.3" y="858.6" font-size="8.0" text-anchor="end" textLength="36.8" lengthAdjust="spacingAndGlyphs" fill="#222" stroke="#222" stroke-width="0.18">917–4531</text>
<line x1="324.2" y1="855.8" x2="326.2" y2="855.8" stroke="#777" stroke-width="0.7"/>
<text x="320.3" y="866.7" font-size="8.0" text-anchor="end" textLength="36.8" lengthAdjust="spacingAndGlyphs" fill="#222" stroke="#222" stroke-width="0.18">895–7359</text>
<line x1="324.2" y1="863.9" x2="326.2" y2="863.9" stroke="#777" stroke-width="0.7"/>
<text x="320.3" y="874.8" font-size="8.0" text-anchor="end" textLength="36.8" lengthAdjust="spacingAndGlyphs" fill="#222" stroke="#222" stroke-width="0.18">880–7179</text>
<line x1="324.2" y1="872.0" x2="326.2" y2="872.0" stroke="#777" stroke-width="0.7"/>
<text x="320.3" y="883.0" font-size="8.0" text-anchor="end" textLength="36.8" lengthAdjust="spacingAndGlyphs" fill="#222" stroke="#222" stroke-width="0.18">878–7149</text>
<line x1="324.2" y1="880.2" x2="326.2" y2="880.2" stroke="#777" stroke-width="0.7"/>
<text x="320.3" y="891.1" font-size="8.0" text-anchor="end" textLength="36.8" lengthAdjust="spacingAndGlyphs" fill="#222" stroke="#222" stroke-width="0.18">853–4381</text>
<line x1="324.2" y1="888.3" x2="326.2" y2="888.3" stroke="#777" stroke-width="0.7"/>
<text x="320.3" y="899.2" font-size="8.0" text-anchor="end" textLength="36.8" lengthAdjust="spacingAndGlyphs" fill="#222" stroke="#222" stroke-width="0.18">812–8239</text>
<line x1="324.2" y1="896.4" x2="326.2" y2="896.4" stroke="#777" stroke-width="0.7"/>
<text x="320.3" y="907.4" font-size="8.0" text-anchor="end" textLength="36.8" lengthAdjust="spacingAndGlyphs" fill="#222" stroke="#222" stroke-width="0.18">783–4081</text>
<line x1="324.2" y1="904.6" x2="326.2" y2="904.6" stroke="#777" stroke-width="0.7"/>
<text x="320.3" y="915.5" font-size="8.0" text-anchor="end" textLength="36.8" lengthAdjust="spacingAndGlyphs" fill="#222" stroke="#222" stroke-width="0.18">514–6760</text>
<line x1="324.2" y1="912.7" x2="326.2" y2="912.7" stroke="#777" stroke-width="0.7"/>
<text x="320.3" y="923.6" font-size="8.0" text-anchor="end" textLength="36.8" lengthAdjust="spacingAndGlyphs" fill="#222" stroke="#222" stroke-width="0.18">364–1321</text>
<line x1="324.2" y1="920.8" x2="326.2" y2="920.8" stroke="#777" stroke-width="0.7"/>
<text x="320.3" y="931.8" font-size="8.0" text-anchor="end" textLength="36.8" lengthAdjust="spacingAndGlyphs" fill="#222" stroke="#222" stroke-width="0.18">330–1082</text>
<line x1="324.2" y1="929.0" x2="326.2" y2="929.0" stroke="#777" stroke-width="0.7"/>
<text x="320.3" y="939.9" font-size="8.0" text-anchor="end" textLength="32.2" lengthAdjust="spacingAndGlyphs" fill="#222" stroke="#222" stroke-width="0.18">313–932</text>
<line x1="324.2" y1="937.1" x2="326.2" y2="937.1" stroke="#777" stroke-width="0.7"/>
<text x="320.3" y="948.0" font-size="8.0" text-anchor="end" textLength="36.8" lengthAdjust="spacingAndGlyphs" fill="#222" stroke="#222" stroke-width="0.18">213–6752</text>
<line x1="324.2" y1="945.2" x2="326.2" y2="945.2" stroke="#777" stroke-width="0.7"/>
<line x1="335.8" y1="950.2" x2="335.8" y2="952.2" stroke="#777" stroke-width="0.7"/>
<text x="338.1" y="956.5" font-size="8.0" text-anchor="end" textLength="28.4" lengthAdjust="spacingAndGlyphs" transform="rotate(-45 338.1 956.5)" fill="#222" stroke="#222" stroke-width="0.18">CODEX</text>
<line x1="352.2" y1="950.2" x2="352.2" y2="952.2" stroke="#777" stroke-width="0.7"/>
<text x="354.6" y="956.5" font-size="8.0" text-anchor="end" textLength="23.6" lengthAdjust="spacingAndGlyphs" transform="rotate(-45 354.6 956.5)" fill="#222" stroke="#222" stroke-width="0.18">ExSeq</text>
<line x1="368.7" y1="950.2" x2="368.7" y2="952.2" stroke="#777" stroke-width="0.7"/>
<text x="371.0" y="956.5" font-size="8.0" text-anchor="end" textLength="41.8" lengthAdjust="spacingAndGlyphs" transform="rotate(-45 371.0 956.5)" fill="#222" stroke="#222" stroke-width="0.18">ExSeq (bin)</text>
<line x1="385.1" y1="950.2" x2="385.1" y2="952.2" stroke="#777" stroke-width="0.7"/>
<text x="387.4" y="956.5" font-size="8.0" text-anchor="end" textLength="36.0" lengthAdjust="spacingAndGlyphs" transform="rotate(-45 387.4 956.5)" fill="#222" stroke="#222" stroke-width="0.18">MERFISH</text>
<line x1="401.6" y1="950.2" x2="401.6" y2="952.2" stroke="#777" stroke-width="0.7"/>
<text x="403.9" y="956.5" font-size="8.0" text-anchor="end" textLength="54.2" lengthAdjust="spacingAndGlyphs" transform="rotate(-45 403.9 956.5)" fill="#222" stroke="#222" stroke-width="0.18">MERFISH (bin)</text>
<line x1="418.1" y1="950.2" x2="418.1" y2="952.2" stroke="#777" stroke-width="0.7"/>
<text x="420.4" y="956.5" font-size="8.0" text-anchor="end" textLength="33.4" lengthAdjust="spacingAndGlyphs" transform="rotate(-45 420.4 956.5)" fill="#222" stroke="#222" stroke-width="0.18">Slide-seq</text>
<line x1="441.4" y1="950.2" x2="441.4" y2="952.2" stroke="#777" stroke-width="0.7"/>
<text x="443.7" y="956.5" font-size="8.0" text-anchor="end" textLength="28.4" lengthAdjust="spacingAndGlyphs" transform="rotate(-45 443.7 956.5)" fill="#222" stroke="#222" stroke-width="0.18">CODEX</text>
<line x1="457.8" y1="950.2" x2="457.8" y2="952.2" stroke="#777" stroke-width="0.7"/>
<text x="460.1" y="956.5" font-size="8.0" text-anchor="end" textLength="23.6" lengthAdjust="spacingAndGlyphs" transform="rotate(-45 460.1 956.5)" fill="#222" stroke="#222" stroke-width="0.18">ExSeq</text>
<line x1="474.3" y1="950.2" x2="474.3" y2="952.2" stroke="#777" stroke-width="0.7"/>
<text x="476.6" y="956.5" font-size="8.0" text-anchor="end" textLength="41.8" lengthAdjust="spacingAndGlyphs" transform="rotate(-45 476.6 956.5)" fill="#222" stroke="#222" stroke-width="0.18">ExSeq (bin)</text>
<line x1="490.8" y1="950.2" x2="490.8" y2="952.2" stroke="#777" stroke-width="0.7"/>
<text x="493.1" y="956.5" font-size="8.0" text-anchor="end" textLength="36.0" lengthAdjust="spacingAndGlyphs" transform="rotate(-45 493.1 956.5)" fill="#222" stroke="#222" stroke-width="0.18">MERFISH</text>
<line x1="507.2" y1="950.2" x2="507.2" y2="952.2" stroke="#777" stroke-width="0.7"/>
<text x="509.5" y="956.5" font-size="8.0" text-anchor="end" textLength="54.2" lengthAdjust="spacingAndGlyphs" transform="rotate(-45 509.5 956.5)" fill="#222" stroke="#222" stroke-width="0.18">MERFISH (bin)</text>
<line x1="523.6" y1="950.2" x2="523.6" y2="952.2" stroke="#777" stroke-width="0.7"/>
<text x="525.9" y="956.5" font-size="8.0" text-anchor="end" textLength="33.4" lengthAdjust="spacingAndGlyphs" transform="rotate(-45 525.9 956.5)" fill="#222" stroke="#222" stroke-width="0.18">Slide-seq</text>
<circle cx="333.3" cy="831.4" r="3.0" fill="none" stroke="#1a9a1a" stroke-width="1.1"/>
<circle cx="337.3" cy="831.4" r="3.5" fill="#d4d6f6" stroke="#111" stroke-width="1.1"/>
<circle cx="416.1" cy="831.4" r="4.5" fill="#d4d6f6" stroke="#1a9a1a" stroke-width="1.1"/>
<circle cx="421.2" cy="831.4" r="2.5" fill="#fff" stroke="#111" stroke-width="1.1"/>
<circle cx="335.8" cy="839.5" r="1.8" fill="#fff" stroke="#111" stroke-width="1.1"/>
<circle cx="352.2" cy="839.5" r="2.0" fill="#fff" stroke="#111" stroke-width="1.1"/>
<circle cx="368.7" cy="839.5" r="1.2" fill="#111"/>
<circle cx="385.1" cy="839.5" r="3.5" fill="#c4c8f2" stroke="#111" stroke-width="1.1"/>
<circle cx="401.6" cy="839.5" r="3.6" fill="#c4c8f2" stroke="#111" stroke-width="1.1"/>
<circle cx="418.1" cy="839.5" r="2.5" fill="#fff" stroke="#111" stroke-width="1.1"/>
<circle cx="385.1" cy="847.7" r="4.0" fill="none" stroke="#1a9a1a" stroke-width="1.1"/>
<circle cx="401.6" cy="847.7" r="4.0" fill="none" stroke="#1a9a1a" stroke-width="1.1"/>
<circle cx="418.1" cy="847.7" r="1.2" fill="#1a9a1a"/>
<circle cx="332.2" cy="855.8" r="2.5" fill="none" stroke="#1a1aff" stroke-width="1.1"/>
<circle cx="336.4" cy="855.8" r="2.5" fill="#fff" stroke="#111" stroke-width="1.1"/>
<circle cx="350.1" cy="855.8" r="3.4" fill="none" stroke="#1a1aff" stroke-width="1.1"/>
<circle cx="353.9" cy="855.8" r="2.4" fill="#fff" stroke="#111" stroke-width="1.1"/>
<circle cx="365.7" cy="855.8" r="2.4" fill="none" stroke="#1a1aff" stroke-width="1.1"/>
<circle cx="369.7" cy="855.8" r="2.2" fill="#fff" stroke="#111" stroke-width="1.1"/>
<circle cx="382.6" cy="855.8" r="2.0" fill="none" stroke="#1a1aff" stroke-width="1.1"/>
<circle cx="386.1" cy="855.8" r="2.5" fill="#fff" stroke="#111" stroke-width="1.1"/>
<circle cx="398.6" cy="855.8" r="2.2" fill="none" stroke="#1a1aff" stroke-width="1.1"/>
<circle cx="402.6" cy="855.8" r="2.8" fill="#d4d6f6" stroke="#111" stroke-width="1.1"/>
<circle cx="414.1" cy="855.8" r="1.8" fill="none" stroke="#1a1aff" stroke-width="1.1"/>
<circle cx="419.1" cy="855.8" r="3.5" fill="#fff" stroke="#111" stroke-width="1.1"/>
<circle cx="352.2" cy="863.9" r="2.0" fill="#fff" stroke="#111" stroke-width="1.1"/>
<circle cx="418.1" cy="863.9" r="2.5" fill="#fff" stroke="#111" stroke-width="1.1"/>
<circle cx="335.8" cy="872.0" r="3.2" fill="#c4c8f2" stroke="#111" stroke-width="1.1"/>
<circle cx="352.2" cy="872.0" r="2.0" fill="#fff" stroke="#111" stroke-width="1.1"/>
<circle cx="368.7" cy="872.0" r="3.0" fill="#fff" stroke="#111" stroke-width="1.1"/>
<circle cx="385.1" cy="872.0" r="1.3" fill="#222"/>
<circle cx="401.6" cy="872.0" r="1.8" fill="#333" stroke="#111" stroke-width="1.1"/>
<circle cx="418.1" cy="872.0" r="3.2" fill="#d4d6f6" stroke="#111" stroke-width="1.1"/>
<circle cx="335.8" cy="880.2" r="2.8" fill="#c4c8f2" stroke="#111" stroke-width="1.1"/>
<circle cx="385.1" cy="880.2" r="1.8" fill="#eee" stroke="#111" stroke-width="1.1"/>
<circle cx="401.6" cy="880.2" r="1.2" fill="#111"/>
<circle cx="418.1" cy="880.2" r="3.0" fill="#fff" stroke="#111" stroke-width="1.1"/>
<circle cx="335.8" cy="888.3" r="1.5" fill="#d4d6f6" stroke="#111" stroke-width="1.1"/>
<circle cx="385.1" cy="888.3" r="2.0" fill="#d4d6f6" stroke="#111" stroke-width="1.1"/>
<circle cx="401.6" cy="888.3" r="1.8" fill="#444" stroke="#111" stroke-width="1.1"/>
<circle cx="418.1" cy="888.3" r="2.0" fill="#777" stroke="#111" stroke-width="1.1"/>
<circle cx="335.8" cy="896.4" r="2.5" fill="#d4d6f6" stroke="#111" stroke-width="1.1"/>
<circle cx="385.1" cy="896.4" r="2.5" fill="#d4d6f6" stroke="#111" stroke-width="1.1"/>
<circle cx="401.6" cy="896.4" r="2.2" fill="#d4d6f6" stroke="#111" stroke-width="1.1"/>
<circle cx="418.1" cy="896.4" r="2.5" fill="#fff" stroke="#111" stroke-width="1.1"/>
<circle cx="335.8" cy="904.6" r="4.2" fill="#fff" stroke="#111" stroke-width="1.1"/>
<circle cx="352.2" cy="904.6" r="1.8" fill="#fff" stroke="#111" stroke-width="1.1"/>
<circle cx="368.7" cy="904.6" r="1.8" fill="#fff" stroke="#111" stroke-width="1.1"/>
<circle cx="418.1" cy="904.6" r="2.5" fill="#fff" stroke="#111" stroke-width="1.1"/>
<circle cx="335.8" cy="912.7" r="1.8" fill="#d4d6f6" stroke="#111" stroke-width="1.1"/>
<circle cx="352.2" cy="912.7" r="1.8" fill="#fff" stroke="#111" stroke-width="1.1"/>
<circle cx="368.7" cy="912.7" r="1.8" fill="#fff" stroke="#111" stroke-width="1.1"/>
<circle cx="385.1" cy="912.7" r="1.5" fill="#c4c8f2" stroke="#111" stroke-width="1.1"/>
<circle cx="401.6" cy="912.7" r="1.5" fill="#c4c8f2" stroke="#111" stroke-width="1.1"/>
<circle cx="418.1" cy="912.7" r="1.5" fill="#d4d6f6" stroke="#111" stroke-width="1.1"/>
<circle cx="335.8" cy="920.8" r="4.2" fill="#fde6e6" stroke="#111" stroke-width="1.1"/>
<circle cx="352.2" cy="920.8" r="3.0" fill="#fff" stroke="#111" stroke-width="1.1"/>
<circle cx="368.7" cy="920.8" r="2.5" fill="#c4c8f2" stroke="#111" stroke-width="1.1"/>
<circle cx="418.1" cy="920.8" r="2.5" fill="#c4c8f2" stroke="#111" stroke-width="1.1"/>
<circle cx="335.8" cy="929.0" r="2.2" fill="#fff" stroke="#111" stroke-width="1.1"/>
<circle cx="352.2" cy="929.0" r="1.8" fill="#fff" stroke="#111" stroke-width="1.1"/>
<circle cx="368.7" cy="929.0" r="1.2" fill="#111"/>
<circle cx="418.1" cy="929.0" r="3.8" fill="#fff" stroke="#111" stroke-width="1.1"/>
<circle cx="335.8" cy="937.1" r="1.2" fill="#111"/>
<circle cx="352.2" cy="937.1" r="1.2" fill="#111"/>
<circle cx="368.7" cy="937.1" r="1.2" fill="#111"/>
<circle cx="385.1" cy="937.1" r="1.2" fill="#111"/>
<circle cx="401.6" cy="937.1" r="4.2" fill="#f4f4fe" stroke="#111" stroke-width="1.1"/>
<circle cx="418.1" cy="937.1" r="2.2" fill="#fff" stroke="#111" stroke-width="1.1"/>
<circle cx="335.8" cy="945.2" r="2.8" fill="#c4c8f2" stroke="#111" stroke-width="1.1"/>
<circle cx="418.1" cy="945.2" r="2.5" fill="#a8b0f2" stroke="#111" stroke-width="1.1"/>
<circle cx="441.4" cy="831.4" r="4.0" fill="#fcd2d2" stroke="#111" stroke-width="1.1"/>
<circle cx="523.6" cy="831.4" r="2.5" fill="#f48080" stroke="#111" stroke-width="1.1"/>
<circle cx="441.4" cy="839.5" r="2.0" fill="#fff0f0" stroke="#111" stroke-width="1.1"/>
<circle cx="457.8" cy="839.5" r="2.0" fill="#fff8f8" stroke="#111" stroke-width="1.1"/>
<circle cx="474.3" cy="839.5" r="1.2" fill="#111"/>
<circle cx="490.8" cy="839.5" r="4.0" fill="#fcd2d2" stroke="#111" stroke-width="1.1"/>
<circle cx="507.2" cy="839.5" r="4.0" fill="#fcd2d2" stroke="#111" stroke-width="1.1"/>
<circle cx="523.6" cy="839.5" r="2.8" fill="#f48080" stroke="#111" stroke-width="1.1"/>
<circle cx="490.8" cy="847.7" r="2.5" fill="#fff" stroke="#111" stroke-width="1.1"/>
<circle cx="507.2" cy="847.7" r="2.2" fill="#fff0f0" stroke="#111" stroke-width="1.1"/>
<circle cx="523.6" cy="847.7" r="1.2" fill="#111"/>
<circle cx="441.4" cy="855.8" r="3.5" fill="#fcd2d2" stroke="#111" stroke-width="1.1"/>
<circle cx="457.8" cy="855.8" r="2.2" fill="#fcd2d2" stroke="#111" stroke-width="1.1"/>
<circle cx="474.3" cy="855.8" r="2.2" fill="#fcd2d2" stroke="#111" stroke-width="1.1"/>
<circle cx="490.8" cy="855.8" r="3.5" fill="#f04848" stroke="#111" stroke-width="1.1"/>
<circle cx="507.2" cy="855.8" r="3.5" fill="#f04848" stroke="#111" stroke-width="1.1"/>
<circle cx="523.6" cy="855.8" r="2.8" fill="#f06060" stroke="#111" stroke-width="1.1"/>
<circle cx="457.8" cy="863.9" r="2.2" fill="#f48080" stroke="#111" stroke-width="1.1"/>
<circle cx="523.6" cy="863.9" r="2.5" fill="#f48080" stroke="#111" stroke-width="1.1"/>
<circle cx="441.4" cy="872.0" r="3.5" fill="#f7a8a8" stroke="#111" stroke-width="1.1"/>
<circle cx="457.8" cy="872.0" r="2.2" fill="#f48080" stroke="#111" stroke-width="1.1"/>
<circle cx="474.3" cy="872.0" r="2.2" fill="#fcd2d2" stroke="#111" stroke-width="1.1"/>
<circle cx="490.8" cy="872.0" r="1.2" fill="#111"/>
<circle cx="507.2" cy="872.0" r="2.0" fill="#f07070" stroke="#111" stroke-width="1.1"/>
<circle cx="523.6" cy="872.0" r="4.0" fill="#f00000" stroke="#111" stroke-width="1.1"/>
<circle cx="441.4" cy="880.2" r="3.2" fill="#fcd2d2" stroke="#111" stroke-width="1.1"/>
<circle cx="490.8" cy="880.2" r="4.2" fill="#fcd8d8" stroke="#111" stroke-width="1.1"/>
<circle cx="507.2" cy="880.2" r="2.8" fill="#fcd2d2" stroke="#111" stroke-width="1.1"/>
<circle cx="523.6" cy="880.2" r="2.5" fill="#fff4f4" stroke="#111" stroke-width="1.1"/>
<circle cx="441.4" cy="888.3" r="1.6" fill="#f4b0b0" stroke="#111" stroke-width="1.1"/>
<circle cx="490.8" cy="888.3" r="2.0" fill="#f07070" stroke="#111" stroke-width="1.1"/>
<circle cx="507.2" cy="888.3" r="1.8" fill="#e83030" stroke="#111" stroke-width="1.1"/>
<circle cx="523.6" cy="888.3" r="2.5" fill="#f03030" stroke="#111" stroke-width="1.1"/>
<circle cx="441.4" cy="896.4" r="2.2" fill="#fce0e0" stroke="#111" stroke-width="1.1"/>
<circle cx="490.8" cy="896.4" r="2.5" fill="#f7a8a8" stroke="#111" stroke-width="1.1"/>
<circle cx="507.2" cy="896.4" r="1.5" fill="#b04040" stroke="#111" stroke-width="1.1"/>
<circle cx="523.6" cy="896.4" r="2.5" fill="#fff0f0" stroke="#111" stroke-width="1.1"/>
<circle cx="441.4" cy="904.6" r="1.8" fill="#fff" stroke="#111" stroke-width="1.1"/>
<circle cx="457.8" cy="904.6" r="2.0" fill="#fff" stroke="#111" stroke-width="1.1"/>
<circle cx="474.3" cy="904.6" r="2.0" fill="#fff" stroke="#111" stroke-width="1.1"/>
<circle cx="523.6" cy="904.6" r="4.0" fill="#eef0fc" stroke="#111" stroke-width="1.1"/>
<circle cx="441.4" cy="912.7" r="2.5" fill="#fcd2d2" stroke="#111" stroke-width="1.1"/>
<circle cx="457.8" cy="912.7" r="1.8" fill="#f7a8a8" stroke="#111" stroke-width="1.1"/>
<circle cx="474.3" cy="912.7" r="1.8" fill="#fcd2d2" stroke="#111" stroke-width="1.1"/>
<circle cx="490.8" cy="912.7" r="2.0" fill="#f7a8a8" stroke="#111" stroke-width="1.1"/>
<circle cx="507.2" cy="912.7" r="2.0" fill="#f7a8a8" stroke="#111" stroke-width="1.1"/>
<circle cx="523.6" cy="912.7" r="1.8" fill="#f48080" stroke="#111" stroke-width="1.1"/>
<circle cx="441.4" cy="920.8" r="2.8" fill="#fcd2d2" stroke="#111" stroke-width="1.1"/>
<circle cx="457.8" cy="920.8" r="2.0" fill="#fcd2d2" stroke="#111" stroke-width="1.1"/>
<circle cx="474.3" cy="920.8" r="2.5" fill="#fcd2d2" stroke="#111" stroke-width="1.1"/>
<circle cx="523.6" cy="920.8" r="2.5" fill="#fff" stroke="#111" stroke-width="1.1"/>
<circle cx="441.4" cy="929.0" r="4.5" fill="#fde0e0" stroke="#111" stroke-width="1.1"/>
<circle cx="457.8" cy="929.0" r="2.2" fill="#fcd2d2" stroke="#111" stroke-width="1.1"/>
<circle cx="474.3" cy="929.0" r="1.8" fill="#fff4f4" stroke="#111" stroke-width="1.1"/>
<circle cx="523.6" cy="929.0" r="2.8" fill="#fff" stroke="#111" stroke-width="1.1"/>
<circle cx="441.4" cy="937.1" r="2.0" fill="#fff4f4" stroke="#111" stroke-width="1.1"/>
<circle cx="457.8" cy="937.1" r="2.8" fill="#fcd2d2" stroke="#111" stroke-width="1.1"/>
<circle cx="474.3" cy="937.1" r="2.0" fill="#fcd2d2" stroke="#111" stroke-width="1.1"/>
<circle cx="490.8" cy="937.1" r="2.0" fill="#fcd2d2" stroke="#111" stroke-width="1.1"/>
<circle cx="507.2" cy="937.1" r="4.2" fill="#fde8e8" stroke="#111" stroke-width="1.1"/>
<circle cx="523.6" cy="937.1" r="2.2" fill="#f7a8a8" stroke="#111" stroke-width="1.1"/>
<circle cx="441.4" cy="945.2" r="2.5" fill="#fff0f0" stroke="#111" stroke-width="1.1"/>
<circle cx="523.6" cy="945.2" r="3.8" fill="#f48080" stroke="#111" stroke-width="1.1"/>
<text x="302" y="1002.6" font-size="7.2" textLength="66" lengthAdjust="spacingAndGlyphs" fill="#222" stroke="#222" stroke-width="0.18">Malignant subtypes</text>
<circle cx="305.3" cy="1008.0" r="1.5" fill="#000"/>
<text x="309.8" y="1010.2" font-size="6.0" textLength="13.3" lengthAdjust="spacingAndGlyphs" fill="#333" stroke="#333" stroke-width="0.08">MBC</text>
<circle cx="305.3" cy="1014.2" r="1.5" fill="#119911"/>
<text x="309.8" y="1016.4" font-size="6.0" textLength="40.0" lengthAdjust="spacingAndGlyphs" fill="#333" stroke="#333" stroke-width="0.08">MBC_neuronal</text>
<circle cx="305.3" cy="1020.4" r="1.5" fill="#1515ee"/>
<text x="309.8" y="1022.6" font-size="6.0" textLength="40.7" lengthAdjust="spacingAndGlyphs" fill="#333" stroke="#333" stroke-width="0.08">MBC_stem-like</text>
<text x="373.2" y="1002.6" font-size="7.6" textLength="72" lengthAdjust="spacingAndGlyphs" fill="#222" stroke="#222" stroke-width="0.18">Co-localization range</text>
<rect x="374.2" y="1005.2" width="14.4" height="14.6" fill="#ececec" stroke="#dcdcdc" stroke-width="0.6"/>
<circle cx="381.4" cy="1012.5" r="5.0" fill="#000"/>
<text x="381.4" y="1028.6" font-size="7.2" text-anchor="middle" textLength="12.0" lengthAdjust="spacingAndGlyphs" fill="#333" stroke="#333" stroke-width="0.18">500</text>
<rect x="389.0" y="1005.2" width="14.4" height="14.6" fill="#ececec" stroke="#dcdcdc" stroke-width="0.6"/>
<circle cx="396.2" cy="1012.5" r="4.6" fill="#000"/>
<text x="396.2" y="1028.6" font-size="7.2" text-anchor="middle" textLength="12.0" lengthAdjust="spacingAndGlyphs" fill="#333" stroke="#333" stroke-width="0.18">400</text>
<rect x="403.8" y="1005.2" width="14.4" height="14.6" fill="#ececec" stroke="#dcdcdc" stroke-width="0.6"/>
<circle cx="411.0" cy="1012.5" r="4.1" fill="#000"/>
<text x="411.0" y="1028.6" font-size="7.2" text-anchor="middle" textLength="12.0" lengthAdjust="spacingAndGlyphs" fill="#333" stroke="#333" stroke-width="0.18">300</text>
<rect x="418.6" y="1005.2" width="14.4" height="14.6" fill="#ececec" stroke="#dcdcdc" stroke-width="0.6"/>
<circle cx="425.8" cy="1012.5" r="3.5" fill="#000"/>
<text x="425.8" y="1028.6" font-size="7.2" text-anchor="middle" textLength="12.0" lengthAdjust="spacingAndGlyphs" fill="#333" stroke="#333" stroke-width="0.18">200</text>
<rect x="433.4" y="1005.2" width="14.4" height="14.6" fill="#ececec" stroke="#dcdcdc" stroke-width="0.6"/>
<circle cx="440.6" cy="1012.5" r="2.7" fill="#000"/>
<text x="440.6" y="1028.6" font-size="7.2" text-anchor="middle" textLength="12.0" lengthAdjust="spacingAndGlyphs" fill="#333" stroke="#333" stroke-width="0.18">100</text>
<text x="451.7" y="1002.6" font-size="7.6" textLength="80.5" lengthAdjust="spacingAndGlyphs" fill="#222" stroke="#222" stroke-width="0.18">Co-localization strength</text>
<rect x="457.9" y="1005.5" width="73.2" height="14.5" fill="url(#cbe)" stroke="#888" stroke-width="0.5"/>
<text x="458.0" y="1028.6" font-size="7.2" text-anchor="middle" textLength="8.2" lengthAdjust="spacingAndGlyphs" fill="#333" stroke="#333" stroke-width="0.18">−1</text>
<text x="473.2" y="1028.6" font-size="7.2" text-anchor="middle" textLength="4.0" lengthAdjust="spacingAndGlyphs" fill="#333" stroke="#333" stroke-width="0.18">0</text>
<text x="488.5" y="1028.6" font-size="7.2" text-anchor="middle" textLength="4.0" lengthAdjust="spacingAndGlyphs" fill="#333" stroke="#333" stroke-width="0.18">1</text>
<text x="503.8" y="1028.6" font-size="7.2" text-anchor="middle" textLength="4.0" lengthAdjust="spacingAndGlyphs" fill="#333" stroke="#333" stroke-width="0.18">2</text>
<text x="519.0" y="1028.6" font-size="7.2" text-anchor="middle" textLength="4.0" lengthAdjust="spacingAndGlyphs" fill="#333" stroke="#333" stroke-width="0.18">3</text>
<defs><filter id="tdA" x="-15%" y="-15%" width="130%" height="130%"><feTurbulence type="fractalNoise" baseFrequency="1.5" numOctaves="1" seed="11" result="n"/><feColorMatrix in="n" type="matrix" values="0 0 0 0 0  0 0 0 0 0  0 0 0 0 0  0 0 0 -9 4.0" result="m"/><feComposite in="SourceGraphic" in2="m" operator="in"/></filter><filter id="tdB" x="-15%" y="-15%" width="130%" height="130%"><feTurbulence type="fractalNoise" baseFrequency="1.5" numOctaves="1" seed="12" result="n"/><feColorMatrix in="n" type="matrix" values="0 0 0 0 0  0 0 0 0 0  0 0 0 0 0  0 0 0 -9 4.8" result="m"/><feComposite in="SourceGraphic" in2="m" operator="in"/></filter><filter id="tdC" x="-15%" y="-15%" width="130%" height="130%"><feTurbulence type="fractalNoise" baseFrequency="1.5" numOctaves="1" seed="13" result="n"/><feColorMatrix in="n" type="matrix" values="0 0 0 0 0  0 0 0 0 0  0 0 0 0 0  0 0 0 -9 4.3" result="m"/><feComposite in="SourceGraphic" in2="m" operator="in"/></filter><filter id="bd" x="-15%" y="-15%" width="130%" height="130%"><feTurbulence type="fractalNoise" baseFrequency="1.9" numOctaves="1" seed="21" result="n"/><feColorMatrix in="n" type="matrix" values="0 0 0 0 0  0 0 0 0 0  0 0 0 0 0  0 0 0 -10 3.5" result="m"/><feComposite in="SourceGraphic" in2="m" operator="in"/></filter><filter id="pd" x="-15%" y="-15%" width="130%" height="130%"><feTurbulence type="fractalNoise" baseFrequency="0.7" numOctaves="1" seed="31" result="n"/><feColorMatrix in="n" type="matrix" values="0 0 0 0 0  0 0 0 0 0  0 0 0 0 0  0 0 0 -8 4.2" result="m"/><feComposite in="SourceGraphic" in2="m" operator="in"/></filter></defs>
<text x="553.6" y="808.6" font-size="15.5" font-weight="bold" fill="#000" stroke="#000" stroke-width="0.7">f</text>
<rect x="554.5" y="820" width="38" height="147" fill="#f6f6f8"/>
<path d="M554.5,967 L592.5,967 L592.5,894 L646,894 L646,1024 L554.5,1024 Z" fill="#f3f1f7"/>
<path d="M584.7,821 L590.3,821 L590.3,855.6 L589.1,877.8 L588,900 L585.8,922.3 L581.4,937.9 L572.5,955.7 L561.3,965.7 L554.2,965.7 L555.8,955.7 L560.2,937.9 L563.6,922.3 L566.9,900 L570.2,877.8 L571.4,855.6 L575.8,833.4 Z" fill="#6656b0" stroke="#9a70c0" stroke-width="0.8" />
<path d="M584.7,821 L590.3,821 L590.3,855.6 L589.1,877.8 L588,900 L585.8,922.3 L581.4,937.9 L572.5,955.7 L561.3,965.7 L554.2,965.7 L555.8,955.7 L560.2,937.9 L563.6,922.3 L566.9,900 L570.2,877.8 L571.4,855.6 L575.8,833.4 Z" fill="#b070c0" filter="url(#pd)" />
<path d="M584.7,821 L590.3,821 L590.3,855.6 L589.1,877.8 L588,900 L585.8,922.3 L581.4,937.9 L572.5,955.7 L561.3,965.7 L554.2,965.7 L555.8,955.7 L560.2,937.9 L563.6,922.3 L566.9,900 L570.2,877.8 L571.4,855.6 L575.8,833.4 Z" fill="#3edcc0" filter="url(#tdA)" />
<path d="M584.7,821 L590.3,821 L590.3,855.6 L589.1,877.8 L588,900 L585.8,922.3 L581.4,937.9 L572.5,955.7 L561.3,965.7 L554.2,965.7 L555.8,955.7 L560.2,937.9 L563.6,922.3 L566.9,900 L570.2,877.8 L571.4,855.6 L575.8,833.4 Z" fill="#1a22e6" filter="url(#bd)" />
<path d="M633.8,806.9 L634.4,811.8 L636.7,817.7 L640.7,823.6 L646.6,829.6 L650.5,833.5 L649.5,839.4 L650.5,849.3 L651.5,859.1 L653.5,869 L653.5,878.8 L652.5,888.7 L653.5,898.5 L654.5,908.4 L655.4,918.2 L656.7,933.6 L656.7,955.8 L655.6,978 L654.5,1000.4 L654.5,1022.6 L658,1022.6 L663.4,1000.4 L666.7,978 L668,955.8 L668,933.6 L668.2,918.2 L667.3,908.4 L665.3,898.5 L666.3,888.7 L667.3,878.8 L666.3,869 L663.3,859.1 L660.4,849.3 L656.4,839.4 L654.5,833.5 L656.4,829.6 L654.5,823.6 L651.5,817.7 L646.6,811.8 L642.6,806.9 Z" fill="#8468bc" stroke="#b078c0" stroke-width="0.8" />
<path d="M633.8,806.9 L634.4,811.8 L636.7,817.7 L640.7,823.6 L646.6,829.6 L650.5,833.5 L649.5,839.4 L650.5,849.3 L651.5,859.1 L653.5,869 L653.5,878.8 L652.5,888.7 L653.5,898.5 L654.5,908.4 L655.4,918.2 L656.7,933.6 L656.7,955.8 L655.6,978 L654.5,1000.4 L654.5,1022.6 L658,1022.6 L663.4,1000.4 L666.7,978 L668,955.8 L668,933.6 L668.2,918.2 L667.3,908.4 L665.3,898.5 L666.3,888.7 L667.3,878.8 L666.3,869 L663.3,859.1 L660.4,849.3 L656.4,839.4 L654.5,833.5 L656.4,829.6 L654.5,823.6 L651.5,817.7 L646.6,811.8 L642.6,806.9 Z" fill="#b070c0" filter="url(#pd)" />
<path d="M633.8,806.9 L634.4,811.8 L636.7,817.7 L640.7,823.6 L646.6,829.6 L650.5,833.5 L649.5,839.4 L650.5,849.3 L651.5,859.1 L653.5,869 L653.5,878.8 L652.5,888.7 L653.5,898.5 L654.5,908.4 L655.4,918.2 L656.7,933.6 L656.7,955.8 L655.6,978 L654.5,1000.4 L654.5,1022.6 L658,1022.6 L663.4,1000.4 L666.7,978 L668,955.8 L668,933.6 L668.2,918.2 L667.3,908.4 L665.3,898.5 L666.3,888.7 L667.3,878.8 L666.3,869 L663.3,859.1 L660.4,849.3 L656.4,839.4 L654.5,833.5 L656.4,829.6 L654.5,823.6 L651.5,817.7 L646.6,811.8 L642.6,806.9 Z" fill="#3edcc0" filter="url(#tdC)" />
<path d="M633.8,806.9 L634.4,811.8 L636.7,817.7 L640.7,823.6 L646.6,829.6 L650.5,833.5 L649.5,839.4 L650.5,849.3 L651.5,859.1 L653.5,869 L653.5,878.8 L652.5,888.7 L653.5,898.5 L654.5,908.4 L655.4,918.2 L656.7,933.6 L656.7,955.8 L655.6,978 L654.5,1000.4 L654.5,1022.6 L658,1022.6 L663.4,1000.4 L666.7,978 L668,955.8 L668,933.6 L668.2,918.2 L667.3,908.4 L665.3,898.5 L666.3,888.7 L667.3,878.8 L666.3,869 L663.3,859.1 L660.4,849.3 L656.4,839.4 L654.5,833.5 L656.4,829.6 L654.5,823.6 L651.5,817.7 L646.6,811.8 L642.6,806.9 Z" fill="#1a22e6" filter="url(#bd)" />
<path d="M640,898 C628,904 612,913 611,930 C611,945 624,955 624,968 C624,982 612,992 600,996" fill="none" stroke="#a868b8" stroke-width="20" stroke-linecap="round"/>
<path d="M556,998 a33,23.5 0 1,0 66,0 a33,23.5 0 1,0 -66,0 Z M575,999 a9.5,8 0 1,0 19,0 a9.5,8 0 1,0 -19,0 Z" fill="#a868b8" fill-rule="evenodd"/>
<g>
<g><path d="M640,898 C628,904 612,913 611,930 C611,945 624,955 624,968 C624,982 612,992 600,996" fill="none" stroke="#6a5cb6" stroke-width="18" stroke-linecap="round"/><path d="M557,998 a32,22.5 0 1,0 64,0 a32,22.5 0 1,0 -64,0 Z M574,999 a10.5,9 0 1,0 21,0 a10.5,9 0 1,0 -21,0 Z" fill="#6a5cb6" fill-rule="evenodd"/></g>
<g filter="url(#pd)"><path d="M640,898 C628,904 612,913 611,930 C611,945 624,955 624,968 C624,982 612,992 600,996" fill="none" stroke="#b070c0" stroke-width="18" stroke-linecap="round"/><path d="M557,998 a32,22.5 0 1,0 64,0 a32,22.5 0 1,0 -64,0 Z M574,999 a10.5,9 0 1,0 21,0 a10.5,9 0 1,0 -21,0 Z" fill="#b070c0" fill-rule="evenodd"/></g>
<g filter="url(#tdB)"><path d="M640,898 C628,904 612,913 611,930 C611,945 624,955 624,968 C624,982 612,992 600,996" fill="none" stroke="#3edcc0" stroke-width="18" stroke-linecap="round"/><path d="M557,998 a32,22.5 0 1,0 64,0 a32,22.5 0 1,0 -64,0 Z M574,999 a10.5,9 0 1,0 21,0 a10.5,9 0 1,0 -21,0 Z" fill="#3edcc0" fill-rule="evenodd"/></g>
<g filter="url(#bd)"><path d="M640,898 C628,904 612,913 611,930 C611,945 624,955 624,968 C624,982 612,992 600,996" fill="none" stroke="#1a22e6" stroke-width="18" stroke-linecap="round"/><path d="M557,998 a32,22.5 0 1,0 64,0 a32,22.5 0 1,0 -64,0 Z M574,999 a10.5,9 0 1,0 21,0 a10.5,9 0 1,0 -21,0 Z" fill="#1a22e6" fill-rule="evenodd"/></g>
</g>
<path d="M631.5,938 C636,940 641,946 641,953 C638,954 634,950 631.5,944 Z" fill="#c86aa0"/>
<path d="M641,987 C644,988 646,993 645.5,1000 C643,999 641,994 641,987 Z" fill="#c05a98"/>
<path d="M594,972 C598,970 602,972 603,976 C600,977 596,975 594,972 Z" fill="#b05a90"/>
<text x="648.5" y="806.7" font-size="6.6" textLength="25.7" lengthAdjust="spacingAndGlyphs" fill="#333" stroke="#333" stroke-width="0.18">313–932</text>
<text x="648.5" y="814.2" font-size="6.6" fill="#333" stroke="#333" stroke-width="0.18">74% CD163<tspan font-size="5" dy="-2.6">+</tspan></text>
<text x="593.0" y="829.4" font-size="6.6" textLength="29.4" lengthAdjust="spacingAndGlyphs" fill="#333" stroke="#333" stroke-width="0.18">917–4531</text>
<text x="593.0" y="837.4" font-size="6.6" fill="#333" stroke="#333" stroke-width="0.18">92% CD163<tspan font-size="5" dy="-2.6">+</tspan></text>
<text x="593.0" y="853.2" font-size="6.8" textLength="54.6" lengthAdjust="spacingAndGlyphs" fill="#333" stroke="#333" stroke-width="0.18">CD163 expression:</text>
<rect x="600.3" y="855.6" width="41" height="5.6" fill="url(#cdx)" stroke="#333" stroke-width="0.4"/>
<text x="599.0" y="869.6" font-size="6.6" textLength="12.1" lengthAdjust="spacingAndGlyphs" fill="#333" stroke="#333" stroke-width="0.18">Low</text>
<text x="627.2" y="869.6" font-size="6.6" textLength="13.6" lengthAdjust="spacingAndGlyphs" fill="#333" stroke="#333" stroke-width="0.18">High</text>
<rect x="612.7" y="872" width="12.8" height="2.2" fill="#000"/>
<text x="618.0" y="882.3" font-size="6.6" text-anchor="middle" textLength="22.1" lengthAdjust="spacingAndGlyphs" fill="#333" stroke="#333" stroke-width="0.18">500 µm</text>
<text x="593.8" y="893.6" font-size="6.6" textLength="29.4" lengthAdjust="spacingAndGlyphs" fill="#333" stroke="#333" stroke-width="0.18">514–6760</text>
<text x="593.8" y="901.3" font-size="6.6" fill="#333" stroke="#333" stroke-width="0.18">89% CD163<tspan font-size="5" dy="-2.6">+</tspan></text>
<text x="676.3" y="822.3" font-size="10" textLength="200" lengthAdjust="spacingAndGlyphs" transform="rotate(90 676.3 822.3)" fill="#222" stroke="#222" stroke-width="0.18">Macrophages in tissue context (MERFISH)</text>
</svg></body></html>
